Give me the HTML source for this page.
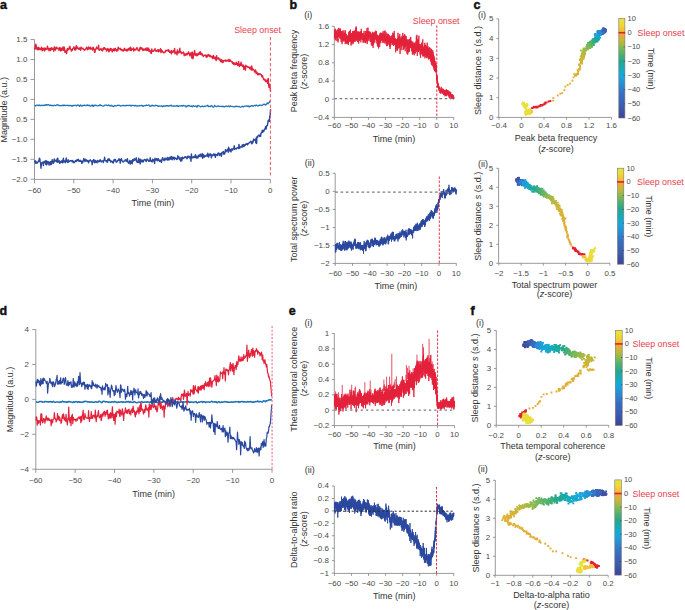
<!DOCTYPE html>
<html><head><meta charset="utf-8"><style>
html,body{margin:0;padding:0;background:#fff;}
svg{display:block;}
text{font-family:"Liberation Sans",sans-serif;}
</style></head><body>
<svg width="685" height="610" viewBox="0 0 685 610">
<rect width="685" height="610" fill="#fff"/>
<text x="0" y="9.2" font-size="12.5" fill="#111" font-weight="bold" stroke="#111" stroke-width="0.45">a</text>
<path d="M34.5 39.5V179.4" stroke="#808080" stroke-width="0.8" fill="none"/>
<path d="M30.5 39.55H34.5M30.5 59.5H34.5M30.5 79.45H34.5M30.5 99.4H34.5M30.5 119.35H34.5M30.5 139.3H34.5M30.5 159.25H34.5M30.5 179.2H34.5" stroke="#808080" stroke-width="0.8" fill="none"/>
<text x="27.4" y="41.95" font-size="7.5" fill="#4a4a4a" text-anchor="end" textLength="11.05" lengthAdjust="spacingAndGlyphs">1.5</text>
<text x="27.4" y="61.9" font-size="7.5" fill="#4a4a4a" text-anchor="end" textLength="11.05" lengthAdjust="spacingAndGlyphs">1.0</text>
<text x="27.4" y="81.85" font-size="7.5" fill="#4a4a4a" text-anchor="end" textLength="11.05" lengthAdjust="spacingAndGlyphs">0.5</text>
<text x="27.4" y="101.8" font-size="7.5" fill="#4a4a4a" text-anchor="end" textLength="4.42" lengthAdjust="spacingAndGlyphs">0</text>
<text x="27.4" y="121.75" font-size="7.5" fill="#4a4a4a" text-anchor="end" textLength="11.05" lengthAdjust="spacingAndGlyphs">0.5</text>
<text x="27.4" y="141.7" font-size="7.5" fill="#4a4a4a" text-anchor="end" textLength="15.69" lengthAdjust="spacingAndGlyphs">−1.0</text>
<text x="27.4" y="161.65" font-size="7.5" fill="#4a4a4a" text-anchor="end" textLength="15.69" lengthAdjust="spacingAndGlyphs">−1.5</text>
<text x="27.4" y="181.6" font-size="7.5" fill="#4a4a4a" text-anchor="end" textLength="15.69" lengthAdjust="spacingAndGlyphs">−2.0</text>
<path d="M34.5 179.4H270.6" stroke="#808080" stroke-width="0.8" fill="none"/>
<path d="M34.5 179.4V183.4M73.8 179.4V183.4M113.1 179.4V183.4M152.4 179.4V183.4M191.7 179.4V183.4M231 179.4V183.4M270.3 179.4V183.4" stroke="#808080" stroke-width="0.8" fill="none"/>
<text x="34.5" y="192.7" font-size="7.5" fill="#4a4a4a" text-anchor="middle" textLength="13.49" lengthAdjust="spacingAndGlyphs">−60</text>
<text x="73.8" y="192.7" font-size="7.5" fill="#4a4a4a" text-anchor="middle" textLength="13.49" lengthAdjust="spacingAndGlyphs">−50</text>
<text x="113.1" y="192.7" font-size="7.5" fill="#4a4a4a" text-anchor="middle" textLength="13.49" lengthAdjust="spacingAndGlyphs">−40</text>
<text x="152.4" y="192.7" font-size="7.5" fill="#4a4a4a" text-anchor="middle" textLength="13.49" lengthAdjust="spacingAndGlyphs">−30</text>
<text x="191.7" y="192.7" font-size="7.5" fill="#4a4a4a" text-anchor="middle" textLength="13.49" lengthAdjust="spacingAndGlyphs">−20</text>
<text x="231" y="192.7" font-size="7.5" fill="#4a4a4a" text-anchor="middle" textLength="13.49" lengthAdjust="spacingAndGlyphs">−10</text>
<text x="270.3" y="192.7" font-size="7.5" fill="#4a4a4a" text-anchor="middle" textLength="4.42" lengthAdjust="spacingAndGlyphs">0</text>
<text transform="translate(7.3,109.8) rotate(-90)" font-size="9" fill="#333" text-anchor="middle">Magnitude (a.u.)</text>
<text x="152.9" y="205.6" font-size="9" fill="#333" text-anchor="middle">Time (min)</text>
<path d="M34.60 105.3 35.10 105.6 35.60 105.9 36.10 105.5 36.60 105.1 37.10 105.1 37.60 105.3 38.10 105.4 38.60 105.5 39.10 105.0 39.60 105.2 40.10 105.7 40.60 105.5 41.10 105.5 41.60 105.2 42.10 105.3 42.60 105.6 43.10 105.5 43.60 105.2 44.10 105.5 44.60 105.3 45.10 104.7 45.60 105.1 46.10 105.3 46.60 104.7 47.10 104.7 47.60 105.0 48.10 104.9 48.60 104.7 49.10 105.0 49.60 105.6 50.10 105.5 50.60 105.1 51.10 105.3 51.60 105.6 52.10 105.5 52.60 105.4 53.10 105.8 53.60 105.6 54.10 105.1 54.60 105.3 55.10 105.5 55.60 105.7 56.10 105.3 56.60 104.9 57.10 105.0 57.60 104.7 58.10 105.0 58.60 105.5 59.10 105.3 59.60 105.5 60.10 105.9 60.60 105.7 61.10 105.6 61.60 105.7 62.10 105.3 62.60 105.2 63.10 105.7 63.60 105.1 64.10 105.1 64.60 105.4 65.10 105.5 65.60 105.5 66.10 105.3 66.60 105.5 67.10 105.3 67.60 105.3 68.10 105.5 68.60 105.5 69.10 105.4 69.60 105.6 70.10 105.8 70.60 105.5 71.10 105.5 71.60 105.9 72.10 106.2 72.60 105.5 73.10 105.3 73.60 105.8 74.10 105.5 74.60 105.2 75.10 105.5 75.60 105.4 76.10 105.3 76.60 105.9 77.10 105.4 77.60 105.0 78.10 105.1 78.60 105.2 79.10 105.9 79.60 106.3 80.10 105.5 80.60 104.9 81.10 105.5 81.60 106.0 82.10 106.0 82.60 105.4 83.10 105.4 83.60 105.5 84.10 105.4 84.60 105.2 85.10 105.4 85.60 105.6 86.10 105.5 86.60 105.4 87.10 105.1 87.60 105.0 88.10 105.7 88.60 105.7 89.10 105.1 89.60 105.5 90.10 106.0 90.60 106.1 91.10 106.0 91.60 105.4 92.10 105.0 92.60 105.5 93.10 106.5 93.60 105.9 94.10 105.1 94.60 105.5 95.10 105.5 95.60 105.2 96.10 105.4 96.60 105.5 97.10 105.8 97.60 105.8 98.10 105.8 98.60 105.6 99.10 105.5 99.60 105.1 100.10 104.6 100.60 105.4 101.10 105.6 101.60 105.5 102.10 105.8 102.60 106.0 103.10 106.1 103.60 106.0 104.10 105.8 104.60 105.3 105.10 105.2 105.60 105.2 106.10 105.1 106.60 105.1 107.10 105.4 107.60 105.6 108.10 105.5 108.60 105.0 109.10 105.1 109.60 105.6 110.10 105.9 110.60 106.0 111.10 105.5 111.60 105.2 112.10 105.9 112.60 106.3 113.10 106.2 113.60 106.6 114.10 105.9 114.60 105.5 115.10 105.8 115.60 105.8 116.10 105.9 116.60 105.8 117.10 105.7 117.60 105.3 118.10 105.2 118.60 105.4 119.10 105.4 119.60 105.5 120.10 105.6 120.60 106.0 121.10 105.9 121.60 105.8 122.10 105.7 122.60 105.5 123.10 105.5 123.60 105.4 124.10 105.6 124.60 105.7 125.10 105.8 125.60 105.4 126.10 105.5 126.60 105.6 127.10 105.3 127.60 105.4 128.10 105.4 128.60 105.6 129.10 105.6 129.60 105.2 130.10 105.2 130.60 105.7 131.10 106.0 131.60 105.4 132.10 105.4 132.60 105.3 133.10 105.7 133.60 105.7 134.10 105.4 134.60 105.9 135.10 105.4 135.60 105.4 136.10 106.0 136.60 106.0 137.10 105.8 137.60 106.0 138.10 105.9 138.60 105.8 139.10 105.7 139.60 105.8 140.10 105.6 140.60 105.6 141.10 105.7 141.60 105.3 142.10 105.5 142.60 106.2 143.10 106.3 143.60 105.8 144.10 105.7 144.60 105.7 145.10 105.5 145.60 105.7 146.10 105.1 146.60 105.2 147.10 105.5 147.60 105.3 148.10 105.2 148.60 105.0 149.10 105.1 149.60 105.7 150.10 106.3 150.60 106.1 151.10 106.0 151.60 105.9 152.10 105.2 152.60 105.3 153.10 105.9 153.60 105.7 154.10 105.7 154.60 106.0 155.10 105.7 155.60 105.2 156.10 105.3 156.60 105.6 157.10 105.6 157.60 105.9 158.10 106.4 158.60 106.1 159.10 105.8 159.60 106.2 160.10 106.2 160.60 106.2 161.10 106.0 161.60 105.9 162.10 106.5 162.60 106.5 163.10 105.9 163.60 105.8 164.10 106.3 164.60 106.2 165.10 105.8 165.60 106.1 166.10 105.9 166.60 105.7 167.10 106.0 167.60 105.6 168.10 105.9 168.60 106.2 169.10 105.7 169.60 105.7 170.10 105.9 170.60 105.3 171.10 105.2 171.60 105.8 172.10 106.1 172.60 106.1 173.10 106.0 173.60 106.0 174.10 106.0 174.60 106.1 175.10 106.2 175.60 106.0 176.10 106.1 176.60 105.8 177.10 105.5 177.60 106.1 178.10 106.4 178.60 106.0 179.10 106.0 179.60 105.9 180.10 105.9 180.60 105.9 181.10 105.9 181.60 105.6 182.10 105.9 182.60 106.2 183.10 105.5 183.60 105.5 184.10 105.8 184.60 105.9 185.10 105.8 185.60 105.8 186.10 107.0 186.60 106.6 187.10 105.8 187.60 106.0 188.10 106.0 188.60 105.6 189.10 105.3 189.60 105.9 190.10 106.1 190.60 106.4 191.10 106.3 191.60 105.9 192.10 106.8 192.60 106.6 193.10 105.7 193.60 105.8 194.10 106.1 194.60 106.3 195.10 106.3 195.60 105.9 196.10 106.0 196.60 106.8 197.10 107.1 197.60 105.7 198.10 105.4 198.60 105.9 199.10 106.1 199.60 106.2 200.10 106.6 200.60 106.8 201.10 106.6 201.60 106.4 202.10 106.2 202.60 106.2 203.10 106.6 203.60 106.6 204.10 106.2 204.60 106.4 205.10 106.5 205.60 106.2 206.10 106.0 206.60 105.8 207.10 105.9 207.60 105.3 208.10 105.8 208.60 106.6 209.10 106.3 209.60 106.4 210.10 106.6 210.60 106.4 211.10 105.7 211.60 105.6 212.10 106.3 212.60 106.8 213.10 107.1 213.60 107.1 214.10 106.3 214.60 105.4 215.10 105.9 215.60 106.4 216.10 106.5 216.60 106.5 217.10 106.3 217.60 106.0 218.10 106.0 218.60 106.3 219.10 106.3 219.60 106.5 220.10 106.4 220.60 106.4 221.10 106.4 221.60 106.5 222.10 106.6 222.60 106.3 223.10 106.1 223.60 106.6 224.10 106.8 224.60 106.6 225.10 106.7 225.60 106.3 226.10 106.0 226.60 106.2 227.10 106.5 227.60 106.6 228.10 106.2 228.60 105.9 229.10 106.2 229.60 106.8 230.10 106.2 230.60 106.0 231.10 106.4 231.60 106.4 232.10 106.4 232.60 106.4 233.10 106.9 233.60 106.9 234.10 106.7 234.60 106.7 235.10 106.4 235.60 106.4 236.10 106.6 236.60 106.2 237.10 106.3 237.60 106.4 238.10 106.6 238.60 106.7 239.10 106.4 239.60 106.8 240.10 107.1 240.60 107.1 241.10 107.0 241.60 106.7 242.10 106.4 242.60 106.4 243.10 106.7 243.60 106.8 244.10 106.2 244.60 106.2 245.10 106.2 245.60 106.2 246.10 106.2 246.60 105.9 247.10 106.1 247.60 106.4 248.10 105.9 248.60 106.1 249.10 107.0 249.60 106.4 250.10 106.2 250.60 106.4 251.10 105.8 251.60 105.9 252.10 105.6 252.60 105.9 253.10 106.3 253.60 105.8 254.10 105.6 254.60 105.3 255.10 105.3 255.60 105.8 256.10 105.4 256.60 105.1 257.10 105.5 257.60 105.8 258.10 106.1 258.60 105.6 259.10 105.1 259.60 105.3 260.10 105.3 260.60 105.0 261.10 105.3 261.60 105.7 262.10 105.4 262.60 104.9 263.10 104.9 263.60 104.4 264.10 104.1 264.60 104.3 265.10 104.8 265.60 105.1 266.10 104.5 266.60 104.0 267.10 103.0 267.60 103.0 268.10 103.8 268.60 103.1 269.10 102.5 269.60 102.0 270.10 100.5" stroke="#1f74b8" stroke-width="1.3" fill="none" stroke-linejoin="round"/>
<path d="M34.60 47.7 35.00 49.2 35.40 45.0 35.80 44.2 36.20 46.2 36.60 49.0 37.00 47.9 37.40 48.2 37.80 49.9 38.20 47.2 38.60 49.5 39.00 47.7 39.40 48.6 39.80 49.2 40.20 49.7 40.60 48.6 41.00 49.3 41.40 47.1 41.80 48.2 42.20 50.9 42.60 49.4 43.00 48.3 43.40 49.2 43.80 49.9 44.20 48.0 44.60 51.0 45.00 48.5 45.40 48.2 45.80 49.5 46.20 49.4 46.60 49.2 47.00 48.8 47.40 46.1 47.80 48.3 48.20 49.5 48.60 48.4 49.00 50.7 49.40 48.4 49.80 49.5 50.20 48.1 50.60 50.6 51.00 48.8 51.40 49.5 51.80 47.7 52.20 48.4 52.60 49.4 53.00 49.0 53.40 48.9 53.80 51.2 54.20 47.2 54.60 46.9 55.00 48.2 55.40 50.2 55.80 48.6 56.20 47.9 56.60 47.2 57.00 48.6 57.40 48.5 57.80 48.3 58.20 48.6 58.60 48.2 59.00 50.3 59.40 48.5 59.80 47.4 60.20 48.4 60.60 50.8 61.00 48.3 61.40 48.6 61.80 50.4 62.20 48.2 62.60 49.6 63.00 47.0 63.40 50.3 63.80 47.7 64.20 47.1 64.60 48.8 65.00 52.4 65.40 51.9 65.80 50.9 66.20 52.0 66.60 53.6 67.00 50.2 67.40 48.4 67.80 50.2 68.20 48.9 68.60 48.8 69.00 49.2 69.40 46.9 69.80 46.3 70.20 48.4 70.60 49.0 71.00 49.5 71.40 51.1 71.80 49.8 72.20 50.5 72.60 48.6 73.00 48.6 73.40 48.4 73.80 47.0 74.20 47.2 74.60 49.8 75.00 48.5 75.40 50.1 75.80 49.3 76.20 45.6 76.60 48.9 77.00 48.5 77.40 47.0 77.80 48.2 78.20 48.5 78.60 48.8 79.00 49.5 79.40 47.9 79.80 48.5 80.20 48.6 80.60 50.2 81.00 47.2 81.40 47.4 81.80 48.5 82.20 48.8 82.60 48.7 83.00 48.3 83.40 49.3 83.80 49.3 84.20 49.9 84.60 50.2 85.00 49.9 85.40 49.4 85.80 48.6 86.20 48.5 86.60 47.2 87.00 47.9 87.40 49.7 87.80 49.7 88.20 48.7 88.60 47.0 89.00 47.3 89.40 48.8 89.80 48.6 90.20 49.2 90.60 47.3 91.00 48.1 91.40 49.1 91.80 48.8 92.20 48.7 92.60 50.0 93.00 47.2 93.40 47.6 93.80 48.9 94.20 49.5 94.60 52.4 95.00 52.1 95.40 49.1 95.80 49.1 96.20 48.5 96.60 47.0 97.00 48.7 97.40 48.3 97.80 48.5 98.20 47.7 98.60 45.3 99.00 50.2 99.40 50.0 99.80 50.2 100.20 49.1 100.60 49.3 101.00 48.5 101.40 49.7 101.80 50.5 102.20 50.1 102.60 50.9 103.00 48.4 103.40 49.3 103.80 47.6 104.20 48.7 104.60 47.6 105.00 49.2 105.40 49.0 105.80 48.7 106.20 49.4 106.60 51.0 107.00 50.4 107.40 49.7 107.80 48.4 108.20 49.3 108.60 50.8 109.00 51.9 109.40 49.1 109.80 50.6 110.20 50.5 110.60 48.4 111.00 48.6 111.40 49.8 111.80 49.3 112.20 52.0 112.60 49.7 113.00 50.3 113.40 49.8 113.80 48.6 114.20 51.0 114.60 50.1 115.00 49.3 115.40 48.3 115.80 50.0 116.20 50.6 116.60 50.0 117.00 51.2 117.40 49.3 117.80 50.6 118.20 47.1 118.60 48.7 119.00 48.3 119.40 49.0 119.80 48.5 120.20 48.3 120.60 49.8 121.00 49.4 121.40 49.7 121.80 49.4 122.20 50.7 122.60 50.0 123.00 50.5 123.40 51.1 123.80 49.5 124.20 49.0 124.60 48.3 125.00 50.2 125.40 49.7 125.80 50.5 126.20 49.4 126.60 49.9 127.00 51.0 127.40 49.2 127.80 50.7 128.20 49.7 128.60 48.6 129.00 49.0 129.40 47.9 129.80 50.1 130.20 50.2 130.60 47.2 131.00 49.3 131.40 50.6 131.80 49.0 132.20 49.3 132.60 49.5 133.00 48.8 133.40 48.0 133.80 51.0 134.20 50.0 134.60 49.3 135.00 49.1 135.40 50.1 135.80 50.1 136.20 49.0 136.60 48.7 137.00 47.5 137.40 48.6 137.80 49.2 138.20 50.6 138.60 50.7 139.00 50.5 139.40 50.8 139.80 47.9 140.20 48.7 140.60 47.3 141.00 49.0 141.40 47.9 141.80 48.0 142.20 48.6 142.60 49.9 143.00 50.5 143.40 49.0 143.80 50.1 144.20 49.3 144.60 49.8 145.00 50.1 145.40 48.4 145.80 49.8 146.20 49.9 146.60 50.5 147.00 47.7 147.40 50.4 147.80 49.9 148.20 50.0 148.60 48.1 149.00 51.3 149.40 49.8 149.80 50.8 150.20 51.3 150.60 52.8 151.00 51.0 151.40 53.4 151.80 49.0 152.20 50.7 152.60 51.3 153.00 51.3 153.40 51.2 153.80 50.7 154.20 50.0 154.60 50.3 155.00 48.6 155.40 50.6 155.80 51.1 156.20 50.7 156.60 51.4 157.00 51.4 157.40 49.9 157.80 50.7 158.20 49.7 158.60 51.8 159.00 50.0 159.40 50.6 159.80 51.0 160.20 51.0 160.60 48.7 161.00 52.6 161.40 50.0 161.80 51.3 162.20 50.8 162.60 52.0 163.00 51.9 163.40 52.2 163.80 52.8 164.20 52.8 164.60 52.3 165.00 52.2 165.40 51.2 165.80 50.3 166.20 50.8 166.60 50.4 167.00 50.8 167.40 50.6 167.80 50.6 168.20 49.6 168.60 51.3 169.00 50.2 169.40 51.8 169.80 52.4 170.20 52.4 170.60 51.3 171.00 52.0 171.40 53.8 171.80 50.4 172.20 52.4 172.60 52.0 173.00 52.2 173.40 51.6 173.80 50.4 174.20 51.9 174.60 48.5 175.00 53.7 175.40 53.3 175.80 52.1 176.20 52.3 176.60 52.4 177.00 54.9 177.40 50.0 177.80 51.7 178.20 52.2 178.60 53.0 179.00 52.3 179.40 51.3 179.80 48.3 180.20 52.2 180.60 52.3 181.00 51.8 181.40 53.6 181.80 53.4 182.20 53.1 182.60 52.7 183.00 52.8 183.40 52.0 183.80 52.9 184.20 55.7 184.60 54.4 185.00 53.9 185.40 54.2 185.80 55.2 186.20 54.4 186.60 53.5 187.00 54.9 187.40 54.2 187.80 53.6 188.20 52.7 188.60 51.8 189.00 53.8 189.40 53.7 189.80 55.8 190.20 53.3 190.60 54.8 191.00 52.9 191.40 55.6 191.80 58.0 192.20 52.0 192.60 53.6 193.00 58.7 193.40 56.5 193.80 54.7 194.20 53.3 194.60 50.5 195.00 53.1 195.40 55.3 195.80 54.2 196.20 53.7 196.60 55.0 197.00 55.9 197.40 53.9 197.80 55.3 198.20 53.8 198.60 54.3 199.00 52.7 199.40 53.4 199.80 54.3 200.20 51.7 200.60 54.4 201.00 53.3 201.40 54.8 201.80 53.3 202.20 54.2 202.60 55.1 203.00 56.1 203.40 56.4 203.80 55.5 204.20 55.2 204.60 55.3 205.00 55.6 205.40 55.5 205.80 55.1 206.20 57.2 206.60 56.3 207.00 57.1 207.40 55.2 207.80 56.2 208.20 54.5 208.60 55.1 209.00 55.8 209.40 55.2 209.80 56.5 210.20 55.5 210.60 56.8 211.00 56.8 211.40 56.8 211.80 56.2 212.20 57.5 212.60 58.5 213.00 58.4 213.40 55.5 213.80 58.1 214.20 57.8 214.60 58.4 215.00 57.0 215.40 59.3 215.80 58.6 216.20 60.5 216.60 55.6 217.00 58.0 217.40 58.1 217.80 59.1 218.20 58.9 218.60 57.7 219.00 58.5 219.40 59.9 219.80 59.5 220.20 59.3 220.60 61.6 221.00 60.8 221.40 59.6 221.80 60.5 222.20 62.6 222.60 60.4 223.00 62.3 223.40 61.9 223.80 60.8 224.20 60.4 224.60 60.5 225.00 60.6 225.40 61.0 225.80 60.0 226.20 60.8 226.60 61.0 227.00 60.5 227.40 60.7 227.80 60.3 228.20 61.2 228.60 61.0 229.00 59.1 229.40 61.5 229.80 60.8 230.20 60.1 230.60 60.6 231.00 61.4 231.40 61.8 231.80 61.7 232.20 61.8 232.60 63.4 233.00 62.6 233.40 64.2 233.80 62.7 234.20 64.1 234.60 63.5 235.00 64.9 235.40 64.1 235.80 64.1 236.20 62.2 236.60 64.3 237.00 63.7 237.40 64.9 237.80 65.4 238.20 63.2 238.60 61.4 239.00 64.9 239.40 66.5 239.80 65.5 240.20 64.1 240.60 65.4 241.00 62.3 241.40 63.4 241.80 65.6 242.20 65.5 242.60 66.4 243.00 65.0 243.40 65.6 243.80 69.4 244.20 66.2 244.60 66.6 245.00 66.7 245.40 70.1 245.80 65.3 246.20 66.6 246.60 66.3 247.00 66.6 247.40 66.4 247.80 67.1 248.20 67.4 248.60 66.9 249.00 67.1 249.40 67.7 249.80 68.9 250.20 68.0 250.60 67.3 251.00 69.5 251.40 66.6 251.80 66.0 252.20 70.4 252.60 69.2 253.00 68.9 253.40 69.7 253.80 69.9 254.20 70.3 254.60 72.0 255.00 70.7 255.40 70.1 255.80 70.6 256.20 73.6 256.60 72.1 257.00 72.4 257.40 73.5 257.80 74.8 258.20 73.5 258.60 74.7 259.00 73.6 259.40 73.9 259.80 74.4 260.20 73.9 260.60 74.6 261.00 74.6 261.40 74.9 261.80 76.5 262.20 76.9 262.60 75.8 263.00 77.4 263.40 78.6 263.80 79.7 264.20 79.3 264.60 80.1 265.00 79.3 265.40 81.0 265.80 81.6 266.20 81.2 266.60 81.2 267.00 79.9 267.40 82.9 267.80 83.3 268.20 78.4 268.60 84.4 269.00 87.3 269.40 84.3 269.80 87.0 270.20 88.0 270.60 91.7" stroke="#e3213b" stroke-width="1.4" fill="none" stroke-linejoin="round"/>
<path d="M34.60 162.0 35.00 160.6 35.40 163.2 35.80 161.2 36.20 162.0 36.60 163.2 37.00 162.6 37.40 162.9 37.80 162.1 38.20 161.7 38.60 160.7 39.00 161.2 39.40 158.1 39.80 158.7 40.20 161.9 40.60 163.4 41.00 168.2 41.40 164.1 41.80 163.0 42.20 162.6 42.60 162.2 43.00 162.4 43.40 165.5 43.80 161.7 44.20 161.8 44.60 162.4 45.00 161.1 45.40 160.9 45.80 164.4 46.20 160.6 46.60 164.7 47.00 164.2 47.40 161.4 47.80 163.0 48.20 162.0 48.60 161.8 49.00 165.0 49.40 163.2 49.80 162.7 50.20 161.8 50.60 164.7 51.00 161.7 51.40 164.4 51.80 162.2 52.20 159.6 52.60 162.4 53.00 163.0 53.40 163.3 53.80 161.9 54.20 158.9 54.60 161.8 55.00 160.5 55.40 160.2 55.80 160.6 56.20 160.6 56.60 161.8 57.00 159.0 57.40 162.2 57.80 158.1 58.20 162.0 58.60 161.3 59.00 161.9 59.40 160.8 59.80 163.3 60.20 161.5 60.60 162.5 61.00 162.3 61.40 161.6 61.80 160.7 62.20 160.8 62.60 162.9 63.00 160.1 63.40 158.3 63.80 162.1 64.20 161.8 64.60 161.1 65.00 160.8 65.40 162.7 65.80 160.5 66.20 158.0 66.60 161.5 67.00 161.6 67.40 161.4 67.80 162.6 68.20 159.6 68.60 162.0 69.00 160.8 69.40 161.4 69.80 161.0 70.20 160.8 70.60 160.8 71.00 160.5 71.40 160.8 71.80 161.1 72.20 162.0 72.60 160.4 73.00 161.2 73.40 161.6 73.80 162.8 74.20 162.6 74.60 162.2 75.00 161.6 75.40 160.4 75.80 161.0 76.20 161.4 76.60 161.0 77.00 159.8 77.40 160.6 77.80 159.8 78.20 159.3 78.60 159.7 79.00 161.3 79.40 160.7 79.80 161.3 80.20 161.2 80.60 160.3 81.00 161.4 81.40 161.5 81.80 163.3 82.20 161.1 82.60 162.8 83.00 161.2 83.40 160.7 83.80 158.4 84.20 160.9 84.60 160.3 85.00 161.5 85.40 159.3 85.80 160.5 86.20 159.9 86.60 160.5 87.00 161.5 87.40 160.7 87.80 160.4 88.20 160.7 88.60 162.8 89.00 161.1 89.40 160.9 89.80 160.5 90.20 159.7 90.60 160.7 91.00 161.1 91.40 160.9 91.80 161.8 92.20 164.6 92.60 160.9 93.00 160.5 93.40 161.7 93.80 159.4 94.20 161.7 94.60 162.8 95.00 162.6 95.40 160.4 95.80 161.5 96.20 162.2 96.60 161.6 97.00 162.8 97.40 160.4 97.80 161.1 98.20 161.2 98.60 161.9 99.00 161.0 99.40 160.6 99.80 161.6 100.20 159.8 100.60 160.7 101.00 161.0 101.40 161.9 101.80 161.0 102.20 161.0 102.60 161.0 103.00 160.8 103.40 162.5 103.80 160.1 104.20 160.1 104.60 157.3 105.00 159.7 105.40 160.6 105.80 160.8 106.20 161.4 106.60 160.7 107.00 161.8 107.40 162.3 107.80 159.2 108.20 159.8 108.60 160.5 109.00 158.6 109.40 159.4 109.80 160.5 110.20 160.3 110.60 162.1 111.00 161.0 111.40 161.7 111.80 161.1 112.20 161.3 112.60 162.5 113.00 161.7 113.40 163.0 113.80 160.7 114.20 159.5 114.60 160.7 115.00 159.4 115.40 159.5 115.80 161.3 116.20 162.1 116.60 161.4 117.00 162.0 117.40 161.0 117.80 160.3 118.20 160.5 118.60 160.2 119.00 158.7 119.40 160.2 119.80 159.6 120.20 163.2 120.60 160.6 121.00 159.7 121.40 158.6 121.80 160.4 122.20 160.9 122.60 161.6 123.00 161.8 123.40 161.9 123.80 161.2 124.20 161.3 124.60 161.0 125.00 160.2 125.40 159.8 125.80 160.3 126.20 161.1 126.60 159.9 127.00 161.5 127.40 158.8 127.80 161.0 128.20 162.6 128.60 163.2 129.00 162.8 129.40 162.0 129.80 160.5 130.20 164.1 130.60 161.3 131.00 162.7 131.40 163.0 131.80 160.7 132.20 163.7 132.60 159.7 133.00 161.4 133.40 160.3 133.80 159.1 134.20 160.1 134.60 158.8 135.00 160.2 135.40 159.8 135.80 159.9 136.20 157.8 136.60 161.8 137.00 161.9 137.40 162.4 137.80 161.0 138.20 162.3 138.60 158.1 139.00 162.5 139.40 161.8 139.80 159.7 140.20 163.9 140.60 159.3 141.00 161.4 141.40 160.2 141.80 161.3 142.20 162.1 142.60 160.1 143.00 160.7 143.40 161.9 143.80 160.4 144.20 159.7 144.60 159.4 145.00 159.8 145.40 159.7 145.80 160.6 146.20 161.5 146.60 160.6 147.00 158.9 147.40 159.6 147.80 159.7 148.20 160.1 148.60 161.1 149.00 161.4 149.40 161.3 149.80 160.5 150.20 157.8 150.60 160.9 151.00 161.2 151.40 161.3 151.80 160.8 152.20 162.0 152.60 159.1 153.00 160.8 153.40 160.5 153.80 161.2 154.20 159.5 154.60 163.5 155.00 158.3 155.40 159.4 155.80 160.1 156.20 160.0 156.60 158.6 157.00 158.7 157.40 160.8 157.80 159.3 158.20 159.9 158.60 158.8 159.00 160.4 159.40 161.2 159.80 161.5 160.20 160.2 160.60 160.1 161.00 160.4 161.40 162.3 161.80 160.4 162.20 158.8 162.60 157.6 163.00 159.1 163.40 159.9 163.80 159.6 164.20 160.7 164.60 158.9 165.00 157.9 165.40 159.2 165.80 159.9 166.20 159.0 166.60 159.6 167.00 159.4 167.40 157.4 167.80 160.1 168.20 157.6 168.60 159.7 169.00 159.8 169.40 159.7 169.80 157.5 170.20 157.0 170.60 158.9 171.00 159.2 171.40 156.8 171.80 156.5 172.20 159.7 172.60 157.8 173.00 158.3 173.40 157.2 173.80 157.7 174.20 159.7 174.60 157.5 175.00 157.8 175.40 158.0 175.80 158.7 176.20 158.4 176.60 159.5 177.00 158.4 177.40 159.1 177.80 155.8 178.20 157.7 178.60 156.7 179.00 157.0 179.40 159.2 179.80 158.9 180.20 159.7 180.60 161.1 181.00 157.4 181.40 158.9 181.80 160.9 182.20 158.2 182.60 157.1 183.00 158.5 183.40 158.3 183.80 158.2 184.20 157.8 184.60 157.4 185.00 156.7 185.40 157.2 185.80 157.6 186.20 157.0 186.60 157.5 187.00 158.9 187.40 157.4 187.80 156.2 188.20 157.3 188.60 156.3 189.00 156.7 189.40 157.1 189.80 156.6 190.20 158.5 190.60 158.1 191.00 161.2 191.40 153.9 191.80 157.6 192.20 157.0 192.60 157.1 193.00 157.9 193.40 156.8 193.80 157.3 194.20 156.5 194.60 157.6 195.00 156.8 195.40 154.6 195.80 156.7 196.20 157.8 196.60 158.1 197.00 156.2 197.40 157.5 197.80 158.1 198.20 156.9 198.60 155.2 199.00 155.4 199.40 156.3 199.80 155.1 200.20 154.2 200.60 154.9 201.00 156.7 201.40 155.6 201.80 155.2 202.20 153.5 202.60 158.3 203.00 154.7 203.40 155.1 203.80 154.7 204.20 157.3 204.60 156.2 205.00 156.3 205.40 155.8 205.80 156.3 206.20 155.7 206.60 155.7 207.00 154.6 207.40 156.0 207.80 153.2 208.20 156.6 208.60 157.1 209.00 155.8 209.40 154.5 209.80 154.3 210.20 153.8 210.60 155.3 211.00 154.5 211.40 157.9 211.80 155.1 212.20 155.0 212.60 155.2 213.00 155.6 213.40 154.6 213.80 153.8 214.20 154.3 214.60 155.5 215.00 155.0 215.40 157.3 215.80 154.3 216.20 155.0 216.60 154.8 217.00 154.7 217.40 155.5 217.80 153.7 218.20 152.9 218.60 153.1 219.00 153.4 219.40 155.6 219.80 154.4 220.20 153.8 220.60 154.5 221.00 153.1 221.40 156.4 221.80 154.7 222.20 152.1 222.60 152.5 223.00 152.2 223.40 151.6 223.80 154.2 224.20 152.6 224.60 154.1 225.00 152.7 225.40 149.8 225.80 150.9 226.20 151.6 226.60 150.6 227.00 150.4 227.40 149.2 227.80 150.4 228.20 152.2 228.60 147.3 229.00 151.0 229.40 149.7 229.80 149.0 230.20 150.9 230.60 151.2 231.00 151.9 231.40 149.2 231.80 148.9 232.20 149.2 232.60 150.2 233.00 148.8 233.40 148.7 233.80 148.5 234.20 145.8 234.60 149.4 235.00 148.4 235.40 148.4 235.80 148.6 236.20 149.0 236.60 148.5 237.00 147.8 237.40 147.7 237.80 147.6 238.20 147.8 238.60 148.6 239.00 144.4 239.40 147.9 239.80 148.2 240.20 147.0 240.60 146.7 241.00 147.1 241.40 147.1 241.80 147.1 242.20 144.9 242.60 146.7 243.00 145.5 243.40 144.5 243.80 146.5 244.20 144.9 244.60 145.8 245.00 144.7 245.40 145.1 245.80 143.9 246.20 144.1 246.60 144.3 247.00 143.5 247.40 144.9 247.80 144.0 248.20 143.6 248.60 143.8 249.00 142.6 249.40 142.6 249.80 142.3 250.20 141.9 250.60 141.3 251.00 142.2 251.40 142.9 251.80 143.9 252.20 141.3 252.60 143.0 253.00 142.2 253.40 140.5 253.80 138.9 254.20 140.0 254.60 139.8 255.00 140.4 255.40 139.4 255.80 142.8 256.20 137.8 256.60 143.5 257.00 136.6 257.40 136.9 257.80 137.0 258.20 135.5 258.60 135.2 259.00 135.1 259.40 135.4 259.80 136.6 260.20 135.0 260.60 136.4 261.00 132.9 261.40 132.9 261.80 132.8 262.20 130.3 262.60 132.2 263.00 131.9 263.40 130.5 263.80 131.4 264.20 129.9 264.60 128.9 265.00 129.3 265.40 127.4 265.80 126.6 266.20 128.8 266.60 125.8 267.00 125.7 267.40 125.4 267.80 123.1 268.20 120.7 268.60 120.0 269.00 120.4 269.40 121.4 269.80 116.3 270.20 114.6 270.60 109.2" stroke="#2b489f" stroke-width="1.4" fill="none" stroke-linejoin="round"/>
<path d="M270.4 37V176.5" stroke="#ee4a5a" stroke-width="0.95" stroke-dasharray="3.2 2" fill="none"/>
<text x="234.2" y="33.4" font-size="9" fill="#e8404e" textLength="46.8" lengthAdjust="spacingAndGlyphs">Sleep onset</text>
<text x="289.5" y="8.7" font-size="12.5" fill="#111" font-weight="bold" stroke="#111" stroke-width="0.45">b</text>
<text x="304.2" y="18.3" font-size="9" fill="#333">(i)</text>
<path d="M334.3 26.3V117.4" stroke="#808080" stroke-width="0.8" fill="none"/>
<path d="M331.8 26.4H334.3M331.8 44.6H334.3M331.8 62.8H334.3M331.8 81H334.3M331.8 99.2H334.3M331.8 117.4H334.3" stroke="#808080" stroke-width="0.8" fill="none"/>
<text x="329.2" y="28.8" font-size="7.5" fill="#4a4a4a" text-anchor="end" textLength="11.05" lengthAdjust="spacingAndGlyphs">1.6</text>
<text x="329.2" y="47" font-size="7.5" fill="#4a4a4a" text-anchor="end" textLength="11.05" lengthAdjust="spacingAndGlyphs">1.2</text>
<text x="329.2" y="65.2" font-size="7.5" fill="#4a4a4a" text-anchor="end" textLength="11.05" lengthAdjust="spacingAndGlyphs">0.8</text>
<text x="329.2" y="83.4" font-size="7.5" fill="#4a4a4a" text-anchor="end" textLength="11.05" lengthAdjust="spacingAndGlyphs">0.4</text>
<text x="329.2" y="101.6" font-size="7.5" fill="#4a4a4a" text-anchor="end" textLength="4.42" lengthAdjust="spacingAndGlyphs">0</text>
<text x="329.2" y="119.8" font-size="7.5" fill="#4a4a4a" text-anchor="end" textLength="15.69" lengthAdjust="spacingAndGlyphs">−0.4</text>
<path d="M334.3 117.4H453.8" stroke="#808080" stroke-width="0.8" fill="none"/>
<path d="M334.34 117.4V119.9M351.4 117.4V119.9M368.46 117.4V119.9M385.52 117.4V119.9M402.58 117.4V119.9M419.64 117.4V119.9M436.7 117.4V119.9M453.76 117.4V119.9" stroke="#808080" stroke-width="0.8" fill="none"/>
<text x="334.34" y="127.5" font-size="7.5" fill="#4a4a4a" text-anchor="middle" textLength="13.49" lengthAdjust="spacingAndGlyphs">−60</text>
<text x="351.4" y="127.5" font-size="7.5" fill="#4a4a4a" text-anchor="middle" textLength="13.49" lengthAdjust="spacingAndGlyphs">−50</text>
<text x="368.46" y="127.5" font-size="7.5" fill="#4a4a4a" text-anchor="middle" textLength="13.49" lengthAdjust="spacingAndGlyphs">−40</text>
<text x="385.52" y="127.5" font-size="7.5" fill="#4a4a4a" text-anchor="middle" textLength="13.49" lengthAdjust="spacingAndGlyphs">−30</text>
<text x="402.58" y="127.5" font-size="7.5" fill="#4a4a4a" text-anchor="middle" textLength="13.49" lengthAdjust="spacingAndGlyphs">−20</text>
<text x="419.64" y="127.5" font-size="7.5" fill="#4a4a4a" text-anchor="middle" textLength="13.49" lengthAdjust="spacingAndGlyphs">−10</text>
<text x="436.7" y="127.5" font-size="7.5" fill="#4a4a4a" text-anchor="middle" textLength="4.42" lengthAdjust="spacingAndGlyphs">0</text>
<text x="453.76" y="127.5" font-size="7.5" fill="#4a4a4a" text-anchor="middle" textLength="8.84" lengthAdjust="spacingAndGlyphs">10</text>
<text transform="translate(296.7,71) rotate(-90)" font-size="9" fill="#333" text-anchor="middle">Peak beta frequency</text>
<text transform="translate(306.5,71.5) rotate(-90)" font-size="9" fill="#333" text-anchor="middle">(<tspan font-style="italic">z</tspan>-score)</text>
<text x="394" y="141.7" font-size="9" fill="#333" text-anchor="middle">Time (min)</text>
<path d="M334.50 33.0 334.56 36.4 334.62 35.6 334.68 35.7 334.74 38.6 334.80 30.0 334.86 32.0 334.92 29.9 334.98 33.8 335.04 37.4 335.10 34.3 335.16 36.0 335.22 28.6 335.28 35.1 335.34 31.9 335.40 40.3 335.46 37.7 335.52 37.9 335.58 34.9 335.64 37.0 335.70 37.2 335.76 34.1 335.82 33.7 335.88 34.9 335.94 33.5 336.00 33.5 336.06 34.5 336.12 33.2 336.18 37.8 336.24 30.5 336.30 38.0 336.36 33.5 336.42 33.7 336.48 31.2 336.54 34.9 336.60 34.5 336.66 35.8 336.72 33.6 336.78 35.5 336.84 40.8 336.90 36.4 336.96 33.4 337.02 38.1 337.08 34.8 337.14 37.1 337.20 37.2 337.26 34.1 337.32 29.4 337.38 34.4 337.44 37.3 337.50 34.4 337.56 37.0 337.62 38.7 337.68 34.0 337.74 39.5 337.80 40.7 337.86 39.0 337.92 39.2 337.98 39.0 338.04 42.4 338.10 35.9 338.16 35.2 338.22 36.9 338.28 32.0 338.34 29.8 338.40 31.7 338.46 35.4 338.52 35.6 338.58 29.2 338.64 27.9 338.70 32.6 338.76 32.9 338.82 33.2 338.88 35.3 338.94 37.0 339.00 33.8 339.06 35.0 339.12 29.7 339.18 29.5 339.24 33.9 339.30 35.3 339.36 35.6 339.42 35.3 339.48 36.1 339.54 36.3 339.60 28.6 339.66 31.9 339.72 35.8 339.78 36.4 339.84 30.0 339.90 38.5 339.96 33.6 340.02 34.4 340.08 36.0 340.14 37.6 340.20 30.9 340.26 38.4 340.32 35.6 340.38 33.0 340.44 34.5 340.50 28.6 340.56 33.3 340.62 35.9 340.68 33.1 340.74 34.3 340.80 34.9 340.86 35.5 340.92 38.6 340.98 35.4 341.04 34.7 341.10 37.2 341.16 42.1 341.22 34.7 341.28 37.4 341.34 31.0 341.40 40.1 341.46 38.1 341.52 40.2 341.58 36.0 341.64 32.9 341.70 38.9 341.76 38.5 341.82 33.5 341.88 31.6 341.94 37.6 342.00 35.6 342.06 44.2 342.12 34.2 342.18 34.4 342.24 35.7 342.30 30.9 342.36 33.2 342.42 41.1 342.48 35.6 342.54 34.1 342.60 32.1 342.66 37.8 342.72 38.1 342.78 37.0 342.84 35.1 342.90 37.3 342.96 37.7 343.02 34.5 343.08 38.6 343.14 30.3 343.20 33.0 343.26 36.2 343.32 36.9 343.38 33.7 343.44 38.5 343.50 40.8 343.56 39.1 343.62 38.4 343.68 40.3 343.74 39.0 343.80 34.3 343.86 37.2 343.92 41.7 343.98 34.2 344.04 37.8 344.10 36.4 344.16 34.7 344.22 34.3 344.28 37.7 344.34 38.3 344.40 38.2 344.46 32.7 344.52 36.3 344.58 38.2 344.64 40.1 344.70 39.2 344.76 39.7 344.82 40.5 344.88 39.7 344.94 34.7 345.00 37.5 345.06 35.1 345.12 30.1 345.18 32.3 345.24 44.1 345.30 34.3 345.36 30.9 345.42 36.2 345.48 42.8 345.54 38.1 345.60 39.6 345.66 37.6 345.72 38.3 345.78 42.6 345.84 41.2 345.90 38.6 345.96 41.7 346.02 42.3 346.08 38.3 346.14 39.9 346.20 39.9 346.26 37.1 346.32 42.7 346.38 38.6 346.44 37.2 346.50 33.9 346.56 35.2 346.62 43.8 346.68 35.5 346.74 40.3 346.80 37.8 346.86 40.4 346.92 40.6 346.98 36.3 347.04 37.7 347.10 38.9 347.16 38.9 347.22 38.4 347.28 37.4 347.34 40.3 347.40 42.4 347.46 39.9 347.52 35.9 347.58 39.4 347.64 38.4 347.70 39.6 347.76 43.9 347.82 37.6 347.88 38.3 347.94 35.6 348.00 37.6 348.06 36.8 348.12 43.6 348.18 39.7 348.24 37.0 348.30 44.9 348.36 34.9 348.42 41.7 348.48 42.3 348.54 40.9 348.60 38.4 348.66 38.8 348.72 38.1 348.78 41.5 348.84 31.8 348.90 37.3 348.96 39.3 349.02 36.8 349.08 32.8 349.14 37.5 349.20 35.7 349.26 40.3 349.32 41.9 349.38 37.5 349.44 31.1 349.50 36.2 349.56 33.7 349.62 38.4 349.68 41.3 349.74 36.8 349.80 41.9 349.86 40.1 349.92 37.4 349.98 32.5 350.04 35.7 350.10 30.8 350.16 38.5 350.22 35.7 350.28 39.7 350.34 36.4 350.40 29.6 350.46 37.8 350.52 38.9 350.58 41.3 350.64 33.4 350.70 33.7 350.76 37.0 350.82 33.7 350.88 32.9 350.94 34.0 351.00 45.6 351.06 35.7 351.12 34.6 351.18 36.5 351.24 37.9 351.30 42.0 351.36 40.9 351.42 40.5 351.48 38.2 351.54 38.5 351.60 36.0 351.66 33.3 351.72 44.3 351.78 36.5 351.84 41.0 351.90 36.8 351.96 37.4 352.02 37.1 352.08 33.2 352.14 37.1 352.20 38.5 352.26 39.8 352.32 38.7 352.38 40.4 352.44 38.1 352.50 37.2 352.56 31.2 352.62 35.7 352.68 42.2 352.74 37.9 352.80 40.1 352.86 37.0 352.92 35.7 352.98 44.2 353.04 39.1 353.10 42.7 353.16 39.8 353.22 37.3 353.28 31.3 353.34 38.6 353.40 33.5 353.46 31.5 353.52 42.2 353.58 40.6 353.64 40.4 353.70 38.6 353.76 38.3 353.82 39.7 353.88 38.9 353.94 38.6 354.00 40.6 354.06 30.7 354.12 41.0 354.18 36.3 354.24 40.8 354.30 41.8 354.36 35.4 354.42 40.5 354.48 40.3 354.54 35.6 354.60 36.1 354.66 37.9 354.72 30.6 354.78 36.0 354.84 37.9 354.90 35.8 354.96 32.2 355.02 35.8 355.08 41.7 355.14 41.0 355.20 36.4 355.26 34.2 355.32 36.5 355.38 36.5 355.44 34.2 355.50 35.2 355.56 38.0 355.62 38.9 355.68 28.3 355.74 38.9 355.80 36.2 355.86 39.3 355.92 35.6 355.98 37.0 356.04 40.7 356.10 26.4 356.16 40.5 356.22 36.2 356.28 30.0 356.34 27.5 356.40 36.8 356.46 32.7 356.52 39.0 356.58 36.7 356.64 35.7 356.70 39.2 356.76 36.8 356.82 38.6 356.88 39.0 356.94 37.5 357.00 39.0 357.06 39.1 357.12 32.5 357.18 36.0 357.24 36.5 357.30 35.8 357.36 32.1 357.42 35.3 357.48 38.1 357.54 37.7 357.60 41.8 357.66 35.2 357.72 35.7 357.78 35.2 357.84 36.0 357.90 35.0 357.96 31.0 358.02 37.9 358.08 39.8 358.14 40.2 358.20 33.3 358.26 36.1 358.32 42.4 358.38 36.3 358.44 37.7 358.50 36.1 358.56 39.6 358.62 39.5 358.68 43.7 358.74 38.0 358.80 37.7 358.86 32.5 358.92 35.0 358.98 34.0 359.04 35.1 359.10 32.0 359.16 39.7 359.22 32.7 359.28 36.7 359.34 31.9 359.40 36.9 359.46 40.9 359.52 33.2 359.58 36.8 359.64 35.5 359.70 36.5 359.76 36.9 359.82 33.6 359.88 35.0 359.94 33.7 360.00 32.9 360.06 31.6 360.12 38.3 360.18 33.0 360.24 37.3 360.30 37.0 360.36 32.1 360.42 38.5 360.48 32.5 360.54 37.1 360.60 39.7 360.66 32.9 360.72 32.3 360.78 32.3 360.84 42.3 360.90 34.1 360.96 31.4 361.02 37.9 361.08 34.9 361.14 35.4 361.20 32.5 361.26 28.8 361.32 33.5 361.38 32.6 361.44 30.9 361.50 32.7 361.56 33.3 361.62 38.8 361.68 38.7 361.74 38.2 361.80 35.1 361.86 32.9 361.92 37.9 361.98 38.5 362.04 40.2 362.10 37.1 362.16 36.9 362.22 38.3 362.28 34.5 362.34 34.9 362.40 39.3 362.46 33.5 362.52 37.1 362.58 39.8 362.64 38.0 362.70 38.6 362.76 33.8 362.82 36.9 362.88 36.4 362.94 39.0 363.00 38.4 363.06 37.2 363.12 42.9 363.18 38.6 363.24 36.0 363.30 34.9 363.36 36.6 363.42 34.9 363.48 41.6 363.54 38.3 363.60 35.5 363.66 34.4 363.72 33.1 363.78 35.6 363.84 40.5 363.90 39.1 363.96 36.4 364.02 37.0 364.08 30.9 364.14 39.1 364.20 36.1 364.26 41.1 364.32 36.3 364.38 35.4 364.44 37.6 364.50 35.1 364.56 41.2 364.62 38.0 364.68 38.4 364.74 38.3 364.80 36.3 364.86 39.0 364.92 38.1 364.98 43.0 365.04 37.8 365.10 38.8 365.16 36.3 365.22 36.5 365.28 36.7 365.34 41.6 365.40 37.7 365.46 40.4 365.52 36.4 365.58 36.0 365.64 31.0 365.70 39.4 365.76 43.1 365.82 35.8 365.88 40.8 365.94 38.9 366.00 34.0 366.06 38.4 366.12 33.2 366.18 35.0 366.24 39.6 366.30 36.3 366.36 32.2 366.42 40.2 366.48 32.4 366.54 35.3 366.60 34.7 366.66 35.3 366.72 33.1 366.78 30.7 366.84 41.5 366.90 32.8 366.96 33.0 367.02 28.1 367.08 35.9 367.14 39.6 367.20 39.9 367.26 44.1 367.32 40.2 367.38 36.7 367.44 35.5 367.50 39.8 367.56 35.2 367.62 35.9 367.68 32.3 367.74 35.5 367.80 41.2 367.86 34.8 367.92 36.3 367.98 27.6 368.04 39.2 368.10 36.2 368.16 39.5 368.22 35.9 368.28 32.6 368.34 31.2 368.40 37.0 368.46 35.5 368.52 32.7 368.58 35.6 368.64 33.9 368.70 38.2 368.76 34.7 368.82 32.3 368.88 35.8 368.94 34.4 369.00 40.7 369.06 34.8 369.12 32.1 369.18 36.0 369.24 35.4 369.30 37.0 369.36 36.9 369.42 33.0 369.48 36.0 369.54 35.8 369.60 32.4 369.66 34.4 369.72 36.8 369.78 31.3 369.84 33.0 369.90 34.9 369.96 36.2 370.02 38.1 370.08 32.4 370.14 37.7 370.20 38.8 370.26 41.8 370.32 35.8 370.38 34.5 370.44 32.7 370.50 39.3 370.56 41.8 370.62 35.8 370.68 39.5 370.74 41.0 370.80 41.4 370.86 37.4 370.92 40.8 370.98 38.8 371.04 36.1 371.10 39.9 371.16 40.3 371.22 36.3 371.28 40.7 371.34 45.5 371.40 34.7 371.46 41.5 371.52 42.2 371.58 39.5 371.64 40.4 371.70 38.6 371.76 43.6 371.82 36.5 371.88 38.9 371.94 33.3 372.00 40.4 372.06 40.5 372.12 34.2 372.18 36.7 372.24 40.9 372.30 37.9 372.36 35.7 372.42 31.8 372.48 40.6 372.54 45.6 372.60 38.2 372.66 40.9 372.72 40.9 372.78 39.3 372.84 39.9 372.90 39.9 372.96 36.8 373.02 47.2 373.08 47.9 373.14 40.4 373.20 44.9 373.26 36.7 373.32 38.5 373.38 42.6 373.44 35.4 373.50 34.8 373.56 39.8 373.62 32.5 373.68 43.8 373.74 40.7 373.80 39.0 373.86 40.2 373.92 35.2 373.98 35.0 374.04 40.4 374.10 40.7 374.16 38.1 374.22 37.5 374.28 35.9 374.34 41.8 374.40 32.9 374.46 34.7 374.52 35.7 374.58 32.6 374.64 33.1 374.70 34.0 374.76 40.3 374.82 42.7 374.88 38.2 374.94 32.0 375.00 35.1 375.06 36.5 375.12 36.1 375.18 35.7 375.24 38.4 375.30 30.7 375.36 34.8 375.42 37.2 375.48 38.7 375.54 37.3 375.60 36.4 375.66 35.9 375.72 34.2 375.78 36.5 375.84 35.6 375.90 34.0 375.96 39.9 376.02 39.8 376.08 34.9 376.14 38.0 376.20 39.8 376.26 36.9 376.32 36.5 376.38 37.7 376.44 31.1 376.50 31.9 376.56 38.1 376.62 37.4 376.68 41.0 376.74 35.4 376.80 40.5 376.86 40.6 376.92 43.6 376.98 35.2 377.04 36.8 377.10 38.9 377.16 39.1 377.22 35.3 377.28 36.8 377.34 34.7 377.40 46.1 377.46 38.9 377.52 39.2 377.58 37.5 377.64 39.6 377.70 42.1 377.76 38.7 377.82 39.8 377.88 46.7 377.94 43.0 378.00 41.0 378.06 39.0 378.12 40.3 378.18 38.1 378.24 41.3 378.30 38.5 378.36 38.3 378.42 39.3 378.48 37.3 378.54 41.3 378.60 48.5 378.66 38.8 378.72 35.6 378.78 43.7 378.84 40.4 378.90 46.8 378.96 41.9 379.02 43.5 379.08 38.2 379.14 35.6 379.20 39.9 379.26 42.5 379.32 37.7 379.38 35.3 379.44 38.3 379.50 38.6 379.56 38.9 379.62 39.6 379.68 47.0 379.74 39.5 379.80 37.7 379.86 35.7 379.92 41.3 379.98 33.7 380.04 42.9 380.10 38.2 380.16 33.4 380.22 38.5 380.28 37.4 380.34 41.5 380.40 32.9 380.46 38.1 380.52 37.3 380.58 40.1 380.64 33.7 380.70 34.8 380.76 43.2 380.82 38.8 380.88 32.6 380.94 38.2 381.00 34.8 381.06 35.2 381.12 33.6 381.18 40.5 381.24 35.9 381.30 38.3 381.36 38.0 381.42 33.1 381.48 35.5 381.54 40.2 381.60 33.0 381.66 38.6 381.72 37.5 381.78 39.8 381.84 39.9 381.90 40.3 381.96 37.9 382.02 38.5 382.08 35.4 382.14 35.9 382.20 40.3 382.26 35.6 382.32 40.5 382.38 40.3 382.44 34.7 382.50 38.7 382.56 34.4 382.62 37.8 382.68 34.3 382.74 37.6 382.80 37.0 382.86 33.2 382.92 42.8 382.98 39.4 383.04 31.4 383.10 37.4 383.16 35.0 383.22 42.7 383.28 36.2 383.34 37.6 383.40 35.9 383.46 38.5 383.52 34.9 383.58 33.9 383.64 35.2 383.70 35.5 383.76 38.8 383.82 37.2 383.88 35.6 383.94 35.8 384.00 34.2 384.06 37.5 384.12 30.8 384.18 36.5 384.24 40.8 384.30 36.1 384.36 35.2 384.42 37.4 384.48 34.4 384.54 34.9 384.60 39.4 384.66 35.4 384.72 43.4 384.78 39.1 384.84 37.1 384.90 35.6 384.96 36.8 385.02 30.6 385.08 38.5 385.14 40.5 385.20 39.6 385.26 36.6 385.32 39.9 385.38 40.0 385.44 37.7 385.50 39.3 385.56 41.5 385.62 39.8 385.68 37.3 385.74 38.5 385.80 39.0 385.86 33.7 385.92 39.1 385.98 38.3 386.04 32.1 386.10 33.5 386.16 44.4 386.22 39.2 386.28 43.0 386.34 37.7 386.40 43.6 386.46 40.6 386.52 36.7 386.58 39.7 386.64 43.6 386.70 46.2 386.76 40.3 386.82 37.3 386.88 36.0 386.94 40.8 387.00 42.0 387.06 39.0 387.12 38.2 387.18 41.0 387.24 40.0 387.30 39.7 387.36 33.7 387.42 37.3 387.48 44.2 387.54 38.3 387.60 45.8 387.66 39.5 387.72 37.4 387.78 39.2 387.84 40.2 387.90 36.1 387.96 39.1 388.02 37.1 388.08 42.9 388.14 37.0 388.20 38.8 388.26 33.8 388.32 34.3 388.38 38.3 388.44 35.7 388.50 37.7 388.56 39.4 388.62 40.5 388.68 34.5 388.74 38.4 388.80 41.1 388.86 37.0 388.92 35.2 388.98 37.2 389.04 44.5 389.10 39.7 389.16 44.6 389.22 39.0 389.28 43.8 389.34 35.8 389.40 39.6 389.46 40.9 389.52 46.2 389.58 42.4 389.64 44.6 389.70 40.0 389.76 40.2 389.82 45.6 389.88 46.3 389.94 45.8 390.00 45.8 390.06 40.6 390.12 49.0 390.18 42.9 390.24 46.3 390.30 44.7 390.36 37.0 390.42 36.4 390.48 37.5 390.54 42.2 390.60 45.8 390.66 41.5 390.72 44.8 390.78 38.2 390.84 40.0 390.90 39.0 390.96 41.7 391.02 37.9 391.08 41.0 391.14 43.0 391.20 39.6 391.26 38.1 391.32 39.3 391.38 36.7 391.44 37.2 391.50 42.7 391.56 41.2 391.62 35.5 391.68 39.0 391.74 41.2 391.80 42.2 391.86 41.6 391.92 42.6 391.98 39.3 392.04 39.3 392.10 38.6 392.16 42.7 392.22 41.9 392.28 44.8 392.34 42.7 392.40 36.6 392.46 34.6 392.52 34.8 392.58 36.3 392.64 41.0 392.70 34.7 392.76 32.7 392.82 38.5 392.88 41.6 392.94 41.5 393.00 44.3 393.06 39.1 393.12 37.5 393.18 38.3 393.24 35.2 393.30 37.3 393.36 43.4 393.42 46.0 393.48 43.4 393.54 40.4 393.60 38.7 393.66 40.2 393.72 33.6 393.78 41.2 393.84 41.9 393.90 39.0 393.96 39.5 394.02 34.1 394.08 41.9 394.14 41.9 394.20 30.9 394.26 37.7 394.32 40.6 394.38 44.8 394.44 37.0 394.50 39.6 394.56 44.4 394.62 41.4 394.68 39.3 394.74 38.7 394.80 40.3 394.86 37.9 394.92 43.6 394.98 37.9 395.04 42.8 395.10 44.2 395.16 45.3 395.22 41.7 395.28 41.5 395.34 42.8 395.40 42.2 395.46 45.9 395.52 41.9 395.58 49.2 395.64 52.4 395.70 40.4 395.76 44.2 395.82 38.8 395.88 45.6 395.94 44.6 396.00 42.4 396.06 39.6 396.12 43.4 396.18 50.4 396.24 49.1 396.30 44.8 396.36 41.4 396.42 43.5 396.48 40.8 396.54 39.0 396.60 40.5 396.66 46.1 396.72 45.1 396.78 44.8 396.84 40.3 396.90 39.3 396.96 47.9 397.02 43.1 397.08 48.6 397.14 41.8 397.20 47.8 397.26 45.2 397.32 42.7 397.38 42.6 397.44 50.8 397.50 47.1 397.56 42.8 397.62 44.2 397.68 38.0 397.74 49.3 397.80 48.0 397.86 41.5 397.92 44.3 397.98 32.8 398.04 45.8 398.10 43.9 398.16 43.0 398.22 44.9 398.28 42.9 398.34 38.3 398.40 39.1 398.46 40.8 398.52 44.5 398.58 41.3 398.64 38.8 398.70 42.4 398.76 36.7 398.82 48.3 398.88 42.0 398.94 37.4 399.00 41.5 399.06 44.7 399.12 42.8 399.18 48.1 399.24 35.9 399.30 46.5 399.36 40.9 399.42 44.1 399.48 47.1 399.54 36.8 399.60 36.1 399.66 39.7 399.72 35.2 399.78 33.9 399.84 41.3 399.90 45.1 399.96 39.4 400.02 42.9 400.08 54.1 400.14 42.4 400.20 40.2 400.26 40.8 400.32 43.0 400.38 40.6 400.44 44.2 400.50 42.6 400.56 45.2 400.62 42.5 400.68 41.8 400.74 38.9 400.80 37.3 400.86 41.2 400.92 40.9 400.98 43.3 401.04 42.0 401.10 40.9 401.16 50.2 401.22 43.3 401.28 46.4 401.34 38.5 401.40 45.6 401.46 46.1 401.52 43.5 401.58 38.7 401.64 46.2 401.70 39.1 401.76 36.2 401.82 35.9 401.88 41.7 401.94 39.7 402.00 44.2 402.06 43.6 402.12 46.0 402.18 42.3 402.24 41.5 402.30 41.1 402.36 38.3 402.42 38.1 402.48 38.4 402.54 41.8 402.60 38.1 402.66 40.8 402.72 45.0 402.78 32.9 402.84 38.3 402.90 38.0 402.96 41.5 403.02 36.4 403.08 39.4 403.14 50.0 403.20 37.2 403.26 41.8 403.32 42.9 403.38 41.2 403.44 38.1 403.50 45.9 403.56 35.7 403.62 39.0 403.68 41.6 403.74 40.2 403.80 46.5 403.86 41.2 403.92 49.0 403.98 42.1 404.04 47.5 404.10 43.5 404.16 41.1 404.22 40.8 404.28 45.4 404.34 39.8 404.40 41.5 404.46 38.8 404.52 34.4 404.58 43.4 404.64 43.7 404.70 37.1 404.76 43.0 404.82 40.5 404.88 34.6 404.94 38.0 405.00 43.6 405.06 45.0 405.12 42.7 405.18 51.2 405.24 42.7 405.30 38.9 405.36 36.4 405.42 46.9 405.48 40.1 405.54 40.5 405.60 39.1 405.66 39.2 405.72 40.9 405.78 43.9 405.84 44.3 405.90 43.7 405.96 45.9 406.02 41.0 406.08 39.2 406.14 42.8 406.20 35.9 406.26 46.3 406.32 45.2 406.38 45.5 406.44 40.0 406.50 42.2 406.56 44.2 406.62 40.8 406.68 40.7 406.74 44.1 406.80 45.6 406.86 42.9 406.92 49.2 406.98 53.6 407.04 48.0 407.10 45.5 407.16 45.2 407.22 52.2 407.28 47.7 407.34 48.9 407.40 47.7 407.46 45.0 407.52 52.3 407.58 46.2 407.64 47.6 407.70 39.4 407.76 54.6 407.82 49.5 407.88 46.4 407.94 43.8 408.00 44.3 408.06 40.3 408.12 47.8 408.18 42.9 408.24 47.3 408.30 47.3 408.36 52.3 408.42 46.1 408.48 46.3 408.54 46.9 408.60 42.8 408.66 44.0 408.72 46.0 408.78 48.8 408.84 47.3 408.90 43.7 408.96 48.8 409.02 43.2 409.08 39.1 409.14 49.9 409.20 44.4 409.26 42.7 409.32 40.0 409.38 42.7 409.44 50.1 409.50 43.8 409.56 51.8 409.62 44.0 409.68 47.7 409.74 43.7 409.80 41.9 409.86 41.8 409.92 42.2 409.98 38.8 410.04 38.5 410.10 44.0 410.16 47.0 410.22 43.1 410.28 42.6 410.34 39.1 410.40 46.2 410.46 45.9 410.52 38.1 410.58 42.4 410.64 41.0 410.70 36.9 410.76 47.9 410.82 46.5 410.88 43.6 410.94 47.6 411.00 41.0 411.06 44.0 411.12 48.0 411.18 42.5 411.24 44.9 411.30 40.7 411.36 46.6 411.42 48.7 411.48 41.4 411.54 42.3 411.60 45.1 411.66 50.5 411.72 44.0 411.78 43.1 411.84 45.9 411.90 50.4 411.96 41.2 412.02 46.2 412.08 51.5 412.14 46.9 412.20 46.1 412.26 50.2 412.32 43.0 412.38 54.6 412.44 49.1 412.50 46.2 412.56 47.9 412.62 47.4 412.68 46.7 412.74 43.5 412.80 47.0 412.86 41.9 412.92 52.9 412.98 44.2 413.04 45.7 413.10 45.5 413.16 50.9 413.22 47.7 413.28 53.5 413.34 46.9 413.40 49.1 413.46 48.4 413.52 47.4 413.58 52.6 413.64 53.0 413.70 53.4 413.76 44.0 413.82 50.1 413.88 45.0 413.94 44.9 414.00 42.7 414.06 45.7 414.12 51.2 414.18 54.0 414.24 55.3 414.30 46.0 414.36 47.0 414.42 50.0 414.48 49.7 414.54 49.9 414.60 42.9 414.66 48.3 414.72 50.9 414.78 49.7 414.84 48.2 414.90 45.9 414.96 47.9 415.02 53.6 415.08 49.6 415.14 51.3 415.20 53.2 415.26 43.3 415.32 49.3 415.38 48.3 415.44 51.1 415.50 45.4 415.56 45.3 415.62 43.5 415.68 46.3 415.74 44.5 415.80 44.7 415.86 46.3 415.92 43.7 415.98 41.6 416.04 43.4 416.10 42.8 416.16 46.2 416.22 49.1 416.28 43.5 416.34 36.2 416.40 46.9 416.46 44.7 416.52 41.7 416.58 44.2 416.64 51.7 416.70 40.1 416.76 41.4 416.82 45.4 416.88 34.8 416.94 44.2 417.00 49.3 417.06 47.9 417.12 47.5 417.18 45.1 417.24 45.8 417.30 56.0 417.36 47.3 417.42 51.3 417.48 42.2 417.54 47.5 417.60 47.9 417.66 47.2 417.72 39.0 417.78 45.1 417.84 51.6 417.90 48.4 417.96 43.6 418.02 49.4 418.08 39.7 418.14 48.3 418.20 47.4 418.26 44.0 418.32 42.6 418.38 40.3 418.44 45.3 418.50 52.1 418.56 49.0 418.62 47.4 418.68 49.2 418.74 43.8 418.80 47.7 418.86 35.7 418.92 44.2 418.98 44.2 419.04 45.7 419.10 45.4 419.16 48.2 419.22 44.1 419.28 49.7 419.34 45.8 419.40 49.9 419.46 47.5 419.52 50.3 419.58 49.3 419.64 45.8 419.70 48.9 419.76 44.0 419.82 49.1 419.88 50.5 419.94 48.5 420.00 49.2 420.06 53.4 420.12 54.4 420.18 55.4 420.24 48.6 420.30 49.2 420.36 53.6 420.42 54.0 420.48 44.5 420.54 57.8 420.60 54.9 420.66 46.5 420.72 54.8 420.78 49.3 420.84 50.2 420.90 47.1 420.96 47.5 421.02 48.9 421.08 50.3 421.14 45.9 421.20 49.3 421.26 46.9 421.32 47.3 421.38 45.8 421.44 46.5 421.50 54.1 421.56 42.7 421.62 43.6 421.68 47.8 421.74 46.2 421.80 44.2 421.86 49.2 421.92 43.7 421.98 47.8 422.04 51.1 422.10 49.9 422.16 46.9 422.22 48.1 422.28 48.8 422.34 50.4 422.40 45.2 422.46 53.1 422.52 51.5 422.58 55.6 422.64 52.2 422.70 53.0 422.76 39.3 422.82 48.2 422.88 56.5 422.94 51.5 423.00 48.7 423.06 52.8 423.12 50.8 423.18 52.1 423.24 48.3 423.30 52.7 423.36 56.3 423.42 51.9 423.48 52.7 423.54 48.7 423.60 52.9 423.66 49.8 423.72 46.5 423.78 49.7 423.84 50.3 423.90 53.0 423.96 54.4 424.02 50.2 424.08 49.6 424.14 53.0 424.20 47.5 424.26 49.4 424.32 49.6 424.38 49.8 424.44 48.2 424.50 55.9 424.56 53.4 424.62 49.3 424.68 44.8 424.74 48.0 424.80 51.7 424.86 42.8 424.92 58.3 424.98 49.3 425.04 49.4 425.10 51.9 425.16 44.8 425.22 50.1 425.28 50.0 425.34 52.7 425.40 46.8 425.46 52.7 425.52 54.9 425.58 51.9 425.64 49.1 425.70 48.2 425.76 45.1 425.82 49.5 425.88 53.4 425.94 57.0 426.00 55.5 426.06 56.3 426.12 50.5 426.18 50.7 426.24 46.9 426.30 50.0 426.36 48.4 426.42 51.5 426.48 54.7 426.54 51.9 426.60 51.2 426.66 54.7 426.72 57.5 426.78 56.0 426.84 46.2 426.90 58.2 426.96 50.5 427.02 47.0 427.08 50.7 427.14 55.5 427.20 42.6 427.26 56.5 427.32 52.7 427.38 53.8 427.44 47.0 427.50 49.9 427.56 47.8 427.62 55.9 427.68 49.0 427.74 53.1 427.80 49.4 427.86 45.9 427.92 54.8 427.98 55.8 428.04 56.9 428.10 49.6 428.16 51.6 428.22 53.8 428.28 52.5 428.34 52.0 428.40 59.4 428.46 49.7 428.52 54.2 428.58 49.2 428.64 56.1 428.70 50.2 428.76 47.7 428.82 53.9 428.88 51.5 428.94 50.1 429.00 50.8 429.06 49.6 429.12 53.7 429.18 53.2 429.24 58.1 429.30 50.1 429.36 57.8 429.42 54.9 429.48 48.3 429.54 58.7 429.60 47.5 429.66 55.7 429.72 47.6 429.78 55.3 429.84 53.2 429.90 53.7 429.96 48.0 430.02 52.2 430.08 59.2 430.14 57.3 430.20 55.0 430.26 54.8 430.32 53.0 430.38 60.5 430.44 55.3 430.50 59.3 430.56 50.4 430.62 50.2 430.68 60.5 430.74 52.7 430.80 55.2 430.86 57.7 430.92 59.4 430.98 58.5 431.04 58.4 431.10 62.3 431.16 57.7 431.22 60.1 431.28 57.2 431.34 57.8 431.40 64.1 431.46 56.7 431.52 48.9 431.58 58.3 431.64 58.8 431.70 64.7 431.76 57.1 431.82 54.4 431.88 59.0 431.94 65.2 432.00 57.5 432.06 63.3 432.12 60.6 432.18 61.1 432.24 55.8 432.30 59.0 432.36 55.8 432.42 58.6 432.48 56.0 432.54 62.3 432.60 56.4 432.66 57.3 432.72 50.1 432.78 54.4 432.84 66.4 432.90 56.2 432.96 51.8 433.02 57.4 433.08 56.7 433.14 55.9 433.20 56.8 433.26 56.4 433.32 61.6 433.38 54.3 433.44 59.5 433.50 62.0 433.56 56.1 433.62 67.6 433.68 60.1 433.74 59.9 433.80 58.7 433.86 63.8 433.92 55.7 433.98 63.8 434.04 69.9 434.10 63.6 434.16 65.7 434.22 59.8 434.28 66.1 434.34 60.8 434.40 62.2 434.46 64.0 434.52 71.0 434.58 62.3 434.64 57.7 434.70 65.2 434.76 67.6 434.82 67.4 434.88 66.0 434.94 70.2 435.00 68.6 435.06 68.7 435.12 64.5 435.18 61.1 435.24 72.2 435.30 63.6 435.36 71.5 435.42 71.4 435.48 63.4 435.54 65.5 435.60 69.6 435.66 71.8 435.72 65.3 435.78 67.9 435.84 65.7 435.90 65.3 435.96 70.3 436.02 68.7 436.08 63.5 436.14 72.5 436.20 70.2 436.26 70.6 436.32 67.7 436.38 75.4 436.44 74.4 436.50 74.8 436.56 74.0 436.62 76.0 436.68 80.8 436.74 76.3 436.80 77.0 436.86 75.1 436.92 79.5 436.98 76.8 437.04 75.6 437.10 82.7 437.16 78.6 437.22 76.7 437.28 77.9 437.34 79.1 437.40 77.7 437.46 87.2 437.52 83.6 437.58 81.1 437.64 85.4 437.70 83.6 437.76 85.0 437.82 84.5 437.88 86.2 437.94 86.6 438.00 87.7 438.06 87.9 438.12 82.9 438.18 86.2 438.24 87.1 438.30 86.9 438.36 85.2 438.42 86.9 438.48 87.4 438.54 84.7 438.60 86.6 438.66 89.1 438.72 87.0 438.78 88.0 438.84 88.4 438.90 89.3 438.96 89.8 439.02 90.5 439.08 89.2 439.14 89.5 439.20 89.1 439.26 89.7 439.32 89.4 439.38 90.8 439.44 90.9 439.50 87.9 439.56 86.6 439.62 90.8 439.68 89.5 439.74 88.1 439.80 91.9 439.86 92.9 439.92 89.0 439.98 89.4 440.04 89.8 440.10 89.6 440.16 90.6 440.22 89.1 440.28 90.8 440.34 90.1 440.40 92.3 440.46 90.5 440.52 92.0 440.58 92.8 440.64 91.3 440.70 91.5 440.76 89.7 440.82 90.4 440.88 93.8 440.94 92.3 441.00 90.3 441.06 89.6 441.12 89.9 441.18 91.7 441.24 86.9 441.30 90.3 441.36 87.9 441.42 92.1 441.48 87.7 441.54 91.3 441.60 89.4 441.66 89.9 441.72 92.4 441.78 89.9 441.84 91.0 441.90 90.6 441.96 88.3 442.02 90.1 442.08 91.7 442.14 90.8 442.20 90.7 442.26 89.4 442.32 92.9 442.38 89.8 442.44 93.5 442.50 91.1 442.56 92.0 442.62 88.9 442.68 91.3 442.74 89.8 442.80 91.4 442.86 93.2 442.92 92.0 442.98 91.9 443.04 93.1 443.10 89.9 443.16 91.9 443.22 90.9 443.28 93.5 443.34 90.9 443.40 94.4 443.46 95.1 443.52 88.9 443.58 91.9 443.64 89.8 443.70 94.1 443.76 91.0 443.82 93.3 443.88 92.9 443.94 91.0 444.00 90.2 444.06 94.2 444.12 91.7 444.18 93.0 444.24 94.9 444.30 92.7 444.36 92.3 444.42 91.3 444.48 93.6 444.54 91.7 444.60 90.4 444.66 92.1 444.72 92.1 444.78 90.6 444.84 92.8 444.90 94.4 444.96 94.0 445.02 96.3 445.08 94.9 445.14 93.6 445.20 90.1 445.26 93.6 445.32 95.1 445.38 92.8 445.44 95.4 445.50 91.8 445.56 93.6 445.62 94.4 445.68 95.7 445.74 93.0 445.80 96.0 445.86 92.5 445.92 90.2 445.98 92.8 446.04 95.0 446.10 92.4 446.16 95.4 446.22 92.5 446.28 95.7 446.34 89.3 446.40 96.2 446.46 89.5 446.52 92.5 446.58 90.8 446.64 93.1 446.70 92.2 446.76 92.1 446.82 93.5 446.88 94.1 446.94 92.1 447.00 94.5 447.06 89.9 447.12 91.0 447.18 90.6 447.24 93.5 447.30 94.2 447.36 92.1 447.42 91.9 447.48 91.1 447.54 94.0 447.60 94.8 447.66 92.2 447.72 92.9 447.78 92.6 447.84 93.2 447.90 94.1 447.96 90.0 448.02 92.6 448.08 94.8 448.14 92.2 448.20 95.6 448.26 95.9 448.32 92.3 448.38 92.6 448.44 95.9 448.50 91.4 448.56 92.4 448.62 91.5 448.68 94.2 448.74 94.7 448.80 95.0 448.86 94.7 448.92 92.2 448.98 96.3 449.04 94.4 449.10 94.0 449.16 97.3 449.22 94.9 449.28 95.4 449.34 96.2 449.40 98.1 449.46 94.9 449.52 96.1 449.58 91.4 449.64 93.5 449.70 98.3 449.76 98.2 449.82 94.8 449.88 93.6 449.94 92.9 450.00 93.1 450.06 94.0 450.12 92.2 450.18 94.7 450.24 94.5 450.30 92.8 450.36 92.7 450.42 92.9 450.48 93.9 450.54 94.3 450.60 95.5 450.66 91.9 450.72 94.1 450.78 94.7 450.84 95.1 450.90 96.0 450.96 94.1 451.02 96.7 451.08 98.4 451.14 95.5 451.20 97.3 451.26 96.5 451.32 95.8 451.38 94.9 451.44 95.7 451.50 98.6 451.56 95.6 451.62 94.4 451.68 94.9 451.74 97.0 451.80 94.8 451.86 97.3 451.92 97.1 451.98 96.4 452.04 98.7 452.10 94.1 452.16 95.3 452.22 96.0 452.28 96.9 452.34 94.3 452.40 95.5 452.46 98.5 452.52 95.9 452.58 98.0 452.64 96.3 452.70 95.6 452.76 97.6 452.82 98.9 452.88 96.9 452.94 95.0 453.00 95.9 453.06 96.5 453.12 96.8 453.18 95.8 453.24 98.4 453.30 95.8 453.36 99.0 453.42 95.8 453.48 96.0 453.54 99.3 453.60 98.6 453.66 97.0 453.72 96.6 453.78 97.2 453.84 97.6 453.90 97.9 453.96 99.1" stroke="#e3213b" stroke-width="0.9" fill="none" stroke-linejoin="round"/>
<path d="M334.4 98.5H454" stroke="#7a7a7a" stroke-width="1.25" stroke-dasharray="2.6 2.65" fill="none"/>
<path d="M436.8 25.5V117.4" stroke="#e3213b" stroke-width="0.95" stroke-dasharray="2.4 1.6" fill="none"/>
<text x="412.8" y="23.8" font-size="9" fill="#e8404e" textLength="46.8" lengthAdjust="spacingAndGlyphs">Sleep onset</text>
<text x="304.8" y="166.3" font-size="9" fill="#333">(ii)</text>
<path d="M335.2 173.3V263.4" stroke="#808080" stroke-width="0.8" fill="none"/>
<path d="M332.7 173.35H335.2M332.7 191.4H335.2M332.7 209.45H335.2M332.7 227.5H335.2M332.7 245.55H335.2M332.7 263.6H335.2" stroke="#808080" stroke-width="0.8" fill="none"/>
<text x="329.6" y="175.75" font-size="7.5" fill="#4a4a4a" text-anchor="end" textLength="11.05" lengthAdjust="spacingAndGlyphs">0.5</text>
<text x="329.6" y="193.8" font-size="7.5" fill="#4a4a4a" text-anchor="end" textLength="4.42" lengthAdjust="spacingAndGlyphs">0</text>
<text x="329.6" y="211.85" font-size="7.5" fill="#4a4a4a" text-anchor="end" textLength="15.69" lengthAdjust="spacingAndGlyphs">−0.5</text>
<text x="329.6" y="229.9" font-size="7.5" fill="#4a4a4a" text-anchor="end" textLength="9.06" lengthAdjust="spacingAndGlyphs">−1</text>
<text x="329.6" y="247.95" font-size="7.5" fill="#4a4a4a" text-anchor="end" textLength="15.69" lengthAdjust="spacingAndGlyphs">−1.5</text>
<text x="329.6" y="266" font-size="7.5" fill="#4a4a4a" text-anchor="end" textLength="9.06" lengthAdjust="spacingAndGlyphs">−2</text>
<path d="M335.2 263.4H456.4" stroke="#808080" stroke-width="0.8" fill="none"/>
<path d="M335.26 263.4V265.9M352.55 263.4V265.9M369.84 263.4V265.9M387.13 263.4V265.9M404.42 263.4V265.9M421.71 263.4V265.9M439 263.4V265.9M456.29 263.4V265.9" stroke="#808080" stroke-width="0.8" fill="none"/>
<text x="335.26" y="275.9" font-size="7.5" fill="#4a4a4a" text-anchor="middle" textLength="13.49" lengthAdjust="spacingAndGlyphs">−60</text>
<text x="352.55" y="275.9" font-size="7.5" fill="#4a4a4a" text-anchor="middle" textLength="13.49" lengthAdjust="spacingAndGlyphs">−50</text>
<text x="369.84" y="275.9" font-size="7.5" fill="#4a4a4a" text-anchor="middle" textLength="13.49" lengthAdjust="spacingAndGlyphs">−40</text>
<text x="387.13" y="275.9" font-size="7.5" fill="#4a4a4a" text-anchor="middle" textLength="13.49" lengthAdjust="spacingAndGlyphs">−30</text>
<text x="404.42" y="275.9" font-size="7.5" fill="#4a4a4a" text-anchor="middle" textLength="13.49" lengthAdjust="spacingAndGlyphs">−20</text>
<text x="421.71" y="275.9" font-size="7.5" fill="#4a4a4a" text-anchor="middle" textLength="13.49" lengthAdjust="spacingAndGlyphs">−10</text>
<text x="439" y="275.9" font-size="7.5" fill="#4a4a4a" text-anchor="middle" textLength="4.42" lengthAdjust="spacingAndGlyphs">0</text>
<text x="456.29" y="275.9" font-size="7.5" fill="#4a4a4a" text-anchor="middle" textLength="8.84" lengthAdjust="spacingAndGlyphs">10</text>
<text transform="translate(296.7,219.2) rotate(-90)" font-size="9" fill="#333" text-anchor="middle">Total spectrum power</text>
<text transform="translate(306.5,218.5) rotate(-90)" font-size="9" fill="#333" text-anchor="middle">(<tspan font-style="italic">z</tspan>-score)</text>
<text x="395.9" y="288.5" font-size="9" fill="#333" text-anchor="middle">Time (min)</text>
<path d="M335.40 252.7 335.46 244.1 335.52 251.0 335.58 249.4 335.64 251.4 335.70 249.7 335.76 252.1 335.82 248.8 335.88 247.7 335.94 249.5 336.00 249.0 336.06 247.5 336.12 247.5 336.18 249.0 336.24 248.8 336.30 246.5 336.36 246.5 336.42 243.8 336.48 249.7 336.54 246.1 336.60 248.7 336.66 246.9 336.72 249.4 336.78 248.6 336.84 246.3 336.90 248.2 336.96 243.9 337.02 247.7 337.08 242.8 337.14 245.9 337.20 247.2 337.26 245.6 337.32 244.6 337.38 243.8 337.44 244.6 337.50 247.1 337.56 246.8 337.62 244.8 337.68 243.2 337.74 246.6 337.80 243.0 337.86 244.7 337.92 244.5 337.98 247.1 338.04 246.4 338.10 246.9 338.16 246.6 338.22 245.1 338.28 247.3 338.34 248.9 338.40 246.4 338.46 247.7 338.52 246.4 338.58 248.4 338.64 247.8 338.70 248.2 338.76 247.3 338.82 249.5 338.88 246.0 338.94 246.1 339.00 245.6 339.06 247.7 339.12 245.5 339.18 245.5 339.24 247.9 339.30 248.7 339.36 247.7 339.42 242.0 339.48 245.0 339.54 244.8 339.60 244.6 339.66 246.1 339.72 250.0 339.78 246.3 339.84 245.6 339.90 248.2 339.96 247.2 340.02 247.3 340.08 246.0 340.14 247.3 340.20 248.1 340.26 244.1 340.32 244.7 340.38 249.5 340.44 249.1 340.50 246.9 340.56 246.0 340.62 247.5 340.68 245.8 340.74 247.3 340.80 250.8 340.86 248.1 340.92 250.0 340.98 247.5 341.04 248.6 341.10 250.3 341.16 245.5 341.22 247.2 341.28 247.5 341.34 248.2 341.40 250.4 341.46 248.8 341.52 244.9 341.58 247.0 341.64 245.8 341.70 245.7 341.76 250.7 341.82 245.2 341.88 247.4 341.94 245.6 342.00 248.3 342.06 247.3 342.12 246.7 342.18 246.3 342.24 248.3 342.30 244.5 342.36 244.7 342.42 243.9 342.48 248.1 342.54 245.2 342.60 243.8 342.66 244.8 342.72 249.8 342.78 245.1 342.84 246.7 342.90 246.0 342.96 245.0 343.02 243.7 343.08 244.3 343.14 244.1 343.20 240.8 343.26 249.1 343.32 246.2 343.38 244.7 343.44 244.1 343.50 243.1 343.56 246.2 343.62 244.2 343.68 245.4 343.74 242.2 343.80 245.4 343.86 248.3 343.92 244.4 343.98 246.4 344.04 245.2 344.10 247.2 344.16 247.2 344.22 245.6 344.28 244.6 344.34 246.1 344.40 245.8 344.46 244.6 344.52 246.6 344.58 246.5 344.64 244.2 344.70 245.6 344.76 250.8 344.82 247.1 344.88 245.8 344.94 249.9 345.00 244.7 345.06 241.0 345.12 242.0 345.18 242.5 345.24 245.6 345.30 246.7 345.36 241.1 345.42 246.8 345.48 242.6 345.54 245.2 345.60 245.5 345.66 245.4 345.72 244.6 345.78 244.9 345.84 242.6 345.90 245.2 345.96 246.5 346.02 246.6 346.08 249.7 346.14 247.2 346.20 246.7 346.26 248.6 346.32 246.3 346.38 243.8 346.44 242.3 346.50 248.6 346.56 247.6 346.62 248.2 346.68 246.3 346.74 247.6 346.80 250.3 346.86 247.7 346.92 245.2 346.98 246.4 347.04 249.6 347.10 245.2 347.16 242.5 347.22 243.0 347.28 244.5 347.34 248.2 347.40 246.8 347.46 245.3 347.52 244.2 347.58 246.2 347.64 246.0 347.70 245.1 347.76 245.6 347.82 244.6 347.88 249.0 347.94 241.6 348.00 245.8 348.06 243.8 348.12 246.7 348.18 245.0 348.24 246.0 348.30 246.2 348.36 245.5 348.42 246.8 348.48 242.6 348.54 246.6 348.60 244.5 348.66 245.5 348.72 247.5 348.78 246.6 348.84 248.1 348.90 240.6 348.96 242.8 349.02 246.1 349.08 242.4 349.14 244.0 349.20 247.2 349.26 245.7 349.32 242.5 349.38 245.0 349.44 245.3 349.50 244.3 349.56 244.1 349.62 244.5 349.68 241.7 349.74 244.6 349.80 242.8 349.86 245.3 349.92 245.5 349.98 243.3 350.04 246.0 350.10 245.7 350.16 245.1 350.22 246.5 350.28 244.9 350.34 245.0 350.40 245.8 350.46 245.6 350.52 247.8 350.58 241.8 350.64 245.5 350.70 242.6 350.76 245.3 350.82 246.7 350.88 246.3 350.94 248.1 351.00 247.0 351.06 241.7 351.12 244.6 351.18 249.3 351.24 249.3 351.30 246.8 351.36 244.0 351.42 250.5 351.48 243.1 351.54 247.4 351.60 246.8 351.66 247.4 351.72 245.0 351.78 246.4 351.84 249.0 351.90 246.4 351.96 244.8 352.02 247.3 352.08 247.5 352.14 247.1 352.20 246.0 352.26 248.3 352.32 247.1 352.38 245.3 352.44 247.7 352.50 247.3 352.56 247.6 352.62 244.3 352.68 245.9 352.74 248.0 352.80 248.7 352.86 247.6 352.92 247.2 352.98 248.2 353.04 248.5 353.10 249.8 353.16 247.4 353.22 245.5 353.28 247.2 353.34 242.8 353.40 246.1 353.46 245.1 353.52 245.6 353.58 246.3 353.64 245.3 353.70 242.5 353.76 244.1 353.82 243.1 353.88 244.3 353.94 244.7 354.00 242.2 354.06 245.0 354.12 245.8 354.18 242.9 354.24 244.5 354.30 240.5 354.36 242.1 354.42 244.7 354.48 239.9 354.54 242.1 354.60 241.4 354.66 245.0 354.72 245.1 354.78 242.0 354.84 243.4 354.90 238.7 354.96 244.9 355.02 244.2 355.08 246.0 355.14 239.6 355.20 244.5 355.26 243.5 355.32 239.6 355.38 243.2 355.44 244.4 355.50 246.1 355.56 245.1 355.62 244.0 355.68 245.8 355.74 244.9 355.80 244.1 355.86 243.5 355.92 245.6 355.98 245.7 356.04 248.7 356.10 244.7 356.16 248.4 356.22 246.2 356.28 247.7 356.34 244.0 356.40 244.1 356.46 245.1 356.52 247.2 356.58 245.9 356.64 246.9 356.70 246.1 356.76 247.3 356.82 245.9 356.88 244.6 356.94 246.3 357.00 245.6 357.06 248.5 357.12 245.1 357.18 245.6 357.24 244.9 357.30 247.4 357.36 246.9 357.42 246.5 357.48 243.2 357.54 242.8 357.60 245.9 357.66 246.7 357.72 248.0 357.78 242.3 357.84 245.1 357.90 242.4 357.96 243.6 358.02 244.9 358.08 246.9 358.14 244.2 358.20 243.8 358.26 244.5 358.32 247.2 358.38 249.1 358.44 242.1 358.50 244.2 358.56 243.9 358.62 246.7 358.68 245.3 358.74 247.2 358.80 242.8 358.86 244.6 358.92 243.8 358.98 242.7 359.04 244.4 359.10 242.7 359.16 248.6 359.22 245.6 359.28 243.2 359.34 244.0 359.40 248.2 359.46 244.4 359.52 246.6 359.58 246.5 359.64 247.5 359.70 246.8 359.76 245.4 359.82 244.9 359.88 242.9 359.94 246.1 360.00 246.5 360.06 245.7 360.12 246.2 360.18 244.3 360.24 250.3 360.30 245.7 360.36 244.8 360.42 245.5 360.48 246.3 360.54 247.9 360.60 242.3 360.66 247.5 360.72 245.5 360.78 246.2 360.84 248.3 360.90 247.9 360.96 245.4 361.02 246.4 361.08 249.9 361.14 249.1 361.20 248.3 361.26 246.9 361.32 248.6 361.38 247.7 361.44 246.1 361.50 245.4 361.56 248.1 361.62 248.0 361.68 249.5 361.74 246.6 361.80 250.0 361.86 246.9 361.92 249.8 361.98 248.5 362.04 246.6 362.10 245.9 362.16 247.4 362.22 247.1 362.28 249.2 362.34 246.3 362.40 244.9 362.46 247.5 362.52 250.9 362.58 250.4 362.64 246.4 362.70 247.0 362.76 248.0 362.82 246.3 362.88 247.0 362.94 246.9 363.00 245.5 363.06 246.2 363.12 246.4 363.18 247.6 363.24 245.0 363.30 247.2 363.36 245.2 363.42 245.5 363.48 244.8 363.54 253.8 363.60 248.9 363.66 249.0 363.72 248.0 363.78 246.1 363.84 246.5 363.90 246.9 363.96 247.1 364.02 247.2 364.08 248.8 364.14 240.9 364.20 245.1 364.26 247.2 364.32 245.3 364.38 245.7 364.44 248.6 364.50 246.3 364.56 249.1 364.62 246.0 364.68 246.5 364.74 244.3 364.80 242.7 364.86 245.5 364.92 246.4 364.98 245.8 365.04 244.1 365.10 247.7 365.16 246.7 365.22 246.6 365.28 245.3 365.34 249.5 365.40 249.2 365.46 247.1 365.52 246.3 365.58 246.9 365.64 249.3 365.70 251.2 365.76 246.1 365.82 245.2 365.88 242.7 365.94 250.6 366.00 243.7 366.06 247.0 366.12 246.2 366.18 247.5 366.24 243.5 366.30 242.0 366.36 245.0 366.42 245.3 366.48 246.4 366.54 241.3 366.60 243.3 366.66 243.5 366.72 241.4 366.78 243.4 366.84 244.9 366.90 243.3 366.96 240.7 367.02 243.7 367.08 244.5 367.14 243.8 367.20 244.2 367.26 239.8 367.32 243.4 367.38 243.6 367.44 241.8 367.50 242.4 367.56 241.1 367.62 244.6 367.68 241.9 367.74 240.8 367.80 242.8 367.86 242.7 367.92 243.8 367.98 241.2 368.04 241.6 368.10 243.5 368.16 246.9 368.22 243.9 368.28 240.9 368.34 243.7 368.40 242.3 368.46 240.6 368.52 242.8 368.58 243.2 368.64 245.1 368.70 246.9 368.76 246.7 368.82 246.3 368.88 244.3 368.94 245.5 369.00 245.2 369.06 247.9 369.12 244.4 369.18 244.7 369.24 248.3 369.30 246.8 369.36 245.0 369.42 246.1 369.48 246.1 369.54 246.1 369.60 247.2 369.66 246.3 369.72 245.3 369.78 244.7 369.84 242.4 369.90 244.6 369.96 247.2 370.02 245.4 370.08 243.7 370.14 244.2 370.20 243.0 370.26 244.7 370.32 247.5 370.38 247.0 370.44 245.7 370.50 244.7 370.56 242.7 370.62 240.6 370.68 242.6 370.74 241.5 370.80 243.5 370.86 242.1 370.92 240.6 370.98 242.1 371.04 246.3 371.10 239.4 371.16 242.9 371.22 241.8 371.28 240.5 371.34 239.3 371.40 240.6 371.46 241.0 371.52 242.0 371.58 241.9 371.64 241.4 371.70 239.7 371.76 241.5 371.82 240.3 371.88 239.5 371.94 243.0 372.00 240.4 372.06 239.6 372.12 242.0 372.18 238.6 372.24 242.0 372.30 243.0 372.36 241.5 372.42 242.8 372.48 246.2 372.54 245.0 372.60 244.3 372.66 243.7 372.72 241.9 372.78 242.6 372.84 242.4 372.90 243.0 372.96 243.3 373.02 241.7 373.08 246.0 373.14 241.5 373.20 244.0 373.26 245.2 373.32 243.4 373.38 242.3 373.44 243.5 373.50 246.9 373.56 244.6 373.62 243.0 373.68 244.6 373.74 243.2 373.80 240.2 373.86 243.9 373.92 245.2 373.98 245.3 374.04 243.0 374.10 240.5 374.16 245.0 374.22 242.4 374.28 243.8 374.34 244.3 374.40 242.8 374.46 241.9 374.52 240.7 374.58 240.9 374.64 241.5 374.70 240.5 374.76 241.8 374.82 237.6 374.88 239.2 374.94 240.9 375.00 239.7 375.06 239.9 375.12 238.9 375.18 242.1 375.24 243.9 375.30 239.3 375.36 243.2 375.42 238.7 375.48 241.6 375.54 238.0 375.60 242.5 375.66 241.8 375.72 242.1 375.78 244.1 375.84 243.2 375.90 242.2 375.96 240.9 376.02 242.6 376.08 241.4 376.14 242.0 376.20 245.4 376.26 244.4 376.32 243.4 376.38 244.0 376.44 240.4 376.50 243.1 376.56 239.9 376.62 241.7 376.68 243.4 376.74 243.4 376.80 243.9 376.86 242.9 376.92 242.7 376.98 242.5 377.04 245.0 377.10 244.8 377.16 240.0 377.22 242.7 377.28 244.8 377.34 242.1 377.40 243.0 377.46 241.6 377.52 240.6 377.58 243.0 377.64 242.2 377.70 242.7 377.76 240.5 377.82 241.1 377.88 243.0 377.94 242.5 378.00 244.4 378.06 241.6 378.12 244.8 378.18 244.6 378.24 243.9 378.30 244.9 378.36 243.7 378.42 243.6 378.48 243.9 378.54 241.8 378.60 244.0 378.66 245.5 378.72 241.3 378.78 245.3 378.84 243.0 378.90 243.4 378.96 244.2 379.02 244.4 379.08 246.3 379.14 243.5 379.20 246.7 379.26 243.6 379.32 244.3 379.38 244.5 379.44 242.0 379.50 241.1 379.56 243.1 379.62 244.0 379.68 244.1 379.74 241.8 379.80 245.4 379.86 242.0 379.92 240.9 379.98 244.0 380.04 244.0 380.10 240.1 380.16 243.1 380.22 239.3 380.28 241.4 380.34 245.2 380.40 243.4 380.46 242.3 380.52 242.1 380.58 239.5 380.64 241.4 380.70 241.5 380.76 238.9 380.82 241.0 380.88 241.6 380.94 241.0 381.00 241.4 381.06 240.3 381.12 238.7 381.18 240.8 381.24 237.4 381.30 239.6 381.36 242.8 381.42 244.0 381.48 241.7 381.54 236.8 381.60 243.4 381.66 242.1 381.72 240.9 381.78 242.6 381.84 242.2 381.90 239.3 381.96 239.1 382.02 243.2 382.08 237.4 382.14 242.5 382.20 242.1 382.26 243.3 382.32 244.6 382.38 243.9 382.44 244.3 382.50 243.1 382.56 242.6 382.62 243.6 382.68 241.7 382.74 240.2 382.80 241.6 382.86 239.0 382.92 240.8 382.98 245.4 383.04 242.7 383.10 241.5 383.16 240.8 383.22 238.8 383.28 240.9 383.34 240.5 383.40 241.8 383.46 242.0 383.52 241.7 383.58 238.4 383.64 244.3 383.70 242.5 383.76 241.7 383.82 241.1 383.88 242.4 383.94 243.8 384.00 242.6 384.06 239.5 384.12 239.3 384.18 237.3 384.24 241.6 384.30 242.6 384.36 243.5 384.42 241.6 384.48 242.7 384.54 239.7 384.60 242.2 384.66 241.1 384.72 240.1 384.78 238.3 384.84 243.3 384.90 237.4 384.96 242.4 385.02 240.0 385.08 242.5 385.14 240.5 385.20 242.9 385.26 241.3 385.32 239.9 385.38 240.9 385.44 239.1 385.50 242.5 385.56 243.9 385.62 242.8 385.68 242.3 385.74 244.4 385.80 240.0 385.86 243.0 385.92 241.9 385.98 241.0 386.04 242.6 386.10 239.5 386.16 241.1 386.22 241.7 386.28 238.9 386.34 240.3 386.40 241.3 386.46 241.8 386.52 238.3 386.58 241.3 386.64 239.0 386.70 239.4 386.76 238.1 386.82 240.2 386.88 237.4 386.94 238.9 387.00 238.9 387.06 239.4 387.12 236.2 387.18 239.3 387.24 237.9 387.30 240.3 387.36 237.2 387.42 236.8 387.48 237.7 387.54 237.4 387.60 237.7 387.66 235.9 387.72 234.7 387.78 235.9 387.84 237.6 387.90 239.6 387.96 238.5 388.02 237.5 388.08 239.1 388.14 239.6 388.20 244.4 388.26 241.9 388.32 240.0 388.38 237.2 388.44 239.4 388.50 239.2 388.56 240.7 388.62 243.4 388.68 239.5 388.74 236.1 388.80 239.3 388.86 236.4 388.92 240.8 388.98 241.1 389.04 239.7 389.10 236.4 389.16 238.6 389.22 240.9 389.28 237.0 389.34 237.6 389.40 239.0 389.46 239.4 389.52 238.6 389.58 238.9 389.64 238.6 389.70 237.1 389.76 237.9 389.82 238.5 389.88 236.0 389.94 238.2 390.00 238.0 390.06 238.6 390.12 238.4 390.18 235.9 390.24 235.5 390.30 238.1 390.36 237.4 390.42 237.8 390.48 236.6 390.54 235.4 390.60 238.1 390.66 237.3 390.72 238.6 390.78 239.4 390.84 239.4 390.90 239.2 390.96 235.7 391.02 233.6 391.08 236.2 391.14 235.1 391.20 234.9 391.26 238.3 391.32 234.3 391.38 238.7 391.44 239.0 391.50 241.6 391.56 238.7 391.62 240.5 391.68 235.6 391.74 235.4 391.80 238.2 391.86 234.1 391.92 238.2 391.98 235.6 392.04 232.5 392.10 239.0 392.16 233.7 392.22 239.8 392.28 232.7 392.34 233.7 392.40 235.4 392.46 234.9 392.52 232.0 392.58 234.9 392.64 235.0 392.70 235.4 392.76 231.7 392.82 233.5 392.88 234.4 392.94 236.1 393.00 235.0 393.06 234.3 393.12 234.3 393.18 237.7 393.24 233.9 393.30 236.1 393.36 232.0 393.42 239.0 393.48 237.0 393.54 233.4 393.60 237.7 393.66 239.3 393.72 238.6 393.78 237.5 393.84 239.1 393.90 236.5 393.96 237.6 394.02 237.6 394.08 238.6 394.14 236.8 394.20 241.2 394.26 238.7 394.32 237.1 394.38 238.7 394.44 239.8 394.50 239.2 394.56 241.1 394.62 238.5 394.68 237.8 394.74 240.0 394.80 241.3 394.86 237.3 394.92 236.1 394.98 237.6 395.04 238.5 395.10 236.7 395.16 238.6 395.22 236.6 395.28 239.6 395.34 235.8 395.40 236.1 395.46 237.7 395.52 238.6 395.58 238.9 395.64 235.9 395.70 237.0 395.76 237.8 395.82 239.2 395.88 235.0 395.94 234.3 396.00 237.2 396.06 235.8 396.12 238.5 396.18 236.1 396.24 236.6 396.30 234.6 396.36 236.5 396.42 238.2 396.48 235.7 396.54 234.1 396.60 237.8 396.66 235.8 396.72 236.5 396.78 235.3 396.84 238.3 396.90 235.5 396.96 236.0 397.02 237.0 397.08 236.7 397.14 233.3 397.20 238.1 397.26 235.3 397.32 237.9 397.38 236.8 397.44 237.4 397.50 236.3 397.56 235.8 397.62 238.0 397.68 238.1 397.74 239.5 397.80 238.7 397.86 236.5 397.92 239.7 397.98 241.5 398.04 238.9 398.10 237.2 398.16 235.8 398.22 237.6 398.28 234.9 398.34 238.7 398.40 236.6 398.46 236.2 398.52 237.6 398.58 234.8 398.64 233.9 398.70 236.0 398.76 238.8 398.82 235.1 398.88 238.0 398.94 233.1 399.00 236.1 399.06 237.0 399.12 239.2 399.18 232.9 399.24 235.7 399.30 234.2 399.36 236.2 399.42 234.6 399.48 235.7 399.54 234.1 399.60 234.3 399.66 235.9 399.72 237.8 399.78 235.5 399.84 235.3 399.90 234.3 399.96 237.8 400.02 231.6 400.08 231.5 400.14 233.7 400.20 235.8 400.26 236.7 400.32 236.0 400.38 236.3 400.44 235.3 400.50 234.2 400.56 233.2 400.62 235.8 400.68 233.3 400.74 235.7 400.80 236.2 400.86 233.8 400.92 234.1 400.98 233.8 401.04 235.9 401.10 234.9 401.16 233.3 401.22 234.9 401.28 236.9 401.34 234.6 401.40 234.2 401.46 233.1 401.52 232.1 401.58 233.6 401.64 233.6 401.70 232.8 401.76 235.4 401.82 232.8 401.88 232.9 401.94 233.5 402.00 234.0 402.06 230.0 402.12 233.5 402.18 235.2 402.24 231.0 402.30 233.6 402.36 232.0 402.42 231.2 402.48 233.4 402.54 232.8 402.60 229.3 402.66 231.9 402.72 234.4 402.78 232.0 402.84 231.7 402.90 232.4 402.96 232.3 403.02 234.4 403.08 231.7 403.14 231.2 403.20 234.0 403.26 235.1 403.32 234.6 403.38 234.9 403.44 232.4 403.50 231.0 403.56 232.4 403.62 233.6 403.68 230.7 403.74 233.2 403.80 234.8 403.86 232.6 403.92 237.3 403.98 235.2 404.04 231.8 404.10 232.0 404.16 232.8 404.22 235.3 404.28 234.9 404.34 233.1 404.40 234.4 404.46 235.5 404.52 235.0 404.58 231.3 404.64 232.1 404.70 232.3 404.76 230.9 404.82 235.3 404.88 232.6 404.94 232.5 405.00 232.2 405.06 234.1 405.12 234.5 405.18 234.7 405.24 235.7 405.30 231.9 405.36 236.3 405.42 237.8 405.48 232.7 405.54 233.0 405.60 234.8 405.66 236.0 405.72 233.5 405.78 232.6 405.84 237.8 405.90 233.4 405.96 229.7 406.02 235.5 406.08 236.4 406.14 237.8 406.20 238.0 406.26 240.4 406.32 234.2 406.38 233.6 406.44 232.9 406.50 238.5 406.56 234.8 406.62 232.7 406.68 232.1 406.74 236.0 406.80 235.1 406.86 236.5 406.92 234.5 406.98 234.7 407.04 236.8 407.10 235.7 407.16 237.0 407.22 235.8 407.28 235.5 407.34 236.5 407.40 235.2 407.46 236.0 407.52 236.3 407.58 234.5 407.64 235.0 407.70 235.2 407.76 236.0 407.82 235.0 407.88 234.8 407.94 234.9 408.00 233.3 408.06 234.2 408.12 232.1 408.18 229.9 408.24 233.6 408.30 229.2 408.36 232.2 408.42 234.9 408.48 233.3 408.54 230.1 408.60 233.0 408.66 232.0 408.72 230.0 408.78 231.1 408.84 230.2 408.90 230.5 408.96 231.5 409.02 228.1 409.08 232.2 409.14 234.1 409.20 230.3 409.26 228.9 409.32 229.9 409.38 232.7 409.44 229.7 409.50 231.5 409.56 234.7 409.62 229.5 409.68 231.0 409.74 229.9 409.80 230.3 409.86 231.2 409.92 229.7 409.98 231.8 410.04 231.3 410.10 233.1 410.16 232.2 410.22 231.7 410.28 233.6 410.34 230.7 410.40 232.1 410.46 229.9 410.52 233.5 410.58 229.7 410.64 232.7 410.70 229.7 410.76 231.4 410.82 229.2 410.88 229.7 410.94 229.4 411.00 231.9 411.06 232.1 411.12 232.6 411.18 232.0 411.24 231.0 411.30 232.6 411.36 234.2 411.42 230.9 411.48 230.3 411.54 232.6 411.60 235.3 411.66 231.7 411.72 231.3 411.78 230.2 411.84 230.8 411.90 230.6 411.96 230.6 412.02 234.2 412.08 234.7 412.14 232.8 412.20 232.8 412.26 234.1 412.32 232.8 412.38 233.0 412.44 233.8 412.50 232.7 412.56 235.0 412.62 238.4 412.68 232.7 412.74 233.1 412.80 231.0 412.86 231.6 412.92 232.4 412.98 232.8 413.04 231.6 413.10 229.7 413.16 232.3 413.22 230.6 413.28 232.0 413.34 230.8 413.40 230.8 413.46 230.8 413.52 227.1 413.58 232.8 413.64 229.0 413.70 231.0 413.76 231.3 413.82 229.2 413.88 227.7 413.94 231.0 414.00 228.2 414.06 229.7 414.12 230.5 414.18 228.8 414.24 226.5 414.30 228.2 414.36 230.1 414.42 227.7 414.48 230.6 414.54 226.2 414.60 227.1 414.66 225.6 414.72 226.8 414.78 231.0 414.84 229.2 414.90 227.6 414.96 226.9 415.02 229.9 415.08 227.6 415.14 226.0 415.20 230.3 415.26 225.3 415.32 227.8 415.38 228.6 415.44 229.1 415.50 230.9 415.56 228.9 415.62 226.2 415.68 229.4 415.74 228.0 415.80 225.3 415.86 225.6 415.92 226.1 415.98 223.8 416.04 228.3 416.10 228.6 416.16 228.5 416.22 226.1 416.28 227.4 416.34 229.6 416.40 228.1 416.46 227.1 416.52 226.0 416.58 227.1 416.64 229.3 416.70 227.1 416.76 230.9 416.82 231.1 416.88 228.0 416.94 223.8 417.00 226.1 417.06 228.7 417.12 225.4 417.18 225.1 417.24 226.3 417.30 230.9 417.36 225.4 417.42 222.8 417.48 226.7 417.54 226.9 417.60 227.6 417.66 226.5 417.72 227.1 417.78 225.7 417.84 228.3 417.90 226.7 417.96 227.8 418.02 225.7 418.08 229.5 418.14 227.6 418.20 226.5 418.26 227.4 418.32 225.4 418.38 226.3 418.44 228.9 418.50 228.5 418.56 228.9 418.62 228.6 418.68 226.9 418.74 227.5 418.80 230.6 418.86 227.0 418.92 224.4 418.98 227.0 419.04 226.2 419.10 226.7 419.16 226.9 419.22 225.0 419.28 227.5 419.34 226.5 419.40 227.7 419.46 225.5 419.52 224.9 419.58 225.9 419.64 229.5 419.70 223.4 419.76 228.4 419.82 226.4 419.88 228.4 419.94 225.7 420.00 227.0 420.06 226.9 420.12 229.9 420.18 225.9 420.24 226.4 420.30 224.5 420.36 226.3 420.42 224.3 420.48 225.3 420.54 226.0 420.60 226.2 420.66 223.5 420.72 223.4 420.78 226.9 420.84 223.8 420.90 224.9 420.96 224.0 421.02 221.7 421.08 224.2 421.14 224.1 421.20 227.3 421.26 220.9 421.32 223.2 421.38 225.2 421.44 223.2 421.50 220.4 421.56 225.2 421.62 224.5 421.68 222.7 421.74 222.5 421.80 223.0 421.86 224.5 421.92 223.9 421.98 223.1 422.04 224.8 422.10 226.0 422.16 223.0 422.22 226.7 422.28 224.0 422.34 224.9 422.40 224.5 422.46 224.5 422.52 223.9 422.58 219.4 422.64 221.5 422.70 224.6 422.76 221.1 422.82 223.0 422.88 219.9 422.94 221.5 423.00 225.1 423.06 222.8 423.12 220.7 423.18 221.1 423.24 219.2 423.30 222.9 423.36 221.6 423.42 223.3 423.48 223.4 423.54 221.5 423.60 220.3 423.66 219.9 423.72 221.3 423.78 222.0 423.84 224.4 423.90 220.3 423.96 222.8 424.02 220.3 424.08 221.1 424.14 223.5 424.20 223.1 424.26 221.4 424.32 221.2 424.38 224.3 424.44 222.2 424.50 222.0 424.56 220.7 424.62 226.9 424.68 225.8 424.74 223.5 424.80 226.5 424.86 223.5 424.92 222.0 424.98 223.5 425.04 225.0 425.10 220.5 425.16 224.6 425.22 224.4 425.28 224.9 425.34 223.0 425.40 224.0 425.46 219.0 425.52 221.8 425.58 223.6 425.64 222.6 425.70 222.0 425.76 219.2 425.82 221.0 425.88 218.1 425.94 220.5 426.00 221.4 426.06 219.7 426.12 221.3 426.18 220.3 426.24 221.7 426.30 219.3 426.36 217.0 426.42 217.4 426.48 218.1 426.54 219.3 426.60 219.4 426.66 217.8 426.72 219.2 426.78 217.8 426.84 219.9 426.90 216.4 426.96 220.7 427.02 219.0 427.08 217.8 427.14 216.5 427.20 219.2 427.26 217.2 427.32 219.2 427.38 221.2 427.44 218.3 427.50 218.3 427.56 218.8 427.62 216.9 427.68 221.2 427.74 217.4 427.80 218.9 427.86 218.3 427.92 216.7 427.98 220.1 428.04 218.3 428.10 216.6 428.16 216.6 428.22 214.4 428.28 215.9 428.34 219.2 428.40 219.2 428.46 216.2 428.52 218.9 428.58 219.5 428.64 219.1 428.70 220.0 428.76 214.5 428.82 218.2 428.88 216.2 428.94 219.0 429.00 216.6 429.06 218.1 429.12 219.4 429.18 215.1 429.24 216.7 429.30 216.6 429.36 217.7 429.42 215.0 429.48 219.1 429.54 221.0 429.60 217.1 429.66 218.4 429.72 212.8 429.78 215.2 429.84 218.3 429.90 217.6 429.96 218.1 430.02 219.2 430.08 216.9 430.14 216.2 430.20 215.7 430.26 216.5 430.32 212.6 430.38 218.7 430.44 212.2 430.50 213.1 430.56 215.8 430.62 217.2 430.68 216.4 430.74 217.9 430.80 214.3 430.86 213.8 430.92 215.8 430.98 212.7 431.04 214.9 431.10 215.2 431.16 214.7 431.22 210.5 431.28 213.6 431.34 210.3 431.40 215.3 431.46 213.0 431.52 215.5 431.58 216.0 431.64 211.4 431.70 215.4 431.76 214.5 431.82 216.5 431.88 211.7 431.94 211.8 432.00 212.7 432.06 210.9 432.12 214.4 432.18 213.0 432.24 214.7 432.30 215.1 432.36 216.0 432.42 212.4 432.48 216.0 432.54 216.1 432.60 213.3 432.66 214.1 432.72 212.7 432.78 217.6 432.84 217.9 432.90 214.2 432.96 215.6 433.02 216.6 433.08 217.2 433.14 215.9 433.20 218.9 433.26 214.4 433.32 217.5 433.38 216.2 433.44 216.5 433.50 214.6 433.56 212.8 433.62 214.8 433.68 216.4 433.74 214.0 433.80 212.3 433.86 214.8 433.92 214.9 433.98 213.0 434.04 214.4 434.10 215.1 434.16 214.6 434.22 215.6 434.28 215.9 434.34 213.5 434.40 211.9 434.46 210.0 434.52 214.5 434.58 213.1 434.64 214.0 434.70 210.5 434.76 211.8 434.82 209.9 434.88 209.5 434.94 208.2 435.00 210.1 435.06 211.1 435.12 211.4 435.18 210.3 435.24 209.1 435.30 212.9 435.36 211.9 435.42 210.8 435.48 209.1 435.54 210.9 435.60 207.2 435.66 206.1 435.72 209.2 435.78 208.2 435.84 209.6 435.90 206.2 435.96 208.0 436.02 205.5 436.08 206.7 436.14 208.0 436.20 207.0 436.26 205.5 436.32 204.6 436.38 206.5 436.44 205.6 436.50 204.7 436.56 207.5 436.62 205.9 436.68 209.8 436.74 211.3 436.80 209.8 436.86 212.9 436.92 206.1 436.98 205.4 437.04 208.2 437.10 205.4 437.16 208.7 437.22 210.0 437.28 209.8 437.34 210.1 437.40 207.9 437.46 208.1 437.52 208.5 437.58 207.9 437.64 209.4 437.70 206.9 437.76 207.4 437.82 206.0 437.88 208.7 437.94 207.0 438.00 206.8 438.06 205.4 438.12 202.9 438.18 205.0 438.24 201.7 438.30 205.1 438.36 202.9 438.42 207.0 438.48 203.5 438.54 204.3 438.60 203.2 438.66 201.9 438.72 201.0 438.78 199.2 438.84 201.5 438.90 199.2 438.96 203.2 439.02 199.5 439.08 200.2 439.14 200.6 439.20 200.1 439.26 201.6 439.32 199.5 439.38 198.6 439.44 198.7 439.50 200.7 439.56 199.6 439.62 195.7 439.68 198.1 439.74 197.0 439.80 198.2 439.86 198.9 439.92 197.9 439.98 198.6 440.04 199.9 440.10 195.0 440.16 197.2 440.22 197.1 440.28 197.4 440.34 196.7 440.40 197.7 440.46 196.1 440.52 196.5 440.58 193.5 440.64 195.7 440.70 193.5 440.76 195.8 440.82 197.2 440.88 194.5 440.94 195.0 441.00 195.2 441.06 196.0 441.12 195.1 441.18 195.6 441.24 193.1 441.30 193.7 441.36 191.7 441.42 196.7 441.48 191.9 441.54 194.8 441.60 193.7 441.66 193.6 441.72 191.7 441.78 193.3 441.84 193.4 441.90 193.8 441.96 192.7 442.02 193.4 442.08 191.7 442.14 194.7 442.20 192.0 442.26 197.9 442.32 192.3 442.38 191.8 442.44 192.9 442.50 192.3 442.56 193.9 442.62 194.0 442.68 191.3 442.74 191.2 442.80 190.9 442.86 192.5 442.92 193.1 442.98 192.5 443.04 191.3 443.10 191.4 443.16 192.2 443.22 192.9 443.28 191.1 443.34 192.8 443.40 190.7 443.46 191.4 443.52 192.8 443.58 190.1 443.64 189.0 443.70 190.0 443.76 191.6 443.82 190.5 443.88 192.0 443.94 194.3 444.00 192.2 444.06 194.8 444.12 194.5 444.18 192.1 444.24 195.2 444.30 195.3 444.36 195.8 444.42 195.0 444.48 195.3 444.54 194.4 444.60 194.2 444.66 195.5 444.72 196.7 444.78 195.0 444.84 198.3 444.90 195.5 444.96 196.6 445.02 194.3 445.08 198.3 445.14 197.1 445.20 197.8 445.26 194.2 445.32 197.8 445.38 196.3 445.44 194.6 445.50 194.8 445.56 193.1 445.62 194.7 445.68 196.0 445.74 193.4 445.80 194.9 445.86 192.5 445.92 190.3 445.98 193.6 446.04 195.7 446.10 195.2 446.16 192.5 446.22 195.0 446.28 194.6 446.34 193.6 446.40 192.4 446.46 194.2 446.52 192.6 446.58 192.1 446.64 194.0 446.70 191.5 446.76 193.4 446.82 194.4 446.88 191.3 446.94 192.5 447.00 192.9 447.06 189.6 447.12 191.3 447.18 191.1 447.24 191.0 447.30 190.4 447.36 193.3 447.42 190.2 447.48 191.1 447.54 192.0 447.60 193.2 447.66 188.6 447.72 188.9 447.78 189.0 447.84 189.9 447.90 191.5 447.96 189.8 448.02 190.0 448.08 191.8 448.14 189.1 448.20 189.6 448.26 192.0 448.32 190.2 448.38 188.2 448.44 188.0 448.50 190.5 448.56 187.3 448.62 187.6 448.68 190.0 448.74 190.8 448.80 191.4 448.86 187.8 448.92 190.0 448.98 184.8 449.04 188.4 449.10 193.9 449.16 192.1 449.22 191.1 449.28 189.0 449.34 188.8 449.40 192.3 449.46 190.7 449.52 190.0 449.58 192.4 449.64 192.5 449.70 190.7 449.76 191.3 449.82 195.2 449.88 190.8 449.94 193.7 450.00 191.4 450.06 191.3 450.12 191.1 450.18 192.5 450.24 192.7 450.30 193.8 450.36 191.7 450.42 193.4 450.48 192.0 450.54 191.7 450.60 193.6 450.66 193.3 450.72 190.5 450.78 192.7 450.84 189.9 450.90 190.8 450.96 194.4 451.02 193.9 451.08 191.6 451.14 192.6 451.20 193.3 451.26 193.8 451.32 193.6 451.38 189.9 451.44 190.7 451.50 190.7 451.56 187.0 451.62 189.1 451.68 190.5 451.74 189.5 451.80 188.7 451.86 187.8 451.92 188.5 451.98 189.2 452.04 188.7 452.10 190.7 452.16 190.3 452.22 187.4 452.28 190.5 452.34 189.3 452.40 190.5 452.46 188.6 452.52 190.9 452.58 188.8 452.64 191.3 452.70 190.0 452.76 189.8 452.82 188.5 452.88 188.2 452.94 191.8 453.00 189.1 453.06 189.1 453.12 191.4 453.18 190.9 453.24 191.7 453.30 189.1 453.36 187.9 453.42 189.6 453.48 192.2 453.54 190.7 453.60 191.3 453.66 191.3 453.72 190.8 453.78 190.7 453.84 190.0 453.90 190.5 453.96 190.6 454.02 189.1 454.08 190.7 454.14 189.8 454.20 189.6 454.26 189.4 454.32 190.8 454.38 189.4 454.44 191.3 454.50 188.2 454.56 190.5 454.62 187.6 454.68 189.9 454.74 189.2 454.80 189.3 454.86 188.6 454.92 190.1 454.98 191.0 455.04 187.7 455.10 190.2 455.16 190.7 455.22 191.4 455.28 191.2 455.34 189.2 455.40 192.2 455.46 189.7 455.52 191.7 455.58 191.4 455.64 190.4 455.70 190.0 455.76 191.1 455.82 193.4 455.88 192.4 455.94 190.7 456.00 192.6 456.06 193.9 456.12 194.5 456.18 189.1 456.24 192.4 456.30 192.5 456.36 190.2" stroke="#2b489f" stroke-width="0.9" fill="none" stroke-linejoin="round"/>
<path d="M335.3 192H456.5" stroke="#7a7a7a" stroke-width="1.25" stroke-dasharray="2.6 2.65" fill="none"/>
<path d="M439.3 176.5V263.4" stroke="#e3213b" stroke-width="0.95" stroke-dasharray="2.4 1.6" fill="none"/>
<text x="473.6" y="9.4" font-size="12.5" fill="#111" font-weight="bold" stroke="#111" stroke-width="0.45">c</text>
<text x="478" y="18.3" font-size="9" fill="#333">(i)</text>
<path d="M498.7 18.9V117.4" stroke="#808080" stroke-width="0.8" fill="none"/>
<path d="M496.4 18.9H498.7M496.4 38.6H498.7M496.4 58.3H498.7M496.4 78H498.7M496.4 97.7H498.7M496.4 117.4H498.7" stroke="#808080" stroke-width="0.8" fill="none"/>
<text x="493.4" y="21.3" font-size="7.5" fill="#4a4a4a" text-anchor="end" textLength="4.42" lengthAdjust="spacingAndGlyphs">5</text>
<text x="493.4" y="41" font-size="7.5" fill="#4a4a4a" text-anchor="end" textLength="4.42" lengthAdjust="spacingAndGlyphs">4</text>
<text x="493.4" y="60.7" font-size="7.5" fill="#4a4a4a" text-anchor="end" textLength="4.42" lengthAdjust="spacingAndGlyphs">3</text>
<text x="493.4" y="80.4" font-size="7.5" fill="#4a4a4a" text-anchor="end" textLength="4.42" lengthAdjust="spacingAndGlyphs">2</text>
<text x="493.4" y="100.1" font-size="7.5" fill="#4a4a4a" text-anchor="end" textLength="4.42" lengthAdjust="spacingAndGlyphs">1</text>
<text x="493.4" y="119.8" font-size="7.5" fill="#4a4a4a" text-anchor="end" textLength="4.42" lengthAdjust="spacingAndGlyphs">0</text>
<path d="M498.7 117.4H611.5" stroke="#808080" stroke-width="0.8" fill="none"/>
<path d="M499 117.4V119.7M521.5 117.4V119.7M544 117.4V119.7M566.5 117.4V119.7M589 117.4V119.7M611.5 117.4V119.7" stroke="#808080" stroke-width="0.8" fill="none"/>
<text x="499" y="128.4" font-size="7.5" fill="#4a4a4a" text-anchor="middle" textLength="15.69" lengthAdjust="spacingAndGlyphs">−0.4</text>
<text x="521.5" y="128.4" font-size="7.5" fill="#4a4a4a" text-anchor="middle" textLength="4.42" lengthAdjust="spacingAndGlyphs">0</text>
<text x="544" y="128.4" font-size="7.5" fill="#4a4a4a" text-anchor="middle" textLength="11.05" lengthAdjust="spacingAndGlyphs">0.4</text>
<text x="566.5" y="128.4" font-size="7.5" fill="#4a4a4a" text-anchor="middle" textLength="11.05" lengthAdjust="spacingAndGlyphs">0.8</text>
<text x="589" y="128.4" font-size="7.5" fill="#4a4a4a" text-anchor="middle" textLength="11.05" lengthAdjust="spacingAndGlyphs">1.2</text>
<text x="611.5" y="128.4" font-size="7.5" fill="#4a4a4a" text-anchor="middle" textLength="11.05" lengthAdjust="spacingAndGlyphs">1.6</text>
<text transform="translate(481.2,70.5) rotate(-90)" font-size="9" fill="#333" text-anchor="middle">Sleep distance <tspan font-style="italic">s</tspan> (s.d.)</text>
<text x="556" y="141.2" font-size="9" fill="#333" text-anchor="middle">Peak beta frequency</text>
<text x="556" y="151.6" font-size="9" fill="#333" text-anchor="middle">(<tspan font-style="italic">z</tspan>-score)</text>
<defs><linearGradient id="g1" x1="0" y1="0" x2="0" y2="1"><stop offset="0.0000" stop-color="#e6e43c"/><stop offset="0.0571" stop-color="#eeda37"/><stop offset="0.1000" stop-color="#f2c832"/><stop offset="0.1427" stop-color="#f0b437"/><stop offset="0.1430" stop-color="#eca83a"/><stop offset="0.1857" stop-color="#deb034"/><stop offset="0.2286" stop-color="#beb83a"/><stop offset="0.2857" stop-color="#87ba50"/><stop offset="0.3571" stop-color="#50b06e"/><stop offset="0.4286" stop-color="#22a78e"/><stop offset="0.5143" stop-color="#16aac0"/><stop offset="0.5857" stop-color="#16a6de"/><stop offset="0.6571" stop-color="#288ed4"/><stop offset="0.7143" stop-color="#327cca"/><stop offset="0.7714" stop-color="#376cc0"/><stop offset="0.8857" stop-color="#3c5caf"/><stop offset="1.0000" stop-color="#3e4296"/></linearGradient></defs>
<rect x="618.8" y="18.5" width="6.1" height="99.5" fill="url(#g1)" stroke="#777" stroke-width="0.6"/>
<text x="627.5" y="21" font-size="7.5" fill="#4a4a4a">10</text>
<path d="M623.7 32.71H624.9" stroke="#333" stroke-width="0.6"/>
<text x="627.5" y="35.21" font-size="7.5" fill="#4a4a4a">0</text>
<path d="M623.7 46.93H624.9" stroke="#333" stroke-width="0.6"/>
<text x="627.5" y="49.43" font-size="7.5" fill="#4a4a4a">−10</text>
<path d="M623.7 61.14H624.9" stroke="#333" stroke-width="0.6"/>
<text x="627.5" y="63.64" font-size="7.5" fill="#4a4a4a">−20</text>
<path d="M623.7 75.36H624.9" stroke="#333" stroke-width="0.6"/>
<text x="627.5" y="77.86" font-size="7.5" fill="#4a4a4a">−30</text>
<path d="M623.7 89.57H624.9" stroke="#333" stroke-width="0.6"/>
<text x="627.5" y="92.07" font-size="7.5" fill="#4a4a4a">−40</text>
<path d="M623.7 103.79H624.9" stroke="#333" stroke-width="0.6"/>
<text x="627.5" y="106.29" font-size="7.5" fill="#4a4a4a">−50</text>
<text x="627.5" y="120.5" font-size="7.5" fill="#4a4a4a">−60</text>
<rect x="618.5" y="31.91" width="6.7" height="1.6" fill="#e3202e"/>
<text x="637.6" y="36.4" font-size="9" fill="#e8404e" textLength="46.8" lengthAdjust="spacingAndGlyphs">Sleep onset</text>
<text transform="translate(647.6,47.9) rotate(90)" font-size="9" fill="#333" textLength="41.8" lengthAdjust="spacingAndGlyphs">Time (min)</text>
<path d="M603.7 28.4h1.9v1.9h-1.9z" fill="#3e4296"/>
<path d="M602.4 27.6h1.9v1.9h-1.9z" fill="#3e4397"/>
<path d="M602.0 28.3h1.9v1.9h-1.9z" fill="#3e4498"/>
<path d="M603.2 27.7h1.9v1.9h-1.9z" fill="#3e4599"/>
<path d="M601.3 29.9h1.9v1.9h-1.9z" fill="#3e469a"/>
<path d="M603.0 29.0h1.9v1.9h-1.9z" fill="#3e479b"/>
<path d="M601.9 28.0h1.9v1.9h-1.9z" fill="#3e489c"/>
<path d="M601.7 30.5h1.9v1.9h-1.9z" fill="#3d4a9d"/>
<path d="M603.3 31.3h1.9v1.9h-1.9z" fill="#3d4b9e"/>
<path d="M604.3 29.3h1.9v1.9h-1.9z" fill="#3d4c9f"/>
<path d="M600.9 30.0h1.9v1.9h-1.9z" fill="#3d4da0"/>
<path d="M601.6 29.1h1.9v1.9h-1.9z" fill="#3d4ea1"/>
<path d="M602.9 29.2h1.9v1.9h-1.9z" fill="#3d4fa2"/>
<path d="M604.3 31.2h1.9v1.9h-1.9z" fill="#3d50a4"/>
<path d="M603.3 29.9h1.9v1.9h-1.9z" fill="#3d51a5"/>
<path d="M604.8 28.7h1.9v1.9h-1.9z" fill="#3d52a6"/>
<path d="M605.0 29.3h1.9v1.9h-1.9z" fill="#3d53a7"/>
<path d="M604.2 28.9h1.9v1.9h-1.9z" fill="#3d54a8"/>
<path d="M603.1 28.7h1.9v1.9h-1.9z" fill="#3c56a9"/>
<path d="M603.9 27.9h1.9v1.9h-1.9z" fill="#3c57aa"/>
<path d="M603.4 30.4h1.9v1.9h-1.9z" fill="#3c58ab"/>
<path d="M604.1 31.3h1.9v1.9h-1.9z" fill="#3c59ac"/>
<path d="M602.4 28.5h1.9v1.9h-1.9z" fill="#3c5aad"/>
<path d="M602.0 28.0h1.9v1.9h-1.9z" fill="#3c5bae"/>
<path d="M602.2 27.5h1.9v1.9h-1.9z" fill="#3c5caf"/>
<path d="M603.9 28.4h1.9v1.9h-1.9zM604.1 29.9h1.9v1.9h-1.9z" fill="#3c5db0"/>
<path d="M604.9 30.4h1.9v1.9h-1.9z" fill="#3b5eb1"/>
<path d="M603.3 28.6h1.9v1.9h-1.9z" fill="#3b5fb2"/>
<path d="M604.3 29.2h1.9v1.9h-1.9z" fill="#3b5fb3"/>
<path d="M599.3 31.4h1.9v1.9h-1.9z" fill="#3b60b3"/>
<path d="M603.3 31.0h1.9v1.9h-1.9z" fill="#3b61b4"/>
<path d="M602.4 32.8h1.9v1.9h-1.9z" fill="#3a61b5"/>
<path d="M601.7 33.1h1.9v1.9h-1.9z" fill="#3a62b5"/>
<path d="M600.6 30.2h1.9v1.9h-1.9z" fill="#3a63b6"/>
<path d="M603.2 31.8h1.9v1.9h-1.9z" fill="#3a63b7"/>
<path d="M602.0 31.1h1.9v1.9h-1.9z" fill="#3a64b7"/>
<path d="M603.0 30.7h1.9v1.9h-1.9z" fill="#3964b8"/>
<path d="M599.6 30.4h1.9v1.9h-1.9z" fill="#3965b9"/>
<path d="M599.6 30.3h1.9v1.9h-1.9z" fill="#3966b9"/>
<path d="M602.1 31.5h1.9v1.9h-1.9z" fill="#3966ba"/>
<path d="M600.4 32.6h1.9v1.9h-1.9z" fill="#3967bb"/>
<path d="M599.5 32.3h1.9v1.9h-1.9z" fill="#3868bb"/>
<path d="M601.7 29.1h1.9v1.9h-1.9z" fill="#3868bc"/>
<path d="M599.6 31.4h1.9v1.9h-1.9z" fill="#3869bd"/>
<path d="M602.5 31.3h1.9v1.9h-1.9z" fill="#386abd"/>
<path d="M601.4 29.7h1.9v1.9h-1.9z" fill="#386abe"/>
<path d="M600.8 32.0h1.9v1.9h-1.9z" fill="#376bbf"/>
<path d="M599.9 29.8h1.9v1.9h-1.9z" fill="#376cbf"/>
<path d="M602.2 31.4h1.9v1.9h-1.9z" fill="#376cc0"/>
<path d="M601.9 31.5h1.9v1.9h-1.9z" fill="#366ec1"/>
<path d="M601.0 31.7h1.9v1.9h-1.9z" fill="#366fc2"/>
<path d="M603.0 30.9h1.9v1.9h-1.9z" fill="#3670c3"/>
<path d="M602.3 32.2h1.9v1.9h-1.9z" fill="#3571c3"/>
<path d="M600.2 31.7h1.9v1.9h-1.9z" fill="#3573c4"/>
<path d="M596.5 33.3h1.9v1.9h-1.9z" fill="#3474c5"/>
<path d="M600.0 33.7h1.9v1.9h-1.9z" fill="#3475c6"/>
<path d="M597.4 32.3h1.9v1.9h-1.9z" fill="#3476c6"/>
<path d="M597.1 29.9h1.9v1.9h-1.9z" fill="#3477c7"/>
<path d="M600.0 32.5h1.9v1.9h-1.9z" fill="#3378c8"/>
<path d="M598.9 30.8h1.9v1.9h-1.9z" fill="#3379c8"/>
<path d="M599.9 33.3h1.9v1.9h-1.9z" fill="#327ac9"/>
<path d="M597.4 33.5h1.9v1.9h-1.9z" fill="#327bca"/>
<path d="M598.1 32.1h1.9v1.9h-1.9z" fill="#327dca"/>
<path d="M598.1 34.7h1.9v1.9h-1.9z" fill="#317ecb"/>
<path d="M598.4 32.8h1.9v1.9h-1.9z" fill="#307fcc"/>
<path d="M599.5 33.3h1.9v1.9h-1.9z" fill="#3080cc"/>
<path d="M596.8 33.6h1.9v1.9h-1.9z" fill="#2f81cd"/>
<path d="M599.1 31.6h1.9v1.9h-1.9z" fill="#2e83ce"/>
<path d="M598.3 30.3h1.9v1.9h-1.9z" fill="#2e84ce"/>
<path d="M597.8 31.9h1.9v1.9h-1.9z" fill="#2d85cf"/>
<path d="M598.9 32.5h1.9v1.9h-1.9z" fill="#2c86d0"/>
<path d="M596.7 32.8h1.9v1.9h-1.9z" fill="#2c87d0"/>
<path d="M597.4 34.6h1.9v1.9h-1.9z" fill="#2b89d1"/>
<path d="M596.8 31.6h1.9v1.9h-1.9z" fill="#2a8ad2"/>
<path d="M596.3 30.7h1.9v1.9h-1.9z" fill="#2a8bd2"/>
<path d="M598.6 33.8h1.9v1.9h-1.9z" fill="#298cd3"/>
<path d="M598.5 34.1h1.9v1.9h-1.9z" fill="#288dd4"/>
<path d="M599.0 33.4h1.9v1.9h-1.9z" fill="#288fd4"/>
<path d="M600.4 32.2h1.9v1.9h-1.9z" fill="#2790d5"/>
<path d="M599.5 32.4h1.9v1.9h-1.9z" fill="#2691d5"/>
<path d="M598.9 30.1h1.9v1.9h-1.9z" fill="#2592d6"/>
<path d="M597.3 34.2h1.9v1.9h-1.9z" fill="#2494d6"/>
<path d="M598.2 30.6h1.9v1.9h-1.9z" fill="#2395d7"/>
<path d="M599.6 33.8h1.9v1.9h-1.9z" fill="#2296d7"/>
<path d="M595.3 37.1h1.9v1.9h-1.9z" fill="#2198d8"/>
<path d="M597.5 38.8h1.9v1.9h-1.9z" fill="#2099d9"/>
<path d="M594.4 35.1h1.9v1.9h-1.9z" fill="#1f9ad9"/>
<path d="M594.9 35.1h1.9v1.9h-1.9z" fill="#1e9cda"/>
<path d="M597.4 34.1h1.9v1.9h-1.9z" fill="#1d9dda"/>
<path d="M594.5 33.0h1.9v1.9h-1.9z" fill="#1c9edb"/>
<path d="M596.9 37.6h1.9v1.9h-1.9z" fill="#1ba0db"/>
<path d="M598.2 35.8h1.9v1.9h-1.9z" fill="#1aa1dc"/>
<path d="M595.0 35.3h1.9v1.9h-1.9z" fill="#19a3dd"/>
<path d="M594.1 33.6h1.9v1.9h-1.9z" fill="#18a4dd"/>
<path d="M597.8 35.7h1.9v1.9h-1.9z" fill="#17a5de"/>
<path d="M596.6 35.8h1.9v1.9h-1.9z" fill="#16a6dd"/>
<path d="M598.1 38.4h1.9v1.9h-1.9z" fill="#16a6db"/>
<path d="M594.8 35.8h1.9v1.9h-1.9z" fill="#16a7da"/>
<path d="M594.9 38.4h1.9v1.9h-1.9z" fill="#16a7d8"/>
<path d="M597.7 36.1h1.9v1.9h-1.9z" fill="#16a7d6"/>
<path d="M599.2 36.7h1.9v1.9h-1.9z" fill="#16a7d5"/>
<path d="M593.8 33.7h1.9v1.9h-1.9z" fill="#16a7d3"/>
<path d="M595.4 37.4h1.9v1.9h-1.9z" fill="#16a8d1"/>
<path d="M594.6 37.5h1.9v1.9h-1.9z" fill="#16a8cf"/>
<path d="M597.2 37.0h1.9v1.9h-1.9z" fill="#16a8ce"/>
<path d="M596.6 39.7h1.9v1.9h-1.9z" fill="#16a8cc"/>
<path d="M596.0 36.4h1.9v1.9h-1.9z" fill="#16a9ca"/>
<path d="M595.8 38.2h1.9v1.9h-1.9z" fill="#16a9c9"/>
<path d="M598.3 36.8h1.9v1.9h-1.9z" fill="#16a9c7"/>
<path d="M592.7 38.0h1.9v1.9h-1.9z" fill="#16a9c5"/>
<path d="M595.4 37.1h1.9v1.9h-1.9z" fill="#16aac3"/>
<path d="M595.7 38.3h1.9v1.9h-1.9z" fill="#16aac2"/>
<path d="M596.6 36.7h1.9v1.9h-1.9z" fill="#16aac0"/>
<path d="M593.6 38.0h1.9v1.9h-1.9z" fill="#17aabe"/>
<path d="M593.8 40.0h1.9v1.9h-1.9z" fill="#17aabb"/>
<path d="M595.4 38.2h1.9v1.9h-1.9z" fill="#18aab9"/>
<path d="M596.7 39.1h1.9v1.9h-1.9z" fill="#18a9b6"/>
<path d="M595.9 39.6h1.9v1.9h-1.9z" fill="#19a9b4"/>
<path d="M594.1 38.3h1.9v1.9h-1.9z" fill="#19a9b2"/>
<path d="M594.2 37.0h1.9v1.9h-1.9z" fill="#1aa9af"/>
<path d="M593.6 40.0h1.9v1.9h-1.9z" fill="#1ba9ad"/>
<path d="M594.5 37.4h1.9v1.9h-1.9z" fill="#1ba9ab"/>
<path d="M597.5 37.4h1.9v1.9h-1.9z" fill="#1ca9a8"/>
<path d="M594.8 40.1h1.9v1.9h-1.9z" fill="#1ca8a6"/>
<path d="M595.7 37.8h1.9v1.9h-1.9z" fill="#1da8a3"/>
<path d="M593.7 38.9h1.9v1.9h-1.9z" fill="#1da8a1"/>
<path d="M595.3 39.9h1.9v1.9h-1.9z" fill="#1ea89f"/>
<path d="M594.2 40.3h1.9v1.9h-1.9z" fill="#1fa89c"/>
<path d="M596.4 40.6h1.9v1.9h-1.9z" fill="#1fa89a"/>
<path d="M594.7 38.3h1.9v1.9h-1.9z" fill="#20a898"/>
<path d="M594.4 37.9h1.9v1.9h-1.9z" fill="#20a795"/>
<path d="M594.7 40.1h1.9v1.9h-1.9z" fill="#21a793"/>
<path d="M591.9 38.3h1.9v1.9h-1.9z" fill="#21a790"/>
<path d="M593.0 40.3h1.9v1.9h-1.9zM592.4 39.7h1.9v1.9h-1.9z" fill="#22a78e"/>
<path d="M592.6 39.5h1.9v1.9h-1.9z" fill="#24a78d"/>
<path d="M592.6 40.7h1.9v1.9h-1.9z" fill="#26a88c"/>
<path d="M594.5 41.4h1.9v1.9h-1.9z" fill="#27a88a"/>
<path d="M591.9 42.8h1.9v1.9h-1.9z" fill="#29a889"/>
<path d="M594.1 40.4h1.9v1.9h-1.9z" fill="#2ba988"/>
<path d="M593.8 40.1h1.9v1.9h-1.9z" fill="#2da987"/>
<path d="M591.2 39.9h1.9v1.9h-1.9z" fill="#2ea985"/>
<path d="M594.4 41.2h1.9v1.9h-1.9z" fill="#30aa84"/>
<path d="M592.5 41.3h1.9v1.9h-1.9z" fill="#32aa83"/>
<path d="M591.3 41.9h1.9v1.9h-1.9z" fill="#34aa82"/>
<path d="M592.7 44.1h1.9v1.9h-1.9z" fill="#35ab81"/>
<path d="M590.5 43.6h1.9v1.9h-1.9z" fill="#37ab7f"/>
<path d="M592.4 39.2h1.9v1.9h-1.9z" fill="#39ab7e"/>
<path d="M592.7 44.0h1.9v1.9h-1.9z" fill="#3bac7d"/>
<path d="M592.8 42.2h1.9v1.9h-1.9z" fill="#3cac7c"/>
<path d="M591.4 39.2h1.9v1.9h-1.9z" fill="#3eac7a"/>
<path d="M591.5 42.3h1.9v1.9h-1.9z" fill="#40ad79"/>
<path d="M589.6 42.4h1.9v1.9h-1.9z" fill="#42ad78"/>
<path d="M589.8 45.4h1.9v1.9h-1.9z" fill="#43ae77"/>
<path d="M588.9 41.1h1.9v1.9h-1.9z" fill="#45ae76"/>
<path d="M587.5 41.9h1.9v1.9h-1.9z" fill="#47ae74"/>
<path d="M590.5 42.6h1.9v1.9h-1.9z" fill="#49af73"/>
<path d="M589.3 43.8h1.9v1.9h-1.9z" fill="#4aaf72"/>
<path d="M590.4 44.4h1.9v1.9h-1.9z" fill="#4caf71"/>
<path d="M589.7 40.4h1.9v1.9h-1.9z" fill="#4eb070"/>
<path d="M589.6 41.5h1.9v1.9h-1.9z" fill="#50b06e"/>
<path d="M590.8 42.2h1.9v1.9h-1.9z" fill="#52b06d"/>
<path d="M589.1 43.1h1.9v1.9h-1.9z" fill="#54b16c"/>
<path d="M587.2 42.7h1.9v1.9h-1.9z" fill="#56b16b"/>
<path d="M590.4 42.5h1.9v1.9h-1.9z" fill="#58b16a"/>
<path d="M588.8 43.7h1.9v1.9h-1.9z" fill="#5ab269"/>
<path d="M588.0 43.1h1.9v1.9h-1.9z" fill="#5cb267"/>
<path d="M589.4 43.1h1.9v1.9h-1.9z" fill="#5eb366"/>
<path d="M588.7 43.5h1.9v1.9h-1.9z" fill="#60b365"/>
<path d="M587.1 42.0h1.9v1.9h-1.9z" fill="#62b364"/>
<path d="M591.1 45.8h1.9v1.9h-1.9z" fill="#64b463"/>
<path d="M588.1 45.3h1.9v1.9h-1.9z" fill="#67b462"/>
<path d="M589.6 45.5h1.9v1.9h-1.9z" fill="#69b461"/>
<path d="M587.5 42.3h1.9v1.9h-1.9z" fill="#6bb55f"/>
<path d="M586.1 44.0h1.9v1.9h-1.9z" fill="#6db55e"/>
<path d="M589.6 46.6h1.9v1.9h-1.9z" fill="#6fb65d"/>
<path d="M587.2 44.1h1.9v1.9h-1.9zM589.1 47.2h1.9v1.9h-1.9z" fill="#71b65c"/>
<path d="M586.3 45.3h1.9v1.9h-1.9z" fill="#72b65b"/>
<path d="M587.5 44.5h1.9v1.9h-1.9z" fill="#74b75a"/>
<path d="M586.8 44.7h1.9v1.9h-1.9z" fill="#75b75a"/>
<path d="M587.1 43.3h1.9v1.9h-1.9z" fill="#77b759"/>
<path d="M586.9 46.4h1.9v1.9h-1.9z" fill="#78b758"/>
<path d="M587.8 46.6h1.9v1.9h-1.9z" fill="#7ab857"/>
<path d="M587.1 46.0h1.9v1.9h-1.9z" fill="#7bb857"/>
<path d="M589.0 45.7h1.9v1.9h-1.9z" fill="#7cb856"/>
<path d="M586.6 47.7h1.9v1.9h-1.9z" fill="#7eb855"/>
<path d="M586.3 44.6h1.9v1.9h-1.9z" fill="#7fb954"/>
<path d="M585.5 45.9h1.9v1.9h-1.9z" fill="#81b953"/>
<path d="M585.8 46.0h1.9v1.9h-1.9z" fill="#82b953"/>
<path d="M587.2 47.6h1.9v1.9h-1.9z" fill="#84b952"/>
<path d="M586.4 46.4h1.9v1.9h-1.9z" fill="#85ba51"/>
<path d="M586.9 48.3h1.9v1.9h-1.9z" fill="#86ba50"/>
<path d="M588.3 46.5h1.9v1.9h-1.9z" fill="#88ba50"/>
<path d="M585.3 49.2h1.9v1.9h-1.9z" fill="#8aba4f"/>
<path d="M583.9 47.9h1.9v1.9h-1.9z" fill="#8cba4e"/>
<path d="M585.4 47.8h1.9v1.9h-1.9z" fill="#8dba4d"/>
<path d="M583.8 48.0h1.9v1.9h-1.9z" fill="#8fba4d"/>
<path d="M583.0 49.6h1.9v1.9h-1.9z" fill="#91ba4c"/>
<path d="M584.1 48.5h1.9v1.9h-1.9z" fill="#93ba4b"/>
<path d="M584.6 48.7h1.9v1.9h-1.9z" fill="#94ba4b"/>
<path d="M584.6 49.1h1.9v1.9h-1.9z" fill="#96b94a"/>
<path d="M583.9 48.8h1.9v1.9h-1.9z" fill="#98b949"/>
<path d="M582.8 47.6h1.9v1.9h-1.9z" fill="#9ab948"/>
<path d="M583.0 47.8h1.9v1.9h-1.9zM582.5 48.4h1.9v1.9h-1.9z" fill="#9cb948"/>
<path d="M584.7 49.8h1.9v1.9h-1.9z" fill="#9db947"/>
<path d="M583.4 49.9h1.9v1.9h-1.9z" fill="#9fb947"/>
<path d="M584.2 52.8h1.9v1.9h-1.9z" fill="#a0b946"/>
<path d="M581.8 50.3h1.9v1.9h-1.9z" fill="#a2b945"/>
<path d="M582.0 51.6h1.9v1.9h-1.9z" fill="#a3b945"/>
<path d="M583.2 50.9h1.9v1.9h-1.9z" fill="#a5b944"/>
<path d="M583.5 51.4h1.9v1.9h-1.9z" fill="#a6b943"/>
<path d="M579.9 49.5h1.9v1.9h-1.9z" fill="#a8b943"/>
<path d="M583.2 49.6h1.9v1.9h-1.9zM583.7 52.4h1.9v1.9h-1.9z" fill="#a9b942"/>
<path d="M581.7 50.9h1.9v1.9h-1.9z" fill="#abb942"/>
<path d="M583.5 53.5h1.9v1.9h-1.9z" fill="#acb941"/>
<path d="M583.8 52.6h1.9v1.9h-1.9z" fill="#aeb941"/>
<path d="M581.8 52.1h1.9v1.9h-1.9z" fill="#afb940"/>
<path d="M582.7 51.7h1.9v1.9h-1.9z" fill="#b0b840"/>
<path d="M582.9 52.3h1.9v1.9h-1.9z" fill="#b2b83f"/>
<path d="M581.9 55.0h1.9v1.9h-1.9z" fill="#b3b83e"/>
<path d="M582.1 55.0h1.9v1.9h-1.9z" fill="#b4b83e"/>
<path d="M581.8 53.3h1.9v1.9h-1.9z" fill="#b6b83d"/>
<path d="M580.8 53.0h1.9v1.9h-1.9z" fill="#b7b83d"/>
<path d="M583.6 53.8h1.9v1.9h-1.9z" fill="#b8b83c"/>
<path d="M579.8 55.5h1.9v1.9h-1.9z" fill="#bab83c"/>
<path d="M580.9 53.9h1.9v1.9h-1.9z" fill="#bbb83b"/>
<path d="M581.6 52.6h1.9v1.9h-1.9z" fill="#bdb83b"/>
<path d="M583.1 56.1h1.9v1.9h-1.9z" fill="#beb83a"/>
<path d="M581.1 55.4h1.9v1.9h-1.9z" fill="#bfb83a"/>
<path d="M581.1 54.7h1.9v1.9h-1.9z" fill="#c0b73a"/>
<path d="M581.0 54.1h1.9v1.9h-1.9z" fill="#c1b739"/>
<path d="M580.7 55.2h1.9v1.9h-1.9z" fill="#c2b739"/>
<path d="M583.0 54.5h1.9v1.9h-1.9zM582.2 56.7h1.9v1.9h-1.9z" fill="#c3b739"/>
<path d="M581.1 55.8h1.9v1.9h-1.9z" fill="#c4b639"/>
<path d="M582.6 58.0h1.9v1.9h-1.9z" fill="#c5b639"/>
<path d="M580.8 56.7h1.9v1.9h-1.9z" fill="#c6b639"/>
<path d="M580.9 58.9h1.9v1.9h-1.9z" fill="#c6b638"/>
<path d="M579.9 57.6h1.9v1.9h-1.9z" fill="#c7b638"/>
<path d="M581.7 56.5h1.9v1.9h-1.9z" fill="#c8b638"/>
<path d="M580.5 59.1h1.9v1.9h-1.9zM580.1 58.2h1.9v1.9h-1.9z" fill="#c9b538"/>
<path d="M579.0 59.0h1.9v1.9h-1.9z" fill="#cab538"/>
<path d="M579.3 58.5h1.9v1.9h-1.9z" fill="#cbb538"/>
<path d="M580.6 58.7h1.9v1.9h-1.9z" fill="#ccb537"/>
<path d="M581.0 60.1h1.9v1.9h-1.9z" fill="#ccb437"/>
<path d="M580.6 60.7h1.9v1.9h-1.9z" fill="#cdb437"/>
<path d="M579.9 58.1h1.9v1.9h-1.9zM580.8 60.5h1.9v1.9h-1.9z" fill="#ceb437"/>
<path d="M579.9 60.3h1.9v1.9h-1.9z" fill="#cfb437"/>
<path d="M580.7 61.3h1.9v1.9h-1.9z" fill="#d0b337"/>
<path d="M579.7 62.1h1.9v1.9h-1.9z" fill="#d1b336"/>
<path d="M581.2 62.7h1.9v1.9h-1.9z" fill="#d3b336"/>
<path d="M578.0 63.8h1.9v1.9h-1.9z" fill="#d4b336"/>
<path d="M578.7 63.5h1.9v1.9h-1.9z" fill="#d5b236"/>
<path d="M579.1 65.0h1.9v1.9h-1.9z" fill="#d6b236"/>
<path d="M579.2 65.8h1.9v1.9h-1.9z" fill="#d7b235"/>
<path d="M579.1 67.3h1.9v1.9h-1.9z" fill="#d8b135"/>
<path d="M578.1 67.9h1.9v1.9h-1.9z" fill="#d9b135"/>
<path d="M578.9 68.6h1.9v1.9h-1.9z" fill="#dbb135"/>
<path d="M576.7 69.0h1.9v1.9h-1.9z" fill="#dcb134"/>
<path d="M577.5 70.4h1.9v1.9h-1.9z" fill="#ddb034"/>
<path d="M577.0 71.1h1.9v1.9h-1.9zM577.1 73.0h1.9v1.9h-1.9zM576.7 73.1h1.9v1.9h-1.9zM576.4 73.4h1.9v1.9h-1.9z" fill="#deb034"/>
<path d="M575.8 72.9h1.9v1.9h-1.9zM575.7 73.6h1.9v1.9h-1.9z" fill="#dfb034"/>
<path d="M575.2 73.8h1.9v1.9h-1.9z" fill="#dfaf34"/>
<path d="M575.2 74.6h1.9v1.9h-1.9zM574.0 74.8h1.9v1.9h-1.9z" fill="#dfaf35"/>
<path d="M573.3 73.2h1.9v1.9h-1.9zM574.1 73.7h1.9v1.9h-1.9zM572.6 76.4h1.9v1.9h-1.9z" fill="#e0af35"/>
<path d="M571.5 79.7h1.9v1.9h-1.9z" fill="#e1ae35"/>
<path d="M569.1 82.7h1.9v1.9h-1.9z" fill="#e2ae36"/>
<path d="M566.7 84.0h1.9v1.9h-1.9z" fill="#e3ad36"/>
<path d="M564.3 85.6h1.9v1.9h-1.9z" fill="#e4ad36"/>
<path d="M563.5 89.2h1.9v1.9h-1.9zM561.2 92.2h1.9v1.9h-1.9z" fill="#e5ac37"/>
<path d="M559.4 92.8h1.9v1.9h-1.9z" fill="#e6ab38"/>
<path d="M556.8 94.5h1.9v1.9h-1.9z" fill="#e7ab38"/>
<path d="M552.4 97.0h1.9v1.9h-1.9z" fill="#e8aa38"/>
<path d="M552.0 99.7h1.9v1.9h-1.9z" fill="#e9aa39"/>
<path d="M549.4 100.1h1.9v1.9h-1.9zM547.7 100.6h1.9v1.9h-1.9zM545.6 101.7h1.9v1.9h-1.9zM545.5 101.5h1.9v1.9h-1.9zM544.4 101.5h1.9v1.9h-1.9zM544.3 102.8h1.9v1.9h-1.9zM543.6 102.5h1.9v1.9h-1.9zM542.9 103.5h1.9v1.9h-1.9zM542.1 103.7h1.9v1.9h-1.9zM541.8 103.9h1.9v1.9h-1.9zM541.0 104.3h1.9v1.9h-1.9zM541.0 104.5h1.9v1.9h-1.9zM539.7 103.9h1.9v1.9h-1.9zM539.3 104.8h1.9v1.9h-1.9zM538.6 105.3h1.9v1.9h-1.9zM537.5 105.3h1.9v1.9h-1.9zM536.6 106.4h1.9v1.9h-1.9zM536.7 106.2h1.9v1.9h-1.9zM536.0 106.6h1.9v1.9h-1.9zM535.2 106.6h1.9v1.9h-1.9zM535.1 105.8h1.9v1.9h-1.9zM533.5 106.3h1.9v1.9h-1.9zM532.8 105.8h1.9v1.9h-1.9zM531.7 107.1h1.9v1.9h-1.9zM530.9 107.2h1.9v1.9h-1.9z" fill="#e3202e"/>
<path d="M529.4 108.4h1.9v1.9h-1.9zM528.9 108.4h1.9v1.9h-1.9z" fill="#f1bb35"/>
<path d="M528.9 109.6h1.9v1.9h-1.9z" fill="#f1bc35"/>
<path d="M528.7 109.8h1.9v1.9h-1.9zM529.5 109.8h1.9v1.9h-1.9z" fill="#f1bd35"/>
<path d="M530.9 110.1h1.9v1.9h-1.9z" fill="#f1be35"/>
<path d="M529.5 110.6h1.9v1.9h-1.9zM530.4 110.6h1.9v1.9h-1.9z" fill="#f1bf34"/>
<path d="M531.0 111.4h1.9v1.9h-1.9z" fill="#f1c034"/>
<path d="M529.6 111.2h1.9v1.9h-1.9zM529.7 112.4h1.9v1.9h-1.9z" fill="#f1c134"/>
<path d="M528.3 109.1h1.9v1.9h-1.9z" fill="#f0d134"/>
<path d="M525.1 113.6h1.9v1.9h-1.9zM528.4 109.3h1.9v1.9h-1.9z" fill="#f0d235"/>
<path d="M528.4 110.3h1.9v1.9h-1.9z" fill="#f0d335"/>
<path d="M526.5 110.1h1.9v1.9h-1.9z" fill="#efd335"/>
<path d="M525.9 110.6h1.9v1.9h-1.9z" fill="#efd435"/>
<path d="M526.5 112.4h1.9v1.9h-1.9zM525.2 113.6h1.9v1.9h-1.9z" fill="#efd536"/>
<path d="M524.3 112.7h1.9v1.9h-1.9zM526.3 111.7h1.9v1.9h-1.9z" fill="#efd636"/>
<path d="M528.0 109.6h1.9v1.9h-1.9z" fill="#efd736"/>
<path d="M526.5 113.1h1.9v1.9h-1.9z" fill="#efd836"/>
<path d="M525.1 109.3h1.9v1.9h-1.9z" fill="#eed836"/>
<path d="M524.9 112.0h1.9v1.9h-1.9zM529.4 111.2h1.9v1.9h-1.9z" fill="#eed937"/>
<path d="M526.4 110.5h1.9v1.9h-1.9zM527.2 109.1h1.9v1.9h-1.9zM528.7 112.4h1.9v1.9h-1.9z" fill="#eeda37"/>
<path d="M527.9 108.9h1.9v1.9h-1.9z" fill="#eddb37"/>
<path d="M524.0 111.2h1.9v1.9h-1.9zM527.8 109.6h1.9v1.9h-1.9z" fill="#eddb38"/>
<path d="M524.9 111.9h1.9v1.9h-1.9zM529.0 110.8h1.9v1.9h-1.9z" fill="#eddc38"/>
<path d="M528.4 110.8h1.9v1.9h-1.9zM528.0 110.3h1.9v1.9h-1.9zM526.9 108.7h1.9v1.9h-1.9zM523.5 105.1h1.9v1.9h-1.9z" fill="#ecdc38"/>
<path d="M526.5 112.0h1.9v1.9h-1.9zM527.7 109.8h1.9v1.9h-1.9zM525.3 106.0h1.9v1.9h-1.9z" fill="#ecdd38"/>
<path d="M528.3 112.0h1.9v1.9h-1.9z" fill="#ebdd39"/>
<path d="M527.1 111.9h1.9v1.9h-1.9zM525.4 105.3h1.9v1.9h-1.9zM525.8 108.7h1.9v1.9h-1.9zM526.6 109.7h1.9v1.9h-1.9zM525.6 105.1h1.9v1.9h-1.9zM528.2 109.7h1.9v1.9h-1.9z" fill="#ebde39"/>
<path d="M526.2 112.4h1.9v1.9h-1.9zM525.2 104.7h1.9v1.9h-1.9z" fill="#eade39"/>
<path d="M528.8 109.8h1.9v1.9h-1.9z" fill="#eadf39"/>
<path d="M526.5 113.1h1.9v1.9h-1.9zM525.8 104.7h1.9v1.9h-1.9zM526.8 111.1h1.9v1.9h-1.9z" fill="#eadf3a"/>
<path d="M525.9 109.0h1.9v1.9h-1.9zM525.7 105.3h1.9v1.9h-1.9z" fill="#eae03a"/>
<path d="M524.4 112.0h1.9v1.9h-1.9zM524.6 113.1h1.9v1.9h-1.9zM526.4 104.0h1.9v1.9h-1.9zM528.7 113.3h1.9v1.9h-1.9zM526.2 109.8h1.9v1.9h-1.9zM525.7 103.9h1.9v1.9h-1.9z" fill="#e9e03a"/>
<path d="M527.8 112.6h1.9v1.9h-1.9z" fill="#e9e13a"/>
<path d="M527.0 111.2h1.9v1.9h-1.9zM525.8 103.2h1.9v1.9h-1.9z" fill="#e8e13a"/>
<path d="M524.7 110.9h1.9v1.9h-1.9z" fill="#e8e13b"/>
<path d="M524.8 107.0h1.9v1.9h-1.9zM526.3 102.9h1.9v1.9h-1.9zM524.6 107.5h1.9v1.9h-1.9zM524.4 107.3h1.9v1.9h-1.9zM523.4 106.1h1.9v1.9h-1.9zM523.4 105.1h1.9v1.9h-1.9zM523.9 106.7h1.9v1.9h-1.9z" fill="#e8e23b"/>
<path d="M523.9 105.9h1.9v1.9h-1.9zM522.6 105.2h1.9v1.9h-1.9zM522.9 104.9h1.9v1.9h-1.9z" fill="#e7e23b"/>
<path d="M524.0 104.3h1.9v1.9h-1.9zM523.9 103.8h1.9v1.9h-1.9zM523.2 103.6h1.9v1.9h-1.9z" fill="#e7e33b"/>
<path d="M523.0 103.6h1.9v1.9h-1.9zM521.6 103.2h1.9v1.9h-1.9zM522.5 104.1h1.9v1.9h-1.9z" fill="#e7e33c"/>
<path d="M521.2 102.9h1.9v1.9h-1.9z" fill="#e6e33c"/>
<path d="M522.9 103.7h1.9v1.9h-1.9zM523.1 102.3h1.9v1.9h-1.9zM523.0 102.0h1.9v1.9h-1.9zM522.0 101.6h1.9v1.9h-1.9zM521.8 102.3h1.9v1.9h-1.9z" fill="#e6e43c"/>
<text x="478" y="166.5" font-size="9" fill="#333">(ii)</text>
<path d="M498.6 168.3V263.3" stroke="#808080" stroke-width="0.8" fill="none"/>
<path d="M496.3 168.3H498.6M496.3 187.3H498.6M496.3 206.3H498.6M496.3 225.3H498.6M496.3 244.3H498.6M496.3 263.3H498.6" stroke="#808080" stroke-width="0.8" fill="none"/>
<text x="493.3" y="170.7" font-size="7.5" fill="#4a4a4a" text-anchor="end" textLength="4.42" lengthAdjust="spacingAndGlyphs">5</text>
<text x="493.3" y="189.7" font-size="7.5" fill="#4a4a4a" text-anchor="end" textLength="4.42" lengthAdjust="spacingAndGlyphs">4</text>
<text x="493.3" y="208.7" font-size="7.5" fill="#4a4a4a" text-anchor="end" textLength="4.42" lengthAdjust="spacingAndGlyphs">3</text>
<text x="493.3" y="227.7" font-size="7.5" fill="#4a4a4a" text-anchor="end" textLength="4.42" lengthAdjust="spacingAndGlyphs">2</text>
<text x="493.3" y="246.7" font-size="7.5" fill="#4a4a4a" text-anchor="end" textLength="4.42" lengthAdjust="spacingAndGlyphs">1</text>
<text x="493.3" y="265.7" font-size="7.5" fill="#4a4a4a" text-anchor="end" textLength="4.42" lengthAdjust="spacingAndGlyphs">0</text>
<path d="M498.6 263.3H610" stroke="#808080" stroke-width="0.8" fill="none"/>
<path d="M498.9 263.3V265.6M521.1 263.3V265.6M543.3 263.3V265.6M565.5 263.3V265.6M587.7 263.3V265.6M609.9 263.3V265.6" stroke="#808080" stroke-width="0.8" fill="none"/>
<text x="498.9" y="275.6" font-size="7.5" fill="#4a4a4a" text-anchor="middle" textLength="9.06" lengthAdjust="spacingAndGlyphs">−2</text>
<text x="521.1" y="275.6" font-size="7.5" fill="#4a4a4a" text-anchor="middle" textLength="15.69" lengthAdjust="spacingAndGlyphs">−1.5</text>
<text x="543.3" y="275.6" font-size="7.5" fill="#4a4a4a" text-anchor="middle" textLength="9.06" lengthAdjust="spacingAndGlyphs">−1</text>
<text x="565.5" y="275.6" font-size="7.5" fill="#4a4a4a" text-anchor="middle" textLength="15.69" lengthAdjust="spacingAndGlyphs">−0.5</text>
<text x="587.7" y="275.6" font-size="7.5" fill="#4a4a4a" text-anchor="middle" textLength="4.42" lengthAdjust="spacingAndGlyphs">0</text>
<text x="609.9" y="275.6" font-size="7.5" fill="#4a4a4a" text-anchor="middle" textLength="11.05" lengthAdjust="spacingAndGlyphs">0.5</text>
<text transform="translate(481.2,216.2) rotate(-90)" font-size="9" fill="#333" text-anchor="middle">Sleep distance <tspan font-style="italic">s</tspan> (s.d.)</text>
<text x="554.4" y="288.2" font-size="9" fill="#333" text-anchor="middle">Total spectrum power</text>
<text x="554.4" y="297.3" font-size="9" fill="#333" text-anchor="middle">(<tspan font-style="italic">z</tspan>-score)</text>
<defs><linearGradient id="g2" x1="0" y1="0" x2="0" y2="1"><stop offset="0.0000" stop-color="#e6e43c"/><stop offset="0.0571" stop-color="#eeda37"/><stop offset="0.1000" stop-color="#f2c832"/><stop offset="0.1427" stop-color="#f0b437"/><stop offset="0.1430" stop-color="#eca83a"/><stop offset="0.1857" stop-color="#deb034"/><stop offset="0.2286" stop-color="#beb83a"/><stop offset="0.2857" stop-color="#87ba50"/><stop offset="0.3571" stop-color="#50b06e"/><stop offset="0.4286" stop-color="#22a78e"/><stop offset="0.5143" stop-color="#16aac0"/><stop offset="0.5857" stop-color="#16a6de"/><stop offset="0.6571" stop-color="#288ed4"/><stop offset="0.7143" stop-color="#327cca"/><stop offset="0.7714" stop-color="#376cc0"/><stop offset="0.8857" stop-color="#3c5caf"/><stop offset="1.0000" stop-color="#3e4296"/></linearGradient></defs>
<rect x="617.5" y="168.2" width="6.3" height="96" fill="url(#g2)" stroke="#777" stroke-width="0.6"/>
<text x="626.4" y="170.7" font-size="7.5" fill="#4a4a4a">10</text>
<path d="M622.6 181.91H623.8" stroke="#333" stroke-width="0.6"/>
<text x="626.4" y="184.41" font-size="7.5" fill="#4a4a4a">0</text>
<path d="M622.6 195.63H623.8" stroke="#333" stroke-width="0.6"/>
<text x="626.4" y="198.13" font-size="7.5" fill="#4a4a4a">−10</text>
<path d="M622.6 209.34H623.8" stroke="#333" stroke-width="0.6"/>
<text x="626.4" y="211.84" font-size="7.5" fill="#4a4a4a">−20</text>
<path d="M622.6 223.06H623.8" stroke="#333" stroke-width="0.6"/>
<text x="626.4" y="225.56" font-size="7.5" fill="#4a4a4a">−30</text>
<path d="M622.6 236.77H623.8" stroke="#333" stroke-width="0.6"/>
<text x="626.4" y="239.27" font-size="7.5" fill="#4a4a4a">−40</text>
<path d="M622.6 250.49H623.8" stroke="#333" stroke-width="0.6"/>
<text x="626.4" y="252.99" font-size="7.5" fill="#4a4a4a">−50</text>
<text x="626.4" y="266.7" font-size="7.5" fill="#4a4a4a">−60</text>
<rect x="617.2" y="181.11" width="6.9" height="1.6" fill="#e3202e"/>
<text x="637" y="185.2" font-size="9" fill="#e8404e" textLength="46.8" lengthAdjust="spacingAndGlyphs">Sleep onset</text>
<text transform="translate(646.4,195.5) rotate(90)" font-size="9" fill="#333" textLength="41.8" lengthAdjust="spacingAndGlyphs">Time (min)</text>
<path d="M516.9 177.0h1.9v1.9h-1.9z" fill="#3e4296"/>
<path d="M517.3 179.5h1.9v1.9h-1.9z" fill="#3e4397"/>
<path d="M516.8 178.7h1.9v1.9h-1.9z" fill="#3e4498"/>
<path d="M517.3 177.7h1.9v1.9h-1.9z" fill="#3e4599"/>
<path d="M515.5 179.7h1.9v1.9h-1.9z" fill="#3e469a"/>
<path d="M517.9 176.9h1.9v1.9h-1.9z" fill="#3e479b"/>
<path d="M515.5 178.3h1.9v1.9h-1.9z" fill="#3e489c"/>
<path d="M519.6 179.3h1.9v1.9h-1.9z" fill="#3d499d"/>
<path d="M516.7 179.8h1.9v1.9h-1.9z" fill="#3d4a9e"/>
<path d="M515.5 178.5h1.9v1.9h-1.9z" fill="#3d4b9f"/>
<path d="M516.5 181.0h1.9v1.9h-1.9z" fill="#3d4ca0"/>
<path d="M515.4 179.5h1.9v1.9h-1.9z" fill="#3d4da1"/>
<path d="M517.7 176.9h1.9v1.9h-1.9z" fill="#3d4ea2"/>
<path d="M516.5 180.5h1.9v1.9h-1.9z" fill="#3d50a3"/>
<path d="M517.6 181.2h1.9v1.9h-1.9z" fill="#3d51a4"/>
<path d="M517.5 181.0h1.9v1.9h-1.9z" fill="#3d52a5"/>
<path d="M518.5 179.6h1.9v1.9h-1.9z" fill="#3d53a6"/>
<path d="M517.0 179.8h1.9v1.9h-1.9z" fill="#3d54a7"/>
<path d="M517.5 180.1h1.9v1.9h-1.9z" fill="#3d55a8"/>
<path d="M518.8 179.4h1.9v1.9h-1.9z" fill="#3c56a9"/>
<path d="M516.2 179.4h1.9v1.9h-1.9z" fill="#3c57aa"/>
<path d="M518.1 178.6h1.9v1.9h-1.9z" fill="#3c58ab"/>
<path d="M516.6 178.1h1.9v1.9h-1.9z" fill="#3c59ac"/>
<path d="M519.5 179.4h1.9v1.9h-1.9z" fill="#3c5aad"/>
<path d="M515.6 180.2h1.9v1.9h-1.9z" fill="#3c5bae"/>
<path d="M518.4 179.7h1.9v1.9h-1.9z" fill="#3c5caf"/>
<path d="M516.8 181.4h1.9v1.9h-1.9zM519.0 180.7h1.9v1.9h-1.9z" fill="#3c5db0"/>
<path d="M519.6 180.3h1.9v1.9h-1.9zM516.8 183.8h1.9v1.9h-1.9z" fill="#3b5eb1"/>
<path d="M519.0 179.7h1.9v1.9h-1.9z" fill="#3b5fb2"/>
<path d="M517.0 182.4h1.9v1.9h-1.9z" fill="#3b5fb3"/>
<path d="M518.0 183.7h1.9v1.9h-1.9z" fill="#3b60b3"/>
<path d="M519.9 183.0h1.9v1.9h-1.9z" fill="#3b60b4"/>
<path d="M519.6 182.7h1.9v1.9h-1.9z" fill="#3a61b4"/>
<path d="M519.6 182.0h1.9v1.9h-1.9z" fill="#3a62b5"/>
<path d="M518.4 183.7h1.9v1.9h-1.9z" fill="#3a62b6"/>
<path d="M518.0 183.2h1.9v1.9h-1.9z" fill="#3a63b6"/>
<path d="M518.0 183.5h1.9v1.9h-1.9z" fill="#3a63b7"/>
<path d="M516.8 182.4h1.9v1.9h-1.9z" fill="#3a64b7"/>
<path d="M516.6 180.2h1.9v1.9h-1.9z" fill="#3964b8"/>
<path d="M519.7 182.3h1.9v1.9h-1.9z" fill="#3965b9"/>
<path d="M516.8 180.9h1.9v1.9h-1.9z" fill="#3966b9"/>
<path d="M517.5 181.1h1.9v1.9h-1.9z" fill="#3966ba"/>
<path d="M520.2 181.0h1.9v1.9h-1.9z" fill="#3967ba"/>
<path d="M518.9 180.3h1.9v1.9h-1.9z" fill="#3867bb"/>
<path d="M519.0 180.2h1.9v1.9h-1.9z" fill="#3868bb"/>
<path d="M519.2 180.7h1.9v1.9h-1.9z" fill="#3868bc"/>
<path d="M517.7 184.0h1.9v1.9h-1.9zM517.0 182.1h1.9v1.9h-1.9z" fill="#3869bd"/>
<path d="M520.1 179.3h1.9v1.9h-1.9z" fill="#386abe"/>
<path d="M521.0 182.8h1.9v1.9h-1.9z" fill="#376abe"/>
<path d="M519.6 180.6h1.9v1.9h-1.9zM520.7 179.0h1.9v1.9h-1.9z" fill="#376bbf"/>
<path d="M522.2 181.7h1.9v1.9h-1.9z" fill="#376cc0"/>
<path d="M522.4 179.7h1.9v1.9h-1.9z" fill="#376dc0"/>
<path d="M521.6 179.0h1.9v1.9h-1.9z" fill="#376dc1"/>
<path d="M519.9 180.6h1.9v1.9h-1.9z" fill="#366ec2"/>
<path d="M520.6 183.9h1.9v1.9h-1.9z" fill="#366fc2"/>
<path d="M519.3 179.6h1.9v1.9h-1.9z" fill="#3670c3"/>
<path d="M519.7 179.9h1.9v1.9h-1.9z" fill="#3571c3"/>
<path d="M523.1 181.8h1.9v1.9h-1.9z" fill="#3572c4"/>
<path d="M522.5 179.9h1.9v1.9h-1.9z" fill="#3573c4"/>
<path d="M519.6 181.3h1.9v1.9h-1.9z" fill="#3574c5"/>
<path d="M522.4 181.5h1.9v1.9h-1.9z" fill="#3475c6"/>
<path d="M521.4 179.5h1.9v1.9h-1.9z" fill="#3476c6"/>
<path d="M520.7 181.4h1.9v1.9h-1.9z" fill="#3477c7"/>
<path d="M521.6 179.7h1.9v1.9h-1.9z" fill="#3378c7"/>
<path d="M523.3 180.4h1.9v1.9h-1.9z" fill="#3378c8"/>
<path d="M522.7 180.1h1.9v1.9h-1.9z" fill="#3379c8"/>
<path d="M521.5 182.8h1.9v1.9h-1.9z" fill="#337ac9"/>
<path d="M520.3 182.4h1.9v1.9h-1.9z" fill="#327bca"/>
<path d="M522.6 180.9h1.9v1.9h-1.9z" fill="#327cca"/>
<path d="M520.8 180.4h1.9v1.9h-1.9z" fill="#317dcb"/>
<path d="M520.4 181.1h1.9v1.9h-1.9z" fill="#317ecb"/>
<path d="M521.0 184.3h1.9v1.9h-1.9z" fill="#307fcc"/>
<path d="M519.0 182.7h1.9v1.9h-1.9z" fill="#3080cc"/>
<path d="M519.3 181.3h1.9v1.9h-1.9z" fill="#2f81cd"/>
<path d="M519.6 182.1h1.9v1.9h-1.9z" fill="#2e82ce"/>
<path d="M519.8 181.2h1.9v1.9h-1.9z" fill="#2e83ce"/>
<path d="M521.7 180.3h1.9v1.9h-1.9z" fill="#2d84cf"/>
<path d="M520.8 179.7h1.9v1.9h-1.9z" fill="#2d85cf"/>
<path d="M520.1 181.2h1.9v1.9h-1.9z" fill="#2c86d0"/>
<path d="M522.3 180.8h1.9v1.9h-1.9z" fill="#2c87d0"/>
<path d="M522.0 181.3h1.9v1.9h-1.9z" fill="#2b88d1"/>
<path d="M523.2 184.7h1.9v1.9h-1.9zM522.1 182.0h1.9v1.9h-1.9z" fill="#2a8ad2"/>
<path d="M525.4 183.6h1.9v1.9h-1.9z" fill="#2a8bd2"/>
<path d="M522.4 182.3h1.9v1.9h-1.9z" fill="#298cd3"/>
<path d="M522.7 182.3h1.9v1.9h-1.9z" fill="#298dd4"/>
<path d="M525.1 182.8h1.9v1.9h-1.9z" fill="#288ed4"/>
<path d="M523.4 184.5h1.9v1.9h-1.9z" fill="#278fd4"/>
<path d="M525.2 182.5h1.9v1.9h-1.9z" fill="#2790d5"/>
<path d="M524.3 184.7h1.9v1.9h-1.9z" fill="#2691d5"/>
<path d="M522.5 182.5h1.9v1.9h-1.9z" fill="#2592d6"/>
<path d="M522.0 182.5h1.9v1.9h-1.9z" fill="#2493d6"/>
<path d="M524.6 180.5h1.9v1.9h-1.9z" fill="#2494d6"/>
<path d="M522.8 184.4h1.9v1.9h-1.9z" fill="#2395d7"/>
<path d="M523.3 182.0h1.9v1.9h-1.9z" fill="#2296d7"/>
<path d="M522.5 182.8h1.9v1.9h-1.9z" fill="#2297d8"/>
<path d="M525.8 182.5h1.9v1.9h-1.9z" fill="#2198d8"/>
<path d="M524.7 181.2h1.9v1.9h-1.9z" fill="#2099d8"/>
<path d="M525.2 180.7h1.9v1.9h-1.9zM525.1 184.5h1.9v1.9h-1.9z" fill="#1f9ad9"/>
<path d="M522.9 181.4h1.9v1.9h-1.9z" fill="#1e9bda"/>
<path d="M525.0 181.5h1.9v1.9h-1.9zM524.3 178.9h1.9v1.9h-1.9z" fill="#1d9cda"/>
<path d="M525.5 181.1h1.9v1.9h-1.9z" fill="#1c9dda"/>
<path d="M522.8 182.0h1.9v1.9h-1.9zM523.6 181.8h1.9v1.9h-1.9z" fill="#1c9edb"/>
<path d="M523.6 183.1h1.9v1.9h-1.9zM523.4 184.2h1.9v1.9h-1.9z" fill="#1b9fdb"/>
<path d="M524.1 186.9h1.9v1.9h-1.9zM526.1 182.1h1.9v1.9h-1.9z" fill="#1aa0dc"/>
<path d="M526.3 183.0h1.9v1.9h-1.9z" fill="#1aa1dc"/>
<path d="M527.6 184.2h1.9v1.9h-1.9z" fill="#19a1dc"/>
<path d="M522.5 181.1h1.9v1.9h-1.9z" fill="#19a2dc"/>
<path d="M528.3 188.1h1.9v1.9h-1.9zM523.5 183.8h1.9v1.9h-1.9z" fill="#18a3dd"/>
<path d="M526.9 182.2h1.9v1.9h-1.9z" fill="#18a4dd"/>
<path d="M521.9 182.6h1.9v1.9h-1.9z" fill="#17a4dd"/>
<path d="M522.4 183.0h1.9v1.9h-1.9zM526.9 187.0h1.9v1.9h-1.9z" fill="#17a5de"/>
<path d="M524.6 184.6h1.9v1.9h-1.9z" fill="#16a6dd"/>
<path d="M528.2 186.7h1.9v1.9h-1.9z" fill="#16a6dc"/>
<path d="M528.2 185.4h1.9v1.9h-1.9z" fill="#16a6da"/>
<path d="M526.6 183.8h1.9v1.9h-1.9z" fill="#16a7d9"/>
<path d="M528.8 186.5h1.9v1.9h-1.9z" fill="#16a7d7"/>
<path d="M526.4 183.8h1.9v1.9h-1.9z" fill="#16a7d6"/>
<path d="M529.6 186.8h1.9v1.9h-1.9z" fill="#16a7d4"/>
<path d="M526.2 182.3h1.9v1.9h-1.9z" fill="#16a8d2"/>
<path d="M527.9 186.6h1.9v1.9h-1.9z" fill="#16a8d1"/>
<path d="M529.5 186.7h1.9v1.9h-1.9z" fill="#16a8cf"/>
<path d="M525.4 185.4h1.9v1.9h-1.9z" fill="#16a8ce"/>
<path d="M527.5 184.1h1.9v1.9h-1.9z" fill="#16a8cc"/>
<path d="M532.9 185.5h1.9v1.9h-1.9z" fill="#16a9cb"/>
<path d="M529.0 185.0h1.9v1.9h-1.9z" fill="#16a9c9"/>
<path d="M529.9 187.6h1.9v1.9h-1.9z" fill="#16a9c7"/>
<path d="M528.4 185.6h1.9v1.9h-1.9z" fill="#16a9c6"/>
<path d="M528.3 184.0h1.9v1.9h-1.9z" fill="#16a9c4"/>
<path d="M528.9 186.4h1.9v1.9h-1.9z" fill="#16aac3"/>
<path d="M529.4 185.5h1.9v1.9h-1.9z" fill="#16aac1"/>
<path d="M526.3 186.5h1.9v1.9h-1.9z" fill="#16aabf"/>
<path d="M530.0 188.7h1.9v1.9h-1.9z" fill="#17aabd"/>
<path d="M528.7 183.7h1.9v1.9h-1.9z" fill="#17aabb"/>
<path d="M526.7 185.0h1.9v1.9h-1.9z" fill="#18aab9"/>
<path d="M530.1 186.7h1.9v1.9h-1.9z" fill="#18a9b7"/>
<path d="M527.6 185.3h1.9v1.9h-1.9z" fill="#19a9b4"/>
<path d="M532.3 186.5h1.9v1.9h-1.9z" fill="#19a9b2"/>
<path d="M530.1 185.8h1.9v1.9h-1.9z" fill="#1aa9b0"/>
<path d="M528.1 184.1h1.9v1.9h-1.9z" fill="#1aa9ae"/>
<path d="M530.1 188.7h1.9v1.9h-1.9z" fill="#1ba9ac"/>
<path d="M533.2 186.4h1.9v1.9h-1.9z" fill="#1ba9aa"/>
<path d="M532.4 187.4h1.9v1.9h-1.9z" fill="#1ca9a7"/>
<path d="M533.5 185.6h1.9v1.9h-1.9z" fill="#1ca8a5"/>
<path d="M532.1 188.5h1.9v1.9h-1.9z" fill="#1da8a3"/>
<path d="M529.7 186.8h1.9v1.9h-1.9z" fill="#1da8a1"/>
<path d="M532.4 187.7h1.9v1.9h-1.9zM532.9 188.0h1.9v1.9h-1.9z" fill="#1ea89f"/>
<path d="M533.8 189.4h1.9v1.9h-1.9z" fill="#1ea89d"/>
<path d="M533.0 190.8h1.9v1.9h-1.9z" fill="#1fa89c"/>
<path d="M531.8 187.0h1.9v1.9h-1.9z" fill="#1fa89b"/>
<path d="M533.3 186.1h1.9v1.9h-1.9z" fill="#1fa899"/>
<path d="M530.6 185.4h1.9v1.9h-1.9z" fill="#20a898"/>
<path d="M535.0 186.5h1.9v1.9h-1.9z" fill="#20a897"/>
<path d="M531.2 190.7h1.9v1.9h-1.9z" fill="#20a795"/>
<path d="M534.2 188.1h1.9v1.9h-1.9z" fill="#21a794"/>
<path d="M532.2 188.3h1.9v1.9h-1.9z" fill="#21a793"/>
<path d="M533.1 188.3h1.9v1.9h-1.9z" fill="#21a791"/>
<path d="M534.1 187.7h1.9v1.9h-1.9z" fill="#22a790"/>
<path d="M534.6 186.7h1.9v1.9h-1.9z" fill="#22a78f"/>
<path d="M533.8 186.9h1.9v1.9h-1.9z" fill="#23a78d"/>
<path d="M535.3 189.4h1.9v1.9h-1.9z" fill="#24a78c"/>
<path d="M536.1 185.3h1.9v1.9h-1.9z" fill="#26a88b"/>
<path d="M537.8 188.1h1.9v1.9h-1.9z" fill="#27a88a"/>
<path d="M535.0 188.5h1.9v1.9h-1.9z" fill="#29a889"/>
<path d="M535.3 190.7h1.9v1.9h-1.9z" fill="#2aa988"/>
<path d="M535.8 189.2h1.9v1.9h-1.9z" fill="#2ca987"/>
<path d="M537.3 190.9h1.9v1.9h-1.9z" fill="#2da986"/>
<path d="M534.3 187.0h1.9v1.9h-1.9z" fill="#2fa985"/>
<path d="M533.1 185.9h1.9v1.9h-1.9z" fill="#30aa84"/>
<path d="M536.8 189.2h1.9v1.9h-1.9z" fill="#31aa83"/>
<path d="M536.5 189.7h1.9v1.9h-1.9z" fill="#33aa82"/>
<path d="M537.2 191.2h1.9v1.9h-1.9z" fill="#34ab81"/>
<path d="M539.7 188.1h1.9v1.9h-1.9z" fill="#36ab80"/>
<path d="M539.5 191.2h1.9v1.9h-1.9z" fill="#37ab7f"/>
<path d="M536.0 189.9h1.9v1.9h-1.9z" fill="#39ab7e"/>
<path d="M536.8 187.0h1.9v1.9h-1.9z" fill="#3aac7d"/>
<path d="M537.8 187.2h1.9v1.9h-1.9z" fill="#3cac7c"/>
<path d="M538.0 188.2h1.9v1.9h-1.9z" fill="#3dac7b"/>
<path d="M537.6 191.2h1.9v1.9h-1.9z" fill="#3fad7a"/>
<path d="M538.5 188.8h1.9v1.9h-1.9z" fill="#40ad79"/>
<path d="M538.8 191.2h1.9v1.9h-1.9z" fill="#42ad78"/>
<path d="M540.2 188.9h1.9v1.9h-1.9z" fill="#43ad77"/>
<path d="M540.7 190.0h1.9v1.9h-1.9z" fill="#45ae76"/>
<path d="M538.1 192.3h1.9v1.9h-1.9z" fill="#46ae75"/>
<path d="M540.2 191.6h1.9v1.9h-1.9z" fill="#48ae74"/>
<path d="M539.6 187.7h1.9v1.9h-1.9z" fill="#49af73"/>
<path d="M540.3 191.6h1.9v1.9h-1.9z" fill="#4aaf72"/>
<path d="M539.6 193.5h1.9v1.9h-1.9z" fill="#4caf71"/>
<path d="M540.2 193.6h1.9v1.9h-1.9z" fill="#4daf70"/>
<path d="M542.1 189.9h1.9v1.9h-1.9z" fill="#4fb06f"/>
<path d="M539.0 190.6h1.9v1.9h-1.9z" fill="#50b06e"/>
<path d="M540.5 192.3h1.9v1.9h-1.9z" fill="#52b06d"/>
<path d="M539.8 189.6h1.9v1.9h-1.9z" fill="#54b16c"/>
<path d="M544.4 191.4h1.9v1.9h-1.9z" fill="#56b16b"/>
<path d="M541.6 194.3h1.9v1.9h-1.9z" fill="#57b16a"/>
<path d="M541.5 187.8h1.9v1.9h-1.9z" fill="#59b269"/>
<path d="M542.3 190.6h1.9v1.9h-1.9zM542.8 189.4h1.9v1.9h-1.9z" fill="#5bb268"/>
<path d="M542.0 192.8h1.9v1.9h-1.9z" fill="#5cb267"/>
<path d="M543.7 193.1h1.9v1.9h-1.9z" fill="#5eb366"/>
<path d="M543.3 192.0h1.9v1.9h-1.9z" fill="#5fb366"/>
<path d="M542.3 190.9h1.9v1.9h-1.9z" fill="#61b365"/>
<path d="M543.8 194.2h1.9v1.9h-1.9z" fill="#62b364"/>
<path d="M543.5 191.3h1.9v1.9h-1.9z" fill="#64b463"/>
<path d="M541.2 191.9h1.9v1.9h-1.9z" fill="#66b462"/>
<path d="M545.1 192.9h1.9v1.9h-1.9z" fill="#67b461"/>
<path d="M542.1 192.3h1.9v1.9h-1.9z" fill="#68b461"/>
<path d="M544.6 192.1h1.9v1.9h-1.9z" fill="#6ab560"/>
<path d="M543.2 192.3h1.9v1.9h-1.9z" fill="#6cb55f"/>
<path d="M542.8 195.6h1.9v1.9h-1.9z" fill="#6db55e"/>
<path d="M543.2 193.6h1.9v1.9h-1.9z" fill="#6eb65d"/>
<path d="M545.9 193.3h1.9v1.9h-1.9z" fill="#70b65d"/>
<path d="M544.1 193.3h1.9v1.9h-1.9z" fill="#72b65c"/>
<path d="M544.8 193.4h1.9v1.9h-1.9z" fill="#73b65b"/>
<path d="M544.4 193.3h1.9v1.9h-1.9z" fill="#74b75a"/>
<path d="M545.3 196.1h1.9v1.9h-1.9z" fill="#76b759"/>
<path d="M544.9 195.0h1.9v1.9h-1.9z" fill="#78b758"/>
<path d="M545.4 192.9h1.9v1.9h-1.9z" fill="#79b758"/>
<path d="M544.4 194.7h1.9v1.9h-1.9z" fill="#7ab857"/>
<path d="M544.4 195.0h1.9v1.9h-1.9z" fill="#7cb856"/>
<path d="M545.8 196.6h1.9v1.9h-1.9z" fill="#7eb855"/>
<path d="M545.1 196.0h1.9v1.9h-1.9z" fill="#7fb954"/>
<path d="M548.4 195.8h1.9v1.9h-1.9z" fill="#80b954"/>
<path d="M546.1 195.3h1.9v1.9h-1.9z" fill="#82b953"/>
<path d="M547.2 194.8h1.9v1.9h-1.9z" fill="#84b952"/>
<path d="M548.4 195.1h1.9v1.9h-1.9z" fill="#85ba51"/>
<path d="M547.7 196.7h1.9v1.9h-1.9z" fill="#86ba50"/>
<path d="M547.5 195.0h1.9v1.9h-1.9z" fill="#88ba50"/>
<path d="M548.1 194.9h1.9v1.9h-1.9z" fill="#8aba4f"/>
<path d="M545.1 195.0h1.9v1.9h-1.9z" fill="#8cba4e"/>
<path d="M548.0 194.3h1.9v1.9h-1.9z" fill="#8eba4d"/>
<path d="M546.1 196.5h1.9v1.9h-1.9z" fill="#90ba4c"/>
<path d="M547.8 196.8h1.9v1.9h-1.9z" fill="#92ba4c"/>
<path d="M549.4 198.1h1.9v1.9h-1.9z" fill="#94ba4b"/>
<path d="M549.8 197.4h1.9v1.9h-1.9z" fill="#95b94a"/>
<path d="M551.0 196.0h1.9v1.9h-1.9z" fill="#97b94a"/>
<path d="M550.8 198.0h1.9v1.9h-1.9z" fill="#99b949"/>
<path d="M547.4 195.3h1.9v1.9h-1.9z" fill="#9bb948"/>
<path d="M550.0 198.9h1.9v1.9h-1.9z" fill="#9db947"/>
<path d="M549.6 195.3h1.9v1.9h-1.9z" fill="#9fb946"/>
<path d="M548.3 197.4h1.9v1.9h-1.9z" fill="#a1b946"/>
<path d="M550.7 196.3h1.9v1.9h-1.9zM550.7 196.7h1.9v1.9h-1.9z" fill="#a2b945"/>
<path d="M551.8 195.9h1.9v1.9h-1.9z" fill="#a4b945"/>
<path d="M550.3 198.7h1.9v1.9h-1.9z" fill="#a5b944"/>
<path d="M550.3 196.9h1.9v1.9h-1.9z" fill="#a6b944"/>
<path d="M550.8 199.9h1.9v1.9h-1.9z" fill="#a7b943"/>
<path d="M551.5 199.6h1.9v1.9h-1.9z" fill="#a9b943"/>
<path d="M550.5 198.2h1.9v1.9h-1.9z" fill="#aab942"/>
<path d="M552.3 198.8h1.9v1.9h-1.9z" fill="#abb942"/>
<path d="M551.2 196.5h1.9v1.9h-1.9z" fill="#acb941"/>
<path d="M552.4 199.8h1.9v1.9h-1.9z" fill="#aeb941"/>
<path d="M552.6 197.5h1.9v1.9h-1.9z" fill="#afb940"/>
<path d="M550.8 198.8h1.9v1.9h-1.9z" fill="#b0b940"/>
<path d="M551.3 200.7h1.9v1.9h-1.9z" fill="#b1b83f"/>
<path d="M551.4 199.5h1.9v1.9h-1.9z" fill="#b2b83f"/>
<path d="M551.6 198.3h1.9v1.9h-1.9z" fill="#b4b83e"/>
<path d="M553.9 200.4h1.9v1.9h-1.9z" fill="#b5b83e"/>
<path d="M552.3 200.5h1.9v1.9h-1.9z" fill="#b6b83d"/>
<path d="M551.0 202.3h1.9v1.9h-1.9z" fill="#b7b83d"/>
<path d="M552.3 198.9h1.9v1.9h-1.9z" fill="#b9b83c"/>
<path d="M552.4 201.4h1.9v1.9h-1.9z" fill="#bab83c"/>
<path d="M553.7 202.0h1.9v1.9h-1.9z" fill="#bbb83b"/>
<path d="M554.6 201.6h1.9v1.9h-1.9z" fill="#bcb83b"/>
<path d="M555.1 199.9h1.9v1.9h-1.9z" fill="#beb83a"/>
<path d="M554.7 202.5h1.9v1.9h-1.9z" fill="#bfb83a"/>
<path d="M554.7 202.0h1.9v1.9h-1.9z" fill="#c0b83a"/>
<path d="M554.0 201.8h1.9v1.9h-1.9z" fill="#c0b73a"/>
<path d="M553.0 202.1h1.9v1.9h-1.9z" fill="#c1b739"/>
<path d="M556.0 204.3h1.9v1.9h-1.9z" fill="#c2b739"/>
<path d="M554.5 202.5h1.9v1.9h-1.9zM554.6 202.9h1.9v1.9h-1.9z" fill="#c3b739"/>
<path d="M555.2 203.7h1.9v1.9h-1.9z" fill="#c4b739"/>
<path d="M556.7 201.7h1.9v1.9h-1.9zM554.5 203.4h1.9v1.9h-1.9z" fill="#c5b639"/>
<path d="M555.6 204.4h1.9v1.9h-1.9z" fill="#c6b639"/>
<path d="M557.5 203.5h1.9v1.9h-1.9z" fill="#c6b638"/>
<path d="M556.6 204.5h1.9v1.9h-1.9zM556.2 205.1h1.9v1.9h-1.9z" fill="#c7b638"/>
<path d="M557.1 205.2h1.9v1.9h-1.9z" fill="#c8b538"/>
<path d="M555.5 205.8h1.9v1.9h-1.9zM557.1 204.2h1.9v1.9h-1.9z" fill="#c9b538"/>
<path d="M557.2 205.8h1.9v1.9h-1.9zM556.8 206.2h1.9v1.9h-1.9z" fill="#cab538"/>
<path d="M558.7 204.9h1.9v1.9h-1.9z" fill="#cbb538"/>
<path d="M557.5 205.0h1.9v1.9h-1.9z" fill="#ccb537"/>
<path d="M557.5 207.8h1.9v1.9h-1.9z" fill="#ccb437"/>
<path d="M556.0 208.2h1.9v1.9h-1.9zM558.2 207.3h1.9v1.9h-1.9z" fill="#cdb437"/>
<path d="M557.8 207.7h1.9v1.9h-1.9zM558.2 207.9h1.9v1.9h-1.9z" fill="#ceb437"/>
<path d="M559.3 209.0h1.9v1.9h-1.9z" fill="#cfb437"/>
<path d="M557.6 209.5h1.9v1.9h-1.9z" fill="#d0b437"/>
<path d="M560.3 210.3h1.9v1.9h-1.9z" fill="#d0b337"/>
<path d="M559.1 207.6h1.9v1.9h-1.9zM558.5 209.2h1.9v1.9h-1.9z" fill="#d1b336"/>
<path d="M559.1 208.2h1.9v1.9h-1.9z" fill="#d2b336"/>
<path d="M559.9 210.7h1.9v1.9h-1.9zM558.3 209.4h1.9v1.9h-1.9z" fill="#d3b336"/>
<path d="M558.7 210.4h1.9v1.9h-1.9z" fill="#d4b336"/>
<path d="M560.9 208.7h1.9v1.9h-1.9z" fill="#d4b236"/>
<path d="M561.4 211.8h1.9v1.9h-1.9zM559.0 212.7h1.9v1.9h-1.9zM561.1 211.6h1.9v1.9h-1.9z" fill="#d5b236"/>
<path d="M560.5 210.8h1.9v1.9h-1.9z" fill="#d6b236"/>
<path d="M560.8 211.2h1.9v1.9h-1.9z" fill="#d6b235"/>
<path d="M560.5 213.0h1.9v1.9h-1.9zM560.3 212.0h1.9v1.9h-1.9zM561.1 213.7h1.9v1.9h-1.9z" fill="#d7b235"/>
<path d="M561.6 213.1h1.9v1.9h-1.9z" fill="#d8b235"/>
<path d="M562.0 214.9h1.9v1.9h-1.9zM560.8 214.4h1.9v1.9h-1.9z" fill="#d8b135"/>
<path d="M559.7 214.2h1.9v1.9h-1.9zM560.4 214.7h1.9v1.9h-1.9z" fill="#d9b135"/>
<path d="M560.9 213.1h1.9v1.9h-1.9zM561.9 214.5h1.9v1.9h-1.9zM562.5 216.8h1.9v1.9h-1.9z" fill="#dab135"/>
<path d="M562.1 216.0h1.9v1.9h-1.9zM562.0 215.2h1.9v1.9h-1.9z" fill="#dbb135"/>
<path d="M562.0 217.5h1.9v1.9h-1.9z" fill="#dbb134"/>
<path d="M562.6 216.2h1.9v1.9h-1.9z" fill="#dcb134"/>
<path d="M563.3 217.8h1.9v1.9h-1.9z" fill="#dcb034"/>
<path d="M561.4 218.1h1.9v1.9h-1.9zM561.6 217.7h1.9v1.9h-1.9zM562.5 219.9h1.9v1.9h-1.9z" fill="#ddb034"/>
<path d="M564.5 217.6h1.9v1.9h-1.9zM562.6 219.0h1.9v1.9h-1.9zM563.0 219.3h1.9v1.9h-1.9zM562.4 220.0h1.9v1.9h-1.9z" fill="#deb034"/>
<path d="M562.6 220.1h1.9v1.9h-1.9z" fill="#dfb034"/>
<path d="M563.5 221.4h1.9v1.9h-1.9z" fill="#dfaf34"/>
<path d="M563.0 222.5h1.9v1.9h-1.9zM563.3 222.3h1.9v1.9h-1.9z" fill="#dfaf35"/>
<path d="M563.7 223.9h1.9v1.9h-1.9zM563.6 225.2h1.9v1.9h-1.9zM564.0 225.2h1.9v1.9h-1.9z" fill="#e0af35"/>
<path d="M564.8 225.8h1.9v1.9h-1.9zM564.2 226.4h1.9v1.9h-1.9zM565.3 228.0h1.9v1.9h-1.9zM565.1 227.0h1.9v1.9h-1.9z" fill="#e1ae35"/>
<path d="M564.5 228.0h1.9v1.9h-1.9zM565.0 229.4h1.9v1.9h-1.9z" fill="#e2ae36"/>
<path d="M565.4 229.9h1.9v1.9h-1.9zM566.0 230.9h1.9v1.9h-1.9zM565.9 231.9h1.9v1.9h-1.9z" fill="#e3ad36"/>
<path d="M566.6 233.5h1.9v1.9h-1.9z" fill="#e4ad36"/>
<path d="M566.4 234.8h1.9v1.9h-1.9z" fill="#e4ac37"/>
<path d="M567.0 234.6h1.9v1.9h-1.9zM566.9 235.8h1.9v1.9h-1.9zM566.5 236.1h1.9v1.9h-1.9z" fill="#e5ac37"/>
<path d="M566.7 236.8h1.9v1.9h-1.9z" fill="#e6ac37"/>
<path d="M567.7 238.4h1.9v1.9h-1.9z" fill="#e6ab37"/>
<path d="M568.3 239.4h1.9v1.9h-1.9zM568.4 240.4h1.9v1.9h-1.9z" fill="#e7ab38"/>
<path d="M568.9 241.3h1.9v1.9h-1.9zM569.5 242.3h1.9v1.9h-1.9z" fill="#e8aa38"/>
<path d="M569.5 243.1h1.9v1.9h-1.9zM570.4 244.5h1.9v1.9h-1.9z" fill="#e9aa39"/>
<path d="M571.9 246.6h1.9v1.9h-1.9zM571.9 246.9h1.9v1.9h-1.9zM572.6 247.0h1.9v1.9h-1.9zM572.0 247.7h1.9v1.9h-1.9zM573.3 247.7h1.9v1.9h-1.9zM574.2 247.3h1.9v1.9h-1.9zM574.5 247.9h1.9v1.9h-1.9zM574.3 248.7h1.9v1.9h-1.9zM573.7 248.6h1.9v1.9h-1.9zM574.2 248.9h1.9v1.9h-1.9zM574.1 249.7h1.9v1.9h-1.9zM575.2 249.0h1.9v1.9h-1.9zM574.9 250.0h1.9v1.9h-1.9zM575.3 250.0h1.9v1.9h-1.9zM575.3 250.1h1.9v1.9h-1.9zM575.2 250.2h1.9v1.9h-1.9zM575.9 249.9h1.9v1.9h-1.9zM577.0 250.9h1.9v1.9h-1.9zM576.5 250.5h1.9v1.9h-1.9zM577.5 250.5h1.9v1.9h-1.9zM577.1 251.1h1.9v1.9h-1.9zM577.5 251.6h1.9v1.9h-1.9zM577.6 251.4h1.9v1.9h-1.9zM578.1 252.4h1.9v1.9h-1.9zM578.0 253.2h1.9v1.9h-1.9zM578.2 252.7h1.9v1.9h-1.9zM579.5 252.9h1.9v1.9h-1.9zM578.8 252.6h1.9v1.9h-1.9zM579.1 253.3h1.9v1.9h-1.9zM579.6 253.0h1.9v1.9h-1.9zM580.4 253.6h1.9v1.9h-1.9zM580.6 253.1h1.9v1.9h-1.9zM579.7 253.4h1.9v1.9h-1.9zM580.9 252.9h1.9v1.9h-1.9zM581.9 253.2h1.9v1.9h-1.9zM581.6 253.3h1.9v1.9h-1.9zM582.0 253.5h1.9v1.9h-1.9zM582.6 253.5h1.9v1.9h-1.9zM582.4 253.2h1.9v1.9h-1.9zM583.0 253.9h1.9v1.9h-1.9zM583.6 253.4h1.9v1.9h-1.9zM582.9 253.3h1.9v1.9h-1.9z" fill="#e3202e"/>
<path d="M582.2 256.1h1.9v1.9h-1.9z" fill="#f1bb35"/>
<path d="M581.7 255.6h1.9v1.9h-1.9z" fill="#f1bc35"/>
<path d="M583.3 256.2h1.9v1.9h-1.9z" fill="#f1bd35"/>
<path d="M582.8 255.4h1.9v1.9h-1.9z" fill="#f1be35"/>
<path d="M583.4 255.5h1.9v1.9h-1.9z" fill="#f1bf34"/>
<path d="M582.7 256.5h1.9v1.9h-1.9z" fill="#f1c034"/>
<path d="M583.6 256.1h1.9v1.9h-1.9z" fill="#f1c134"/>
<path d="M583.0 255.5h1.9v1.9h-1.9z" fill="#f1c234"/>
<path d="M583.7 255.9h1.9v1.9h-1.9z" fill="#f1c333"/>
<path d="M584.4 255.7h1.9v1.9h-1.9z" fill="#f2c433"/>
<path d="M584.4 256.5h1.9v1.9h-1.9z" fill="#f2c533"/>
<path d="M584.4 258.7h1.9v1.9h-1.9zM585.8 259.3h1.9v1.9h-1.9z" fill="#f1ce34"/>
<path d="M585.2 259.4h1.9v1.9h-1.9zM585.6 258.8h1.9v1.9h-1.9z" fill="#f0cf34"/>
<path d="M586.4 260.8h1.9v1.9h-1.9zM585.7 258.2h1.9v1.9h-1.9z" fill="#f0d034"/>
<path d="M585.4 257.9h1.9v1.9h-1.9z" fill="#f0d134"/>
<path d="M587.1 258.6h1.9v1.9h-1.9z" fill="#f0d135"/>
<path d="M586.8 258.4h1.9v1.9h-1.9zM587.6 259.3h1.9v1.9h-1.9z" fill="#f0d235"/>
<path d="M589.5 259.6h1.9v1.9h-1.9z" fill="#f0d335"/>
<path d="M588.2 259.0h1.9v1.9h-1.9z" fill="#efd335"/>
<path d="M589.1 260.7h1.9v1.9h-1.9zM588.5 260.3h1.9v1.9h-1.9z" fill="#efd435"/>
<path d="M589.4 257.3h1.9v1.9h-1.9zM590.8 259.8h1.9v1.9h-1.9z" fill="#efd536"/>
<path d="M588.0 257.0h1.9v1.9h-1.9zM589.6 258.1h1.9v1.9h-1.9z" fill="#efd636"/>
<path d="M590.1 258.0h1.9v1.9h-1.9zM590.9 257.7h1.9v1.9h-1.9z" fill="#efd736"/>
<path d="M590.3 258.6h1.9v1.9h-1.9z" fill="#eed836"/>
<path d="M589.9 258.6h1.9v1.9h-1.9z" fill="#eed837"/>
<path d="M590.4 257.6h1.9v1.9h-1.9zM590.3 255.2h1.9v1.9h-1.9z" fill="#eed937"/>
<path d="M589.5 258.8h1.9v1.9h-1.9zM590.1 256.1h1.9v1.9h-1.9zM590.2 256.4h1.9v1.9h-1.9z" fill="#eeda37"/>
<path d="M592.3 255.3h1.9v1.9h-1.9z" fill="#eedb37"/>
<path d="M589.7 256.6h1.9v1.9h-1.9zM588.7 254.3h1.9v1.9h-1.9z" fill="#eddb37"/>
<path d="M589.2 254.9h1.9v1.9h-1.9zM591.2 256.4h1.9v1.9h-1.9z" fill="#eddb38"/>
<path d="M590.7 256.7h1.9v1.9h-1.9zM588.5 255.6h1.9v1.9h-1.9z" fill="#eddc38"/>
<path d="M589.6 254.9h1.9v1.9h-1.9zM590.0 252.9h1.9v1.9h-1.9zM591.2 255.2h1.9v1.9h-1.9zM589.9 249.1h1.9v1.9h-1.9z" fill="#ecdc38"/>
<path d="M590.4 252.9h1.9v1.9h-1.9zM592.0 251.2h1.9v1.9h-1.9zM590.3 252.3h1.9v1.9h-1.9zM590.4 250.1h1.9v1.9h-1.9z" fill="#ecdd38"/>
<path d="M589.5 253.7h1.9v1.9h-1.9zM589.7 253.5h1.9v1.9h-1.9zM591.2 250.9h1.9v1.9h-1.9z" fill="#ebdd39"/>
<path d="M590.3 253.6h1.9v1.9h-1.9zM590.9 252.8h1.9v1.9h-1.9zM591.0 250.1h1.9v1.9h-1.9zM590.0 251.7h1.9v1.9h-1.9zM589.0 251.9h1.9v1.9h-1.9z" fill="#ebde39"/>
<path d="M590.9 249.6h1.9v1.9h-1.9zM590.5 250.6h1.9v1.9h-1.9z" fill="#eade39"/>
<path d="M590.1 250.3h1.9v1.9h-1.9zM589.7 249.7h1.9v1.9h-1.9zM591.1 250.8h1.9v1.9h-1.9z" fill="#eadf39"/>
<path d="M589.7 251.4h1.9v1.9h-1.9zM590.1 249.9h1.9v1.9h-1.9z" fill="#eadf3a"/>
<path d="M592.1 249.3h1.9v1.9h-1.9zM591.7 250.4h1.9v1.9h-1.9z" fill="#e9e03a"/>
<path d="M592.3 250.4h1.9v1.9h-1.9z" fill="#e9e13a"/>
<path d="M592.9 250.7h1.9v1.9h-1.9z" fill="#e8e13b"/>
<path d="M592.2 249.9h1.9v1.9h-1.9zM593.0 248.4h1.9v1.9h-1.9z" fill="#e8e23b"/>
<path d="M592.6 249.7h1.9v1.9h-1.9z" fill="#e7e33b"/>
<path d="M593.4 249.5h1.9v1.9h-1.9z" fill="#e7e33c"/>
<path d="M593.3 248.8h1.9v1.9h-1.9zM594.3 247.1h1.9v1.9h-1.9z" fill="#e6e43c"/>
<text x="-0.5" y="315" font-size="12.5" fill="#111" font-weight="bold" stroke="#111" stroke-width="0.45">d</text>
<path d="M35.8 329.6V469.3" stroke="#808080" stroke-width="0.8" fill="none"/>
<path d="M32.2 329.6H35.8M32.2 364.5H35.8M32.2 399.4H35.8M32.2 434.3H35.8M32.2 469.2H35.8" stroke="#808080" stroke-width="0.8" fill="none"/>
<text x="29" y="332" font-size="7.5" fill="#4a4a4a" text-anchor="end" textLength="4.42" lengthAdjust="spacingAndGlyphs">4</text>
<text x="29" y="366.9" font-size="7.5" fill="#4a4a4a" text-anchor="end" textLength="4.42" lengthAdjust="spacingAndGlyphs">2</text>
<text x="29" y="401.8" font-size="7.5" fill="#4a4a4a" text-anchor="end" textLength="4.42" lengthAdjust="spacingAndGlyphs">0</text>
<text x="29" y="436.7" font-size="7.5" fill="#4a4a4a" text-anchor="end" textLength="9.06" lengthAdjust="spacingAndGlyphs">−2</text>
<text x="29" y="471.6" font-size="7.5" fill="#4a4a4a" text-anchor="end" textLength="9.06" lengthAdjust="spacingAndGlyphs">−4</text>
<path d="M35.8 469.3H272.5" stroke="#808080" stroke-width="0.8" fill="none"/>
<path d="M35.78 469.3V472.9M75.15 469.3V472.9M114.52 469.3V472.9M153.89 469.3V472.9M193.26 469.3V472.9M232.63 469.3V472.9M272 469.3V472.9" stroke="#808080" stroke-width="0.8" fill="none"/>
<text x="35.78" y="482.8" font-size="7.5" fill="#4a4a4a" text-anchor="middle" textLength="13.49" lengthAdjust="spacingAndGlyphs">−60</text>
<text x="75.15" y="482.8" font-size="7.5" fill="#4a4a4a" text-anchor="middle" textLength="13.49" lengthAdjust="spacingAndGlyphs">−50</text>
<text x="114.52" y="482.8" font-size="7.5" fill="#4a4a4a" text-anchor="middle" textLength="13.49" lengthAdjust="spacingAndGlyphs">−40</text>
<text x="153.89" y="482.8" font-size="7.5" fill="#4a4a4a" text-anchor="middle" textLength="13.49" lengthAdjust="spacingAndGlyphs">−30</text>
<text x="193.26" y="482.8" font-size="7.5" fill="#4a4a4a" text-anchor="middle" textLength="13.49" lengthAdjust="spacingAndGlyphs">−20</text>
<text x="232.63" y="482.8" font-size="7.5" fill="#4a4a4a" text-anchor="middle" textLength="13.49" lengthAdjust="spacingAndGlyphs">−10</text>
<text x="272" y="482.8" font-size="7.5" fill="#4a4a4a" text-anchor="middle" textLength="4.42" lengthAdjust="spacingAndGlyphs">0</text>
<text transform="translate(12.9,399.5) rotate(-90)" font-size="9" fill="#333" text-anchor="middle">Magnitude (a.u.)</text>
<text x="153.7" y="497" font-size="9" fill="#333" text-anchor="middle">Time (min)</text>
<path d="M35.90 401.7 36.40 401.8 36.90 402.2 37.40 402.2 37.90 402.4 38.40 402.1 38.90 401.8 39.40 401.8 39.90 401.4 40.40 401.4 40.90 401.7 41.40 401.6 41.90 401.6 42.40 402.0 42.90 402.2 43.40 402.1 43.90 402.0 44.40 401.9 44.90 401.4 45.40 401.6 45.90 401.7 46.40 401.6 46.90 401.8 47.40 401.8 47.90 401.9 48.40 401.8 48.90 402.0 49.40 401.8 49.90 401.7 50.40 401.6 50.90 401.7 51.40 402.0 51.90 401.8 52.40 402.2 52.90 401.7 53.40 401.3 53.90 401.9 54.40 402.2 54.90 402.3 55.40 402.3 55.90 402.1 56.40 402.0 56.90 401.9 57.40 401.9 57.90 402.1 58.40 402.1 58.90 402.0 59.40 402.3 59.90 402.4 60.40 402.0 60.90 401.8 61.40 402.0 61.90 401.9 62.40 401.3 62.90 401.3 63.40 401.8 63.90 401.9 64.40 401.7 64.90 402.0 65.40 401.8 65.90 402.1 66.40 402.4 66.90 401.8 67.40 402.2 67.90 402.1 68.40 401.5 68.90 401.8 69.40 401.7 69.90 401.6 70.40 401.9 70.90 402.0 71.40 401.9 71.90 402.1 72.40 402.5 72.90 402.6 73.40 401.8 73.90 401.7 74.40 402.3 74.90 402.1 75.40 401.8 75.90 401.6 76.40 401.8 76.90 401.6 77.40 401.9 77.90 402.4 78.40 402.1 78.90 401.7 79.40 402.0 79.90 402.3 80.40 402.3 80.90 402.0 81.40 402.3 81.90 402.4 82.40 402.3 82.90 401.9 83.40 401.6 83.90 402.0 84.40 401.4 84.90 401.2 85.40 401.5 85.90 401.4 86.40 401.5 86.90 401.5 87.40 401.7 87.90 402.1 88.40 402.1 88.90 401.8 89.40 401.7 89.90 402.2 90.40 402.2 90.90 401.9 91.40 401.8 91.90 401.9 92.40 402.2 92.90 402.3 93.40 402.2 93.90 402.2 94.40 402.0 94.90 402.0 95.40 401.9 95.90 401.8 96.40 402.2 96.90 401.9 97.40 401.9 97.90 402.2 98.40 401.8 98.90 401.3 99.40 401.2 99.90 401.4 100.40 401.8 100.90 402.1 101.40 402.3 101.90 402.7 102.40 402.3 102.90 401.4 103.40 401.2 103.90 401.2 104.40 401.4 104.90 401.7 105.40 402.1 105.90 401.9 106.40 401.6 106.90 401.9 107.40 401.9 107.90 401.8 108.40 402.3 108.90 402.4 109.40 401.9 109.90 402.1 110.40 402.2 110.90 402.4 111.40 402.1 111.90 401.7 112.40 401.8 112.90 401.9 113.40 402.2 113.90 402.0 114.40 401.4 114.90 401.6 115.40 401.8 115.90 401.9 116.40 402.2 116.90 402.5 117.40 402.6 117.90 401.9 118.40 401.9 118.90 402.3 119.40 402.2 119.90 402.0 120.40 401.9 120.90 401.9 121.40 401.7 121.90 402.1 122.40 402.4 122.90 401.8 123.40 401.9 123.90 402.2 124.40 402.1 124.90 402.1 125.40 402.3 125.90 401.8 126.40 401.5 126.90 402.1 127.40 402.1 127.90 401.6 128.40 401.4 128.90 401.8 129.40 402.4 129.90 401.9 130.40 401.5 130.90 402.0 131.40 402.2 131.90 402.2 132.40 402.4 132.90 402.5 133.40 401.9 133.90 401.7 134.40 401.8 134.90 401.8 135.40 402.4 135.90 402.6 136.40 402.8 136.90 402.8 137.40 402.6 137.90 402.5 138.40 402.1 138.90 401.9 139.40 402.2 139.90 402.4 140.40 402.4 140.90 402.0 141.40 401.7 141.90 401.6 142.40 402.2 142.90 402.5 143.40 402.2 143.90 402.3 144.40 402.0 144.90 402.0 145.40 402.0 145.90 402.0 146.40 402.3 146.90 402.0 147.40 401.8 147.90 402.0 148.40 401.9 148.90 402.1 149.40 402.6 149.90 402.2 150.40 401.8 150.90 402.4 151.40 402.5 151.90 401.9 152.40 401.9 152.90 402.1 153.40 401.9 153.90 402.2 154.40 402.1 154.90 401.9 155.40 402.3 155.90 402.2 156.40 401.8 156.90 402.4 157.40 402.4 157.90 402.2 158.40 402.3 158.90 402.0 159.40 402.1 159.90 402.0 160.40 402.2 160.90 401.9 161.40 401.9 161.90 402.3 162.40 402.2 162.90 401.5 163.40 401.7 163.90 402.0 164.40 402.0 164.90 402.1 165.40 401.9 165.90 401.9 166.40 402.1 166.90 402.3 167.40 401.9 167.90 401.6 168.40 401.6 168.90 402.1 169.40 402.4 169.90 402.0 170.40 401.9 170.90 402.3 171.40 402.2 171.90 401.8 172.40 402.2 172.90 402.4 173.40 402.4 173.90 402.1 174.40 401.9 174.90 401.6 175.40 401.5 175.90 401.9 176.40 401.9 176.90 402.3 177.40 402.3 177.90 402.0 178.40 402.2 178.90 402.7 179.40 402.3 179.90 402.1 180.40 402.2 180.90 401.7 181.40 401.7 181.90 402.1 182.40 402.2 182.90 402.0 183.40 402.1 183.90 402.1 184.40 402.0 184.90 401.9 185.40 402.1 185.90 401.8 186.40 401.7 186.90 402.0 187.40 402.2 187.90 402.1 188.40 401.4 188.90 401.8 189.40 402.5 189.90 402.0 190.40 401.9 190.90 402.3 191.40 402.0 191.90 402.1 192.40 402.1 192.90 402.2 193.40 402.6 193.90 402.3 194.40 402.0 194.90 402.1 195.40 401.8 195.90 401.6 196.40 402.0 196.90 402.7 197.40 402.9 197.90 402.5 198.40 402.1 198.90 402.1 199.40 402.3 199.90 401.9 200.40 401.8 200.90 401.8 201.40 401.8 201.90 401.4 202.40 401.8 202.90 402.4 203.40 401.8 203.90 401.8 204.40 401.7 204.90 401.8 205.40 402.4 205.90 402.5 206.40 402.1 206.90 402.0 207.40 402.1 207.90 402.1 208.40 401.9 208.90 402.0 209.40 402.2 209.90 402.1 210.40 402.1 210.90 401.9 211.40 401.5 211.90 401.3 212.40 401.8 212.90 402.0 213.40 401.9 213.90 401.9 214.40 401.8 214.90 402.0 215.40 401.8 215.90 401.6 216.40 402.2 216.90 402.8 217.40 402.5 217.90 402.1 218.40 402.0 218.90 401.7 219.40 402.0 219.90 402.5 220.40 402.4 220.90 402.3 221.40 402.0 221.90 402.1 222.40 402.3 222.90 402.0 223.40 402.1 223.90 402.1 224.40 401.6 224.90 401.8 225.40 401.8 225.90 401.6 226.40 401.9 226.90 402.2 227.40 402.0 227.90 402.0 228.40 402.2 228.90 402.2 229.40 402.3 229.90 402.3 230.40 401.9 230.90 401.9 231.40 402.2 231.90 402.1 232.40 402.1 232.90 402.2 233.40 402.1 233.90 401.8 234.40 402.0 234.90 402.0 235.40 401.6 235.90 401.7 236.40 401.8 236.90 401.8 237.40 401.8 237.90 401.7 238.40 401.6 238.90 402.4 239.40 402.3 239.90 401.8 240.40 402.0 240.90 401.8 241.40 401.6 241.90 401.5 242.40 401.4 242.90 402.0 243.40 402.0 243.90 401.5 244.40 401.9 244.90 401.8 245.40 401.9 245.90 402.1 246.40 402.1 246.90 402.0 247.40 401.5 247.90 401.9 248.40 401.9 248.90 401.6 249.40 401.9 249.90 402.0 250.40 401.6 250.90 401.6 251.40 401.9 251.90 401.8 252.40 402.2 252.90 402.4 253.40 401.9 253.90 401.8 254.40 402.0 254.90 401.9 255.40 401.6 255.90 401.7 256.40 401.7 256.90 401.6 257.40 401.1 257.90 401.0 258.40 401.6 258.90 401.9 259.40 401.8 259.90 401.5 260.40 401.6 260.90 401.5 261.40 401.9 261.90 402.1 262.40 402.0 262.90 401.4 263.40 400.8 263.90 401.1 264.40 401.0 264.90 400.9 265.40 401.8 265.90 401.3 266.40 400.7 266.90 400.9 267.40 400.7 267.90 400.6 268.40 400.0 268.90 399.9 269.40 400.0 269.90 399.7 270.40 399.8 270.90 400.1 271.40 399.8 271.90 399.8" stroke="#1f74b8" stroke-width="1.5" fill="none" stroke-linejoin="round"/>
<path d="M35.90 420.5 36.35 416.8 36.80 417.7 37.25 425.1 37.70 420.3 38.15 423.7 38.60 422.2 39.05 420.4 39.50 421.9 39.95 421.4 40.40 424.9 40.85 413.8 41.30 420.8 41.75 413.8 42.20 420.4 42.65 422.8 43.10 421.9 43.55 418.5 44.00 418.5 44.45 419.4 44.90 423.1 45.35 420.1 45.80 418.5 46.25 415.8 46.70 418.9 47.15 420.7 47.60 418.1 48.05 419.4 48.50 418.1 48.95 420.6 49.40 419.0 49.85 420.4 50.30 419.9 50.75 420.9 51.20 425.7 51.65 419.4 52.10 422.4 52.55 422.8 53.00 419.6 53.45 419.1 53.90 418.8 54.35 412.6 54.80 417.1 55.25 419.1 55.70 418.8 56.15 421.9 56.60 420.3 57.05 420.2 57.50 413.6 57.95 419.2 58.40 418.8 58.85 416.1 59.30 420.6 59.75 417.4 60.20 420.0 60.65 420.0 61.10 423.3 61.55 422.0 62.00 417.4 62.45 414.9 62.90 418.4 63.35 413.9 63.80 415.0 64.25 420.0 64.70 417.9 65.15 420.4 65.60 421.2 66.05 414.4 66.50 421.2 66.95 421.9 67.40 425.0 67.85 418.0 68.30 419.9 68.75 407.1 69.20 418.0 69.65 420.8 70.10 422.6 70.55 417.7 71.00 425.7 71.45 416.9 71.90 415.4 72.35 414.4 72.80 423.6 73.25 417.3 73.70 418.5 74.15 420.0 74.60 419.9 75.05 419.3 75.50 419.7 75.95 421.3 76.40 418.9 76.85 419.2 77.30 420.3 77.75 419.4 78.20 417.1 78.65 417.7 79.10 417.6 79.55 418.7 80.00 416.3 80.45 418.8 80.90 422.6 81.35 416.6 81.80 420.9 82.25 415.4 82.70 413.9 83.15 410.2 83.60 419.0 84.05 419.7 84.50 419.1 84.95 413.6 85.40 415.8 85.85 417.4 86.30 418.0 86.75 418.1 87.20 418.3 87.65 417.4 88.10 418.3 88.55 410.7 89.00 418.2 89.45 421.4 89.90 417.7 90.35 418.4 90.80 416.9 91.25 411.7 91.70 418.4 92.15 416.1 92.60 418.5 93.05 415.1 93.50 416.1 93.95 416.0 94.40 415.3 94.85 418.0 95.30 410.1 95.75 414.6 96.20 421.7 96.65 416.5 97.10 415.9 97.55 416.5 98.00 413.6 98.45 410.7 98.90 415.3 99.35 417.8 99.80 417.0 100.25 417.2 100.70 414.7 101.15 420.6 101.60 418.6 102.05 413.8 102.50 415.5 102.95 416.3 103.40 412.3 103.85 414.2 104.30 411.0 104.75 412.8 105.20 416.3 105.65 412.4 106.10 412.8 106.55 410.9 107.00 414.3 107.45 410.1 107.90 415.4 108.35 419.0 108.80 414.6 109.25 414.0 109.70 418.2 110.15 416.0 110.60 412.7 111.05 418.1 111.50 415.9 111.95 412.9 112.40 406.8 112.85 417.6 113.30 413.8 113.75 420.4 114.20 414.5 114.65 414.7 115.10 424.2 115.55 413.6 116.00 412.5 116.45 416.6 116.90 411.0 117.35 411.8 117.80 411.6 118.25 412.6 118.70 413.0 119.15 409.0 119.60 416.0 120.05 416.6 120.50 410.1 120.95 413.6 121.40 412.9 121.85 415.2 122.30 408.9 122.75 410.9 123.20 413.6 123.65 420.5 124.10 413.4 124.55 413.6 125.00 411.0 125.45 407.8 125.90 411.5 126.35 413.1 126.80 411.9 127.25 410.0 127.70 413.5 128.15 410.4 128.60 409.5 129.05 409.2 129.50 413.9 129.95 411.9 130.40 411.2 130.85 415.0 131.30 409.8 131.75 410.0 132.20 408.6 132.65 412.6 133.10 406.2 133.55 409.7 134.00 411.9 134.45 411.0 134.90 415.3 135.35 416.9 135.80 412.0 136.25 414.4 136.70 410.8 137.15 412.1 137.60 411.9 138.05 407.3 138.50 409.3 138.95 413.9 139.40 411.1 139.85 405.4 140.30 411.5 140.75 402.8 141.20 403.4 141.65 410.1 142.10 409.0 142.55 409.0 143.00 411.2 143.45 414.0 143.90 412.2 144.35 409.4 144.80 412.5 145.25 410.1 145.70 404.9 146.15 406.9 146.60 409.8 147.05 409.3 147.50 408.8 147.95 410.9 148.40 407.7 148.85 417.2 149.30 404.1 149.75 409.7 150.20 407.6 150.65 404.9 151.10 409.6 151.55 406.6 152.00 404.3 152.45 406.1 152.90 406.4 153.35 407.7 153.80 405.5 154.25 403.7 154.70 406.6 155.15 407.6 155.60 409.3 156.05 405.5 156.50 409.2 156.95 411.8 157.40 410.8 157.85 406.7 158.30 401.7 158.75 404.9 159.20 404.6 159.65 401.0 160.10 406.6 160.55 408.5 161.00 402.7 161.45 407.6 161.90 406.1 162.35 410.0 162.80 406.8 163.25 406.7 163.70 405.7 164.15 417.2 164.60 406.3 165.05 409.1 165.50 403.6 165.95 404.6 166.40 400.0 166.85 402.2 167.30 402.0 167.75 406.7 168.20 403.8 168.65 403.2 169.10 405.5 169.55 400.4 170.00 404.7 170.45 403.4 170.90 401.2 171.35 399.4 171.80 399.9 172.25 405.5 172.70 397.6 173.15 403.0 173.60 402.9 174.05 401.9 174.50 403.6 174.95 403.0 175.40 400.3 175.85 398.7 176.30 398.3 176.75 398.5 177.20 399.6 177.65 399.9 178.10 398.4 178.55 397.2 179.00 400.0 179.45 398.6 179.90 398.5 180.35 398.3 180.80 401.1 181.25 396.4 181.70 394.0 182.15 394.9 182.60 395.6 183.05 393.8 183.50 399.5 183.95 396.0 184.40 390.1 184.85 393.1 185.30 396.3 185.75 395.2 186.20 395.0 186.65 393.3 187.10 404.8 187.55 396.2 188.00 391.4 188.45 395.4 188.90 394.7 189.35 394.4 189.80 393.7 190.25 396.1 190.70 389.7 191.15 390.7 191.60 391.8 192.05 390.0 192.50 390.8 192.95 393.9 193.40 385.6 193.85 393.9 194.30 393.1 194.75 388.1 195.20 385.6 195.65 389.5 196.10 389.7 196.55 390.4 197.00 391.6 197.45 391.9 197.90 386.9 198.35 393.1 198.80 386.6 199.25 388.3 199.70 389.9 200.15 388.0 200.60 386.0 201.05 390.2 201.50 389.0 201.95 385.3 202.40 385.3 202.85 388.4 203.30 385.1 203.75 385.4 204.20 389.7 204.65 383.6 205.10 385.4 205.55 381.7 206.00 385.7 206.45 386.2 206.90 384.8 207.35 382.4 207.80 385.2 208.25 386.6 208.70 381.6 209.15 385.5 209.60 378.0 210.05 386.4 210.50 377.9 210.95 381.2 211.40 381.8 211.85 387.1 212.30 382.9 212.75 381.0 213.20 381.1 213.65 380.5 214.10 379.9 214.55 378.8 215.00 375.7 215.45 380.9 215.90 379.1 216.35 385.4 216.80 375.1 217.25 381.7 217.70 378.1 218.15 376.6 218.60 382.0 219.05 379.1 219.50 380.8 219.95 378.4 220.40 371.8 220.85 373.3 221.30 373.4 221.75 373.5 222.20 372.4 222.65 378.7 223.10 371.7 223.55 373.2 224.00 367.7 224.45 374.1 224.90 372.5 225.35 380.9 225.80 369.0 226.25 369.3 226.70 370.5 227.15 369.6 227.60 371.0 228.05 370.3 228.50 374.8 228.95 370.7 229.40 369.0 229.85 367.0 230.30 362.5 230.75 371.0 231.20 366.2 231.65 364.6 232.10 366.0 232.55 371.1 233.00 363.3 233.45 367.1 233.90 374.7 234.35 368.1 234.80 367.7 235.25 365.4 235.70 365.5 236.15 369.6 236.60 361.8 237.05 366.5 237.50 362.0 237.95 364.4 238.40 359.8 238.85 355.8 239.30 358.8 239.75 361.2 240.20 361.3 240.65 359.5 241.10 356.9 241.55 361.0 242.00 360.8 242.45 360.0 242.90 357.1 243.35 360.3 243.80 354.7 244.25 358.4 244.70 357.6 245.15 356.8 245.60 357.1 246.05 354.9 246.50 355.7 246.95 345.1 247.40 361.3 247.85 356.4 248.30 353.0 248.75 350.2 249.20 356.4 249.65 357.6 250.10 353.6 250.55 355.9 251.00 352.3 251.45 349.6 251.90 350.3 252.35 356.3 252.80 348.1 253.25 355.1 253.70 350.7 254.15 352.5 254.60 357.1 255.05 351.8 255.50 350.7 255.95 351.5 256.40 348.7 256.85 350.9 257.30 350.3 257.75 354.1 258.20 351.0 258.65 352.7 259.10 352.6 259.55 352.8 260.00 355.9 260.45 353.9 260.90 354.9 261.35 352.0 261.80 353.9 262.25 359.6 262.70 355.0 263.15 360.9 263.60 360.2 264.05 363.4 264.50 361.3 264.95 359.7 265.40 363.4 265.85 364.1 266.30 367.0 266.75 364.3 267.20 368.9 267.65 373.0 268.10 373.4 268.55 377.0 269.00 376.0 269.45 378.9 269.90 380.1 270.35 381.3 270.80 386.3 271.25 390.7 271.70 396.5" stroke="#e3213b" stroke-width="1.2" fill="none" stroke-linejoin="round"/>
<path d="M35.90 381.5 36.35 386.1 36.80 383.2 37.25 379.3 37.70 380.5 38.15 382.5 38.60 380.1 39.05 381.0 39.50 384.8 39.95 381.6 40.40 386.0 40.85 378.6 41.30 381.7 41.75 384.1 42.20 382.0 42.65 378.8 43.10 383.6 43.55 378.1 44.00 380.1 44.45 378.9 44.90 380.6 45.35 381.0 45.80 381.1 46.25 383.2 46.70 383.4 47.15 381.4 47.60 393.1 48.05 387.7 48.50 383.1 48.95 383.1 49.40 382.1 49.85 378.4 50.30 381.1 50.75 383.1 51.20 383.8 51.65 382.2 52.10 384.8 52.55 386.6 53.00 381.6 53.45 382.2 53.90 382.7 54.35 386.7 54.80 386.2 55.25 384.5 55.70 383.0 56.15 379.6 56.60 379.3 57.05 375.4 57.50 384.1 57.95 381.5 58.40 383.5 58.85 384.3 59.30 380.4 59.75 382.1 60.20 383.8 60.65 377.9 61.10 384.0 61.55 382.0 62.00 381.9 62.45 382.7 62.90 378.9 63.35 378.4 63.80 378.1 64.25 384.5 64.70 381.3 65.15 380.4 65.60 377.7 66.05 383.1 66.50 385.0 66.95 385.3 67.40 384.5 67.85 380.7 68.30 385.9 68.75 382.3 69.20 383.0 69.65 384.8 70.10 382.1 70.55 382.9 71.00 381.8 71.45 387.3 71.90 385.3 72.35 386.0 72.80 387.3 73.25 378.6 73.70 382.7 74.15 387.0 74.60 381.9 75.05 382.8 75.50 385.6 75.95 385.0 76.40 383.8 76.85 386.7 77.30 381.7 77.75 385.9 78.20 381.5 78.65 376.4 79.10 380.2 79.55 384.7 80.00 372.6 80.45 380.6 80.90 383.6 81.35 383.3 81.80 386.6 82.25 383.0 82.70 382.8 83.15 384.9 83.60 382.1 84.05 383.8 84.50 382.3 84.95 389.3 85.40 386.7 85.85 384.8 86.30 386.3 86.75 384.8 87.20 388.4 87.65 384.3 88.10 389.5 88.55 385.2 89.00 385.0 89.45 384.8 89.90 386.7 90.35 386.4 90.80 385.5 91.25 388.3 91.70 388.7 92.15 380.7 92.60 385.8 93.05 382.3 93.50 383.8 93.95 385.6 94.40 385.3 94.85 385.7 95.30 386.8 95.75 384.2 96.20 386.8 96.65 385.3 97.10 388.1 97.55 384.8 98.00 386.0 98.45 386.5 98.90 385.8 99.35 387.3 99.80 387.2 100.25 387.4 100.70 387.3 101.15 390.1 101.60 388.2 102.05 394.3 102.50 385.8 102.95 388.1 103.40 388.6 103.85 389.9 104.30 388.4 104.75 387.2 105.20 389.8 105.65 383.3 106.10 385.5 106.55 385.2 107.00 386.6 107.45 384.5 107.90 394.8 108.35 392.4 108.80 387.3 109.25 390.4 109.70 392.0 110.15 397.3 110.60 390.0 111.05 388.3 111.50 385.1 111.95 386.6 112.40 389.4 112.85 390.9 113.30 391.5 113.75 390.6 114.20 395.6 114.65 390.8 115.10 394.5 115.55 389.2 116.00 385.6 116.45 389.3 116.90 390.7 117.35 392.3 117.80 390.8 118.25 388.9 118.70 390.5 119.15 391.0 119.60 393.5 120.05 397.6 120.50 384.9 120.95 385.2 121.40 392.3 121.85 390.2 122.30 389.1 122.75 389.1 123.20 390.2 123.65 391.3 124.10 391.4 124.55 389.3 125.00 392.2 125.45 399.2 125.90 395.7 126.35 393.8 126.80 396.6 127.25 393.5 127.70 386.4 128.15 392.9 128.60 393.7 129.05 392.5 129.50 396.1 129.95 394.5 130.40 394.2 130.85 390.4 131.30 394.4 131.75 392.2 132.20 391.1 132.65 400.0 133.10 392.0 133.55 392.1 134.00 388.0 134.45 390.7 134.90 395.0 135.35 389.9 135.80 390.1 136.25 392.5 136.70 392.4 137.15 392.8 137.60 394.2 138.05 388.8 138.50 397.9 138.95 395.0 139.40 394.7 139.85 391.6 140.30 393.4 140.75 391.7 141.20 393.1 141.65 395.5 142.10 393.7 142.55 395.1 143.00 394.7 143.45 398.4 143.90 395.0 144.35 394.5 144.80 397.5 145.25 395.7 145.70 395.6 146.15 390.6 146.60 392.4 147.05 396.1 147.50 392.1 147.95 393.9 148.40 393.9 148.85 394.0 149.30 394.5 149.75 396.1 150.20 396.7 150.65 394.9 151.10 392.6 151.55 403.3 152.00 399.6 152.45 400.9 152.90 404.3 153.35 398.0 153.80 401.9 154.25 398.4 154.70 397.9 155.15 402.4 155.60 400.8 156.05 402.0 156.50 399.7 156.95 400.5 157.40 397.8 157.85 398.4 158.30 400.6 158.75 400.8 159.20 402.8 159.65 396.4 160.10 400.1 160.55 393.6 161.00 396.5 161.45 399.4 161.90 397.8 162.35 399.2 162.80 400.2 163.25 400.0 163.70 401.5 164.15 400.8 164.60 401.5 165.05 401.9 165.50 403.1 165.95 404.3 166.40 403.3 166.85 399.3 167.30 402.9 167.75 398.4 168.20 401.3 168.65 399.5 169.10 400.1 169.55 403.2 170.00 406.6 170.45 403.5 170.90 397.6 171.35 402.4 171.80 399.3 172.25 406.7 172.70 403.8 173.15 402.7 173.60 403.7 174.05 399.2 174.50 405.0 174.95 402.6 175.40 400.6 175.85 402.9 176.30 405.2 176.75 408.2 177.20 406.2 177.65 401.7 178.10 401.8 178.55 402.9 179.00 403.1 179.45 405.5 179.90 406.1 180.35 406.2 180.80 406.6 181.25 407.7 181.70 405.8 182.15 409.5 182.60 406.9 183.05 401.7 183.50 407.3 183.95 411.2 184.40 409.7 184.85 407.3 185.30 409.0 185.75 405.9 186.20 408.8 186.65 410.2 187.10 409.5 187.55 410.2 188.00 409.5 188.45 409.7 188.90 410.2 189.35 408.4 189.80 410.4 190.25 414.2 190.70 410.9 191.15 420.3 191.60 413.1 192.05 411.8 192.50 410.7 192.95 412.6 193.40 416.6 193.85 413.9 194.30 413.5 194.75 413.8 195.20 415.3 195.65 422.3 196.10 415.2 196.55 413.7 197.00 416.8 197.45 416.4 197.90 415.9 198.35 417.5 198.80 415.6 199.25 412.5 199.70 415.6 200.15 418.5 200.60 421.9 201.05 414.3 201.50 415.6 201.95 415.5 202.40 421.9 202.85 416.3 203.30 415.8 203.75 416.8 204.20 420.4 204.65 416.4 205.10 417.0 205.55 419.2 206.00 419.5 206.45 422.0 206.90 424.3 207.35 423.3 207.80 422.5 208.25 422.8 208.70 422.6 209.15 427.0 209.60 422.3 210.05 423.3 210.50 428.0 210.95 421.8 211.40 423.5 211.85 414.8 212.30 420.5 212.75 422.9 213.20 423.3 213.65 431.6 214.10 423.3 214.55 425.9 215.00 434.5 215.45 423.9 215.90 425.8 216.35 425.2 216.80 426.9 217.25 421.5 217.70 425.6 218.15 428.4 218.60 427.6 219.05 428.4 219.50 425.3 219.95 428.5 220.40 429.3 220.85 429.6 221.30 428.5 221.75 428.3 222.20 432.0 222.65 429.3 223.10 425.5 223.55 431.9 224.00 429.0 224.45 430.0 224.90 428.1 225.35 436.6 225.80 430.8 226.25 435.3 226.70 433.6 227.15 432.2 227.60 435.3 228.05 442.1 228.50 434.1 228.95 432.8 229.40 432.7 229.85 427.1 230.30 438.6 230.75 435.0 231.20 438.4 231.65 436.9 232.10 438.9 232.55 437.5 233.00 438.6 233.45 437.3 233.90 438.1 234.35 439.4 234.80 439.2 235.25 440.6 235.70 441.2 236.15 442.3 236.60 449.7 237.05 442.4 237.50 432.2 237.95 440.0 238.40 439.2 238.85 444.1 239.30 439.6 239.75 443.5 240.20 441.4 240.65 454.8 241.10 444.9 241.55 441.9 242.00 445.0 242.45 442.6 242.90 445.7 243.35 446.3 243.80 445.9 244.25 448.4 244.70 441.1 245.15 445.4 245.60 442.9 246.05 447.8 246.50 448.4 246.95 450.0 247.40 448.4 247.85 450.8 248.30 450.3 248.75 448.2 249.20 449.9 249.65 447.3 250.10 436.6 250.55 446.4 251.00 448.8 251.45 448.3 251.90 447.8 252.35 449.7 252.80 450.7 253.25 452.1 253.70 452.9 254.15 451.7 254.60 448.7 255.05 450.1 255.50 451.7 255.95 451.7 256.40 447.6 256.85 451.9 257.30 452.5 257.75 448.6 258.20 451.2 258.65 448.2 259.10 455.9 259.55 449.6 260.00 448.8 260.45 447.1 260.90 449.8 261.35 443.4 261.80 445.4 262.25 444.2 262.70 441.5 263.15 447.5 263.60 444.9 264.05 439.5 264.50 444.9 264.95 446.3 265.40 443.2 265.85 446.0 266.30 438.6 266.75 437.4 267.20 432.5 267.65 432.1 268.10 433.2 268.55 430.7 269.00 426.5 269.45 426.7 269.90 424.3 270.35 423.4 270.80 417.4 271.25 411.2 271.70 404.6" stroke="#2b489f" stroke-width="1.2" fill="none" stroke-linejoin="round"/>
<path d="M272.1 326V469.3" stroke="#f27d8b" stroke-width="1.2" stroke-dasharray="2.1 1.6" fill="none"/>
<text x="288.8" y="315.2" font-size="12.5" fill="#111" font-weight="bold" stroke="#111" stroke-width="0.45">e</text>
<text x="304.4" y="325.5" font-size="9" fill="#333">(i)</text>
<path d="M334.3 333.4V425.6" stroke="#808080" stroke-width="0.8" fill="none"/>
<path d="M331.8 333.45H334.3M331.8 348.8H334.3M331.8 364.15H334.3M331.8 379.5H334.3M331.8 394.85H334.3M331.8 410.2H334.3M331.8 425.55H334.3" stroke="#808080" stroke-width="0.8" fill="none"/>
<text x="329.2" y="335.85" font-size="7.5" fill="#4a4a4a" text-anchor="end" textLength="4.42" lengthAdjust="spacingAndGlyphs">1</text>
<text x="329.2" y="351.2" font-size="7.5" fill="#4a4a4a" text-anchor="end" textLength="11.05" lengthAdjust="spacingAndGlyphs">0.8</text>
<text x="329.2" y="366.55" font-size="7.5" fill="#4a4a4a" text-anchor="end" textLength="11.05" lengthAdjust="spacingAndGlyphs">0.6</text>
<text x="329.2" y="381.9" font-size="7.5" fill="#4a4a4a" text-anchor="end" textLength="11.05" lengthAdjust="spacingAndGlyphs">0.4</text>
<text x="329.2" y="397.25" font-size="7.5" fill="#4a4a4a" text-anchor="end" textLength="11.05" lengthAdjust="spacingAndGlyphs">0.2</text>
<text x="329.2" y="412.6" font-size="7.5" fill="#4a4a4a" text-anchor="end" textLength="4.42" lengthAdjust="spacingAndGlyphs">0</text>
<text x="329.2" y="427.95" font-size="7.5" fill="#4a4a4a" text-anchor="end" textLength="15.69" lengthAdjust="spacingAndGlyphs">−0.2</text>
<path d="M334.3 425.6H454.6" stroke="#808080" stroke-width="0.8" fill="none"/>
<path d="M334.5 425.6V428.1M351.65 425.6V428.1M368.8 425.6V428.1M385.95 425.6V428.1M403.1 425.6V428.1M420.25 425.6V428.1M437.4 425.6V428.1M454.55 425.6V428.1" stroke="#808080" stroke-width="0.8" fill="none"/>
<text x="334.5" y="437" font-size="7.5" fill="#4a4a4a" text-anchor="middle" textLength="13.49" lengthAdjust="spacingAndGlyphs">−60</text>
<text x="351.65" y="437" font-size="7.5" fill="#4a4a4a" text-anchor="middle" textLength="13.49" lengthAdjust="spacingAndGlyphs">−50</text>
<text x="368.8" y="437" font-size="7.5" fill="#4a4a4a" text-anchor="middle" textLength="13.49" lengthAdjust="spacingAndGlyphs">−40</text>
<text x="385.95" y="437" font-size="7.5" fill="#4a4a4a" text-anchor="middle" textLength="13.49" lengthAdjust="spacingAndGlyphs">−30</text>
<text x="403.1" y="437" font-size="7.5" fill="#4a4a4a" text-anchor="middle" textLength="13.49" lengthAdjust="spacingAndGlyphs">−20</text>
<text x="420.25" y="437" font-size="7.5" fill="#4a4a4a" text-anchor="middle" textLength="13.49" lengthAdjust="spacingAndGlyphs">−10</text>
<text x="437.4" y="437" font-size="7.5" fill="#4a4a4a" text-anchor="middle" textLength="4.42" lengthAdjust="spacingAndGlyphs">0</text>
<text x="454.55" y="437" font-size="7.5" fill="#4a4a4a" text-anchor="middle" textLength="8.84" lengthAdjust="spacingAndGlyphs">10</text>
<text transform="translate(296.7,379.3) rotate(-90)" font-size="9" fill="#333" text-anchor="middle">Theta temporal coherence</text>
<text transform="translate(306.5,378.5) rotate(-90)" font-size="9" fill="#333" text-anchor="middle">(<tspan font-style="italic">z</tspan>-score)</text>
<text x="394.5" y="449.1" font-size="9" fill="#333" text-anchor="middle">Time (min)</text>
<path d="M334.50 406.4 334.56 403.6 334.62 400.4 334.68 397.8 334.74 395.4 334.80 402.3 334.86 399.3 334.92 399.0 334.98 401.3 335.04 401.9 335.10 393.9 335.16 405.4 335.22 394.8 335.28 408.8 335.34 404.2 335.40 400.4 335.46 407.0 335.52 402.3 335.58 404.7 335.64 402.7 335.70 406.3 335.76 406.2 335.82 399.2 335.88 400.3 335.94 403.7 336.00 401.8 336.06 394.3 336.12 409.9 336.18 394.7 336.24 395.1 336.30 398.0 336.36 404.6 336.42 409.0 336.48 401.7 336.54 401.2 336.60 403.2 336.66 401.2 336.72 402.8 336.78 398.4 336.84 404.1 336.90 403.9 336.96 393.7 337.02 402.1 337.08 403.1 337.14 404.5 337.20 399.6 337.26 397.8 337.32 399.2 337.38 404.6 337.44 399.6 337.50 400.0 337.56 406.9 337.62 400.0 337.68 399.7 337.74 402.7 337.80 403.8 337.86 406.9 337.92 400.1 337.98 397.7 338.04 403.0 338.10 405.9 338.16 398.3 338.22 402.0 338.28 404.9 338.34 404.7 338.40 404.3 338.46 403.1 338.52 401.2 338.58 400.8 338.64 408.3 338.70 400.1 338.76 408.5 338.82 399.3 338.88 414.5 338.94 397.8 339.00 409.7 339.06 400.7 339.12 403.5 339.18 403.6 339.24 401.4 339.30 411.7 339.36 404.0 339.42 398.8 339.48 405.8 339.54 406.0 339.60 399.2 339.66 405.2 339.72 403.5 339.78 406.2 339.84 405.7 339.90 403.1 339.96 401.6 340.02 406.3 340.08 404.2 340.14 397.7 340.20 401.0 340.26 401.3 340.32 402.1 340.38 411.2 340.44 401.7 340.50 404.8 340.56 409.0 340.62 404.9 340.68 404.7 340.74 407.9 340.80 404.0 340.86 404.0 340.92 405.8 340.98 404.9 341.04 401.0 341.10 399.3 341.16 403.1 341.22 408.6 341.28 402.8 341.34 407.7 341.40 405.1 341.46 402.5 341.52 394.2 341.58 404.5 341.64 402.6 341.70 397.9 341.76 405.4 341.82 403.4 341.88 404.8 341.94 401.2 342.00 404.0 342.06 401.5 342.12 407.0 342.18 403.5 342.24 397.9 342.30 403.6 342.36 403.0 342.42 401.9 342.48 397.7 342.54 406.2 342.60 399.7 342.66 407.9 342.72 399.8 342.78 402.2 342.84 401.9 342.90 402.6 342.96 411.5 343.02 400.2 343.08 409.4 343.14 404.2 343.20 399.5 343.26 406.5 343.32 405.1 343.38 405.5 343.44 397.3 343.50 403.9 343.56 400.7 343.62 401.7 343.68 401.8 343.74 402.4 343.80 408.0 343.86 403.7 343.92 395.7 343.98 406.8 344.04 402.6 344.10 402.8 344.16 395.7 344.22 403.7 344.28 400.5 344.34 405.7 344.40 403.9 344.46 405.2 344.52 400.8 344.58 395.5 344.64 405.6 344.70 403.5 344.76 400.8 344.82 399.9 344.88 398.7 344.94 395.5 345.00 397.5 345.06 401.5 345.12 407.5 345.18 403.3 345.24 407.4 345.30 397.9 345.36 406.0 345.42 400.0 345.48 406.7 345.54 405.9 345.60 401.6 345.66 401.9 345.72 405.8 345.78 398.6 345.84 393.7 345.90 404.5 345.96 409.4 346.02 394.8 346.08 402.4 346.14 397.4 346.20 400.7 346.26 398.2 346.32 405.1 346.38 400.0 346.44 401.4 346.50 398.3 346.56 404.9 346.62 400.5 346.68 401.0 346.74 402.2 346.80 397.3 346.86 402.5 346.92 396.8 346.98 401.8 347.04 401.9 347.10 401.2 347.16 402.0 347.22 400.2 347.28 404.4 347.34 402.5 347.40 400.7 347.46 401.5 347.52 399.8 347.58 401.7 347.64 400.9 347.70 395.4 347.76 407.6 347.82 400.0 347.88 399.0 347.94 402.4 348.00 393.6 348.06 399.6 348.12 402.0 348.18 399.8 348.24 400.9 348.30 399.0 348.36 399.2 348.42 400.3 348.48 401.0 348.54 396.4 348.60 401.4 348.66 401.4 348.72 398.1 348.78 398.3 348.84 400.7 348.90 404.5 348.96 404.2 349.02 397.3 349.08 398.3 349.14 398.2 349.20 401.5 349.26 399.5 349.32 401.2 349.38 404.5 349.44 400.7 349.50 401.3 349.56 401.0 349.62 396.9 349.68 399.1 349.74 398.7 349.80 397.6 349.86 404.9 349.92 401.4 349.98 389.7 350.04 396.4 350.10 398.9 350.16 399.2 350.22 396.3 350.28 398.1 350.34 397.9 350.40 397.7 350.46 401.7 350.52 399.3 350.58 397.5 350.64 398.6 350.70 399.7 350.76 395.9 350.82 398.0 350.88 402.3 350.94 403.8 351.00 391.9 351.06 409.4 351.12 398.4 351.18 403.7 351.24 396.0 351.30 403.6 351.36 401.3 351.42 401.0 351.48 400.2 351.54 400.4 351.60 404.0 351.66 398.7 351.72 400.5 351.78 400.0 351.84 395.5 351.90 401.7 351.96 401.2 352.02 399.6 352.08 396.4 352.14 400.0 352.20 400.6 352.26 401.1 352.32 401.2 352.38 396.6 352.44 404.5 352.50 403.6 352.56 403.5 352.62 402.3 352.68 405.2 352.74 403.1 352.80 404.4 352.86 401.4 352.92 400.6 352.98 402.3 353.04 397.4 353.10 399.1 353.16 400.6 353.22 397.7 353.28 391.0 353.34 397.7 353.40 397.2 353.46 403.0 353.52 393.1 353.58 397.3 353.64 405.8 353.70 391.7 353.76 399.3 353.82 398.1 353.88 394.3 353.94 400.6 354.00 397.4 354.06 391.0 354.12 398.6 354.18 396.0 354.24 404.7 354.30 400.9 354.36 396.9 354.42 401.6 354.48 407.7 354.54 396.1 354.60 397.1 354.66 400.3 354.72 400.7 354.78 401.1 354.84 395.0 354.90 400.7 354.96 395.9 355.02 397.2 355.08 403.2 355.14 397.2 355.20 401.8 355.26 398.4 355.32 400.0 355.38 399.9 355.44 401.6 355.50 401.8 355.56 396.5 355.62 405.0 355.68 401.2 355.74 402.5 355.80 402.7 355.86 397.4 355.92 399.0 355.98 399.6 356.04 400.4 356.10 405.6 356.16 406.3 356.22 412.2 356.28 406.4 356.34 406.0 356.40 399.8 356.46 397.1 356.52 400.3 356.58 399.3 356.64 396.7 356.70 399.5 356.76 401.9 356.82 400.6 356.88 403.6 356.94 402.6 357.00 401.9 357.06 404.8 357.12 399.9 357.18 400.5 357.24 405.4 357.30 403.6 357.36 394.6 357.42 400.4 357.48 405.4 357.54 401.5 357.60 404.2 357.66 394.2 357.72 401.2 357.78 392.2 357.84 402.0 357.90 395.0 357.96 404.4 358.02 396.8 358.08 399.7 358.14 400.2 358.20 399.2 358.26 393.7 358.32 401.9 358.38 397.5 358.44 408.2 358.50 398.4 358.56 400.2 358.62 398.3 358.68 405.7 358.74 405.0 358.80 401.8 358.86 403.3 358.92 396.4 358.98 396.1 359.04 404.2 359.10 396.4 359.16 398.3 359.22 393.7 359.28 397.8 359.34 400.5 359.40 398.6 359.46 393.3 359.52 401.5 359.58 399.1 359.64 389.2 359.70 394.2 359.76 396.8 359.82 395.9 359.88 398.3 359.94 401.5 360.00 397.2 360.06 397.0 360.12 402.1 360.18 402.9 360.24 396.0 360.30 402.9 360.36 390.7 360.42 402.7 360.48 398.8 360.54 394.0 360.60 395.4 360.66 397.7 360.72 402.2 360.78 400.6 360.84 398.7 360.90 396.4 360.96 398.3 361.02 393.8 361.08 396.9 361.14 395.5 361.20 397.5 361.26 400.7 361.32 398.2 361.38 393.2 361.44 403.7 361.50 400.0 361.56 401.9 361.62 398.0 361.68 399.9 361.74 400.0 361.80 406.4 361.86 397.1 361.92 404.9 361.98 401.6 362.04 404.6 362.10 399.9 362.16 396.3 362.22 405.7 362.28 401.1 362.34 404.2 362.40 405.0 362.46 396.2 362.52 400.7 362.58 401.7 362.64 404.4 362.70 404.4 362.76 404.9 362.82 401.2 362.88 406.7 362.94 401.8 363.00 401.2 363.06 399.5 363.12 397.0 363.18 400.9 363.24 401.7 363.30 401.6 363.36 408.3 363.42 401.4 363.48 401.5 363.54 395.3 363.60 399.0 363.66 399.9 363.72 401.5 363.78 399.0 363.84 400.9 363.90 396.1 363.96 403.7 364.02 403.4 364.08 395.6 364.14 394.4 364.20 397.4 364.26 400.5 364.32 396.9 364.38 400.7 364.44 403.0 364.50 403.9 364.56 404.5 364.62 395.3 364.68 393.5 364.74 402.5 364.80 398.0 364.86 398.2 364.92 397.1 364.98 398.7 365.04 403.0 365.10 395.9 365.16 396.2 365.22 404.8 365.28 403.4 365.34 395.0 365.40 394.4 365.46 402.3 365.52 404.0 365.58 408.3 365.64 403.3 365.70 403.2 365.76 399.9 365.82 400.9 365.88 399.1 365.94 404.8 366.00 401.8 366.06 404.2 366.12 401.4 366.18 396.7 366.24 399.9 366.30 403.7 366.36 401.0 366.42 393.3 366.48 403.1 366.54 397.6 366.60 403.9 366.66 397.6 366.72 395.6 366.78 401.4 366.84 394.1 366.90 402.4 366.96 396.3 367.02 400.2 367.08 392.8 367.14 397.9 367.20 395.9 367.26 403.4 367.32 394.9 367.38 397.0 367.44 394.7 367.50 397.6 367.56 398.1 367.62 401.7 367.68 400.2 367.74 392.2 367.80 404.4 367.86 398.2 367.92 401.9 367.98 396.6 368.04 400.6 368.10 397.5 368.16 396.8 368.22 397.4 368.28 394.8 368.34 399.5 368.40 399.1 368.46 400.1 368.52 402.1 368.58 401.2 368.64 399.1 368.70 401.2 368.76 398.0 368.82 400.7 368.88 396.9 368.94 390.8 369.00 394.6 369.06 393.7 369.12 395.4 369.18 396.5 369.24 397.4 369.30 399.0 369.36 393.3 369.42 395.5 369.48 399.5 369.54 399.3 369.60 401.7 369.66 396.4 369.72 405.3 369.78 395.0 369.84 392.1 369.90 396.3 369.96 392.8 370.02 399.9 370.08 397.3 370.14 392.3 370.20 398.3 370.26 401.3 370.32 395.7 370.38 396.5 370.44 395.2 370.50 395.9 370.56 393.2 370.62 397.3 370.68 394.4 370.74 398.8 370.80 402.3 370.86 401.1 370.92 399.4 370.98 402.4 371.04 400.8 371.10 396.4 371.16 400.0 371.22 400.8 371.28 397.7 371.34 400.7 371.40 395.6 371.46 400.0 371.52 400.7 371.58 399.2 371.64 397.5 371.70 399.4 371.76 395.4 371.82 396.3 371.88 400.2 371.94 401.8 372.00 401.1 372.06 397.9 372.12 399.6 372.18 395.8 372.24 398.7 372.30 395.6 372.36 393.5 372.42 398.8 372.48 396.5 372.54 396.9 372.60 394.7 372.66 403.0 372.72 399.3 372.78 394.8 372.84 400.0 372.90 398.0 372.96 395.2 373.02 395.2 373.08 401.4 373.14 396.9 373.20 399.5 373.26 395.9 373.32 399.9 373.38 399.8 373.44 399.9 373.50 399.6 373.56 401.8 373.62 400.8 373.68 396.0 373.74 403.9 373.80 396.2 373.86 395.6 373.92 397.7 373.98 400.5 374.04 399.1 374.10 393.5 374.16 395.6 374.22 400.5 374.28 398.0 374.34 397.8 374.40 391.3 374.46 396.9 374.52 397.7 374.58 392.9 374.64 390.1 374.70 397.4 374.76 399.4 374.82 391.9 374.88 395.4 374.94 401.4 375.00 402.3 375.06 397.0 375.12 388.7 375.18 397.3 375.24 400.1 375.30 405.9 375.36 400.7 375.42 399.8 375.48 396.3 375.54 392.2 375.60 394.6 375.66 394.5 375.72 395.5 375.78 400.3 375.84 398.1 375.90 390.6 375.96 396.6 376.02 402.1 376.08 400.8 376.14 403.3 376.20 394.1 376.26 399.3 376.32 396.7 376.38 394.1 376.44 395.4 376.50 391.5 376.56 391.9 376.62 398.3 376.68 397.0 376.74 396.0 376.80 402.0 376.86 396.2 376.92 399.4 376.98 393.4 377.04 393.0 377.10 395.5 377.16 395.0 377.22 395.8 377.28 396.9 377.34 402.7 377.40 393.4 377.46 392.0 377.52 398.3 377.58 400.8 377.64 402.6 377.70 392.5 377.76 398.2 377.82 389.9 377.88 396.1 377.94 392.5 378.00 394.4 378.06 391.1 378.12 400.9 378.18 399.8 378.24 398.1 378.30 393.1 378.36 402.5 378.42 400.3 378.48 395.7 378.54 400.5 378.60 398.3 378.66 398.8 378.72 399.4 378.78 399.2 378.84 396.4 378.90 391.7 378.96 392.6 379.02 397.8 379.08 394.6 379.14 397.3 379.20 389.4 379.26 394.4 379.32 394.4 379.38 401.2 379.44 394.7 379.50 393.4 379.56 395.9 379.62 399.8 379.68 404.6 379.74 390.5 379.80 401.6 379.86 388.4 379.92 400.2 379.98 400.6 380.04 399.5 380.10 387.5 380.16 392.2 380.22 402.1 380.28 397.4 380.34 399.7 380.40 396.2 380.46 397.2 380.52 397.4 380.58 394.1 380.64 399.9 380.70 404.8 380.76 392.7 380.82 393.1 380.88 393.1 380.94 393.7 381.00 397.1 381.06 398.3 381.12 398.5 381.18 397.3 381.24 392.0 381.30 395.7 381.36 392.5 381.42 395.6 381.48 397.7 381.54 396.1 381.60 400.5 381.66 396.1 381.72 399.4 381.78 405.9 381.84 398.4 381.90 389.9 381.96 391.1 382.02 394.9 382.08 398.3 382.14 394.2 382.20 397.8 382.26 394.1 382.32 394.9 382.38 395.0 382.44 403.2 382.50 399.7 382.56 391.6 382.62 396.3 382.68 402.8 382.74 397.6 382.80 405.6 382.86 398.5 382.92 398.6 382.98 396.9 383.04 397.5 383.10 397.6 383.16 400.5 383.22 402.8 383.28 397.4 383.34 400.8 383.40 394.1 383.46 399.1 383.52 400.9 383.58 398.4 383.64 395.8 383.70 400.8 383.76 402.2 383.82 402.8 383.88 400.3 383.94 404.6 384.00 397.0 384.06 399.9 384.12 392.1 384.18 397.5 384.24 397.7 384.30 405.0 384.36 401.8 384.42 401.4 384.48 393.4 384.54 395.7 384.60 397.2 384.66 392.0 384.72 395.0 384.78 399.0 384.84 396.1 384.90 393.0 384.96 403.1 385.02 397.9 385.08 396.1 385.14 391.5 385.20 399.3 385.26 395.1 385.32 394.3 385.38 393.6 385.44 400.4 385.50 389.1 385.56 392.1 385.62 398.6 385.68 396.9 385.74 397.4 385.80 394.4 385.86 397.2 385.92 392.9 385.98 393.1 386.04 394.6 386.10 393.5 386.16 396.9 386.22 395.3 386.28 392.8 386.34 390.9 386.40 401.5 386.46 391.6 386.52 395.5 386.58 390.0 386.64 390.6 386.70 396.0 386.76 401.0 386.82 400.7 386.88 393.4 386.94 391.8 387.00 397.7 387.06 399.8 387.12 392.1 387.18 392.3 387.24 400.2 387.30 391.7 387.36 397.6 387.42 391.9 387.48 396.0 387.54 389.5 387.60 396.0 387.66 390.4 387.72 389.7 387.78 392.0 387.84 398.3 387.90 394.9 387.96 393.8 388.02 396.3 388.08 391.2 388.14 397.5 388.20 388.6 388.26 400.6 388.32 395.1 388.38 394.1 388.44 385.0 388.50 393.5 388.56 393.4 388.62 396.1 388.68 389.6 388.74 399.8 388.80 393.2 388.86 395.1 388.92 391.9 388.98 403.0 389.04 392.0 389.10 394.6 389.16 397.7 389.22 402.7 389.28 394.4 389.34 392.4 389.40 393.2 389.46 394.5 389.52 396.4 389.58 394.3 389.64 390.1 389.70 394.1 389.76 394.4 389.82 391.8 389.88 397.0 389.94 398.2 390.00 385.0 390.06 395.7 390.12 395.9 390.18 399.1 390.24 396.5 390.30 399.5 390.36 397.8 390.42 390.3 390.48 391.9 390.54 391.4 390.60 396.1 390.66 392.7 390.72 390.8 390.78 396.1 390.84 399.7 390.90 394.8 390.96 392.6 391.02 391.9 391.08 394.0 391.14 394.9 391.20 395.6 391.26 397.4 391.32 395.3 391.38 387.7 391.44 398.3 391.50 405.7 391.56 391.4 391.62 389.5 391.68 399.0 391.74 400.3 391.80 394.9 391.86 401.2 391.92 400.2 391.98 396.8 392.04 402.4 392.10 386.5 392.16 397.0 392.22 388.7 392.28 390.0 392.34 391.7 392.40 391.1 392.46 392.2 392.52 400.6 392.58 393.6 392.64 390.7 392.70 390.3 392.76 391.6 392.82 386.2 392.88 399.7 392.94 389.7 393.00 399.3 393.06 387.4 393.12 389.4 393.18 389.9 393.24 394.3 393.30 395.5 393.36 388.2 393.42 387.1 393.48 392.2 393.54 393.7 393.60 394.4 393.66 385.4 393.72 398.0 393.78 392.4 393.84 394.1 393.90 394.5 393.96 389.2 394.02 396.2 394.08 398.9 394.14 394.2 394.20 389.7 394.26 390.6 394.32 393.2 394.38 393.1 394.44 396.3 394.50 389.4 394.56 391.5 394.62 393.7 394.68 392.6 394.74 391.6 394.80 389.0 394.86 390.5 394.92 392.1 394.98 396.3 395.04 391.7 395.10 397.3 395.16 394.8 395.22 393.1 395.28 393.5 395.34 392.7 395.40 390.7 395.46 389.8 395.52 397.0 395.58 389.7 395.64 396.1 395.70 389.8 395.76 393.1 395.82 395.2 395.88 397.3 395.94 394.0 396.00 389.6 396.06 388.5 396.12 390.2 396.18 395.8 396.24 389.1 396.30 396.3 396.36 392.9 396.42 386.8 396.48 390.5 396.54 394.6 396.60 389.7 396.66 393.8 396.72 394.5 396.78 384.7 396.84 384.9 396.90 389.4 396.96 386.8 397.02 393.9 397.08 392.0 397.14 389.6 397.20 392.9 397.26 393.7 397.32 384.8 397.38 388.4 397.44 390.4 397.50 397.5 397.56 390.8 397.62 396.3 397.68 386.7 397.74 387.1 397.80 393.4 397.86 389.5 397.92 396.5 397.98 394.4 398.04 387.6 398.10 386.5 398.16 394.7 398.22 392.7 398.28 392.8 398.34 387.2 398.40 392.5 398.46 386.1 398.52 392.7 398.58 393.2 398.64 388.5 398.70 388.7 398.76 403.0 398.82 391.9 398.88 391.1 398.94 386.7 399.00 392.8 399.06 391.0 399.12 391.3 399.18 394.5 399.24 392.0 399.30 399.1 399.36 387.6 399.42 386.7 399.48 392.5 399.54 385.9 399.60 392.0 399.66 384.4 399.72 389.0 399.78 396.2 399.84 388.9 399.90 390.1 399.96 395.6 400.02 390.6 400.08 387.0 400.14 388.1 400.20 395.0 400.26 394.7 400.32 394.4 400.38 389.6 400.44 386.9 400.50 390.7 400.56 383.9 400.62 384.5 400.68 387.1 400.74 389.6 400.80 391.9 400.86 381.6 400.92 396.6 400.98 389.6 401.04 392.9 401.10 396.1 401.16 391.8 401.22 396.6 401.28 388.3 401.34 385.5 401.40 389.3 401.46 385.8 401.52 394.4 401.58 381.3 401.64 390.0 401.70 389.0 401.76 389.1 401.82 385.8 401.88 383.9 401.94 386.1 402.00 380.1 402.06 381.8 402.12 384.1 402.18 381.9 402.24 383.1 402.30 387.1 402.36 376.4 402.42 382.1 402.48 379.2 402.54 386.4 402.60 388.6 402.66 385.9 402.72 379.7 402.78 383.3 402.84 383.1 402.90 386.3 402.96 390.3 403.02 384.4 403.08 392.9 403.14 388.5 403.20 391.9 403.26 385.8 403.32 382.0 403.38 397.7 403.44 388.0 403.50 385.0 403.56 382.5 403.62 379.8 403.68 393.4 403.74 389.0 403.80 388.5 403.86 385.5 403.92 389.8 403.98 392.3 404.04 384.7 404.10 386.4 404.16 381.8 404.22 382.6 404.28 385.5 404.34 388.2 404.40 395.4 404.46 389.3 404.52 388.4 404.58 387.3 404.64 390.6 404.70 385.8 404.76 382.8 404.82 383.9 404.88 386.5 404.94 388.6 405.00 389.4 405.06 387.6 405.12 385.5 405.18 389.8 405.24 387.9 405.30 393.8 405.36 383.4 405.42 387.6 405.48 384.8 405.54 383.5 405.60 391.5 405.66 388.4 405.72 384.5 405.78 385.2 405.84 383.4 405.90 390.5 405.96 387.8 406.02 389.3 406.08 387.0 406.14 391.7 406.20 393.8 406.26 383.2 406.32 383.4 406.38 385.9 406.44 382.7 406.50 385.3 406.56 391.1 406.62 382.9 406.68 381.0 406.74 386.2 406.80 390.0 406.86 385.2 406.92 380.3 406.98 387.4 407.04 384.6 407.10 382.9 407.16 385.6 407.22 387.8 407.28 382.1 407.34 385.6 407.40 387.3 407.46 380.4 407.52 384.8 407.58 382.9 407.64 384.0 407.70 388.8 407.76 389.9 407.82 386.2 407.88 391.4 407.94 380.0 408.00 388.6 408.06 382.1 408.12 382.3 408.18 392.3 408.24 389.4 408.30 391.5 408.36 392.3 408.42 373.1 408.48 388.8 408.54 378.8 408.60 388.3 408.66 396.0 408.72 383.1 408.78 372.8 408.84 384.5 408.90 382.0 408.96 389.9 409.02 393.0 409.08 381.1 409.14 374.9 409.20 375.8 409.26 373.5 409.32 373.0 409.38 377.8 409.44 382.0 409.50 374.1 409.56 378.6 409.62 394.2 409.68 370.5 409.74 382.6 409.80 380.2 409.86 378.1 409.92 382.1 409.98 377.2 410.04 374.4 410.10 380.4 410.16 378.7 410.22 382.1 410.28 373.9 410.34 373.7 410.40 387.8 410.46 379.4 410.52 382.7 410.58 376.8 410.64 380.2 410.70 380.0 410.76 375.6 410.82 383.3 410.88 386.5 410.94 382.0 411.00 385.9 411.06 384.2 411.12 379.8 411.18 381.3 411.24 375.3 411.30 381.9 411.36 381.1 411.42 387.7 411.48 375.4 411.54 374.7 411.60 384.1 411.66 372.2 411.72 381.8 411.78 385.4 411.84 373.7 411.90 383.8 411.96 382.6 412.02 387.2 412.08 376.9 412.14 378.5 412.20 377.4 412.26 376.6 412.32 385.6 412.38 385.2 412.44 390.2 412.50 387.6 412.56 374.2 412.62 381.1 412.68 384.0 412.74 386.9 412.80 379.0 412.86 372.5 412.92 377.5 412.98 375.6 413.04 381.2 413.10 385.1 413.16 386.7 413.22 381.1 413.28 381.8 413.34 382.8 413.40 378.3 413.46 383.7 413.52 389.5 413.58 374.9 413.64 385.9 413.70 384.2 413.76 384.8 413.82 385.4 413.88 397.0 413.94 378.3 414.00 379.4 414.06 372.3 414.12 377.8 414.18 381.7 414.24 374.6 414.30 372.5 414.36 372.8 414.42 368.5 414.48 388.1 414.54 377.5 414.60 369.2 414.66 374.3 414.72 376.5 414.78 372.9 414.84 372.2 414.90 375.7 414.96 368.6 415.02 373.8 415.08 369.0 415.14 368.0 415.20 375.5 415.26 368.5 415.32 370.3 415.38 373.1 415.44 378.3 415.50 371.7 415.56 376.2 415.62 365.7 415.68 367.6 415.74 381.3 415.80 373.5 415.86 371.2 415.92 367.2 415.98 370.6 416.04 374.1 416.10 371.5 416.16 374.7 416.22 370.9 416.28 367.8 416.34 385.1 416.40 371.0 416.46 371.4 416.52 373.4 416.58 371.1 416.64 383.3 416.70 372.8 416.76 375.3 416.82 372.0 416.88 378.9 416.94 378.7 417.00 370.7 417.06 364.5 417.12 373.1 417.18 360.6 417.24 370.8 417.30 375.7 417.36 371.2 417.42 365.8 417.48 381.1 417.54 374.2 417.60 365.4 417.66 361.8 417.72 364.6 417.78 375.5 417.84 369.0 417.90 373.5 417.96 370.5 418.02 373.0 418.08 367.0 418.14 378.2 418.20 368.7 418.26 369.8 418.32 372.3 418.38 374.4 418.44 370.0 418.50 368.4 418.56 370.4 418.62 383.0 418.68 361.4 418.74 374.3 418.80 372.7 418.86 366.3 418.92 365.8 418.98 368.6 419.04 365.7 419.10 370.8 419.16 373.7 419.22 373.4 419.28 363.8 419.34 365.7 419.40 381.5 419.46 366.4 419.52 368.9 419.58 379.9 419.64 368.8 419.70 372.0 419.76 377.8 419.82 379.2 419.88 375.3 419.94 369.4 420.00 360.9 420.06 369.0 420.12 373.3 420.18 369.9 420.24 369.9 420.30 374.1 420.36 368.4 420.42 363.9 420.48 369.4 420.54 371.7 420.60 374.2 420.66 370.1 420.72 371.2 420.78 365.9 420.84 368.6 420.90 368.0 420.96 366.7 421.02 369.3 421.08 378.2 421.14 368.7 421.20 370.8 421.26 361.5 421.32 372.4 421.38 377.3 421.44 371.2 421.50 372.8 421.56 373.1 421.62 376.3 421.68 369.7 421.74 369.6 421.80 374.5 421.86 367.4 421.92 367.6 421.98 367.6 422.04 370.3 422.10 367.7 422.16 375.9 422.22 368.2 422.28 365.2 422.34 375.5 422.40 374.0 422.46 377.7 422.52 372.6 422.58 363.0 422.64 376.7 422.70 373.0 422.76 363.2 422.82 366.2 422.88 360.9 422.94 368.9 423.00 362.4 423.06 370.1 423.12 356.1 423.18 373.0 423.24 375.3 423.30 368.8 423.36 360.9 423.42 362.8 423.48 371.0 423.54 354.0 423.60 370.8 423.66 359.8 423.72 364.9 423.78 364.5 423.84 367.3 423.90 370.0 423.96 365.0 424.02 368.6 424.08 360.4 424.14 368.0 424.20 361.6 424.26 367.8 424.32 367.6 424.38 368.7 424.44 368.7 424.50 367.5 424.56 372.2 424.62 365.0 424.68 368.5 424.74 368.0 424.80 372.6 424.86 367.8 424.92 366.1 424.98 376.4 425.04 366.2 425.10 361.3 425.16 376.7 425.22 366.4 425.28 368.2 425.34 367.4 425.40 367.4 425.46 366.0 425.52 359.0 425.58 368.3 425.64 378.6 425.70 371.5 425.76 368.6 425.82 365.0 425.88 361.2 425.94 362.5 426.00 362.4 426.06 360.4 426.12 373.7 426.18 366.4 426.24 362.6 426.30 365.6 426.36 374.0 426.42 369.6 426.48 371.8 426.54 362.4 426.60 359.0 426.66 366.6 426.72 367.4 426.78 370.0 426.84 358.8 426.90 363.8 426.96 373.5 427.02 357.7 427.08 362.9 427.14 363.3 427.20 358.9 427.26 369.2 427.32 363.4 427.38 357.4 427.44 359.8 427.50 360.2 427.56 372.7 427.62 362.2 427.68 360.7 427.74 371.0 427.80 365.7 427.86 375.9 427.92 361.8 427.98 355.4 428.04 371.9 428.10 362.3 428.16 365.0 428.22 364.3 428.28 362.1 428.34 369.2 428.40 361.9 428.46 368.1 428.52 364.7 428.58 369.4 428.64 376.0 428.70 367.7 428.76 365.3 428.82 380.9 428.88 376.8 428.94 366.9 429.00 372.4 429.06 370.1 429.12 366.9 429.18 363.7 429.24 368.8 429.30 362.4 429.36 376.0 429.42 376.7 429.48 364.4 429.54 365.1 429.60 362.2 429.66 375.0 429.72 368.9 429.78 363.0 429.84 366.9 429.90 373.8 429.96 370.5 430.02 374.8 430.08 358.1 430.14 371.0 430.20 371.7 430.26 371.4 430.32 371.1 430.38 367.1 430.44 368.8 430.50 366.0 430.56 363.3 430.62 378.1 430.68 366.2 430.74 367.4 430.80 354.9 430.86 373.7 430.92 369.2 430.98 367.6 431.04 369.1 431.10 368.9 431.16 366.6 431.22 366.8 431.28 372.7 431.34 375.3 431.40 376.0 431.46 370.8 431.52 376.7 431.58 376.1 431.64 377.3 431.70 375.9 431.76 363.9 431.82 371.9 431.88 373.8 431.94 379.8 432.00 370.1 432.06 375.1 432.12 374.0 432.18 365.6 432.24 371.0 432.30 368.6 432.36 384.7 432.42 376.9 432.48 381.0 432.54 377.5 432.60 378.5 432.66 381.8 432.72 373.5 432.78 371.0 432.84 372.2 432.90 381.9 432.96 377.0 433.02 372.7 433.08 370.5 433.14 374.1 433.20 379.1 433.26 377.3 433.32 374.4 433.38 372.3 433.44 375.2 433.50 385.3 433.56 390.0 433.62 379.2 433.68 386.1 433.74 379.0 433.80 372.1 433.86 377.0 433.92 372.7 433.98 380.8 434.04 379.7 434.10 369.1 434.16 374.8 434.22 389.0 434.28 377.5 434.34 381.4 434.40 379.0 434.46 377.0 434.52 382.8 434.58 379.2 434.64 378.6 434.70 381.6 434.76 372.6 434.82 373.9 434.88 373.5 434.94 389.0 435.00 386.1 435.06 383.9 435.12 386.4 435.18 388.2 435.24 372.3 435.30 375.5 435.36 385.9 435.42 390.5 435.48 389.2 435.54 378.8 435.60 386.1 435.66 391.1 435.72 386.7 435.78 383.8 435.84 384.8 435.90 393.7 435.96 381.9 436.02 386.2 436.08 394.7 436.14 386.6 436.20 376.8 436.26 393.4 436.32 390.3 436.38 384.8 436.44 386.3 436.50 396.5 436.56 398.4 436.62 389.0 436.68 397.6 436.74 394.1 436.80 396.4 436.86 400.8 436.92 389.4 436.98 394.8 437.04 406.4 437.10 396.3 437.16 400.3 437.22 397.6 437.28 402.8 437.34 402.3 437.40 399.9 437.46 402.1 437.52 403.9 437.58 406.2 437.64 404.8 437.70 407.4 437.76 405.3 437.82 407.9 437.88 406.7 437.94 406.2 438.00 407.1 438.06 407.1 438.12 406.1 438.18 403.4 438.24 405.2 438.30 408.7 438.36 406.0 438.42 403.9 438.48 404.8 438.54 408.7 438.60 402.4 438.66 401.9 438.72 403.9 438.78 403.4 438.84 407.9 438.90 406.2 438.96 407.1 439.02 404.6 439.08 407.3 439.14 405.1 439.20 403.1 439.26 403.4 439.32 406.9 439.38 406.7 439.44 403.9 439.50 407.7 439.56 406.4 439.62 404.5 439.68 402.4 439.74 408.6 439.80 406.1 439.86 407.2 439.92 403.0 439.98 405.8 440.04 407.2 440.10 405.6 440.16 405.0 440.22 402.1 440.28 408.0 440.34 406.7 440.40 403.2 440.46 400.4 440.52 407.3 440.58 402.1 440.64 403.9 440.70 404.1 440.76 409.7 440.82 405.4 440.88 408.4 440.94 405.1 441.00 402.4 441.06 407.1 441.12 409.1 441.18 403.0 441.24 403.0 441.30 406.9 441.36 408.7 441.42 403.3 441.48 402.6 441.54 403.7 441.60 403.4 441.66 402.6 441.72 405.4 441.78 404.0 441.84 403.2 441.90 406.1 441.96 400.4 442.02 408.1 442.08 408.6 442.14 406.0 442.20 403.4 442.26 402.4 442.32 402.7 442.38 406.0 442.44 403.7 442.50 406.6 442.56 404.5 442.62 405.7 442.68 407.9 442.74 405.5 442.80 402.3 442.86 404.2 442.92 399.7 442.98 405.4 443.04 399.4 443.10 403.6 443.16 402.9 443.22 404.0 443.28 407.5 443.34 404.4 443.40 404.8 443.46 401.2 443.52 405.2 443.58 406.8 443.64 401.9 443.70 403.4 443.76 398.7 443.82 407.3 443.88 405.5 443.94 400.6 444.00 406.5 444.06 403.3 444.12 402.2 444.18 409.3 444.24 404.8 444.30 402.5 444.36 399.9 444.42 406.1 444.48 403.6 444.54 400.9 444.60 404.1 444.66 401.8 444.72 405.2 444.78 406.3 444.84 403.6 444.90 405.0 444.96 405.2 445.02 407.1 445.08 404.5 445.14 400.7 445.20 406.4 445.26 402.4 445.32 402.8 445.38 403.9 445.44 404.3 445.50 402.1 445.56 402.8 445.62 403.6 445.68 400.7 445.74 399.2 445.80 403.2 445.86 403.5 445.92 401.9 445.98 401.7 446.04 402.8 446.10 403.1 446.16 402.6 446.22 403.1 446.28 403.3 446.34 401.5 446.40 398.3 446.46 402.1 446.52 404.0 446.58 397.5 446.64 401.1 446.70 398.9 446.76 402.7 446.82 405.0 446.88 405.0 446.94 405.5 447.00 407.7 447.06 403.9 447.12 406.0 447.18 406.6 447.24 401.0 447.30 406.6 447.36 406.2 447.42 404.1 447.48 406.4 447.54 405.8 447.60 404.4 447.66 405.0 447.72 406.2 447.78 405.7 447.84 400.8 447.90 406.2 447.96 406.6 448.02 406.1 448.08 403.9 448.14 405.3 448.20 402.5 448.26 404.0 448.32 404.5 448.38 406.2 448.44 401.8 448.50 402.2 448.56 403.4 448.62 406.0 448.68 404.9 448.74 407.2 448.80 406.1 448.86 402.9 448.92 401.0 448.98 401.0 449.04 402.7 449.10 407.5 449.16 404.6 449.22 406.1 449.28 401.3 449.34 402.7 449.40 402.4 449.46 402.5 449.52 404.5 449.58 404.0 449.64 402.4 449.70 402.7 449.76 404.1 449.82 401.2 449.88 407.7 449.94 403.1 450.00 402.7 450.06 404.9 450.12 406.5 450.18 404.4 450.24 404.3 450.30 405.5 450.36 402.5 450.42 402.0 450.48 402.4 450.54 401.8 450.60 400.6 450.66 407.2 450.72 405.7 450.78 403.1 450.84 405.8 450.90 399.2 450.96 401.7 451.02 406.3 451.08 404.6 451.14 402.1 451.20 399.2 451.26 405.8 451.32 399.8 451.38 400.7 451.44 402.4 451.50 402.5 451.56 403.0 451.62 403.3 451.68 403.4 451.74 408.6 451.80 403.6 451.86 402.5 451.92 397.6 451.98 404.9 452.04 401.3 452.10 404.6 452.16 402.9 452.22 405.0 452.28 405.7 452.34 407.3 452.40 402.5 452.46 400.2 452.52 403.2 452.58 398.5 452.64 402.4 452.70 403.3 452.76 397.4 452.82 406.1 452.88 401.1 452.94 402.7 453.00 404.3 453.06 403.7 453.12 405.0 453.18 403.9 453.24 404.7 453.30 401.6 453.36 406.1 453.42 402.4 453.48 401.3 453.54 403.7 453.60 401.5 453.66 396.8 453.72 408.4 453.78 402.3 453.84 404.1 453.90 409.5 453.96 401.7 454.02 404.0 454.08 405.5 454.14 407.0 454.20 401.5 454.26 401.3 454.32 407.1 454.38 405.0 454.44 401.6 454.50 400.9 454.56 407.0" stroke="#e3213b" stroke-width="0.9" fill="none" stroke-linejoin="round"/>
<path d="M335.61 398.1V391.3M336.14 398.1V395.0M338.15 398.3V395.0M338.62 398.3V392.2M342.26 398.4V385.0M344.13 398.2V393.8M344.92 398.1V394.3M345.06 398.1V395.4M346.20 397.9V395.3M346.48 397.9V395.9M350.69 397.3V394.6M351.37 397.3V389.6M351.69 397.2V384.7M352.35 397.1V394.9M353.41 397.0V390.2M353.77 396.9V393.0M354.95 396.7V387.8M355.61 396.6V386.5M357.03 396.4V394.3M357.68 396.3V394.1M358.90 396.1V390.5M360.58 395.8V391.5M361.50 395.6V393.5M364.24 395.1V392.7M364.87 395.0V382.2M365.38 395.0V392.4M367.45 394.7V390.7M369.43 394.4V389.0M370.26 394.3V380.6M371.08 394.2V389.5M379.56 392.6V390.4M382.56 391.7V388.7M383.86 391.4V388.1M383.88 391.4V379.6M384.03 391.3V385.7M384.44 391.2V384.3M385.36 390.9V386.4M386.13 390.7V387.1M386.62 390.5V376.6M386.68 390.5V385.4M387.88 390.2V387.9M389.58 389.5V376.6M390.67 389.1V385.9M390.72 389.1V383.7M391.80 388.7V353.8M392.57 388.4V385.6M394.06 387.8V383.8M394.24 387.7V381.8M395.11 387.4V379.1M396.44 386.9V376.4M404.83 382.1V379.9M405.99 381.0V375.0M406.41 380.6V365.1M407.56 379.4V367.8M408.05 379.0V372.9M408.57 378.4V373.7M409.00 378.0V365.9M413.13 373.5V368.4M416.42 369.7V362.7M416.98 369.1V354.6M422.67 364.2V343.8M422.80 364.1V359.9M423.50 363.6V347.3M423.63 363.5V359.4M429.08 362.6V338.8M430.45 363.1V359.6M432.17 366.3V361.4M433.28 371.6V364.1M434.03 375.2V368.8M435.29 382.2V374.5" stroke="#e3213b" stroke-width="0.8" fill="none"/>
<path d="M334.4 410.1H454.5" stroke="#7a7a7a" stroke-width="1.25" stroke-dasharray="2.3 2.95" fill="none"/>
<path d="M437.6 330.5V425.6" stroke="#e3213b" stroke-width="0.95" stroke-dasharray="2.4 1.6" fill="none"/>
<text x="304.8" y="473.2" font-size="9" fill="#333">(ii)</text>
<path d="M334.3 486V573.4" stroke="#808080" stroke-width="0.8" fill="none"/>
<path d="M331.8 486.02H334.3M331.8 498.46H334.3M331.8 510.9H334.3M331.8 523.34H334.3M331.8 535.78H334.3M331.8 548.22H334.3M331.8 560.66H334.3M331.8 573.1H334.3" stroke="#808080" stroke-width="0.8" fill="none"/>
<text x="328.9" y="488.42" font-size="7.5" fill="#4a4a4a" text-anchor="end" textLength="11.05" lengthAdjust="spacingAndGlyphs">0.4</text>
<text x="328.9" y="500.86" font-size="7.5" fill="#4a4a4a" text-anchor="end" textLength="11.05" lengthAdjust="spacingAndGlyphs">0.2</text>
<text x="328.9" y="513.3" font-size="7.5" fill="#4a4a4a" text-anchor="end" textLength="4.42" lengthAdjust="spacingAndGlyphs">0</text>
<text x="328.9" y="525.74" font-size="7.5" fill="#4a4a4a" text-anchor="end" textLength="15.69" lengthAdjust="spacingAndGlyphs">−0.2</text>
<text x="328.9" y="538.18" font-size="7.5" fill="#4a4a4a" text-anchor="end" textLength="15.69" lengthAdjust="spacingAndGlyphs">−0.4</text>
<text x="328.9" y="550.62" font-size="7.5" fill="#4a4a4a" text-anchor="end" textLength="15.69" lengthAdjust="spacingAndGlyphs">−0.6</text>
<text x="328.9" y="563.06" font-size="7.5" fill="#4a4a4a" text-anchor="end" textLength="15.69" lengthAdjust="spacingAndGlyphs">−0.8</text>
<text x="328.9" y="575.5" font-size="7.5" fill="#4a4a4a" text-anchor="end" textLength="9.06" lengthAdjust="spacingAndGlyphs">−1</text>
<path d="M334.3 573.4H453.9" stroke="#808080" stroke-width="0.8" fill="none"/>
<path d="M334.4 573.4V575.9M351.45 573.4V575.9M368.5 573.4V575.9M385.55 573.4V575.9M402.6 573.4V575.9M419.65 573.4V575.9M436.7 573.4V575.9M453.75 573.4V575.9" stroke="#808080" stroke-width="0.8" fill="none"/>
<text x="334.4" y="585.6" font-size="7.5" fill="#4a4a4a" text-anchor="middle" textLength="13.49" lengthAdjust="spacingAndGlyphs">−60</text>
<text x="351.45" y="585.6" font-size="7.5" fill="#4a4a4a" text-anchor="middle" textLength="13.49" lengthAdjust="spacingAndGlyphs">−50</text>
<text x="368.5" y="585.6" font-size="7.5" fill="#4a4a4a" text-anchor="middle" textLength="13.49" lengthAdjust="spacingAndGlyphs">−40</text>
<text x="385.55" y="585.6" font-size="7.5" fill="#4a4a4a" text-anchor="middle" textLength="13.49" lengthAdjust="spacingAndGlyphs">−30</text>
<text x="402.6" y="585.6" font-size="7.5" fill="#4a4a4a" text-anchor="middle" textLength="13.49" lengthAdjust="spacingAndGlyphs">−20</text>
<text x="419.65" y="585.6" font-size="7.5" fill="#4a4a4a" text-anchor="middle" textLength="13.49" lengthAdjust="spacingAndGlyphs">−10</text>
<text x="436.7" y="585.6" font-size="7.5" fill="#4a4a4a" text-anchor="middle" textLength="4.42" lengthAdjust="spacingAndGlyphs">0</text>
<text x="453.75" y="585.6" font-size="7.5" fill="#4a4a4a" text-anchor="middle" textLength="8.84" lengthAdjust="spacingAndGlyphs">10</text>
<text transform="translate(296.7,529.8) rotate(-90)" font-size="9" fill="#333" text-anchor="middle">Delta-to-alpha ratio</text>
<text transform="translate(306.5,529) rotate(-90)" font-size="9" fill="#333" text-anchor="middle">(<tspan font-style="italic">z</tspan>-score)</text>
<text x="394.3" y="598.6" font-size="9" fill="#333" text-anchor="middle">Time (min)</text>
<path d="M334.50 504.4 334.56 502.4 334.62 507.6 334.68 502.4 334.74 511.4 334.80 508.3 334.86 504.5 334.92 507.1 334.98 510.1 335.04 513.5 335.10 502.6 335.16 508.2 335.22 506.5 335.28 504.1 335.34 508.0 335.40 506.2 335.46 507.7 335.52 503.0 335.58 504.4 335.64 505.4 335.70 504.2 335.76 504.1 335.82 501.7 335.88 504.3 335.94 504.4 336.00 503.7 336.06 503.9 336.12 506.0 336.18 502.1 336.24 506.1 336.30 503.8 336.36 504.5 336.42 503.9 336.48 507.3 336.54 507.0 336.60 505.1 336.66 504.0 336.72 510.9 336.78 507.3 336.84 502.6 336.90 506.2 336.96 506.2 337.02 508.8 337.08 506.4 337.14 505.1 337.20 511.4 337.26 502.0 337.32 503.9 337.38 506.7 337.44 506.9 337.50 508.2 337.56 508.7 337.62 511.7 337.68 504.5 337.74 517.6 337.80 510.7 337.86 506.7 337.92 507.3 337.98 507.5 338.04 502.3 338.10 509.9 338.16 505.4 338.22 506.9 338.28 505.2 338.34 506.5 338.40 508.2 338.46 504.3 338.52 512.2 338.58 504.0 338.64 506.1 338.70 507.4 338.76 509.1 338.82 507.8 338.88 507.2 338.94 508.4 339.00 508.0 339.06 504.0 339.12 508.4 339.18 504.7 339.24 503.2 339.30 506.2 339.36 505.0 339.42 507.1 339.48 507.2 339.54 504.7 339.60 507.3 339.66 506.3 339.72 501.8 339.78 511.0 339.84 506.6 339.90 506.2 339.96 509.1 340.02 502.6 340.08 504.6 340.14 509.3 340.20 501.0 340.26 504.1 340.32 511.3 340.38 508.1 340.44 503.5 340.50 506.4 340.56 508.3 340.62 503.8 340.68 506.0 340.74 506.9 340.80 505.9 340.86 510.1 340.92 505.9 340.98 505.1 341.04 506.1 341.10 504.2 341.16 502.9 341.22 504.5 341.28 503.2 341.34 510.4 341.40 511.1 341.46 503.7 341.52 496.6 341.58 503.5 341.64 506.4 341.70 502.6 341.76 506.2 341.82 506.0 341.88 502.2 341.94 503.2 342.00 500.9 342.06 502.5 342.12 500.4 342.18 502.0 342.24 507.8 342.30 502.5 342.36 506.6 342.42 504.4 342.48 499.1 342.54 503.2 342.60 502.2 342.66 500.0 342.72 502.2 342.78 507.2 342.84 507.2 342.90 502.5 342.96 501.7 343.02 503.7 343.08 504.9 343.14 507.8 343.20 502.4 343.26 501.4 343.32 504.0 343.38 498.4 343.44 503.8 343.50 505.4 343.56 498.7 343.62 506.7 343.68 502.3 343.74 503.4 343.80 503.1 343.86 503.4 343.92 503.6 343.98 501.8 344.04 497.6 344.10 505.7 344.16 502.7 344.22 504.4 344.28 503.4 344.34 506.1 344.40 502.3 344.46 500.8 344.52 510.0 344.58 506.5 344.64 504.6 344.70 505.6 344.76 506.2 344.82 496.1 344.88 500.8 344.94 502.9 345.00 504.4 345.06 501.0 345.12 503.5 345.18 500.3 345.24 502.7 345.30 498.1 345.36 502.8 345.42 508.9 345.48 500.9 345.54 506.5 345.60 501.1 345.66 502.0 345.72 511.9 345.78 502.7 345.84 505.0 345.90 504.2 345.96 497.4 346.02 504.8 346.08 507.3 346.14 501.4 346.20 501.3 346.26 502.4 346.32 506.1 346.38 502.0 346.44 506.8 346.50 506.3 346.56 498.9 346.62 500.0 346.68 503.6 346.74 501.1 346.80 506.0 346.86 507.1 346.92 501.7 346.98 506.6 347.04 505.6 347.10 503.7 347.16 506.7 347.22 502.5 347.28 504.8 347.34 501.9 347.40 501.3 347.46 508.6 347.52 509.0 347.58 504.9 347.64 507.7 347.70 503.7 347.76 502.9 347.82 506.6 347.88 509.5 347.94 505.2 348.00 505.8 348.06 505.4 348.12 502.9 348.18 500.0 348.24 505.8 348.30 501.6 348.36 510.2 348.42 506.0 348.48 507.3 348.54 507.9 348.60 502.4 348.66 502.2 348.72 509.5 348.78 506.9 348.84 505.7 348.90 507.7 348.96 499.4 349.02 508.5 349.08 506.0 349.14 506.7 349.20 507.5 349.26 511.4 349.32 507.5 349.38 505.2 349.44 502.9 349.50 513.0 349.56 499.5 349.62 504.4 349.68 504.2 349.74 502.1 349.80 502.7 349.86 503.9 349.92 500.4 349.98 502.7 350.04 504.3 350.10 498.7 350.16 502.9 350.22 503.4 350.28 502.5 350.34 502.4 350.40 502.5 350.46 501.4 350.52 500.6 350.58 504.7 350.64 503.1 350.70 503.3 350.76 507.7 350.82 506.7 350.88 502.3 350.94 508.6 351.00 503.7 351.06 507.1 351.12 498.7 351.18 508.9 351.24 503.6 351.30 501.8 351.36 501.5 351.42 496.7 351.48 500.1 351.54 501.7 351.60 508.2 351.66 503.9 351.72 502.5 351.78 507.0 351.84 504.6 351.90 501.6 351.96 500.8 352.02 498.1 352.08 502.6 352.14 496.5 352.20 505.0 352.26 497.7 352.32 502.4 352.38 505.1 352.44 499.6 352.50 501.5 352.56 507.2 352.62 500.2 352.68 504.2 352.74 503.8 352.80 495.8 352.86 501.9 352.92 497.3 352.98 501.5 353.04 501.7 353.10 504.2 353.16 500.7 353.22 501.3 353.28 501.9 353.34 507.7 353.40 502.1 353.46 506.9 353.52 499.6 353.58 498.9 353.64 503.7 353.70 499.6 353.76 502.8 353.82 502.1 353.88 508.8 353.94 507.6 354.00 509.4 354.06 505.4 354.12 502.9 354.18 503.1 354.24 509.4 354.30 500.6 354.36 502.5 354.42 501.4 354.48 507.6 354.54 504.4 354.60 507.4 354.66 508.8 354.72 513.5 354.78 508.0 354.84 498.7 354.90 499.7 354.96 505.4 355.02 510.7 355.08 503.8 355.14 505.7 355.20 502.8 355.26 505.3 355.32 508.2 355.38 507.2 355.44 508.1 355.50 510.3 355.56 507.1 355.62 505.6 355.68 499.9 355.74 504.6 355.80 511.5 355.86 504.2 355.92 506.0 355.98 505.1 356.04 507.5 356.10 509.3 356.16 505.3 356.22 504.8 356.28 508.9 356.34 502.5 356.40 507.8 356.46 504.4 356.52 505.9 356.58 508.7 356.64 508.1 356.70 508.7 356.76 503.7 356.82 505.5 356.88 503.1 356.94 502.0 357.00 503.7 357.06 505.6 357.12 504.8 357.18 504.2 357.24 501.3 357.30 504.2 357.36 505.3 357.42 509.5 357.48 503.0 357.54 507.0 357.60 504.4 357.66 512.9 357.72 506.5 357.78 509.5 357.84 506.8 357.90 501.9 357.96 502.0 358.02 504.5 358.08 501.6 358.14 505.5 358.20 502.6 358.26 503.8 358.32 500.0 358.38 510.1 358.44 501.4 358.50 504.4 358.56 502.4 358.62 505.5 358.68 508.7 358.74 507.2 358.80 500.0 358.86 505.8 358.92 508.0 358.98 508.9 359.04 503.4 359.10 503.3 359.16 499.7 359.22 511.6 359.28 504.1 359.34 503.8 359.40 503.0 359.46 505.2 359.52 507.1 359.58 507.5 359.64 503.5 359.70 501.7 359.76 507.7 359.82 503.3 359.88 510.9 359.94 507.2 360.00 504.3 360.06 509.8 360.12 500.8 360.18 506.3 360.24 506.8 360.30 507.6 360.36 503.7 360.42 507.2 360.48 508.6 360.54 509.6 360.60 506.9 360.66 503.1 360.72 508.9 360.78 503.8 360.84 507.6 360.90 507.6 360.96 516.1 361.02 507.7 361.08 504.3 361.14 507.1 361.20 510.9 361.26 507.5 361.32 513.9 361.38 509.1 361.44 512.5 361.50 511.9 361.56 506.2 361.62 510.0 361.68 506.8 361.74 509.8 361.80 507.9 361.86 509.8 361.92 506.6 361.98 508.3 362.04 505.3 362.10 505.4 362.16 510.4 362.22 506.4 362.28 503.7 362.34 503.7 362.40 506.9 362.46 510.5 362.52 506.4 362.58 508.2 362.64 506.2 362.70 505.3 362.76 507.4 362.82 505.9 362.88 512.0 362.94 507.1 363.00 508.6 363.06 504.7 363.12 505.2 363.18 501.5 363.24 504.4 363.30 501.5 363.36 502.5 363.42 504.4 363.48 499.4 363.54 499.2 363.60 500.7 363.66 507.6 363.72 505.7 363.78 509.8 363.84 506.7 363.90 502.4 363.96 505.6 364.02 503.5 364.08 499.7 364.14 503.8 364.20 504.6 364.26 508.0 364.32 507.1 364.38 500.4 364.44 501.2 364.50 505.6 364.56 505.0 364.62 503.5 364.68 503.9 364.74 507.5 364.80 507.4 364.86 502.9 364.92 503.2 364.98 504.2 365.04 501.8 365.10 502.9 365.16 509.1 365.22 508.2 365.28 504.5 365.34 505.5 365.40 509.5 365.46 503.5 365.52 502.7 365.58 507.9 365.64 506.6 365.70 502.0 365.76 507.2 365.82 504.4 365.88 505.9 365.94 512.5 366.00 506.8 366.06 505.5 366.12 503.5 366.18 509.2 366.24 506.4 366.30 509.3 366.36 512.2 366.42 509.8 366.48 510.9 366.54 511.6 366.60 503.0 366.66 506.7 366.72 503.6 366.78 509.5 366.84 506.8 366.90 508.8 366.96 507.6 367.02 505.3 367.08 505.4 367.14 508.2 367.20 508.7 367.26 505.1 367.32 501.3 367.38 499.4 367.44 507.9 367.50 507.8 367.56 503.4 367.62 505.8 367.68 509.3 367.74 506.4 367.80 509.6 367.86 508.0 367.92 503.9 367.98 501.8 368.04 508.2 368.10 506.6 368.16 509.6 368.22 506.2 368.28 508.2 368.34 504.6 368.40 500.2 368.46 505.5 368.52 501.8 368.58 505.0 368.64 506.0 368.70 512.4 368.76 506.3 368.82 511.8 368.88 503.9 368.94 514.0 369.00 503.2 369.06 507.5 369.12 514.8 369.18 514.4 369.24 511.4 369.30 511.0 369.36 513.0 369.42 507.5 369.48 512.0 369.54 515.8 369.60 515.7 369.66 505.8 369.72 513.9 369.78 510.6 369.84 508.9 369.90 508.8 369.96 509.0 370.02 507.6 370.08 515.5 370.14 505.8 370.20 510.9 370.26 509.7 370.32 515.8 370.38 510.6 370.44 512.1 370.50 508.3 370.56 511.0 370.62 514.0 370.68 508.7 370.74 513.7 370.80 512.0 370.86 513.1 370.92 513.4 370.98 514.3 371.04 505.0 371.10 515.4 371.16 508.2 371.22 507.1 371.28 510.8 371.34 512.5 371.40 515.4 371.46 509.5 371.52 516.5 371.58 510.3 371.64 513.8 371.70 508.1 371.76 511.8 371.82 510.2 371.88 512.8 371.94 512.0 372.00 511.3 372.06 509.4 372.12 510.5 372.18 509.8 372.24 506.8 372.30 505.8 372.36 509.2 372.42 508.7 372.48 510.8 372.54 512.4 372.60 513.2 372.66 506.7 372.72 509.4 372.78 508.1 372.84 511.4 372.90 508.7 372.96 512.4 373.02 512.1 373.08 514.7 373.14 514.8 373.20 506.6 373.26 509.2 373.32 507.7 373.38 508.9 373.44 511.6 373.50 510.2 373.56 507.7 373.62 510.9 373.68 506.5 373.74 506.4 373.80 505.4 373.86 509.8 373.92 509.5 373.98 509.0 374.04 509.5 374.10 511.8 374.16 505.9 374.22 510.3 374.28 512.0 374.34 508.3 374.40 503.2 374.46 502.6 374.52 507.9 374.58 510.2 374.64 504.9 374.70 507.8 374.76 509.2 374.82 511.7 374.88 505.0 374.94 510.2 375.00 507.8 375.06 507.3 375.12 510.1 375.18 512.6 375.24 507.5 375.30 505.3 375.36 510.1 375.42 506.9 375.48 507.1 375.54 507.3 375.60 508.1 375.66 512.2 375.72 510.5 375.78 510.0 375.84 511.4 375.90 509.3 375.96 510.5 376.02 515.6 376.08 511.5 376.14 510.0 376.20 510.9 376.26 512.5 376.32 511.7 376.38 510.0 376.44 510.3 376.50 508.6 376.56 516.0 376.62 512.0 376.68 513.1 376.74 509.6 376.80 512.2 376.86 507.6 376.92 507.1 376.98 515.2 377.04 513.0 377.10 509.2 377.16 504.3 377.22 512.4 377.28 513.7 377.34 509.1 377.40 512.4 377.46 507.6 377.52 509.0 377.58 510.8 377.64 512.9 377.70 513.2 377.76 516.4 377.82 513.7 377.88 510.9 377.94 514.0 378.00 513.1 378.06 512.3 378.12 512.6 378.18 512.2 378.24 512.4 378.30 503.8 378.36 515.6 378.42 512.4 378.48 512.0 378.54 512.2 378.60 512.0 378.66 508.9 378.72 515.0 378.78 510.6 378.84 513.6 378.90 509.1 378.96 509.4 379.02 511.3 379.08 512.2 379.14 517.4 379.20 506.5 379.26 507.6 379.32 510.2 379.38 509.5 379.44 515.7 379.50 510.6 379.56 508.3 379.62 507.1 379.68 509.8 379.74 506.5 379.80 512.4 379.86 516.9 379.92 508.6 379.98 512.9 380.04 514.1 380.10 512.3 380.16 511.9 380.22 513.8 380.28 516.7 380.34 511.9 380.40 511.2 380.46 512.5 380.52 510.8 380.58 518.5 380.64 514.4 380.70 513.2 380.76 515.3 380.82 513.4 380.88 517.5 380.94 507.8 381.00 511.1 381.06 517.1 381.12 517.0 381.18 515.6 381.24 515.3 381.30 517.2 381.36 514.4 381.42 513.8 381.48 516.1 381.54 512.1 381.60 512.9 381.66 519.3 381.72 518.4 381.78 516.5 381.84 514.4 381.90 518.5 381.96 517.9 382.02 514.6 382.08 515.8 382.14 516.9 382.20 508.5 382.26 514.2 382.32 510.5 382.38 512.0 382.44 515.6 382.50 515.9 382.56 511.2 382.62 514.9 382.68 513.8 382.74 518.5 382.80 515.0 382.86 512.1 382.92 515.2 382.98 518.0 383.04 513.2 383.10 513.7 383.16 516.2 383.22 511.5 383.28 516.7 383.34 510.7 383.40 516.1 383.46 513.4 383.52 514.7 383.58 510.4 383.64 513.6 383.70 512.4 383.76 511.7 383.82 509.6 383.88 514.9 383.94 513.6 384.00 510.8 384.06 513.6 384.12 514.9 384.18 515.6 384.24 518.4 384.30 514.0 384.36 513.4 384.42 513.4 384.48 519.8 384.54 512.7 384.60 510.2 384.66 512.5 384.72 512.6 384.78 513.0 384.84 520.9 384.90 518.1 384.96 513.0 385.02 517.7 385.08 514.4 385.14 517.5 385.20 521.6 385.26 515.8 385.32 513.9 385.38 517.8 385.44 515.1 385.50 511.6 385.56 513.0 385.62 513.4 385.68 515.2 385.74 515.4 385.80 514.9 385.86 515.1 385.92 503.6 385.98 508.8 386.04 515.9 386.10 512.5 386.16 508.2 386.22 509.3 386.28 513.2 386.34 510.9 386.40 517.2 386.46 506.7 386.52 507.8 386.58 515.5 386.64 517.3 386.70 514.3 386.76 511.9 386.82 509.9 386.88 509.8 386.94 513.1 387.00 512.3 387.06 514.1 387.12 520.1 387.18 513.5 387.24 515.1 387.30 520.0 387.36 512.3 387.42 516.6 387.48 511.5 387.54 510.2 387.60 523.3 387.66 513.9 387.72 515.5 387.78 510.1 387.84 516.0 387.90 515.7 387.96 513.0 388.02 516.5 388.08 514.1 388.14 514.3 388.20 514.4 388.26 513.6 388.32 507.5 388.38 516.1 388.44 515.9 388.50 510.0 388.56 513.2 388.62 505.7 388.68 516.1 388.74 515.6 388.80 511.0 388.86 514.6 388.92 517.7 388.98 511.4 389.04 509.5 389.10 511.8 389.16 517.0 389.22 516.6 389.28 514.0 389.34 512.6 389.40 518.0 389.46 511.1 389.52 514.9 389.58 514.3 389.64 519.7 389.70 519.8 389.76 513.9 389.82 522.2 389.88 522.2 389.94 519.6 390.00 519.9 390.06 520.7 390.12 521.7 390.18 522.6 390.24 516.9 390.30 529.5 390.36 522.7 390.42 521.1 390.48 522.8 390.54 525.0 390.60 522.9 390.66 519.4 390.72 521.4 390.78 526.0 390.84 519.1 390.90 519.3 390.96 519.9 391.02 523.3 391.08 523.5 391.14 517.2 391.20 520.1 391.26 525.6 391.32 522.6 391.38 522.2 391.44 520.1 391.50 514.9 391.56 521.2 391.62 516.9 391.68 513.5 391.74 527.7 391.80 523.2 391.86 522.4 391.92 521.5 391.98 517.6 392.04 514.4 392.10 520.0 392.16 522.6 392.22 520.0 392.28 515.7 392.34 515.0 392.40 515.9 392.46 517.3 392.52 516.7 392.58 518.7 392.64 515.8 392.70 517.6 392.76 518.5 392.82 516.2 392.88 516.7 392.94 519.2 393.00 512.7 393.06 515.4 393.12 520.7 393.18 515.4 393.24 514.4 393.30 511.2 393.36 515.2 393.42 516.7 393.48 517.7 393.54 518.9 393.60 518.6 393.66 515.1 393.72 517.5 393.78 519.6 393.84 519.1 393.90 521.2 393.96 523.1 394.02 520.9 394.08 522.7 394.14 519.8 394.20 522.3 394.26 517.2 394.32 525.3 394.38 522.0 394.44 519.7 394.50 513.7 394.56 520.6 394.62 520.1 394.68 519.4 394.74 517.7 394.80 520.9 394.86 519.5 394.92 523.4 394.98 522.7 395.04 521.9 395.10 522.1 395.16 523.3 395.22 523.6 395.28 525.5 395.34 522.2 395.40 521.5 395.46 524.9 395.52 519.8 395.58 521.1 395.64 522.2 395.70 524.1 395.76 523.5 395.82 519.1 395.88 519.7 395.94 513.2 396.00 522.2 396.06 518.0 396.12 519.7 396.18 516.6 396.24 516.0 396.30 517.5 396.36 518.4 396.42 522.6 396.48 520.8 396.54 518.2 396.60 522.8 396.66 520.2 396.72 525.6 396.78 524.2 396.84 520.6 396.90 515.5 396.96 521.4 397.02 515.6 397.08 522.9 397.14 519.2 397.20 525.4 397.26 521.7 397.32 521.1 397.38 524.2 397.44 519.9 397.50 525.7 397.56 524.6 397.62 522.7 397.68 519.4 397.74 519.8 397.80 522.5 397.86 524.4 397.92 521.2 397.98 521.7 398.04 516.8 398.10 516.7 398.16 516.9 398.22 520.0 398.28 523.5 398.34 524.6 398.40 523.8 398.46 522.8 398.52 518.1 398.58 522.2 398.64 523.4 398.70 518.6 398.76 519.9 398.82 524.1 398.88 522.2 398.94 525.4 399.00 518.6 399.06 517.1 399.12 526.0 399.18 525.7 399.24 523.1 399.30 520.7 399.36 519.4 399.42 524.3 399.48 520.5 399.54 518.5 399.60 521.2 399.66 525.1 399.72 522.9 399.78 516.7 399.84 523.6 399.90 523.6 399.96 523.0 400.02 517.1 400.08 518.5 400.14 518.4 400.20 521.8 400.26 521.7 400.32 521.7 400.38 517.1 400.44 521.9 400.50 523.5 400.56 525.1 400.62 523.4 400.68 520.5 400.74 521.6 400.80 521.3 400.86 523.1 400.92 522.6 400.98 519.6 401.04 524.5 401.10 525.2 401.16 519.9 401.22 520.4 401.28 527.4 401.34 523.8 401.40 523.1 401.46 520.7 401.52 522.2 401.58 524.6 401.64 517.5 401.70 525.3 401.76 526.5 401.82 523.4 401.88 522.2 401.94 521.3 402.00 531.0 402.06 527.1 402.12 522.3 402.18 528.0 402.24 526.1 402.30 523.3 402.36 528.3 402.42 524.0 402.48 529.7 402.54 527.0 402.60 528.1 402.66 526.0 402.72 520.4 402.78 523.0 402.84 522.6 402.90 525.8 402.96 529.2 403.02 525.6 403.08 526.9 403.14 523.3 403.20 523.9 403.26 523.4 403.32 527.5 403.38 517.8 403.44 525.5 403.50 526.2 403.56 527.1 403.62 527.4 403.68 524.1 403.74 523.6 403.80 521.0 403.86 531.8 403.92 528.7 403.98 523.9 404.04 523.4 404.10 528.3 404.16 525.0 404.22 526.5 404.28 521.3 404.34 521.3 404.40 530.0 404.46 520.5 404.52 526.3 404.58 527.1 404.64 526.7 404.70 525.5 404.76 519.3 404.82 524.2 404.88 523.5 404.94 521.8 405.00 519.6 405.06 523.3 405.12 527.5 405.18 522.4 405.24 522.8 405.30 528.6 405.36 521.2 405.42 525.6 405.48 519.5 405.54 519.7 405.60 523.1 405.66 523.5 405.72 523.7 405.78 520.3 405.84 524.8 405.90 526.8 405.96 519.0 406.02 525.0 406.08 523.7 406.14 526.4 406.20 526.1 406.26 526.2 406.32 529.2 406.38 525.9 406.44 526.4 406.50 524.7 406.56 525.0 406.62 528.6 406.68 525.4 406.74 528.5 406.80 526.0 406.86 529.9 406.92 525.7 406.98 528.7 407.04 531.8 407.10 526.2 407.16 524.6 407.22 533.1 407.28 528.9 407.34 527.9 407.40 533.4 407.46 528.4 407.52 528.6 407.58 531.8 407.64 528.3 407.70 524.2 407.76 529.3 407.82 528.5 407.88 529.6 407.94 532.4 408.00 529.3 408.06 527.8 408.12 527.7 408.18 525.9 408.24 528.9 408.30 527.5 408.36 530.4 408.42 531.5 408.48 533.6 408.54 525.3 408.60 530.4 408.66 528.9 408.72 531.1 408.78 529.0 408.84 530.8 408.90 536.0 408.96 531.0 409.02 529.2 409.08 536.5 409.14 532.2 409.20 528.9 409.26 527.5 409.32 527.8 409.38 533.8 409.44 533.4 409.50 531.2 409.56 536.6 409.62 533.0 409.68 533.2 409.74 536.2 409.80 540.9 409.86 530.7 409.92 533.0 409.98 523.1 410.04 535.1 410.10 534.4 410.16 531.9 410.22 534.2 410.28 534.8 410.34 534.0 410.40 534.1 410.46 529.8 410.52 537.7 410.58 534.0 410.64 530.7 410.70 536.8 410.76 532.4 410.82 534.0 410.88 534.6 410.94 543.0 411.00 540.2 411.06 536.3 411.12 535.2 411.18 537.9 411.24 535.9 411.30 537.6 411.36 533.4 411.42 534.7 411.48 538.7 411.54 536.2 411.60 536.7 411.66 537.2 411.72 535.2 411.78 532.7 411.84 537.0 411.90 538.2 411.96 537.9 412.02 537.3 412.08 536.1 412.14 538.8 412.20 535.5 412.26 539.9 412.32 529.2 412.38 538.9 412.44 536.5 412.50 537.7 412.56 533.1 412.62 539.9 412.68 532.0 412.74 536.9 412.80 533.3 412.86 539.9 412.92 533.2 412.98 532.7 413.04 532.1 413.10 539.2 413.16 537.2 413.22 538.4 413.28 536.5 413.34 541.3 413.40 534.6 413.46 534.6 413.52 540.2 413.58 537.4 413.64 536.1 413.70 540.0 413.76 535.4 413.82 540.1 413.88 537.5 413.94 540.8 414.00 540.1 414.06 545.8 414.12 540.3 414.18 540.6 414.24 537.9 414.30 541.0 414.36 541.2 414.42 540.8 414.48 543.7 414.54 537.6 414.60 541.5 414.66 540.2 414.72 544.4 414.78 537.8 414.84 542.8 414.90 539.6 414.96 535.1 415.02 543.3 415.08 538.1 415.14 539.5 415.20 538.0 415.26 538.9 415.32 537.2 415.38 536.5 415.44 537.6 415.50 540.7 415.56 532.0 415.62 534.1 415.68 539.5 415.74 538.8 415.80 538.1 415.86 541.1 415.92 538.5 415.98 539.6 416.04 540.8 416.10 538.3 416.16 539.7 416.22 542.8 416.28 539.2 416.34 538.8 416.40 536.4 416.46 540.4 416.52 536.8 416.58 541.2 416.64 543.6 416.70 548.5 416.76 544.5 416.82 547.4 416.88 544.1 416.94 545.5 417.00 540.3 417.06 543.8 417.12 534.8 417.18 541.5 417.24 543.9 417.30 547.6 417.36 541.8 417.42 540.9 417.48 545.2 417.54 546.0 417.60 548.0 417.66 547.5 417.72 541.9 417.78 543.7 417.84 546.0 417.90 547.5 417.96 546.9 418.02 545.5 418.08 539.1 418.14 549.3 418.20 540.0 418.26 544.9 418.32 548.1 418.38 549.1 418.44 542.2 418.50 546.7 418.56 542.6 418.62 545.4 418.68 545.8 418.74 543.8 418.80 546.5 418.86 541.7 418.92 545.0 418.98 543.5 419.04 547.5 419.10 547.0 419.16 547.3 419.22 544.6 419.28 543.0 419.34 547.3 419.40 547.8 419.46 549.3 419.52 546.7 419.58 549.3 419.64 550.2 419.70 545.5 419.76 545.9 419.82 548.4 419.88 548.0 419.94 545.1 420.00 549.2 420.06 545.1 420.12 546.5 420.18 556.2 420.24 553.5 420.30 549.4 420.36 549.7 420.42 550.0 420.48 554.0 420.54 551.2 420.60 553.2 420.66 552.5 420.72 547.6 420.78 550.8 420.84 552.3 420.90 546.4 420.96 552.8 421.02 551.6 421.08 554.4 421.14 552.0 421.20 551.5 421.26 548.4 421.32 549.1 421.38 551.3 421.44 552.8 421.50 557.7 421.56 556.6 421.62 549.6 421.68 555.7 421.74 548.4 421.80 549.2 421.86 554.4 421.92 555.6 421.98 548.8 422.04 554.0 422.10 551.0 422.16 556.9 422.22 550.9 422.28 550.1 422.34 551.0 422.40 553.5 422.46 555.2 422.52 552.5 422.58 553.2 422.64 549.6 422.70 554.7 422.76 549.7 422.82 551.3 422.88 549.9 422.94 549.3 423.00 548.8 423.06 548.8 423.12 554.5 423.18 543.0 423.24 553.0 423.30 546.1 423.36 553.3 423.42 547.9 423.48 551.0 423.54 551.7 423.60 547.7 423.66 555.0 423.72 550.8 423.78 552.7 423.84 559.6 423.90 552.5 423.96 556.4 424.02 551.4 424.08 558.4 424.14 550.6 424.20 556.0 424.26 551.2 424.32 556.1 424.38 560.1 424.44 562.7 424.50 553.1 424.56 559.0 424.62 547.9 424.68 553.2 424.74 558.9 424.80 555.6 424.86 556.7 424.92 554.7 424.98 557.6 425.04 559.5 425.10 562.5 425.16 558.2 425.22 558.8 425.28 559.9 425.34 556.4 425.40 560.8 425.46 555.6 425.52 562.5 425.58 556.9 425.64 557.4 425.70 557.6 425.76 557.7 425.82 559.5 425.88 556.5 425.94 555.6 426.00 554.2 426.06 555.8 426.12 554.7 426.18 560.4 426.24 557.7 426.30 557.2 426.36 553.6 426.42 560.0 426.48 547.9 426.54 558.5 426.60 557.8 426.66 555.9 426.72 558.2 426.78 554.6 426.84 557.6 426.90 556.7 426.96 556.8 427.02 558.3 427.08 563.3 427.14 560.1 427.20 560.7 427.26 556.2 427.32 559.1 427.38 557.9 427.44 557.4 427.50 556.0 427.56 559.4 427.62 562.6 427.68 560.5 427.74 563.7 427.80 559.7 427.86 556.7 427.92 558.1 427.98 557.6 428.04 553.9 428.10 554.2 428.16 559.8 428.22 560.8 428.28 566.0 428.34 562.3 428.40 562.5 428.46 560.5 428.52 563.3 428.58 555.9 428.64 559.5 428.70 566.4 428.76 561.3 428.82 561.7 428.88 558.7 428.94 554.4 429.00 563.4 429.06 554.3 429.12 565.6 429.18 556.4 429.24 563.6 429.30 559.1 429.36 563.0 429.42 557.3 429.48 556.8 429.54 563.7 429.60 563.3 429.66 562.1 429.72 562.3 429.78 559.3 429.84 565.5 429.90 559.9 429.96 558.1 430.02 560.8 430.08 559.5 430.14 558.1 430.20 554.7 430.26 564.6 430.32 558.3 430.38 565.6 430.44 557.7 430.50 558.1 430.56 558.5 430.62 555.3 430.68 555.8 430.74 555.2 430.80 555.3 430.86 559.7 430.92 552.3 430.98 555.3 431.04 565.3 431.10 554.1 431.16 556.6 431.22 553.2 431.28 555.2 431.34 554.7 431.40 558.5 431.46 554.9 431.52 553.9 431.58 553.0 431.64 552.4 431.70 549.4 431.76 558.1 431.82 550.4 431.88 549.2 431.94 553.1 432.00 546.7 432.06 552.3 432.12 554.8 432.18 553.1 432.24 555.8 432.30 555.3 432.36 556.9 432.42 556.4 432.48 557.0 432.54 553.2 432.60 551.0 432.66 551.6 432.72 550.8 432.78 552.1 432.84 549.9 432.90 551.9 432.96 555.6 433.02 552.6 433.08 551.2 433.14 552.9 433.20 553.3 433.26 551.3 433.32 552.1 433.38 549.9 433.44 549.5 433.50 548.9 433.56 544.3 433.62 548.3 433.68 545.0 433.74 546.4 433.80 548.2 433.86 547.7 433.92 552.8 433.98 540.8 434.04 548.2 434.10 546.0 434.16 543.3 434.22 545.4 434.28 540.5 434.34 542.9 434.40 541.3 434.46 547.1 434.52 540.8 434.58 540.9 434.64 541.9 434.70 538.7 434.76 540.4 434.82 540.1 434.88 540.8 434.94 538.2 435.00 538.9 435.06 534.4 435.12 541.4 435.18 533.8 435.24 530.8 435.30 533.7 435.36 533.9 435.42 526.9 435.48 533.3 435.54 536.2 435.60 533.0 435.66 538.1 435.72 529.2 435.78 527.5 435.84 531.7 435.90 534.1 435.96 530.8 436.02 522.4 436.08 520.6 436.14 524.1 436.20 522.6 436.26 525.0 436.32 520.0 436.38 518.0 436.44 519.8 436.50 518.5 436.56 519.1 436.62 518.9 436.68 510.9 436.74 514.0 436.80 510.7 436.86 510.6 436.92 513.1 436.98 508.3 437.04 506.9 437.10 514.5 437.16 514.1 437.22 505.9 437.28 512.1 437.34 508.3 437.40 509.9 437.46 503.8 437.52 504.6 437.58 505.8 437.64 506.3 437.70 505.9 437.76 509.0 437.82 506.7 437.88 508.2 437.94 509.5 438.00 508.4 438.06 505.9 438.12 508.4 438.18 507.1 438.24 507.2 438.30 507.5 438.36 507.2 438.42 505.5 438.48 508.1 438.54 507.1 438.60 509.3 438.66 505.6 438.72 507.1 438.78 507.0 438.84 506.1 438.90 507.0 438.96 508.7 439.02 508.5 439.08 506.4 439.14 504.4 439.20 507.1 439.26 507.6 439.32 508.3 439.38 505.4 439.44 511.4 439.50 513.6 439.56 506.1 439.62 509.5 439.68 505.7 439.74 506.9 439.80 508.1 439.86 509.0 439.92 509.9 439.98 511.0 440.04 511.6 440.10 509.9 440.16 511.5 440.22 509.7 440.28 510.9 440.34 514.2 440.40 508.0 440.46 507.1 440.52 509.3 440.58 509.0 440.64 514.1 440.70 507.0 440.76 507.7 440.82 508.5 440.88 508.2 440.94 512.2 441.00 508.5 441.06 510.4 441.12 508.7 441.18 513.6 441.24 510.5 441.30 509.6 441.36 513.5 441.42 508.2 441.48 507.5 441.54 509.5 441.60 510.9 441.66 510.1 441.72 510.5 441.78 512.0 441.84 510.7 441.90 514.5 441.96 506.3 442.02 511.8 442.08 513.1 442.14 506.6 442.20 508.3 442.26 509.4 442.32 514.2 442.38 507.7 442.44 513.2 442.50 509.2 442.56 510.6 442.62 511.6 442.68 511.0 442.74 511.9 442.80 510.9 442.86 512.2 442.92 512.0 442.98 514.6 443.04 510.7 443.10 514.6 443.16 511.6 443.22 516.1 443.28 510.0 443.34 512.4 443.40 513.7 443.46 511.6 443.52 511.7 443.58 512.4 443.64 512.9 443.70 514.5 443.76 514.1 443.82 514.4 443.88 514.2 443.94 515.7 444.00 512.4 444.06 515.0 444.12 512.5 444.18 513.0 444.24 511.6 444.30 515.5 444.36 511.4 444.42 513.7 444.48 513.3 444.54 511.4 444.60 512.1 444.66 512.5 444.72 516.9 444.78 515.6 444.84 516.0 444.90 513.8 444.96 514.4 445.02 514.2 445.08 516.8 445.14 512.8 445.20 513.4 445.26 516.0 445.32 517.7 445.38 514.9 445.44 516.0 445.50 515.8 445.56 516.1 445.62 515.1 445.68 512.7 445.74 515.8 445.80 515.4 445.86 515.7 445.92 516.1 445.98 516.1 446.04 519.1 446.10 513.4 446.16 520.0 446.22 515.7 446.28 517.2 446.34 516.1 446.40 519.3 446.46 517.3 446.52 519.1 446.58 515.9 446.64 517.2 446.70 515.6 446.76 517.2 446.82 517.0 446.88 513.7 446.94 514.3 447.00 515.9 447.06 522.3 447.12 518.0 447.18 516.7 447.24 519.7 447.30 515.9 447.36 515.2 447.42 515.4 447.48 519.7 447.54 516.2 447.60 518.5 447.66 520.1 447.72 518.7 447.78 518.2 447.84 517.8 447.90 517.2 447.96 517.1 448.02 516.1 448.08 517.4 448.14 515.3 448.20 519.8 448.26 517.1 448.32 517.8 448.38 517.0 448.44 516.8 448.50 518.5 448.56 518.0 448.62 521.9 448.68 518.7 448.74 519.9 448.80 515.9 448.86 514.9 448.92 518.5 448.98 517.3 449.04 518.9 449.10 516.0 449.16 516.3 449.22 514.0 449.28 520.2 449.34 520.5 449.40 515.8 449.46 518.0 449.52 521.2 449.58 518.2 449.64 517.3 449.70 516.8 449.76 518.2 449.82 519.1 449.88 518.0 449.94 514.7 450.00 516.5 450.06 517.6 450.12 512.9 450.18 517.5 450.24 512.6 450.30 516.2 450.36 518.2 450.42 516.1 450.48 515.7 450.54 518.1 450.60 515.8 450.66 520.2 450.72 514.4 450.78 515.5 450.84 518.2 450.90 512.9 450.96 517.3 451.02 516.5 451.08 515.9 451.14 514.9 451.20 516.3 451.26 518.2 451.32 515.8 451.38 516.2 451.44 519.3 451.50 519.0 451.56 519.9 451.62 520.6 451.68 517.7 451.74 516.7 451.80 516.4 451.86 515.2 451.92 517.6 451.98 519.9 452.04 517.6 452.10 515.2 452.16 517.3 452.22 518.6 452.28 517.7 452.34 515.5 452.40 516.6 452.46 517.2 452.52 517.4 452.58 515.0 452.64 514.6 452.70 518.1 452.76 519.6 452.82 516.9 452.88 513.1 452.94 516.1 453.00 515.7 453.06 515.6 453.12 514.6 453.18 514.6 453.24 513.8 453.30 515.3 453.36 515.1 453.42 516.9 453.48 513.0 453.54 515.4 453.60 515.5 453.66 512.7 453.72 515.5 453.78 513.0" stroke="#2b489f" stroke-width="0.9" fill="none" stroke-linejoin="round"/>
<path d="M334.4 511.2H454" stroke="#2a2a2a" stroke-width="1.0" stroke-dasharray="2.2 2.1" fill="none"/>
<path d="M436.5 487V573.4" stroke="#e3213b" stroke-width="0.95" stroke-dasharray="2.4 1.6" fill="none"/>
<text x="470.6" y="315" font-size="12.5" fill="#111" font-weight="bold" stroke="#111" stroke-width="0.45">f</text>
<text x="476" y="325.5" font-size="9" fill="#333">(i)</text>
<path d="M496.3 330.5V425.3" stroke="#808080" stroke-width="0.8" fill="none"/>
<path d="M494 330.55H496.3M494 349.5H496.3M494 368.45H496.3M494 387.4H496.3M494 406.35H496.3M494 425.3H496.3" stroke="#808080" stroke-width="0.8" fill="none"/>
<text x="491.3" y="332.95" font-size="7.5" fill="#4a4a4a" text-anchor="end" textLength="4.42" lengthAdjust="spacingAndGlyphs">5</text>
<text x="491.3" y="351.9" font-size="7.5" fill="#4a4a4a" text-anchor="end" textLength="4.42" lengthAdjust="spacingAndGlyphs">4</text>
<text x="491.3" y="370.85" font-size="7.5" fill="#4a4a4a" text-anchor="end" textLength="4.42" lengthAdjust="spacingAndGlyphs">3</text>
<text x="491.3" y="389.8" font-size="7.5" fill="#4a4a4a" text-anchor="end" textLength="4.42" lengthAdjust="spacingAndGlyphs">2</text>
<text x="491.3" y="408.75" font-size="7.5" fill="#4a4a4a" text-anchor="end" textLength="4.42" lengthAdjust="spacingAndGlyphs">1</text>
<text x="491.3" y="427.7" font-size="7.5" fill="#4a4a4a" text-anchor="end" textLength="4.42" lengthAdjust="spacingAndGlyphs">0</text>
<path d="M496.3 425.3H608.7" stroke="#808080" stroke-width="0.8" fill="none"/>
<path d="M496.2 425.3V427.6M518.7 425.3V427.6M541.2 425.3V427.6M563.7 425.3V427.6M586.2 425.3V427.6M608.7 425.3V427.6" stroke="#808080" stroke-width="0.8" fill="none"/>
<text x="496.2" y="437.6" font-size="7.5" fill="#4a4a4a" text-anchor="middle" textLength="15.69" lengthAdjust="spacingAndGlyphs">−0.2</text>
<text x="518.7" y="437.6" font-size="7.5" fill="#4a4a4a" text-anchor="middle" textLength="4.42" lengthAdjust="spacingAndGlyphs">0</text>
<text x="541.2" y="437.6" font-size="7.5" fill="#4a4a4a" text-anchor="middle" textLength="11.05" lengthAdjust="spacingAndGlyphs">0.2</text>
<text x="563.7" y="437.6" font-size="7.5" fill="#4a4a4a" text-anchor="middle" textLength="11.05" lengthAdjust="spacingAndGlyphs">0.4</text>
<text x="586.2" y="437.6" font-size="7.5" fill="#4a4a4a" text-anchor="middle" textLength="11.05" lengthAdjust="spacingAndGlyphs">0.6</text>
<text x="608.7" y="437.6" font-size="7.5" fill="#4a4a4a" text-anchor="middle" textLength="11.05" lengthAdjust="spacingAndGlyphs">0.8</text>
<text transform="translate(477.6,378) rotate(-90)" font-size="9" fill="#333" text-anchor="middle">Sleep distance <tspan font-style="italic">s</tspan> (s.d.)</text>
<text x="552.8" y="449.2" font-size="9" fill="#333" text-anchor="middle">Theta temporal coherence</text>
<text x="552.8" y="459.7" font-size="9" fill="#333" text-anchor="middle">(<tspan font-style="italic">z</tspan>-score)</text>
<defs><linearGradient id="g3" x1="0" y1="0" x2="0" y2="1"><stop offset="0.0000" stop-color="#e6e43c"/><stop offset="0.0571" stop-color="#eeda37"/><stop offset="0.1000" stop-color="#f2c832"/><stop offset="0.1427" stop-color="#f0b437"/><stop offset="0.1430" stop-color="#eca83a"/><stop offset="0.1857" stop-color="#deb034"/><stop offset="0.2286" stop-color="#beb83a"/><stop offset="0.2857" stop-color="#87ba50"/><stop offset="0.3571" stop-color="#50b06e"/><stop offset="0.4286" stop-color="#22a78e"/><stop offset="0.5143" stop-color="#16aac0"/><stop offset="0.5857" stop-color="#16a6de"/><stop offset="0.6571" stop-color="#288ed4"/><stop offset="0.7143" stop-color="#327cca"/><stop offset="0.7714" stop-color="#376cc0"/><stop offset="0.8857" stop-color="#3c5caf"/><stop offset="1.0000" stop-color="#3e4296"/></linearGradient></defs>
<rect x="615.3" y="330.3" width="6.9" height="95.2" fill="url(#g3)" stroke="#777" stroke-width="0.6"/>
<text x="624.8" y="332.8" font-size="7.5" fill="#4a4a4a">10</text>
<path d="M621 343.9H622.2" stroke="#333" stroke-width="0.6"/>
<text x="624.8" y="346.4" font-size="7.5" fill="#4a4a4a">0</text>
<path d="M621 357.5H622.2" stroke="#333" stroke-width="0.6"/>
<text x="624.8" y="360" font-size="7.5" fill="#4a4a4a">−10</text>
<path d="M621 371.1H622.2" stroke="#333" stroke-width="0.6"/>
<text x="624.8" y="373.6" font-size="7.5" fill="#4a4a4a">−20</text>
<path d="M621 384.7H622.2" stroke="#333" stroke-width="0.6"/>
<text x="624.8" y="387.2" font-size="7.5" fill="#4a4a4a">−30</text>
<path d="M621 398.3H622.2" stroke="#333" stroke-width="0.6"/>
<text x="624.8" y="400.8" font-size="7.5" fill="#4a4a4a">−40</text>
<path d="M621 411.9H622.2" stroke="#333" stroke-width="0.6"/>
<text x="624.8" y="414.4" font-size="7.5" fill="#4a4a4a">−50</text>
<text x="624.8" y="428" font-size="7.5" fill="#4a4a4a">−60</text>
<rect x="615" y="343.1" width="7.5" height="1.6" fill="#e3202e"/>
<text x="632.5" y="347" font-size="9" fill="#e8404e" textLength="46.8" lengthAdjust="spacingAndGlyphs">Sleep onset</text>
<text transform="translate(645.5,357.3) rotate(90)" font-size="9" fill="#333" textLength="41.8" lengthAdjust="spacingAndGlyphs">Time (min)</text>
<path d="M522.5 345.0h1.9v1.9h-1.9zM524.9 344.3h1.9v1.9h-1.9z" fill="#3e4296"/>
<path d="M524.1 346.1h1.9v1.9h-1.9zM525.5 341.2h1.9v1.9h-1.9z" fill="#3e4397"/>
<path d="M524.0 346.4h1.9v1.9h-1.9zM526.8 342.6h1.9v1.9h-1.9z" fill="#3e4498"/>
<path d="M523.1 344.9h1.9v1.9h-1.9zM524.5 341.1h1.9v1.9h-1.9z" fill="#3e4599"/>
<path d="M523.2 344.4h1.9v1.9h-1.9zM523.3 341.1h1.9v1.9h-1.9z" fill="#3e469a"/>
<path d="M525.9 343.8h1.9v1.9h-1.9z" fill="#3e479a"/>
<path d="M525.2 341.4h1.9v1.9h-1.9z" fill="#3e479b"/>
<path d="M525.4 341.2h1.9v1.9h-1.9z" fill="#3e489b"/>
<path d="M522.2 344.3h1.9v1.9h-1.9zM523.4 345.4h1.9v1.9h-1.9z" fill="#3e489c"/>
<path d="M524.1 343.3h1.9v1.9h-1.9zM526.4 346.1h1.9v1.9h-1.9z" fill="#3d499d"/>
<path d="M522.6 343.2h1.9v1.9h-1.9zM522.4 344.4h1.9v1.9h-1.9z" fill="#3d4a9e"/>
<path d="M526.2 341.9h1.9v1.9h-1.9z" fill="#3d4b9e"/>
<path d="M526.9 345.7h1.9v1.9h-1.9z" fill="#3d4b9f"/>
<path d="M522.8 343.6h1.9v1.9h-1.9z" fill="#3d4c9f"/>
<path d="M524.5 343.5h1.9v1.9h-1.9z" fill="#3d4ca0"/>
<path d="M524.1 343.5h1.9v1.9h-1.9z" fill="#3d4da0"/>
<path d="M527.6 344.7h1.9v1.9h-1.9z" fill="#3d4da1"/>
<path d="M526.6 345.7h1.9v1.9h-1.9z" fill="#3d4ea1"/>
<path d="M523.1 344.4h1.9v1.9h-1.9z" fill="#3d4ea2"/>
<path d="M523.8 343.5h1.9v1.9h-1.9zM527.3 344.5h1.9v1.9h-1.9z" fill="#3d4fa2"/>
<path d="M525.7 344.0h1.9v1.9h-1.9z" fill="#3d4fa3"/>
<path d="M527.3 344.2h1.9v1.9h-1.9z" fill="#3d50a3"/>
<path d="M527.1 342.8h1.9v1.9h-1.9z" fill="#3d50a4"/>
<path d="M527.3 343.8h1.9v1.9h-1.9z" fill="#3d51a4"/>
<path d="M522.6 343.9h1.9v1.9h-1.9z" fill="#3d51a5"/>
<path d="M526.9 345.3h1.9v1.9h-1.9z" fill="#3d52a5"/>
<path d="M531.0 341.3h1.9v1.9h-1.9z" fill="#3d52a6"/>
<path d="M532.1 341.1h1.9v1.9h-1.9z" fill="#3d53a6"/>
<path d="M530.4 340.7h1.9v1.9h-1.9z" fill="#3d53a7"/>
<path d="M527.1 343.7h1.9v1.9h-1.9z" fill="#3d54a7"/>
<path d="M530.9 339.8h1.9v1.9h-1.9z" fill="#3d54a8"/>
<path d="M529.4 339.6h1.9v1.9h-1.9zM527.7 342.4h1.9v1.9h-1.9z" fill="#3d55a8"/>
<path d="M527.0 341.9h1.9v1.9h-1.9zM529.2 341.9h1.9v1.9h-1.9z" fill="#3c56a9"/>
<path d="M533.0 341.5h1.9v1.9h-1.9zM529.2 340.6h1.9v1.9h-1.9z" fill="#3c57aa"/>
<path d="M530.8 340.8h1.9v1.9h-1.9zM531.0 342.2h1.9v1.9h-1.9z" fill="#3c58ab"/>
<path d="M530.3 339.1h1.9v1.9h-1.9zM532.6 341.2h1.9v1.9h-1.9z" fill="#3c59ac"/>
<path d="M528.6 343.9h1.9v1.9h-1.9zM529.3 341.2h1.9v1.9h-1.9z" fill="#3c5aad"/>
<path d="M532.1 343.1h1.9v1.9h-1.9zM529.0 342.6h1.9v1.9h-1.9z" fill="#3c5bae"/>
<path d="M528.5 341.8h1.9v1.9h-1.9zM529.1 341.1h1.9v1.9h-1.9zM532.7 341.4h1.9v1.9h-1.9z" fill="#3c5caf"/>
<path d="M529.9 343.0h1.9v1.9h-1.9zM529.1 340.4h1.9v1.9h-1.9zM531.6 339.9h1.9v1.9h-1.9z" fill="#3c5db0"/>
<path d="M530.3 340.1h1.9v1.9h-1.9z" fill="#3c5eb1"/>
<path d="M530.8 339.2h1.9v1.9h-1.9zM530.9 340.7h1.9v1.9h-1.9z" fill="#3b5eb1"/>
<path d="M529.9 342.7h1.9v1.9h-1.9z" fill="#3b5eb2"/>
<path d="M530.1 344.1h1.9v1.9h-1.9zM528.7 343.8h1.9v1.9h-1.9z" fill="#3b5fb2"/>
<path d="M531.7 340.5h1.9v1.9h-1.9z" fill="#3b5fb3"/>
<path d="M528.6 342.3h1.9v1.9h-1.9zM528.1 340.3h1.9v1.9h-1.9zM531.2 343.7h1.9v1.9h-1.9z" fill="#3b60b3"/>
<path d="M526.9 340.1h1.9v1.9h-1.9z" fill="#3b60b4"/>
<path d="M530.8 342.0h1.9v1.9h-1.9zM528.9 342.9h1.9v1.9h-1.9z" fill="#3a61b4"/>
<path d="M530.4 342.3h1.9v1.9h-1.9z" fill="#3a61b5"/>
<path d="M527.3 340.9h1.9v1.9h-1.9zM533.4 344.4h1.9v1.9h-1.9z" fill="#3a62b5"/>
<path d="M533.2 345.5h1.9v1.9h-1.9z" fill="#3a62b6"/>
<path d="M530.5 343.4h1.9v1.9h-1.9z" fill="#3a63b6"/>
<path d="M531.5 341.0h1.9v1.9h-1.9z" fill="#3a63b7"/>
<path d="M531.8 344.3h1.9v1.9h-1.9z" fill="#3a64b7"/>
<path d="M531.2 341.0h1.9v1.9h-1.9z" fill="#3a64b8"/>
<path d="M532.4 345.9h1.9v1.9h-1.9z" fill="#3964b8"/>
<path d="M532.1 345.2h1.9v1.9h-1.9z" fill="#3965b8"/>
<path d="M531.7 344.2h1.9v1.9h-1.9z" fill="#3965b9"/>
<path d="M532.2 345.9h1.9v1.9h-1.9z" fill="#3966b9"/>
<path d="M532.6 341.1h1.9v1.9h-1.9zM534.1 342.4h1.9v1.9h-1.9z" fill="#3966ba"/>
<path d="M532.2 342.1h1.9v1.9h-1.9z" fill="#3967ba"/>
<path d="M534.5 344.1h1.9v1.9h-1.9z" fill="#3867bb"/>
<path d="M533.4 343.7h1.9v1.9h-1.9z" fill="#3868bb"/>
<path d="M533.7 344.9h1.9v1.9h-1.9zM533.9 346.0h1.9v1.9h-1.9z" fill="#3868bc"/>
<path d="M530.8 342.6h1.9v1.9h-1.9zM534.4 342.1h1.9v1.9h-1.9z" fill="#3869bd"/>
<path d="M534.3 343.2h1.9v1.9h-1.9z" fill="#386abd"/>
<path d="M534.3 341.4h1.9v1.9h-1.9zM530.8 341.5h1.9v1.9h-1.9z" fill="#386abe"/>
<path d="M532.7 342.5h1.9v1.9h-1.9zM533.6 341.0h1.9v1.9h-1.9z" fill="#376bbf"/>
<path d="M532.4 341.9h1.9v1.9h-1.9zM531.4 345.1h1.9v1.9h-1.9z" fill="#376cc0"/>
<path d="M532.3 345.1h1.9v1.9h-1.9z" fill="#376dc0"/>
<path d="M534.3 342.2h1.9v1.9h-1.9z" fill="#366ec1"/>
<path d="M534.0 343.7h1.9v1.9h-1.9z" fill="#366ec2"/>
<path d="M530.4 343.7h1.9v1.9h-1.9z" fill="#366fc2"/>
<path d="M538.6 347.4h1.9v1.9h-1.9z" fill="#3670c2"/>
<path d="M540.1 346.3h1.9v1.9h-1.9z" fill="#3671c3"/>
<path d="M538.5 346.8h1.9v1.9h-1.9z" fill="#3571c3"/>
<path d="M538.7 347.2h1.9v1.9h-1.9z" fill="#3572c4"/>
<path d="M538.9 345.7h1.9v1.9h-1.9z" fill="#3573c4"/>
<path d="M541.2 345.4h1.9v1.9h-1.9z" fill="#3573c5"/>
<path d="M536.7 343.6h1.9v1.9h-1.9z" fill="#3474c5"/>
<path d="M537.9 342.4h1.9v1.9h-1.9z" fill="#3475c5"/>
<path d="M537.0 347.4h1.9v1.9h-1.9z" fill="#3475c6"/>
<path d="M537.8 343.8h1.9v1.9h-1.9z" fill="#3476c6"/>
<path d="M539.9 346.9h1.9v1.9h-1.9z" fill="#3477c7"/>
<path d="M534.9 343.4h1.9v1.9h-1.9z" fill="#3377c7"/>
<path d="M538.5 346.2h1.9v1.9h-1.9z" fill="#3378c8"/>
<path d="M539.9 344.5h1.9v1.9h-1.9zM540.0 346.7h1.9v1.9h-1.9z" fill="#3379c8"/>
<path d="M537.6 343.4h1.9v1.9h-1.9z" fill="#337ac9"/>
<path d="M540.3 343.6h1.9v1.9h-1.9z" fill="#327bc9"/>
<path d="M539.7 344.0h1.9v1.9h-1.9z" fill="#327bca"/>
<path d="M540.9 344.2h1.9v1.9h-1.9z" fill="#327cca"/>
<path d="M540.8 343.0h1.9v1.9h-1.9z" fill="#327dca"/>
<path d="M538.3 343.2h1.9v1.9h-1.9zM537.2 343.0h1.9v1.9h-1.9z" fill="#317ecb"/>
<path d="M537.8 347.0h1.9v1.9h-1.9z" fill="#307fcc"/>
<path d="M539.8 341.4h1.9v1.9h-1.9zM536.6 345.9h1.9v1.9h-1.9z" fill="#3080cc"/>
<path d="M539.6 345.7h1.9v1.9h-1.9z" fill="#2f81cd"/>
<path d="M536.1 342.8h1.9v1.9h-1.9z" fill="#2f82cd"/>
<path d="M536.1 341.9h1.9v1.9h-1.9z" fill="#2e83ce"/>
<path d="M537.1 342.9h1.9v1.9h-1.9z" fill="#2e84ce"/>
<path d="M534.7 345.2h1.9v1.9h-1.9z" fill="#2d84cf"/>
<path d="M535.9 343.4h1.9v1.9h-1.9z" fill="#2d85cf"/>
<path d="M535.2 345.5h1.9v1.9h-1.9z" fill="#2d86cf"/>
<path d="M539.3 347.0h1.9v1.9h-1.9z" fill="#2c86d0"/>
<path d="M536.2 347.1h1.9v1.9h-1.9z" fill="#2c87d0"/>
<path d="M536.4 343.5h1.9v1.9h-1.9z" fill="#2b88d1"/>
<path d="M536.3 346.2h1.9v1.9h-1.9z" fill="#2b89d1"/>
<path d="M539.4 346.5h1.9v1.9h-1.9zM535.6 341.9h1.9v1.9h-1.9z" fill="#2a8ad2"/>
<path d="M534.8 344.2h1.9v1.9h-1.9z" fill="#2a8bd2"/>
<path d="M538.9 343.1h1.9v1.9h-1.9zM539.8 341.5h1.9v1.9h-1.9z" fill="#298cd3"/>
<path d="M537.5 344.8h1.9v1.9h-1.9z" fill="#288dd4"/>
<path d="M535.9 344.4h1.9v1.9h-1.9z" fill="#288ed4"/>
<path d="M539.2 342.1h1.9v1.9h-1.9z" fill="#278fd4"/>
<path d="M540.0 346.3h1.9v1.9h-1.9z" fill="#2790d5"/>
<path d="M541.1 343.4h1.9v1.9h-1.9z" fill="#2690d5"/>
<path d="M539.3 344.8h1.9v1.9h-1.9z" fill="#2691d5"/>
<path d="M535.1 344.7h1.9v1.9h-1.9z" fill="#2592d6"/>
<path d="M536.0 344.0h1.9v1.9h-1.9z" fill="#2493d6"/>
<path d="M540.7 344.7h1.9v1.9h-1.9z" fill="#2494d6"/>
<path d="M535.9 346.8h1.9v1.9h-1.9z" fill="#2394d7"/>
<path d="M539.3 344.5h1.9v1.9h-1.9z" fill="#2395d7"/>
<path d="M538.6 345.4h1.9v1.9h-1.9z" fill="#2296d7"/>
<path d="M537.0 341.3h1.9v1.9h-1.9z" fill="#2197d8"/>
<path d="M538.8 346.5h1.9v1.9h-1.9z" fill="#2198d8"/>
<path d="M540.7 343.0h1.9v1.9h-1.9z" fill="#2098d8"/>
<path d="M540.0 341.9h1.9v1.9h-1.9z" fill="#2099d9"/>
<path d="M539.3 342.6h1.9v1.9h-1.9z" fill="#1f9ad9"/>
<path d="M538.9 341.2h1.9v1.9h-1.9z" fill="#1e9bd9"/>
<path d="M539.2 343.0h1.9v1.9h-1.9z" fill="#1e9cda"/>
<path d="M542.8 347.1h1.9v1.9h-1.9z" fill="#1d9cda"/>
<path d="M540.1 345.4h1.9v1.9h-1.9zM540.4 350.5h1.9v1.9h-1.9z" fill="#1d9dda"/>
<path d="M542.1 347.8h1.9v1.9h-1.9zM542.1 341.9h1.9v1.9h-1.9z" fill="#1c9edb"/>
<path d="M538.6 348.2h1.9v1.9h-1.9zM541.5 344.3h1.9v1.9h-1.9z" fill="#1b9fdb"/>
<path d="M542.3 345.9h1.9v1.9h-1.9z" fill="#1ba0db"/>
<path d="M545.5 344.5h1.9v1.9h-1.9z" fill="#1aa0dc"/>
<path d="M540.5 346.2h1.9v1.9h-1.9zM543.8 345.9h1.9v1.9h-1.9z" fill="#1aa1dc"/>
<path d="M543.3 345.6h1.9v1.9h-1.9zM542.0 345.5h1.9v1.9h-1.9z" fill="#19a2dc"/>
<path d="M541.6 347.6h1.9v1.9h-1.9z" fill="#19a2dd"/>
<path d="M541.7 347.9h1.9v1.9h-1.9zM539.7 342.0h1.9v1.9h-1.9z" fill="#18a3dd"/>
<path d="M547.8 343.9h1.9v1.9h-1.9z" fill="#18a4dd"/>
<path d="M544.6 346.5h1.9v1.9h-1.9z" fill="#17a4dd"/>
<path d="M544.9 350.6h1.9v1.9h-1.9z" fill="#17a5dd"/>
<path d="M543.7 347.8h1.9v1.9h-1.9z" fill="#17a5de"/>
<path d="M542.9 347.5h1.9v1.9h-1.9zM541.2 349.1h1.9v1.9h-1.9z" fill="#16a6de"/>
<path d="M544.0 344.7h1.9v1.9h-1.9zM543.8 346.4h1.9v1.9h-1.9z" fill="#16a6dd"/>
<path d="M546.6 343.9h1.9v1.9h-1.9z" fill="#16a6dc"/>
<path d="M542.8 348.0h1.9v1.9h-1.9zM543.6 346.7h1.9v1.9h-1.9z" fill="#16a6db"/>
<path d="M545.7 345.2h1.9v1.9h-1.9z" fill="#16a6da"/>
<path d="M545.5 343.9h1.9v1.9h-1.9z" fill="#16a7da"/>
<path d="M542.4 347.2h1.9v1.9h-1.9zM543.6 345.4h1.9v1.9h-1.9z" fill="#16a7d9"/>
<path d="M543.6 347.2h1.9v1.9h-1.9zM544.8 347.1h1.9v1.9h-1.9z" fill="#16a7d8"/>
<path d="M546.7 350.8h1.9v1.9h-1.9zM545.1 349.6h1.9v1.9h-1.9z" fill="#16a7d7"/>
<path d="M545.3 345.2h1.9v1.9h-1.9zM546.8 346.6h1.9v1.9h-1.9z" fill="#16a7d6"/>
<path d="M549.5 345.5h1.9v1.9h-1.9z" fill="#16a7d5"/>
<path d="M547.1 348.9h1.9v1.9h-1.9zM547.7 351.2h1.9v1.9h-1.9z" fill="#16a7d4"/>
<path d="M544.8 347.7h1.9v1.9h-1.9z" fill="#16a7d3"/>
<path d="M547.3 350.4h1.9v1.9h-1.9z" fill="#16a8d3"/>
<path d="M544.3 344.5h1.9v1.9h-1.9z" fill="#16a8d2"/>
<path d="M546.7 348.4h1.9v1.9h-1.9zM546.5 346.5h1.9v1.9h-1.9z" fill="#16a8d1"/>
<path d="M547.1 348.6h1.9v1.9h-1.9zM549.6 346.9h1.9v1.9h-1.9z" fill="#16a8d0"/>
<path d="M545.9 348.9h1.9v1.9h-1.9z" fill="#16a8cf"/>
<path d="M546.7 351.5h1.9v1.9h-1.9zM548.1 349.1h1.9v1.9h-1.9z" fill="#16a8ce"/>
<path d="M546.7 348.9h1.9v1.9h-1.9zM547.7 347.0h1.9v1.9h-1.9z" fill="#16a8cd"/>
<path d="M549.3 348.0h1.9v1.9h-1.9z" fill="#16a8cc"/>
<path d="M550.5 348.1h1.9v1.9h-1.9z" fill="#16a8cb"/>
<path d="M550.7 348.4h1.9v1.9h-1.9z" fill="#16a9cb"/>
<path d="M548.4 350.3h1.9v1.9h-1.9zM549.2 347.5h1.9v1.9h-1.9z" fill="#16a9ca"/>
<path d="M548.5 349.5h1.9v1.9h-1.9z" fill="#16a9c9"/>
<path d="M547.5 345.1h1.9v1.9h-1.9zM549.2 347.2h1.9v1.9h-1.9z" fill="#16a9c8"/>
<path d="M549.2 349.2h1.9v1.9h-1.9zM553.9 349.0h1.9v1.9h-1.9z" fill="#16a9c7"/>
<path d="M549.7 346.1h1.9v1.9h-1.9zM549.1 346.3h1.9v1.9h-1.9z" fill="#16a9c6"/>
<path d="M547.9 347.7h1.9v1.9h-1.9zM552.3 348.4h1.9v1.9h-1.9z" fill="#16a9c5"/>
<path d="M551.1 347.6h1.9v1.9h-1.9z" fill="#16a9c4"/>
<path d="M551.2 347.7h1.9v1.9h-1.9zM549.0 349.2h1.9v1.9h-1.9z" fill="#16aac3"/>
<path d="M550.9 347.8h1.9v1.9h-1.9zM549.0 350.5h1.9v1.9h-1.9z" fill="#16aac2"/>
<path d="M554.2 346.2h1.9v1.9h-1.9z" fill="#16aac1"/>
<path d="M549.8 346.1h1.9v1.9h-1.9zM553.4 350.2h1.9v1.9h-1.9z" fill="#16aac0"/>
<path d="M551.3 345.3h1.9v1.9h-1.9z" fill="#16aabf"/>
<path d="M550.5 348.6h1.9v1.9h-1.9z" fill="#17aabe"/>
<path d="M552.8 346.8h1.9v1.9h-1.9z" fill="#17aabd"/>
<path d="M551.1 345.2h1.9v1.9h-1.9z" fill="#17aabc"/>
<path d="M553.2 348.3h1.9v1.9h-1.9z" fill="#17aabb"/>
<path d="M554.7 346.2h1.9v1.9h-1.9z" fill="#17aaba"/>
<path d="M554.7 346.1h1.9v1.9h-1.9zM553.2 351.2h1.9v1.9h-1.9z" fill="#18aab9"/>
<path d="M556.5 346.9h1.9v1.9h-1.9z" fill="#18aab8"/>
<path d="M557.9 345.8h1.9v1.9h-1.9z" fill="#18a9b7"/>
<path d="M553.4 344.0h1.9v1.9h-1.9z" fill="#18a9b6"/>
<path d="M553.5 348.2h1.9v1.9h-1.9z" fill="#19a9b5"/>
<path d="M556.9 350.1h1.9v1.9h-1.9z" fill="#19a9b4"/>
<path d="M555.3 349.7h1.9v1.9h-1.9z" fill="#19a9b3"/>
<path d="M551.9 348.8h1.9v1.9h-1.9zM554.3 347.3h1.9v1.9h-1.9z" fill="#19a9b2"/>
<path d="M554.7 346.3h1.9v1.9h-1.9z" fill="#1aa9b1"/>
<path d="M556.3 346.0h1.9v1.9h-1.9z" fill="#1aa9b0"/>
<path d="M555.8 347.3h1.9v1.9h-1.9z" fill="#1aa9af"/>
<path d="M556.2 349.6h1.9v1.9h-1.9z" fill="#1aa9ae"/>
<path d="M559.2 344.1h1.9v1.9h-1.9z" fill="#1ba9ad"/>
<path d="M558.0 345.5h1.9v1.9h-1.9z" fill="#1ba9ac"/>
<path d="M556.2 348.9h1.9v1.9h-1.9zM553.0 347.9h1.9v1.9h-1.9z" fill="#1ba9ab"/>
<path d="M556.1 346.1h1.9v1.9h-1.9z" fill="#1ba9aa"/>
<path d="M556.8 345.2h1.9v1.9h-1.9z" fill="#1ca9a9"/>
<path d="M554.8 345.8h1.9v1.9h-1.9z" fill="#1ca9a8"/>
<path d="M555.6 348.1h1.9v1.9h-1.9zM555.6 347.7h1.9v1.9h-1.9z" fill="#1ca8a7"/>
<path d="M554.8 347.4h1.9v1.9h-1.9z" fill="#1ca8a6"/>
<path d="M560.8 349.4h1.9v1.9h-1.9z" fill="#1ca8a5"/>
<path d="M557.6 350.3h1.9v1.9h-1.9z" fill="#1da8a4"/>
<path d="M552.2 346.0h1.9v1.9h-1.9zM554.7 344.0h1.9v1.9h-1.9z" fill="#1da8a3"/>
<path d="M555.3 344.4h1.9v1.9h-1.9z" fill="#1da8a2"/>
<path d="M556.5 346.4h1.9v1.9h-1.9z" fill="#1da8a1"/>
<path d="M560.6 348.0h1.9v1.9h-1.9z" fill="#1ea8a0"/>
<path d="M558.0 345.6h1.9v1.9h-1.9z" fill="#1ea89f"/>
<path d="M558.1 351.7h1.9v1.9h-1.9z" fill="#1ea89e"/>
<path d="M556.0 349.9h1.9v1.9h-1.9z" fill="#1ea89d"/>
<path d="M559.9 347.2h1.9v1.9h-1.9zM565.1 348.0h1.9v1.9h-1.9z" fill="#1fa89c"/>
<path d="M558.3 347.9h1.9v1.9h-1.9z" fill="#1fa89b"/>
<path d="M561.7 348.8h1.9v1.9h-1.9z" fill="#1fa89a"/>
<path d="M560.6 346.7h1.9v1.9h-1.9z" fill="#1fa899"/>
<path d="M558.2 347.9h1.9v1.9h-1.9z" fill="#20a898"/>
<path d="M561.7 346.4h1.9v1.9h-1.9z" fill="#20a897"/>
<path d="M558.2 345.0h1.9v1.9h-1.9z" fill="#20a896"/>
<path d="M557.8 346.9h1.9v1.9h-1.9zM558.2 349.4h1.9v1.9h-1.9z" fill="#20a795"/>
<path d="M557.6 346.0h1.9v1.9h-1.9z" fill="#21a794"/>
<path d="M562.8 348.4h1.9v1.9h-1.9z" fill="#21a793"/>
<path d="M561.5 347.0h1.9v1.9h-1.9z" fill="#21a792"/>
<path d="M560.9 348.4h1.9v1.9h-1.9z" fill="#21a791"/>
<path d="M563.2 348.0h1.9v1.9h-1.9z" fill="#21a790"/>
<path d="M562.3 345.5h1.9v1.9h-1.9z" fill="#22a78f"/>
<path d="M563.2 351.5h1.9v1.9h-1.9zM561.1 348.7h1.9v1.9h-1.9z" fill="#22a78e"/>
<path d="M561.0 349.1h1.9v1.9h-1.9z" fill="#23a78d"/>
<path d="M563.4 345.0h1.9v1.9h-1.9z" fill="#24a78c"/>
<path d="M562.1 347.8h1.9v1.9h-1.9z" fill="#25a88c"/>
<path d="M561.8 349.1h1.9v1.9h-1.9z" fill="#26a88b"/>
<path d="M562.0 345.9h1.9v1.9h-1.9z" fill="#27a88a"/>
<path d="M566.8 348.9h1.9v1.9h-1.9z" fill="#28a88a"/>
<path d="M566.3 349.3h1.9v1.9h-1.9z" fill="#29a889"/>
<path d="M563.9 350.3h1.9v1.9h-1.9z" fill="#2aa988"/>
<path d="M565.0 347.9h1.9v1.9h-1.9zM563.9 347.7h1.9v1.9h-1.9z" fill="#2ba988"/>
<path d="M565.4 346.8h1.9v1.9h-1.9z" fill="#2ca987"/>
<path d="M564.0 349.4h1.9v1.9h-1.9z" fill="#2ea986"/>
<path d="M564.2 349.3h1.9v1.9h-1.9z" fill="#2faa85"/>
<path d="M562.1 345.5h1.9v1.9h-1.9z" fill="#30aa84"/>
<path d="M567.3 348.2h1.9v1.9h-1.9z" fill="#32aa83"/>
<path d="M564.3 349.6h1.9v1.9h-1.9z" fill="#33aa82"/>
<path d="M566.1 350.8h1.9v1.9h-1.9z" fill="#34ab81"/>
<path d="M566.7 348.5h1.9v1.9h-1.9z" fill="#35ab81"/>
<path d="M565.1 348.8h1.9v1.9h-1.9z" fill="#37ab80"/>
<path d="M562.3 349.2h1.9v1.9h-1.9z" fill="#38ab7f"/>
<path d="M565.3 347.7h1.9v1.9h-1.9z" fill="#39ac7e"/>
<path d="M562.7 349.4h1.9v1.9h-1.9z" fill="#3aac7d"/>
<path d="M565.1 349.4h1.9v1.9h-1.9z" fill="#3cac7c"/>
<path d="M568.6 349.7h1.9v1.9h-1.9z" fill="#3dac7b"/>
<path d="M565.9 347.6h1.9v1.9h-1.9z" fill="#3ead7a"/>
<path d="M566.1 351.9h1.9v1.9h-1.9z" fill="#40ad79"/>
<path d="M567.8 349.1h1.9v1.9h-1.9z" fill="#41ad79"/>
<path d="M568.4 354.0h1.9v1.9h-1.9z" fill="#42ad78"/>
<path d="M564.8 350.3h1.9v1.9h-1.9z" fill="#43ae77"/>
<path d="M564.1 353.5h1.9v1.9h-1.9z" fill="#45ae76"/>
<path d="M564.6 351.3h1.9v1.9h-1.9z" fill="#46ae75"/>
<path d="M568.1 353.1h1.9v1.9h-1.9z" fill="#47ae74"/>
<path d="M567.7 350.5h1.9v1.9h-1.9z" fill="#48af73"/>
<path d="M565.3 349.3h1.9v1.9h-1.9z" fill="#4aaf72"/>
<path d="M567.9 352.9h1.9v1.9h-1.9z" fill="#4baf72"/>
<path d="M565.3 352.9h1.9v1.9h-1.9z" fill="#4caf71"/>
<path d="M567.7 348.7h1.9v1.9h-1.9z" fill="#4db070"/>
<path d="M569.4 352.4h1.9v1.9h-1.9z" fill="#4fb06f"/>
<path d="M570.6 353.0h1.9v1.9h-1.9zM567.9 352.5h1.9v1.9h-1.9z" fill="#50b06e"/>
<path d="M569.1 352.1h1.9v1.9h-1.9z" fill="#52b06d"/>
<path d="M568.7 350.3h1.9v1.9h-1.9z" fill="#53b16c"/>
<path d="M569.3 352.8h1.9v1.9h-1.9z" fill="#55b16b"/>
<path d="M567.6 352.1h1.9v1.9h-1.9z" fill="#56b16b"/>
<path d="M568.4 350.0h1.9v1.9h-1.9z" fill="#58b16a"/>
<path d="M569.4 353.1h1.9v1.9h-1.9z" fill="#59b269"/>
<path d="M571.7 351.0h1.9v1.9h-1.9z" fill="#5bb268"/>
<path d="M569.3 350.8h1.9v1.9h-1.9z" fill="#5db267"/>
<path d="M571.3 352.7h1.9v1.9h-1.9z" fill="#5eb366"/>
<path d="M571.6 355.1h1.9v1.9h-1.9z" fill="#60b365"/>
<path d="M570.5 352.1h1.9v1.9h-1.9z" fill="#61b365"/>
<path d="M573.0 352.7h1.9v1.9h-1.9z" fill="#63b364"/>
<path d="M570.4 354.5h1.9v1.9h-1.9z" fill="#64b463"/>
<path d="M573.1 350.7h1.9v1.9h-1.9z" fill="#66b462"/>
<path d="M570.0 353.5h1.9v1.9h-1.9z" fill="#68b461"/>
<path d="M573.8 354.6h1.9v1.9h-1.9z" fill="#69b560"/>
<path d="M570.7 353.4h1.9v1.9h-1.9z" fill="#6bb55f"/>
<path d="M570.6 355.8h1.9v1.9h-1.9z" fill="#6cb55f"/>
<path d="M576.6 352.1h1.9v1.9h-1.9z" fill="#6eb55e"/>
<path d="M572.4 351.8h1.9v1.9h-1.9z" fill="#6fb65d"/>
<path d="M573.9 353.2h1.9v1.9h-1.9z" fill="#71b65c"/>
<path d="M573.6 352.9h1.9v1.9h-1.9z" fill="#73b65b"/>
<path d="M573.7 350.7h1.9v1.9h-1.9z" fill="#74b75a"/>
<path d="M574.3 350.9h1.9v1.9h-1.9z" fill="#76b759"/>
<path d="M574.8 356.2h1.9v1.9h-1.9z" fill="#77b759"/>
<path d="M574.6 355.6h1.9v1.9h-1.9z" fill="#79b758"/>
<path d="M576.9 354.6h1.9v1.9h-1.9z" fill="#7ab857"/>
<path d="M572.8 352.7h1.9v1.9h-1.9zM575.2 351.4h1.9v1.9h-1.9z" fill="#7cb856"/>
<path d="M574.0 353.3h1.9v1.9h-1.9z" fill="#7db855"/>
<path d="M574.5 354.0h1.9v1.9h-1.9z" fill="#7eb855"/>
<path d="M573.4 355.9h1.9v1.9h-1.9z" fill="#7fb954"/>
<path d="M576.6 352.0h1.9v1.9h-1.9z" fill="#80b954"/>
<path d="M575.7 354.4h1.9v1.9h-1.9z" fill="#81b953"/>
<path d="M572.8 353.9h1.9v1.9h-1.9z" fill="#82b953"/>
<path d="M576.3 353.3h1.9v1.9h-1.9z" fill="#83b952"/>
<path d="M576.1 355.3h1.9v1.9h-1.9z" fill="#84b952"/>
<path d="M575.9 353.8h1.9v1.9h-1.9z" fill="#85ba51"/>
<path d="M576.3 353.0h1.9v1.9h-1.9z" fill="#86ba51"/>
<path d="M576.2 355.0h1.9v1.9h-1.9z" fill="#87ba50"/>
<path d="M577.0 352.4h1.9v1.9h-1.9z" fill="#88ba50"/>
<path d="M577.0 354.2h1.9v1.9h-1.9z" fill="#89ba4f"/>
<path d="M577.8 354.3h1.9v1.9h-1.9z" fill="#8aba4f"/>
<path d="M577.2 352.9h1.9v1.9h-1.9z" fill="#8cba4e"/>
<path d="M578.4 353.7h1.9v1.9h-1.9z" fill="#8dba4e"/>
<path d="M579.3 352.8h1.9v1.9h-1.9z" fill="#8eba4d"/>
<path d="M578.3 355.7h1.9v1.9h-1.9z" fill="#8fba4d"/>
<path d="M576.9 352.4h1.9v1.9h-1.9z" fill="#91ba4c"/>
<path d="M579.4 356.8h1.9v1.9h-1.9z" fill="#92ba4c"/>
<path d="M578.5 353.4h1.9v1.9h-1.9z" fill="#93ba4b"/>
<path d="M579.5 351.9h1.9v1.9h-1.9z" fill="#94ba4b"/>
<path d="M580.5 354.2h1.9v1.9h-1.9z" fill="#95b94a"/>
<path d="M579.3 351.6h1.9v1.9h-1.9z" fill="#97b94a"/>
<path d="M581.9 354.5h1.9v1.9h-1.9z" fill="#98b949"/>
<path d="M581.3 354.8h1.9v1.9h-1.9z" fill="#99b949"/>
<path d="M580.2 353.8h1.9v1.9h-1.9z" fill="#9ab948"/>
<path d="M580.4 356.7h1.9v1.9h-1.9zM579.6 354.8h1.9v1.9h-1.9z" fill="#9cb948"/>
<path d="M579.3 354.9h1.9v1.9h-1.9z" fill="#9cb947"/>
<path d="M578.7 352.7h1.9v1.9h-1.9z" fill="#9db947"/>
<path d="M582.2 354.2h1.9v1.9h-1.9z" fill="#9eb947"/>
<path d="M582.1 353.3h1.9v1.9h-1.9z" fill="#9fb946"/>
<path d="M581.5 354.8h1.9v1.9h-1.9z" fill="#a0b946"/>
<path d="M583.6 354.3h1.9v1.9h-1.9z" fill="#a1b946"/>
<path d="M582.3 353.5h1.9v1.9h-1.9zM580.1 354.4h1.9v1.9h-1.9z" fill="#a2b945"/>
<path d="M582.6 355.3h1.9v1.9h-1.9z" fill="#a3b945"/>
<path d="M581.5 353.6h1.9v1.9h-1.9z" fill="#a4b944"/>
<path d="M581.2 353.1h1.9v1.9h-1.9z" fill="#a5b944"/>
<path d="M582.6 353.4h1.9v1.9h-1.9z" fill="#a6b944"/>
<path d="M581.1 353.6h1.9v1.9h-1.9z" fill="#a7b943"/>
<path d="M581.2 354.4h1.9v1.9h-1.9z" fill="#a8b943"/>
<path d="M582.2 355.2h1.9v1.9h-1.9z" fill="#a9b943"/>
<path d="M581.8 356.5h1.9v1.9h-1.9z" fill="#a9b942"/>
<path d="M581.0 358.7h1.9v1.9h-1.9z" fill="#aab942"/>
<path d="M586.3 356.0h1.9v1.9h-1.9z" fill="#abb942"/>
<path d="M586.1 355.4h1.9v1.9h-1.9z" fill="#acb941"/>
<path d="M583.0 357.9h1.9v1.9h-1.9z" fill="#adb941"/>
<path d="M587.0 358.7h1.9v1.9h-1.9z" fill="#aeb941"/>
<path d="M586.0 356.1h1.9v1.9h-1.9zM586.6 356.7h1.9v1.9h-1.9z" fill="#afb940"/>
<path d="M586.7 357.3h1.9v1.9h-1.9zM587.5 356.3h1.9v1.9h-1.9z" fill="#b0b840"/>
<path d="M587.8 353.9h1.9v1.9h-1.9z" fill="#b1b83f"/>
<path d="M586.3 359.5h1.9v1.9h-1.9zM587.3 355.2h1.9v1.9h-1.9z" fill="#b2b83f"/>
<path d="M587.3 354.1h1.9v1.9h-1.9z" fill="#b3b83e"/>
<path d="M586.3 360.3h1.9v1.9h-1.9z" fill="#b4b83e"/>
<path d="M588.9 357.2h1.9v1.9h-1.9z" fill="#b5b83e"/>
<path d="M587.1 357.7h1.9v1.9h-1.9z" fill="#b5b83d"/>
<path d="M589.6 357.1h1.9v1.9h-1.9z" fill="#b6b83d"/>
<path d="M589.6 356.7h1.9v1.9h-1.9zM590.5 356.4h1.9v1.9h-1.9z" fill="#b7b83d"/>
<path d="M587.6 355.4h1.9v1.9h-1.9z" fill="#b8b83c"/>
<path d="M588.9 358.4h1.9v1.9h-1.9z" fill="#b9b83c"/>
<path d="M591.1 357.9h1.9v1.9h-1.9z" fill="#bab83c"/>
<path d="M589.3 357.5h1.9v1.9h-1.9z" fill="#bab83b"/>
<path d="M589.5 358.1h1.9v1.9h-1.9z" fill="#bbb83b"/>
<path d="M590.5 360.3h1.9v1.9h-1.9z" fill="#bcb83b"/>
<path d="M593.7 356.5h1.9v1.9h-1.9z" fill="#bdb83b"/>
<path d="M592.4 359.4h1.9v1.9h-1.9z" fill="#bdb83a"/>
<path d="M590.0 358.7h1.9v1.9h-1.9zM589.9 356.7h1.9v1.9h-1.9zM590.4 357.9h1.9v1.9h-1.9z" fill="#beb83a"/>
<path d="M590.6 357.2h1.9v1.9h-1.9zM590.9 358.9h1.9v1.9h-1.9z" fill="#bfb83a"/>
<path d="M590.4 358.2h1.9v1.9h-1.9z" fill="#c0b83a"/>
<path d="M590.8 358.5h1.9v1.9h-1.9z" fill="#c0b73a"/>
<path d="M589.7 358.4h1.9v1.9h-1.9zM585.7 360.6h1.9v1.9h-1.9z" fill="#c1b739"/>
<path d="M587.8 359.4h1.9v1.9h-1.9zM589.4 358.4h1.9v1.9h-1.9z" fill="#c2b739"/>
<path d="M587.8 359.8h1.9v1.9h-1.9zM587.1 362.7h1.9v1.9h-1.9z" fill="#c3b739"/>
<path d="M588.0 357.4h1.9v1.9h-1.9z" fill="#c4b739"/>
<path d="M588.3 360.5h1.9v1.9h-1.9zM588.6 359.4h1.9v1.9h-1.9z" fill="#c4b639"/>
<path d="M585.1 360.0h1.9v1.9h-1.9zM587.5 358.8h1.9v1.9h-1.9z" fill="#c5b639"/>
<path d="M586.6 358.9h1.9v1.9h-1.9z" fill="#c6b639"/>
<path d="M587.9 361.2h1.9v1.9h-1.9z" fill="#c6b638"/>
<path d="M586.2 360.0h1.9v1.9h-1.9zM584.9 361.4h1.9v1.9h-1.9z" fill="#c7b638"/>
<path d="M585.2 360.4h1.9v1.9h-1.9z" fill="#c8b638"/>
<path d="M586.1 360.0h1.9v1.9h-1.9z" fill="#c8b538"/>
<path d="M584.6 359.2h1.9v1.9h-1.9zM585.0 359.0h1.9v1.9h-1.9zM586.0 359.8h1.9v1.9h-1.9z" fill="#c9b538"/>
<path d="M586.3 361.7h1.9v1.9h-1.9zM584.6 361.3h1.9v1.9h-1.9z" fill="#cab538"/>
<path d="M584.4 361.9h1.9v1.9h-1.9z" fill="#cbb538"/>
<path d="M584.9 362.7h1.9v1.9h-1.9z" fill="#cbb537"/>
<path d="M587.7 359.3h1.9v1.9h-1.9z" fill="#ccb437"/>
<path d="M586.8 363.6h1.9v1.9h-1.9zM584.1 362.1h1.9v1.9h-1.9z" fill="#cdb437"/>
<path d="M585.8 363.3h1.9v1.9h-1.9zM586.4 364.2h1.9v1.9h-1.9z" fill="#ceb437"/>
<path d="M585.5 362.7h1.9v1.9h-1.9zM585.1 363.3h1.9v1.9h-1.9z" fill="#cfb437"/>
<path d="M586.7 364.7h1.9v1.9h-1.9z" fill="#d0b437"/>
<path d="M585.8 363.6h1.9v1.9h-1.9z" fill="#d0b337"/>
<path d="M586.1 364.4h1.9v1.9h-1.9z" fill="#d1b336"/>
<path d="M587.1 362.8h1.9v1.9h-1.9zM585.5 366.2h1.9v1.9h-1.9z" fill="#d2b336"/>
<path d="M583.5 364.5h1.9v1.9h-1.9zM583.2 362.0h1.9v1.9h-1.9z" fill="#d3b336"/>
<path d="M582.6 366.4h1.9v1.9h-1.9z" fill="#d4b336"/>
<path d="M584.5 364.3h1.9v1.9h-1.9z" fill="#d4b236"/>
<path d="M583.0 365.6h1.9v1.9h-1.9zM582.5 365.0h1.9v1.9h-1.9zM586.7 368.6h1.9v1.9h-1.9z" fill="#d5b236"/>
<path d="M587.9 369.6h1.9v1.9h-1.9z" fill="#d6b235"/>
<path d="M589.2 368.3h1.9v1.9h-1.9z" fill="#d7b235"/>
<path d="M589.7 368.6h1.9v1.9h-1.9z" fill="#d8b235"/>
<path d="M590.7 369.1h1.9v1.9h-1.9zM591.3 368.9h1.9v1.9h-1.9z" fill="#d9b135"/>
<path d="M592.0 368.4h1.9v1.9h-1.9z" fill="#dab135"/>
<path d="M592.6 368.9h1.9v1.9h-1.9zM579.8 369.8h1.9v1.9h-1.9z" fill="#dbb135"/>
<path d="M578.9 369.7h1.9v1.9h-1.9z" fill="#dcb134"/>
<path d="M579.8 372.3h1.9v1.9h-1.9z" fill="#ddb034"/>
<path d="M578.0 372.2h1.9v1.9h-1.9zM579.5 372.6h1.9v1.9h-1.9z" fill="#deb034"/>
<path d="M577.4 373.6h1.9v1.9h-1.9z" fill="#dfb034"/>
<path d="M577.1 373.7h1.9v1.9h-1.9z" fill="#dfaf34"/>
<path d="M576.7 373.8h1.9v1.9h-1.9zM573.1 377.2h1.9v1.9h-1.9z" fill="#dfaf35"/>
<path d="M569.6 381.5h1.9v1.9h-1.9zM557.9 389.8h1.9v1.9h-1.9zM557.7 388.1h1.9v1.9h-1.9z" fill="#e0af35"/>
<path d="M558.3 388.2h1.9v1.9h-1.9z" fill="#e1af35"/>
<path d="M558.9 388.4h1.9v1.9h-1.9zM564.8 384.5h1.9v1.9h-1.9zM561.3 387.7h1.9v1.9h-1.9zM561.8 386.7h1.9v1.9h-1.9zM563.0 386.7h1.9v1.9h-1.9zM562.2 385.6h1.9v1.9h-1.9zM564.4 385.1h1.9v1.9h-1.9zM564.7 383.1h1.9v1.9h-1.9zM566.7 383.6h1.9v1.9h-1.9zM563.1 387.3h1.9v1.9h-1.9zM566.2 381.8h1.9v1.9h-1.9z" fill="#e1ae35"/>
<path d="M567.6 381.4h1.9v1.9h-1.9zM568.2 381.6h1.9v1.9h-1.9zM569.3 380.7h1.9v1.9h-1.9zM570.7 378.0h1.9v1.9h-1.9zM571.8 380.1h1.9v1.9h-1.9zM559.0 389.3h1.9v1.9h-1.9zM571.9 377.6h1.9v1.9h-1.9zM572.4 379.6h1.9v1.9h-1.9zM573.2 377.7h1.9v1.9h-1.9z" fill="#e2ae36"/>
<path d="M574.3 375.3h1.9v1.9h-1.9zM574.4 375.1h1.9v1.9h-1.9z" fill="#e2ad36"/>
<path d="M575.9 375.1h1.9v1.9h-1.9zM555.5 390.5h1.9v1.9h-1.9zM577.2 375.2h1.9v1.9h-1.9zM550.5 391.5h1.9v1.9h-1.9z" fill="#e3ad36"/>
<path d="M545.8 392.9h1.9v1.9h-1.9z" fill="#e4ad37"/>
<path d="M542.6 393.4h1.9v1.9h-1.9zM540.5 395.9h1.9v1.9h-1.9z" fill="#e5ac37"/>
<path d="M539.1 400.3h1.9v1.9h-1.9z" fill="#e6ab37"/>
<path d="M537.9 401.6h1.9v1.9h-1.9zM536.7 403.1h1.9v1.9h-1.9z" fill="#e7ab38"/>
<path d="M534.6 405.1h1.9v1.9h-1.9z" fill="#e8aa38"/>
<path d="M532.0 406.9h1.9v1.9h-1.9zM528.5 407.6h1.9v1.9h-1.9z" fill="#e9aa39"/>
<path d="M524.6 409.6h1.9v1.9h-1.9zM525.0 409.2h1.9v1.9h-1.9zM524.5 409.9h1.9v1.9h-1.9zM525.0 410.5h1.9v1.9h-1.9zM524.0 410.2h1.9v1.9h-1.9zM525.0 410.2h1.9v1.9h-1.9zM524.4 410.4h1.9v1.9h-1.9zM524.0 410.8h1.9v1.9h-1.9zM523.3 411.1h1.9v1.9h-1.9zM523.0 411.1h1.9v1.9h-1.9zM522.9 410.9h1.9v1.9h-1.9zM522.4 411.7h1.9v1.9h-1.9zM522.5 411.4h1.9v1.9h-1.9zM522.7 411.4h1.9v1.9h-1.9zM521.2 411.6h1.9v1.9h-1.9zM522.4 412.1h1.9v1.9h-1.9zM521.3 411.9h1.9v1.9h-1.9zM521.3 412.3h1.9v1.9h-1.9zM520.6 413.0h1.9v1.9h-1.9zM521.2 412.6h1.9v1.9h-1.9zM520.5 412.9h1.9v1.9h-1.9zM519.8 413.2h1.9v1.9h-1.9zM519.8 413.6h1.9v1.9h-1.9zM519.3 413.1h1.9v1.9h-1.9zM518.5 414.8h1.9v1.9h-1.9zM519.2 414.4h1.9v1.9h-1.9zM518.7 414.9h1.9v1.9h-1.9zM518.4 415.3h1.9v1.9h-1.9zM518.3 414.9h1.9v1.9h-1.9zM519.6 414.6h1.9v1.9h-1.9zM519.0 415.2h1.9v1.9h-1.9zM519.3 414.8h1.9v1.9h-1.9zM519.8 416.6h1.9v1.9h-1.9zM519.9 416.0h1.9v1.9h-1.9zM520.0 415.7h1.9v1.9h-1.9zM519.9 415.1h1.9v1.9h-1.9zM520.8 416.0h1.9v1.9h-1.9zM522.0 415.4h1.9v1.9h-1.9zM521.7 414.9h1.9v1.9h-1.9zM520.5 414.1h1.9v1.9h-1.9zM521.6 414.6h1.9v1.9h-1.9z" fill="#e3202e"/>
<path d="M527.6 417.3h1.9v1.9h-1.9zM523.3 417.8h1.9v1.9h-1.9z" fill="#f2c832"/>
<path d="M526.4 417.7h1.9v1.9h-1.9zM522.7 415.1h1.9v1.9h-1.9z" fill="#f2c932"/>
<path d="M524.5 416.7h1.9v1.9h-1.9z" fill="#f2ca32"/>
<path d="M523.6 415.8h1.9v1.9h-1.9z" fill="#f2ca33"/>
<path d="M529.4 416.6h1.9v1.9h-1.9zM529.6 419.2h1.9v1.9h-1.9zM522.1 419.0h1.9v1.9h-1.9z" fill="#f1cb33"/>
<path d="M528.9 419.1h1.9v1.9h-1.9zM523.0 418.1h1.9v1.9h-1.9z" fill="#f1cc33"/>
<path d="M532.1 419.0h1.9v1.9h-1.9zM523.8 413.1h1.9v1.9h-1.9z" fill="#f1cd33"/>
<path d="M531.2 419.2h1.9v1.9h-1.9zM522.6 416.0h1.9v1.9h-1.9zM523.1 417.3h1.9v1.9h-1.9z" fill="#f1ce34"/>
<path d="M523.5 415.4h1.9v1.9h-1.9zM521.9 418.8h1.9v1.9h-1.9z" fill="#f0cf34"/>
<path d="M528.2 418.9h1.9v1.9h-1.9zM524.5 419.2h1.9v1.9h-1.9z" fill="#f0d034"/>
<path d="M524.6 414.5h1.9v1.9h-1.9zM527.5 417.3h1.9v1.9h-1.9z" fill="#f0d134"/>
<path d="M525.0 417.6h1.9v1.9h-1.9z" fill="#f0d135"/>
<path d="M524.1 417.4h1.9v1.9h-1.9zM527.5 419.3h1.9v1.9h-1.9z" fill="#f0d235"/>
<path d="M526.1 414.9h1.9v1.9h-1.9zM522.8 417.9h1.9v1.9h-1.9z" fill="#f0d335"/>
<path d="M522.5 415.6h1.9v1.9h-1.9zM525.4 414.2h1.9v1.9h-1.9zM523.4 415.5h1.9v1.9h-1.9z" fill="#efd435"/>
<path d="M523.7 416.3h1.9v1.9h-1.9zM527.3 419.5h1.9v1.9h-1.9z" fill="#efd536"/>
<path d="M523.2 415.3h1.9v1.9h-1.9zM521.6 416.7h1.9v1.9h-1.9z" fill="#efd636"/>
<path d="M529.1 417.2h1.9v1.9h-1.9zM527.9 418.3h1.9v1.9h-1.9zM522.1 419.5h1.9v1.9h-1.9z" fill="#efd736"/>
<path d="M527.8 416.7h1.9v1.9h-1.9z" fill="#eed836"/>
<path d="M524.6 415.4h1.9v1.9h-1.9z" fill="#eed837"/>
<path d="M523.8 416.4h1.9v1.9h-1.9zM526.7 414.5h1.9v1.9h-1.9z" fill="#eed937"/>
<path d="M528.3 417.9h1.9v1.9h-1.9zM529.0 418.4h1.9v1.9h-1.9zM526.4 414.6h1.9v1.9h-1.9zM523.1 413.9h1.9v1.9h-1.9z" fill="#eeda37"/>
<path d="M525.5 416.5h1.9v1.9h-1.9z" fill="#eedb37"/>
<path d="M531.0 419.2h1.9v1.9h-1.9zM530.7 418.3h1.9v1.9h-1.9z" fill="#eddb37"/>
<path d="M528.2 416.2h1.9v1.9h-1.9zM523.5 417.1h1.9v1.9h-1.9zM526.5 418.9h1.9v1.9h-1.9z" fill="#eddb38"/>
<path d="M526.9 418.2h1.9v1.9h-1.9zM529.7 418.1h1.9v1.9h-1.9z" fill="#eddc38"/>
<path d="M522.8 415.8h1.9v1.9h-1.9zM522.6 413.9h1.9v1.9h-1.9zM523.1 417.7h1.9v1.9h-1.9zM524.5 418.9h1.9v1.9h-1.9z" fill="#ecdc38"/>
<path d="M522.5 416.0h1.9v1.9h-1.9zM527.3 416.9h1.9v1.9h-1.9z" fill="#ecdd38"/>
<path d="M521.6 419.1h1.9v1.9h-1.9z" fill="#ecdd39"/>
<path d="M522.8 412.5h1.9v1.9h-1.9zM525.1 415.3h1.9v1.9h-1.9z" fill="#ebdd39"/>
<path d="M522.9 414.7h1.9v1.9h-1.9zM525.6 415.4h1.9v1.9h-1.9zM531.9 418.8h1.9v1.9h-1.9zM527.1 416.0h1.9v1.9h-1.9zM530.4 417.5h1.9v1.9h-1.9z" fill="#ebde39"/>
<path d="M523.5 418.3h1.9v1.9h-1.9z" fill="#eade39"/>
<path d="M522.7 413.1h1.9v1.9h-1.9zM522.4 413.7h1.9v1.9h-1.9z" fill="#eadf39"/>
<path d="M525.3 420.2h1.9v1.9h-1.9zM528.5 419.0h1.9v1.9h-1.9zM528.3 419.6h1.9v1.9h-1.9z" fill="#eadf3a"/>
<path d="M526.4 419.5h1.9v1.9h-1.9z" fill="#eae03a"/>
<path d="M527.2 422.1h1.9v1.9h-1.9zM528.3 421.1h1.9v1.9h-1.9zM526.9 421.0h1.9v1.9h-1.9zM528.4 419.0h1.9v1.9h-1.9zM525.9 421.5h1.9v1.9h-1.9zM528.8 420.8h1.9v1.9h-1.9z" fill="#e9e03a"/>
<path d="M527.3 419.9h1.9v1.9h-1.9zM529.6 420.9h1.9v1.9h-1.9z" fill="#e9e13a"/>
<path d="M527.3 421.2h1.9v1.9h-1.9z" fill="#e8e13a"/>
<path d="M526.9 420.7h1.9v1.9h-1.9zM530.2 421.1h1.9v1.9h-1.9z" fill="#e8e13b"/>
<path d="M528.9 421.3h1.9v1.9h-1.9zM527.4 421.9h1.9v1.9h-1.9zM529.0 422.0h1.9v1.9h-1.9zM530.3 420.2h1.9v1.9h-1.9z" fill="#e8e23b"/>
<path d="M525.7 419.6h1.9v1.9h-1.9zM525.0 420.4h1.9v1.9h-1.9zM528.9 421.2h1.9v1.9h-1.9z" fill="#e7e23b"/>
<path d="M525.4 422.1h1.9v1.9h-1.9zM530.5 420.6h1.9v1.9h-1.9z" fill="#e7e33b"/>
<path d="M530.3 420.4h1.9v1.9h-1.9zM527.1 420.7h1.9v1.9h-1.9zM524.6 420.0h1.9v1.9h-1.9z" fill="#e7e33c"/>
<path d="M526.6 418.8h1.9v1.9h-1.9zM531.1 420.3h1.9v1.9h-1.9zM525.7 420.7h1.9v1.9h-1.9z" fill="#e6e43c"/>
<text x="477.7" y="471.5" font-size="9" fill="#333">(ii)</text>
<path d="M495.3 480.1V575.3" stroke="#808080" stroke-width="0.8" fill="none"/>
<path d="M493 480.3H495.3M493 499.3H495.3M493 518.3H495.3M493 537.3H495.3M493 556.3H495.3M493 575.3H495.3" stroke="#808080" stroke-width="0.8" fill="none"/>
<text x="490.3" y="482.7" font-size="7.5" fill="#4a4a4a" text-anchor="end" textLength="4.42" lengthAdjust="spacingAndGlyphs">5</text>
<text x="490.3" y="501.7" font-size="7.5" fill="#4a4a4a" text-anchor="end" textLength="4.42" lengthAdjust="spacingAndGlyphs">4</text>
<text x="490.3" y="520.7" font-size="7.5" fill="#4a4a4a" text-anchor="end" textLength="4.42" lengthAdjust="spacingAndGlyphs">3</text>
<text x="490.3" y="539.7" font-size="7.5" fill="#4a4a4a" text-anchor="end" textLength="4.42" lengthAdjust="spacingAndGlyphs">2</text>
<text x="490.3" y="558.7" font-size="7.5" fill="#4a4a4a" text-anchor="end" textLength="4.42" lengthAdjust="spacingAndGlyphs">1</text>
<text x="490.3" y="577.7" font-size="7.5" fill="#4a4a4a" text-anchor="end" textLength="4.42" lengthAdjust="spacingAndGlyphs">0</text>
<path d="M495.3 575.3H608.2" stroke="#808080" stroke-width="0.8" fill="none"/>
<path d="M495.05 575.3V577.6M513.9 575.3V577.6M532.75 575.3V577.6M551.6 575.3V577.6M570.45 575.3V577.6M589.3 575.3V577.6M608.15 575.3V577.6" stroke="#808080" stroke-width="0.8" fill="none"/>
<text x="495.05" y="585.5" font-size="7.5" fill="#4a4a4a" text-anchor="middle" textLength="9.06" lengthAdjust="spacingAndGlyphs">−1</text>
<text x="513.9" y="585.5" font-size="7.5" fill="#4a4a4a" text-anchor="middle" textLength="15.69" lengthAdjust="spacingAndGlyphs">−0.8</text>
<text x="532.75" y="585.5" font-size="7.5" fill="#4a4a4a" text-anchor="middle" textLength="15.69" lengthAdjust="spacingAndGlyphs">−0.6</text>
<text x="551.6" y="585.5" font-size="7.5" fill="#4a4a4a" text-anchor="middle" textLength="15.69" lengthAdjust="spacingAndGlyphs">−0.4</text>
<text x="570.45" y="585.5" font-size="7.5" fill="#4a4a4a" text-anchor="middle" textLength="15.69" lengthAdjust="spacingAndGlyphs">−0.2</text>
<text x="589.3" y="585.5" font-size="7.5" fill="#4a4a4a" text-anchor="middle" textLength="4.42" lengthAdjust="spacingAndGlyphs">0</text>
<text x="608.15" y="585.5" font-size="7.5" fill="#4a4a4a" text-anchor="middle" textLength="11.05" lengthAdjust="spacingAndGlyphs">0.2</text>
<text transform="translate(478.6,528) rotate(-90)" font-size="9" fill="#333" text-anchor="middle">Sleep distance <tspan font-style="italic">s</tspan> (s.d.)</text>
<text x="551.4" y="598.3" font-size="9" fill="#333" text-anchor="middle">Delta-to-alpha ratio</text>
<text x="551.4" y="608.3" font-size="9" fill="#333" text-anchor="middle">(<tspan font-style="italic">z</tspan>-score)</text>
<defs><linearGradient id="g4" x1="0" y1="0" x2="0" y2="1"><stop offset="0.0000" stop-color="#e6e43c"/><stop offset="0.0571" stop-color="#eeda37"/><stop offset="0.1000" stop-color="#f2c832"/><stop offset="0.1427" stop-color="#f0b437"/><stop offset="0.1430" stop-color="#eca83a"/><stop offset="0.1857" stop-color="#deb034"/><stop offset="0.2286" stop-color="#beb83a"/><stop offset="0.2857" stop-color="#87ba50"/><stop offset="0.3571" stop-color="#50b06e"/><stop offset="0.4286" stop-color="#22a78e"/><stop offset="0.5143" stop-color="#16aac0"/><stop offset="0.5857" stop-color="#16a6de"/><stop offset="0.6571" stop-color="#288ed4"/><stop offset="0.7143" stop-color="#327cca"/><stop offset="0.7714" stop-color="#376cc0"/><stop offset="0.8857" stop-color="#3c5caf"/><stop offset="1.0000" stop-color="#3e4296"/></linearGradient></defs>
<rect x="614.8" y="479.9" width="6.5" height="95.2" fill="url(#g4)" stroke="#777" stroke-width="0.6"/>
<text x="623.9" y="482.4" font-size="7.5" fill="#4a4a4a">10</text>
<path d="M620.1 493.5H621.3" stroke="#333" stroke-width="0.6"/>
<text x="623.9" y="496" font-size="7.5" fill="#4a4a4a">0</text>
<path d="M620.1 507.1H621.3" stroke="#333" stroke-width="0.6"/>
<text x="623.9" y="509.6" font-size="7.5" fill="#4a4a4a">−10</text>
<path d="M620.1 520.7H621.3" stroke="#333" stroke-width="0.6"/>
<text x="623.9" y="523.2" font-size="7.5" fill="#4a4a4a">−20</text>
<path d="M620.1 534.3H621.3" stroke="#333" stroke-width="0.6"/>
<text x="623.9" y="536.8" font-size="7.5" fill="#4a4a4a">−30</text>
<path d="M620.1 547.9H621.3" stroke="#333" stroke-width="0.6"/>
<text x="623.9" y="550.4" font-size="7.5" fill="#4a4a4a">−40</text>
<path d="M620.1 561.5H621.3" stroke="#333" stroke-width="0.6"/>
<text x="623.9" y="564" font-size="7.5" fill="#4a4a4a">−50</text>
<text x="623.9" y="577.6" font-size="7.5" fill="#4a4a4a">−60</text>
<rect x="614.5" y="492.7" width="7.1" height="1.6" fill="#e3202e"/>
<text x="632.5" y="496.6" font-size="9" fill="#e8404e" textLength="46.8" lengthAdjust="spacingAndGlyphs">Sleep onset</text>
<text transform="translate(644.2,507.3) rotate(90)" font-size="9" fill="#333" textLength="41.8" lengthAdjust="spacingAndGlyphs">Time (min)</text>
<path d="M601.6 494.1h1.9v1.9h-1.9zM604.0 493.6h1.9v1.9h-1.9z" fill="#3e4296"/>
<path d="M601.2 492.5h1.9v1.9h-1.9zM605.1 493.8h1.9v1.9h-1.9z" fill="#3e4397"/>
<path d="M601.2 490.2h1.9v1.9h-1.9zM600.8 490.8h1.9v1.9h-1.9z" fill="#3e4498"/>
<path d="M601.7 492.8h1.9v1.9h-1.9zM605.3 492.9h1.9v1.9h-1.9z" fill="#3e4599"/>
<path d="M602.2 491.9h1.9v1.9h-1.9zM601.5 492.8h1.9v1.9h-1.9z" fill="#3e469a"/>
<path d="M599.1 492.5h1.9v1.9h-1.9zM600.7 491.7h1.9v1.9h-1.9z" fill="#3e479b"/>
<path d="M601.2 489.8h1.9v1.9h-1.9zM600.0 492.4h1.9v1.9h-1.9z" fill="#3e489c"/>
<path d="M603.0 491.6h1.9v1.9h-1.9zM603.5 493.5h1.9v1.9h-1.9z" fill="#3d499d"/>
<path d="M601.9 494.4h1.9v1.9h-1.9zM601.0 489.7h1.9v1.9h-1.9z" fill="#3d4a9e"/>
<path d="M602.3 490.8h1.9v1.9h-1.9z" fill="#3d4b9e"/>
<path d="M602.0 490.6h1.9v1.9h-1.9z" fill="#3d4b9f"/>
<path d="M600.3 491.7h1.9v1.9h-1.9z" fill="#3d4c9f"/>
<path d="M602.5 491.1h1.9v1.9h-1.9z" fill="#3d4ca0"/>
<path d="M599.3 493.1h1.9v1.9h-1.9z" fill="#3d4da0"/>
<path d="M601.7 491.2h1.9v1.9h-1.9z" fill="#3d4da1"/>
<path d="M604.1 491.9h1.9v1.9h-1.9z" fill="#3d4ea1"/>
<path d="M600.1 492.6h1.9v1.9h-1.9z" fill="#3d4ea2"/>
<path d="M603.9 492.4h1.9v1.9h-1.9z" fill="#3d4fa2"/>
<path d="M600.7 494.1h1.9v1.9h-1.9z" fill="#3d4fa3"/>
<path d="M605.4 493.3h1.9v1.9h-1.9z" fill="#3d50a3"/>
<path d="M602.9 494.1h1.9v1.9h-1.9z" fill="#3d50a4"/>
<path d="M600.6 493.5h1.9v1.9h-1.9z" fill="#3d51a4"/>
<path d="M605.1 490.6h1.9v1.9h-1.9z" fill="#3d51a5"/>
<path d="M600.5 491.0h1.9v1.9h-1.9zM603.5 493.7h1.9v1.9h-1.9z" fill="#3d52a5"/>
<path d="M603.3 493.9h1.9v1.9h-1.9zM602.5 492.2h1.9v1.9h-1.9z" fill="#3d53a6"/>
<path d="M599.7 491.7h1.9v1.9h-1.9zM604.4 492.0h1.9v1.9h-1.9z" fill="#3d54a7"/>
<path d="M599.7 491.7h1.9v1.9h-1.9zM602.4 490.2h1.9v1.9h-1.9z" fill="#3d55a8"/>
<path d="M596.9 493.9h1.9v1.9h-1.9zM597.9 489.2h1.9v1.9h-1.9z" fill="#3c56a9"/>
<path d="M595.9 489.1h1.9v1.9h-1.9z" fill="#3c56aa"/>
<path d="M597.3 494.0h1.9v1.9h-1.9z" fill="#3c57aa"/>
<path d="M594.7 493.6h1.9v1.9h-1.9z" fill="#3c57ab"/>
<path d="M596.7 494.7h1.9v1.9h-1.9z" fill="#3c58ab"/>
<path d="M595.8 493.1h1.9v1.9h-1.9z" fill="#3c58ac"/>
<path d="M599.9 490.0h1.9v1.9h-1.9zM594.0 490.8h1.9v1.9h-1.9z" fill="#3c59ac"/>
<path d="M599.1 489.3h1.9v1.9h-1.9zM594.5 490.0h1.9v1.9h-1.9z" fill="#3c5aad"/>
<path d="M598.9 492.2h1.9v1.9h-1.9zM595.8 491.4h1.9v1.9h-1.9z" fill="#3c5bae"/>
<path d="M597.4 493.0h1.9v1.9h-1.9zM597.2 493.7h1.9v1.9h-1.9z" fill="#3c5caf"/>
<path d="M596.2 494.8h1.9v1.9h-1.9z" fill="#3c5cb0"/>
<path d="M599.7 492.0h1.9v1.9h-1.9zM595.1 489.4h1.9v1.9h-1.9zM595.6 494.7h1.9v1.9h-1.9z" fill="#3c5db0"/>
<path d="M594.7 489.8h1.9v1.9h-1.9zM599.0 492.4h1.9v1.9h-1.9zM597.2 494.8h1.9v1.9h-1.9z" fill="#3b5eb1"/>
<path d="M596.0 492.9h1.9v1.9h-1.9zM597.9 490.3h1.9v1.9h-1.9zM594.4 493.6h1.9v1.9h-1.9z" fill="#3b5fb2"/>
<path d="M598.4 491.8h1.9v1.9h-1.9zM594.7 491.6h1.9v1.9h-1.9zM600.3 491.0h1.9v1.9h-1.9z" fill="#3b60b3"/>
<path d="M596.7 491.1h1.9v1.9h-1.9z" fill="#3b60b4"/>
<path d="M598.1 493.9h1.9v1.9h-1.9z" fill="#3b61b4"/>
<path d="M593.9 493.0h1.9v1.9h-1.9z" fill="#3a61b4"/>
<path d="M593.7 492.4h1.9v1.9h-1.9z" fill="#3a61b5"/>
<path d="M598.3 494.5h1.9v1.9h-1.9zM595.0 489.0h1.9v1.9h-1.9z" fill="#3a62b5"/>
<path d="M596.3 488.9h1.9v1.9h-1.9zM597.5 492.5h1.9v1.9h-1.9z" fill="#3a62b6"/>
<path d="M598.3 492.1h1.9v1.9h-1.9z" fill="#3a63b6"/>
<path d="M597.3 493.2h1.9v1.9h-1.9zM597.6 493.8h1.9v1.9h-1.9z" fill="#3a63b7"/>
<path d="M595.1 488.9h1.9v1.9h-1.9z" fill="#3a64b7"/>
<path d="M593.3 491.8h1.9v1.9h-1.9z" fill="#3a64b8"/>
<path d="M594.8 492.0h1.9v1.9h-1.9z" fill="#3964b8"/>
<path d="M591.0 495.2h1.9v1.9h-1.9z" fill="#3965b8"/>
<path d="M591.9 495.2h1.9v1.9h-1.9zM591.3 494.8h1.9v1.9h-1.9z" fill="#3965b9"/>
<path d="M594.9 494.1h1.9v1.9h-1.9z" fill="#3966b9"/>
<path d="M594.7 493.9h1.9v1.9h-1.9zM592.0 494.1h1.9v1.9h-1.9z" fill="#3966ba"/>
<path d="M593.4 492.3h1.9v1.9h-1.9z" fill="#3967bb"/>
<path d="M592.6 490.2h1.9v1.9h-1.9z" fill="#3867bb"/>
<path d="M591.7 493.7h1.9v1.9h-1.9z" fill="#3868bb"/>
<path d="M594.6 491.7h1.9v1.9h-1.9zM593.8 491.1h1.9v1.9h-1.9z" fill="#3868bc"/>
<path d="M591.2 495.1h1.9v1.9h-1.9z" fill="#3869bc"/>
<path d="M591.6 490.6h1.9v1.9h-1.9zM589.6 492.9h1.9v1.9h-1.9z" fill="#3869bd"/>
<path d="M593.1 492.2h1.9v1.9h-1.9zM590.4 490.9h1.9v1.9h-1.9zM592.8 491.2h1.9v1.9h-1.9z" fill="#386abe"/>
<path d="M594.9 491.5h1.9v1.9h-1.9zM592.5 489.6h1.9v1.9h-1.9zM592.5 494.1h1.9v1.9h-1.9z" fill="#376bbf"/>
<path d="M594.4 494.0h1.9v1.9h-1.9zM593.5 492.2h1.9v1.9h-1.9z" fill="#376cc0"/>
<path d="M592.7 494.7h1.9v1.9h-1.9z" fill="#376dc1"/>
<path d="M594.8 492.1h1.9v1.9h-1.9z" fill="#366ec1"/>
<path d="M591.9 490.2h1.9v1.9h-1.9z" fill="#366ec2"/>
<path d="M592.2 490.0h1.9v1.9h-1.9z" fill="#366fc2"/>
<path d="M592.4 490.9h1.9v1.9h-1.9z" fill="#3670c2"/>
<path d="M594.2 490.6h1.9v1.9h-1.9z" fill="#3671c3"/>
<path d="M591.5 494.1h1.9v1.9h-1.9z" fill="#3571c3"/>
<path d="M593.2 490.8h1.9v1.9h-1.9z" fill="#3572c4"/>
<path d="M588.8 492.6h1.9v1.9h-1.9z" fill="#3573c4"/>
<path d="M589.8 493.8h1.9v1.9h-1.9z" fill="#3573c5"/>
<path d="M591.4 490.7h1.9v1.9h-1.9z" fill="#3474c5"/>
<path d="M591.3 495.2h1.9v1.9h-1.9z" fill="#3475c6"/>
<path d="M591.2 490.4h1.9v1.9h-1.9zM591.0 490.1h1.9v1.9h-1.9z" fill="#3476c6"/>
<path d="M589.2 491.2h1.9v1.9h-1.9z" fill="#3477c7"/>
<path d="M592.2 489.8h1.9v1.9h-1.9z" fill="#3378c7"/>
<path d="M592.1 492.5h1.9v1.9h-1.9z" fill="#3378c8"/>
<path d="M592.6 491.3h1.9v1.9h-1.9z" fill="#3379c8"/>
<path d="M593.2 493.1h1.9v1.9h-1.9z" fill="#337ac9"/>
<path d="M593.1 492.6h1.9v1.9h-1.9z" fill="#327bc9"/>
<path d="M593.6 490.5h1.9v1.9h-1.9z" fill="#327bca"/>
<path d="M586.4 491.0h1.9v1.9h-1.9z" fill="#327cca"/>
<path d="M584.6 490.7h1.9v1.9h-1.9z" fill="#327dca"/>
<path d="M586.3 493.6h1.9v1.9h-1.9z" fill="#317dcb"/>
<path d="M587.7 494.2h1.9v1.9h-1.9z" fill="#317ecb"/>
<path d="M586.0 495.9h1.9v1.9h-1.9z" fill="#307fcc"/>
<path d="M587.0 492.2h1.9v1.9h-1.9zM589.2 492.0h1.9v1.9h-1.9z" fill="#3080cc"/>
<path d="M588.1 492.2h1.9v1.9h-1.9z" fill="#2f81cd"/>
<path d="M584.1 493.9h1.9v1.9h-1.9z" fill="#2f82cd"/>
<path d="M586.7 492.6h1.9v1.9h-1.9z" fill="#2e82ce"/>
<path d="M583.1 494.5h1.9v1.9h-1.9z" fill="#2e83ce"/>
<path d="M585.8 490.2h1.9v1.9h-1.9z" fill="#2e84ce"/>
<path d="M587.0 491.6h1.9v1.9h-1.9z" fill="#2d84cf"/>
<path d="M584.5 492.2h1.9v1.9h-1.9z" fill="#2d85cf"/>
<path d="M584.0 493.6h1.9v1.9h-1.9z" fill="#2d86cf"/>
<path d="M589.4 493.5h1.9v1.9h-1.9z" fill="#2c86d0"/>
<path d="M588.0 493.2h1.9v1.9h-1.9z" fill="#2c87d0"/>
<path d="M589.3 491.8h1.9v1.9h-1.9z" fill="#2b88d1"/>
<path d="M585.0 491.2h1.9v1.9h-1.9zM584.5 494.4h1.9v1.9h-1.9z" fill="#2b89d1"/>
<path d="M583.3 492.4h1.9v1.9h-1.9z" fill="#2a8ad2"/>
<path d="M587.0 495.2h1.9v1.9h-1.9z" fill="#2a8bd2"/>
<path d="M584.7 492.7h1.9v1.9h-1.9z" fill="#298bd3"/>
<path d="M587.4 495.0h1.9v1.9h-1.9z" fill="#298cd3"/>
<path d="M588.0 493.7h1.9v1.9h-1.9z" fill="#298dd3"/>
<path d="M586.7 491.6h1.9v1.9h-1.9zM583.4 494.2h1.9v1.9h-1.9z" fill="#288ed4"/>
<path d="M589.3 492.5h1.9v1.9h-1.9z" fill="#278fd4"/>
<path d="M586.3 494.5h1.9v1.9h-1.9z" fill="#2790d5"/>
<path d="M583.6 493.6h1.9v1.9h-1.9z" fill="#2690d5"/>
<path d="M588.8 493.5h1.9v1.9h-1.9z" fill="#2691d5"/>
<path d="M586.7 492.5h1.9v1.9h-1.9z" fill="#2592d6"/>
<path d="M585.3 495.7h1.9v1.9h-1.9zM586.6 490.2h1.9v1.9h-1.9z" fill="#2493d6"/>
<path d="M587.9 491.3h1.9v1.9h-1.9z" fill="#2394d7"/>
<path d="M585.5 494.1h1.9v1.9h-1.9z" fill="#2395d7"/>
<path d="M584.8 495.1h1.9v1.9h-1.9z" fill="#2296d7"/>
<path d="M587.6 494.2h1.9v1.9h-1.9z" fill="#2296d8"/>
<path d="M584.5 492.9h1.9v1.9h-1.9z" fill="#2197d8"/>
<path d="M587.1 493.6h1.9v1.9h-1.9z" fill="#2198d8"/>
<path d="M585.0 492.1h1.9v1.9h-1.9z" fill="#2099d8"/>
<path d="M584.5 494.9h1.9v1.9h-1.9z" fill="#1f99d9"/>
<path d="M585.5 494.3h1.9v1.9h-1.9z" fill="#1f9ad9"/>
<path d="M584.4 491.0h1.9v1.9h-1.9z" fill="#1e9bd9"/>
<path d="M583.5 495.2h1.9v1.9h-1.9z" fill="#1e9cda"/>
<path d="M582.3 494.8h1.9v1.9h-1.9z" fill="#1d9cda"/>
<path d="M579.5 492.2h1.9v1.9h-1.9zM579.8 493.5h1.9v1.9h-1.9z" fill="#1d9dda"/>
<path d="M583.5 493.7h1.9v1.9h-1.9zM580.6 498.3h1.9v1.9h-1.9z" fill="#1c9edb"/>
<path d="M581.9 494.2h1.9v1.9h-1.9z" fill="#1c9fdb"/>
<path d="M582.3 495.1h1.9v1.9h-1.9zM583.6 496.3h1.9v1.9h-1.9z" fill="#1b9fdb"/>
<path d="M579.4 497.3h1.9v1.9h-1.9z" fill="#1ba0db"/>
<path d="M578.8 498.7h1.9v1.9h-1.9z" fill="#1aa0dc"/>
<path d="M581.6 491.9h1.9v1.9h-1.9zM584.4 494.3h1.9v1.9h-1.9z" fill="#1aa1dc"/>
<path d="M576.5 499.0h1.9v1.9h-1.9zM578.8 495.4h1.9v1.9h-1.9z" fill="#19a2dc"/>
<path d="M579.7 495.8h1.9v1.9h-1.9z" fill="#19a3dd"/>
<path d="M580.9 492.7h1.9v1.9h-1.9zM584.3 497.0h1.9v1.9h-1.9z" fill="#18a3dd"/>
<path d="M579.6 497.0h1.9v1.9h-1.9z" fill="#18a4dd"/>
<path d="M579.6 497.3h1.9v1.9h-1.9z" fill="#17a4dd"/>
<path d="M580.3 497.4h1.9v1.9h-1.9z" fill="#17a5dd"/>
<path d="M579.9 495.7h1.9v1.9h-1.9z" fill="#17a5de"/>
<path d="M579.2 495.3h1.9v1.9h-1.9zM579.5 493.5h1.9v1.9h-1.9z" fill="#16a6de"/>
<path d="M575.8 497.5h1.9v1.9h-1.9zM575.4 496.5h1.9v1.9h-1.9z" fill="#16a6dd"/>
<path d="M579.1 491.9h1.9v1.9h-1.9zM577.9 498.7h1.9v1.9h-1.9z" fill="#16a6dc"/>
<path d="M576.4 498.7h1.9v1.9h-1.9zM575.2 492.0h1.9v1.9h-1.9z" fill="#16a6db"/>
<path d="M575.3 494.4h1.9v1.9h-1.9zM578.3 495.4h1.9v1.9h-1.9z" fill="#16a7da"/>
<path d="M575.3 494.7h1.9v1.9h-1.9zM578.6 492.6h1.9v1.9h-1.9z" fill="#16a7d9"/>
<path d="M573.7 495.0h1.9v1.9h-1.9z" fill="#16a7d8"/>
<path d="M575.9 497.3h1.9v1.9h-1.9zM577.8 494.9h1.9v1.9h-1.9z" fill="#16a7d7"/>
<path d="M576.5 494.3h1.9v1.9h-1.9zM580.2 496.3h1.9v1.9h-1.9z" fill="#16a7d6"/>
<path d="M572.9 498.2h1.9v1.9h-1.9zM575.5 498.6h1.9v1.9h-1.9z" fill="#16a7d5"/>
<path d="M576.7 493.4h1.9v1.9h-1.9zM576.2 495.9h1.9v1.9h-1.9z" fill="#16a7d4"/>
<path d="M573.9 496.7h1.9v1.9h-1.9z" fill="#16a7d3"/>
<path d="M574.4 497.1h1.9v1.9h-1.9z" fill="#16a8d3"/>
<path d="M576.3 496.9h1.9v1.9h-1.9zM575.1 499.6h1.9v1.9h-1.9zM574.0 497.7h1.9v1.9h-1.9z" fill="#16a8d2"/>
<path d="M574.5 499.3h1.9v1.9h-1.9zM572.4 497.6h1.9v1.9h-1.9z" fill="#16a8d1"/>
<path d="M575.9 497.7h1.9v1.9h-1.9zM575.0 497.1h1.9v1.9h-1.9z" fill="#16a8d0"/>
<path d="M574.7 497.1h1.9v1.9h-1.9zM575.2 497.3h1.9v1.9h-1.9z" fill="#16a8cf"/>
<path d="M572.5 497.6h1.9v1.9h-1.9zM572.4 502.4h1.9v1.9h-1.9z" fill="#16a8ce"/>
<path d="M574.2 497.9h1.9v1.9h-1.9zM572.4 499.2h1.9v1.9h-1.9z" fill="#16a8cd"/>
<path d="M571.8 496.9h1.9v1.9h-1.9zM571.4 497.0h1.9v1.9h-1.9z" fill="#16a8cc"/>
<path d="M571.7 495.8h1.9v1.9h-1.9zM572.6 495.6h1.9v1.9h-1.9z" fill="#16a9cb"/>
<path d="M572.8 499.8h1.9v1.9h-1.9zM570.5 496.8h1.9v1.9h-1.9z" fill="#16a9ca"/>
<path d="M573.4 496.7h1.9v1.9h-1.9zM571.5 497.7h1.9v1.9h-1.9z" fill="#16a9c9"/>
<path d="M570.8 496.4h1.9v1.9h-1.9zM572.2 498.1h1.9v1.9h-1.9z" fill="#16a9c8"/>
<path d="M570.1 497.4h1.9v1.9h-1.9zM568.5 499.1h1.9v1.9h-1.9z" fill="#16a9c7"/>
<path d="M571.3 500.9h1.9v1.9h-1.9zM568.9 501.4h1.9v1.9h-1.9z" fill="#16a9c6"/>
<path d="M570.3 500.6h1.9v1.9h-1.9zM566.8 498.6h1.9v1.9h-1.9z" fill="#16a9c5"/>
<path d="M570.8 495.3h1.9v1.9h-1.9zM570.4 500.1h1.9v1.9h-1.9z" fill="#16a9c4"/>
<path d="M567.7 500.1h1.9v1.9h-1.9zM569.9 500.2h1.9v1.9h-1.9z" fill="#16aac3"/>
<path d="M568.3 496.3h1.9v1.9h-1.9zM567.8 498.7h1.9v1.9h-1.9z" fill="#16aac2"/>
<path d="M564.6 499.2h1.9v1.9h-1.9zM568.4 498.2h1.9v1.9h-1.9z" fill="#16aac1"/>
<path d="M562.9 496.5h1.9v1.9h-1.9zM567.4 497.6h1.9v1.9h-1.9zM568.6 496.9h1.9v1.9h-1.9z" fill="#16aac0"/>
<path d="M566.5 499.8h1.9v1.9h-1.9zM568.8 497.8h1.9v1.9h-1.9z" fill="#16aabf"/>
<path d="M566.5 495.1h1.9v1.9h-1.9z" fill="#16aabe"/>
<path d="M568.2 497.2h1.9v1.9h-1.9zM570.1 496.8h1.9v1.9h-1.9z" fill="#17aabd"/>
<path d="M567.1 496.7h1.9v1.9h-1.9z" fill="#17aabc"/>
<path d="M567.5 502.5h1.9v1.9h-1.9zM566.3 496.1h1.9v1.9h-1.9z" fill="#17aabb"/>
<path d="M567.4 498.1h1.9v1.9h-1.9z" fill="#17aaba"/>
<path d="M563.6 499.2h1.9v1.9h-1.9zM564.6 499.0h1.9v1.9h-1.9z" fill="#18aab9"/>
<path d="M566.4 496.4h1.9v1.9h-1.9z" fill="#18aab8"/>
<path d="M566.7 496.1h1.9v1.9h-1.9z" fill="#18a9b8"/>
<path d="M563.6 496.1h1.9v1.9h-1.9z" fill="#18a9b7"/>
<path d="M565.6 494.8h1.9v1.9h-1.9zM565.6 494.9h1.9v1.9h-1.9z" fill="#18a9b6"/>
<path d="M566.5 496.6h1.9v1.9h-1.9z" fill="#19a9b5"/>
<path d="M564.7 492.5h1.9v1.9h-1.9zM565.6 492.9h1.9v1.9h-1.9z" fill="#19a9b4"/>
<path d="M563.8 493.8h1.9v1.9h-1.9z" fill="#19a9b3"/>
<path d="M567.3 496.1h1.9v1.9h-1.9zM564.9 497.1h1.9v1.9h-1.9z" fill="#19a9b2"/>
<path d="M563.7 497.2h1.9v1.9h-1.9z" fill="#1aa9b1"/>
<path d="M562.0 497.5h1.9v1.9h-1.9zM565.2 495.9h1.9v1.9h-1.9z" fill="#1aa9b0"/>
<path d="M560.7 492.6h1.9v1.9h-1.9z" fill="#1aa9af"/>
<path d="M561.8 494.8h1.9v1.9h-1.9zM564.8 495.1h1.9v1.9h-1.9z" fill="#1aa9ae"/>
<path d="M563.1 495.3h1.9v1.9h-1.9z" fill="#1ba9ad"/>
<path d="M562.2 494.0h1.9v1.9h-1.9zM562.7 496.7h1.9v1.9h-1.9z" fill="#1ba9ac"/>
<path d="M563.3 495.7h1.9v1.9h-1.9zM565.5 492.4h1.9v1.9h-1.9zM561.3 496.1h1.9v1.9h-1.9z" fill="#1ba9ab"/>
<path d="M563.3 494.4h1.9v1.9h-1.9z" fill="#1ba9aa"/>
<path d="M560.0 495.3h1.9v1.9h-1.9z" fill="#1ba9a9"/>
<path d="M562.6 497.0h1.9v1.9h-1.9z" fill="#1ca9a9"/>
<path d="M561.1 495.8h1.9v1.9h-1.9zM559.7 492.3h1.9v1.9h-1.9z" fill="#1ca9a8"/>
<path d="M565.2 494.9h1.9v1.9h-1.9z" fill="#1ca8a7"/>
<path d="M563.4 496.8h1.9v1.9h-1.9zM561.9 497.9h1.9v1.9h-1.9z" fill="#1ca8a6"/>
<path d="M564.8 495.2h1.9v1.9h-1.9z" fill="#1ca8a5"/>
<path d="M561.6 493.9h1.9v1.9h-1.9zM561.7 497.0h1.9v1.9h-1.9z" fill="#1da8a4"/>
<path d="M560.2 495.5h1.9v1.9h-1.9zM559.8 495.9h1.9v1.9h-1.9z" fill="#1da8a3"/>
<path d="M562.6 495.9h1.9v1.9h-1.9z" fill="#1da8a2"/>
<path d="M560.3 494.7h1.9v1.9h-1.9zM561.2 496.9h1.9v1.9h-1.9z" fill="#1da8a1"/>
<path d="M559.6 499.2h1.9v1.9h-1.9zM557.7 498.6h1.9v1.9h-1.9z" fill="#1ea8a0"/>
<path d="M560.7 494.6h1.9v1.9h-1.9z" fill="#1ea89f"/>
<path d="M560.7 499.4h1.9v1.9h-1.9zM561.5 497.6h1.9v1.9h-1.9z" fill="#1ea89e"/>
<path d="M561.7 494.9h1.9v1.9h-1.9zM559.6 494.8h1.9v1.9h-1.9z" fill="#1ea89d"/>
<path d="M558.7 497.0h1.9v1.9h-1.9z" fill="#1fa89c"/>
<path d="M559.0 497.2h1.9v1.9h-1.9zM558.2 497.4h1.9v1.9h-1.9z" fill="#1fa89b"/>
<path d="M559.4 499.6h1.9v1.9h-1.9zM558.6 499.8h1.9v1.9h-1.9z" fill="#1fa89a"/>
<path d="M556.9 498.7h1.9v1.9h-1.9z" fill="#1fa899"/>
<path d="M559.1 497.9h1.9v1.9h-1.9zM561.7 497.3h1.9v1.9h-1.9z" fill="#20a898"/>
<path d="M558.6 496.0h1.9v1.9h-1.9zM556.3 497.1h1.9v1.9h-1.9z" fill="#20a897"/>
<path d="M560.1 498.4h1.9v1.9h-1.9z" fill="#20a796"/>
<path d="M556.4 498.5h1.9v1.9h-1.9zM560.1 497.2h1.9v1.9h-1.9z" fill="#20a795"/>
<path d="M557.5 497.2h1.9v1.9h-1.9z" fill="#21a794"/>
<path d="M556.4 499.6h1.9v1.9h-1.9zM555.2 498.5h1.9v1.9h-1.9z" fill="#21a793"/>
<path d="M557.0 497.7h1.9v1.9h-1.9zM555.1 499.2h1.9v1.9h-1.9z" fill="#21a792"/>
<path d="M554.9 496.3h1.9v1.9h-1.9z" fill="#21a791"/>
<path d="M558.6 498.3h1.9v1.9h-1.9z" fill="#21a790"/>
<path d="M553.2 497.3h1.9v1.9h-1.9z" fill="#22a790"/>
<path d="M554.8 498.3h1.9v1.9h-1.9zM554.7 499.9h1.9v1.9h-1.9z" fill="#22a78f"/>
<path d="M556.2 501.8h1.9v1.9h-1.9zM551.4 497.9h1.9v1.9h-1.9z" fill="#22a78e"/>
<path d="M554.6 494.3h1.9v1.9h-1.9z" fill="#23a78d"/>
<path d="M553.6 501.6h1.9v1.9h-1.9z" fill="#24a78d"/>
<path d="M553.7 499.3h1.9v1.9h-1.9z" fill="#25a88c"/>
<path d="M554.6 495.3h1.9v1.9h-1.9z" fill="#26a88b"/>
<path d="M552.6 499.9h1.9v1.9h-1.9z" fill="#27a88b"/>
<path d="M555.9 501.7h1.9v1.9h-1.9z" fill="#28a88a"/>
<path d="M552.3 499.6h1.9v1.9h-1.9z" fill="#29a889"/>
<path d="M552.2 498.3h1.9v1.9h-1.9z" fill="#2aa889"/>
<path d="M549.8 499.4h1.9v1.9h-1.9z" fill="#2aa988"/>
<path d="M556.3 499.6h1.9v1.9h-1.9z" fill="#2ba987"/>
<path d="M553.3 499.8h1.9v1.9h-1.9z" fill="#2ca987"/>
<path d="M553.7 496.8h1.9v1.9h-1.9z" fill="#2da986"/>
<path d="M554.1 498.2h1.9v1.9h-1.9z" fill="#2ea985"/>
<path d="M555.7 500.6h1.9v1.9h-1.9z" fill="#2faa85"/>
<path d="M552.4 499.4h1.9v1.9h-1.9z" fill="#30aa84"/>
<path d="M547.6 499.3h1.9v1.9h-1.9z" fill="#31aa83"/>
<path d="M551.9 499.2h1.9v1.9h-1.9z" fill="#32aa83"/>
<path d="M550.3 500.4h1.9v1.9h-1.9z" fill="#33aa82"/>
<path d="M552.1 498.7h1.9v1.9h-1.9z" fill="#34ab82"/>
<path d="M551.2 496.6h1.9v1.9h-1.9z" fill="#35ab81"/>
<path d="M552.5 498.8h1.9v1.9h-1.9z" fill="#36ab80"/>
<path d="M547.4 499.9h1.9v1.9h-1.9z" fill="#37ab80"/>
<path d="M550.8 502.0h1.9v1.9h-1.9z" fill="#38ab7f"/>
<path d="M550.3 497.2h1.9v1.9h-1.9z" fill="#39ab7e"/>
<path d="M548.0 501.7h1.9v1.9h-1.9z" fill="#3aac7e"/>
<path d="M549.8 498.3h1.9v1.9h-1.9z" fill="#3bac7d"/>
<path d="M550.8 502.6h1.9v1.9h-1.9z" fill="#3bac7c"/>
<path d="M551.1 499.5h1.9v1.9h-1.9z" fill="#3cac7c"/>
<path d="M550.6 498.2h1.9v1.9h-1.9z" fill="#3dac7b"/>
<path d="M547.7 500.0h1.9v1.9h-1.9z" fill="#3ead7a"/>
<path d="M547.3 503.4h1.9v1.9h-1.9z" fill="#3fad7a"/>
<path d="M550.6 496.2h1.9v1.9h-1.9z" fill="#40ad79"/>
<path d="M547.9 497.6h1.9v1.9h-1.9z" fill="#41ad78"/>
<path d="M549.5 499.2h1.9v1.9h-1.9z" fill="#42ad78"/>
<path d="M549.4 501.9h1.9v1.9h-1.9z" fill="#43ad77"/>
<path d="M547.3 500.1h1.9v1.9h-1.9z" fill="#44ae76"/>
<path d="M549.7 501.4h1.9v1.9h-1.9z" fill="#45ae76"/>
<path d="M550.1 501.3h1.9v1.9h-1.9z" fill="#46ae75"/>
<path d="M545.8 502.9h1.9v1.9h-1.9zM545.4 498.7h1.9v1.9h-1.9z" fill="#47ae74"/>
<path d="M543.9 498.3h1.9v1.9h-1.9z" fill="#48ae74"/>
<path d="M548.2 499.7h1.9v1.9h-1.9z" fill="#48af73"/>
<path d="M547.5 498.1h1.9v1.9h-1.9z" fill="#49af73"/>
<path d="M546.8 502.1h1.9v1.9h-1.9z" fill="#4aaf72"/>
<path d="M548.0 500.0h1.9v1.9h-1.9z" fill="#4baf72"/>
<path d="M547.4 503.6h1.9v1.9h-1.9z" fill="#4caf71"/>
<path d="M544.9 501.4h1.9v1.9h-1.9z" fill="#4caf70"/>
<path d="M546.0 500.2h1.9v1.9h-1.9z" fill="#4daf70"/>
<path d="M544.2 499.6h1.9v1.9h-1.9z" fill="#4eb06f"/>
<path d="M545.3 501.7h1.9v1.9h-1.9z" fill="#4fb06f"/>
<path d="M544.7 500.8h1.9v1.9h-1.9z" fill="#50b06e"/>
<path d="M545.0 501.2h1.9v1.9h-1.9z" fill="#51b06e"/>
<path d="M541.0 499.2h1.9v1.9h-1.9z" fill="#52b06d"/>
<path d="M543.4 499.9h1.9v1.9h-1.9z" fill="#53b06d"/>
<path d="M544.8 501.7h1.9v1.9h-1.9z" fill="#54b16c"/>
<path d="M544.8 501.0h1.9v1.9h-1.9z" fill="#55b16c"/>
<path d="M542.4 498.5h1.9v1.9h-1.9z" fill="#56b16b"/>
<path d="M542.0 502.8h1.9v1.9h-1.9z" fill="#56b16a"/>
<path d="M542.3 499.7h1.9v1.9h-1.9z" fill="#57b16a"/>
<path d="M544.9 500.7h1.9v1.9h-1.9z" fill="#58b269"/>
<path d="M540.9 500.2h1.9v1.9h-1.9z" fill="#59b269"/>
<path d="M540.4 497.5h1.9v1.9h-1.9z" fill="#5ab268"/>
<path d="M543.0 503.5h1.9v1.9h-1.9z" fill="#5bb268"/>
<path d="M543.7 498.4h1.9v1.9h-1.9z" fill="#5cb267"/>
<path d="M539.4 502.1h1.9v1.9h-1.9z" fill="#5db267"/>
<path d="M542.1 501.5h1.9v1.9h-1.9z" fill="#5eb366"/>
<path d="M542.4 499.8h1.9v1.9h-1.9z" fill="#5fb366"/>
<path d="M544.0 499.2h1.9v1.9h-1.9z" fill="#60b365"/>
<path d="M543.3 500.8h1.9v1.9h-1.9z" fill="#61b365"/>
<path d="M539.5 500.7h1.9v1.9h-1.9z" fill="#62b364"/>
<path d="M537.2 498.1h1.9v1.9h-1.9z" fill="#63b364"/>
<path d="M540.3 499.0h1.9v1.9h-1.9z" fill="#64b463"/>
<path d="M540.4 502.5h1.9v1.9h-1.9z" fill="#65b463"/>
<path d="M540.3 499.5h1.9v1.9h-1.9zM540.1 499.9h1.9v1.9h-1.9z" fill="#66b462"/>
<path d="M538.4 500.0h1.9v1.9h-1.9z" fill="#67b461"/>
<path d="M538.0 498.2h1.9v1.9h-1.9z" fill="#68b461"/>
<path d="M535.4 497.2h1.9v1.9h-1.9z" fill="#69b560"/>
<path d="M538.2 496.9h1.9v1.9h-1.9z" fill="#6ab560"/>
<path d="M539.4 499.7h1.9v1.9h-1.9z" fill="#6bb55f"/>
<path d="M537.4 501.3h1.9v1.9h-1.9z" fill="#6cb55f"/>
<path d="M539.6 499.7h1.9v1.9h-1.9z" fill="#6db55e"/>
<path d="M536.1 501.3h1.9v1.9h-1.9z" fill="#6fb65d"/>
<path d="M535.9 502.0h1.9v1.9h-1.9z" fill="#70b65d"/>
<path d="M535.3 501.2h1.9v1.9h-1.9z" fill="#71b65c"/>
<path d="M536.3 500.5h1.9v1.9h-1.9z" fill="#72b65c"/>
<path d="M535.2 500.1h1.9v1.9h-1.9z" fill="#73b65b"/>
<path d="M536.4 501.0h1.9v1.9h-1.9z" fill="#74b75a"/>
<path d="M537.7 499.1h1.9v1.9h-1.9z" fill="#75b75a"/>
<path d="M536.8 502.7h1.9v1.9h-1.9z" fill="#76b759"/>
<path d="M537.8 501.9h1.9v1.9h-1.9z" fill="#77b759"/>
<path d="M537.1 502.3h1.9v1.9h-1.9z" fill="#78b758"/>
<path d="M535.1 504.5h1.9v1.9h-1.9z" fill="#79b758"/>
<path d="M536.0 501.9h1.9v1.9h-1.9z" fill="#7ab857"/>
<path d="M533.0 504.1h1.9v1.9h-1.9z" fill="#7bb856"/>
<path d="M536.1 500.4h1.9v1.9h-1.9z" fill="#7cb856"/>
<path d="M534.4 505.3h1.9v1.9h-1.9z" fill="#7db855"/>
<path d="M534.2 505.9h1.9v1.9h-1.9z" fill="#7eb855"/>
<path d="M535.0 501.6h1.9v1.9h-1.9z" fill="#80b954"/>
<path d="M533.0 504.9h1.9v1.9h-1.9z" fill="#81b953"/>
<path d="M534.5 505.8h1.9v1.9h-1.9z" fill="#82b953"/>
<path d="M532.7 503.3h1.9v1.9h-1.9z" fill="#83b952"/>
<path d="M536.1 504.1h1.9v1.9h-1.9z" fill="#84b952"/>
<path d="M530.7 504.0h1.9v1.9h-1.9z" fill="#85ba51"/>
<path d="M532.5 499.4h1.9v1.9h-1.9z" fill="#86ba51"/>
<path d="M532.9 504.9h1.9v1.9h-1.9zM534.5 503.2h1.9v1.9h-1.9z" fill="#87ba50"/>
<path d="M533.5 501.0h1.9v1.9h-1.9z" fill="#88ba50"/>
<path d="M533.4 503.6h1.9v1.9h-1.9z" fill="#89ba4f"/>
<path d="M530.0 504.0h1.9v1.9h-1.9z" fill="#8aba4f"/>
<path d="M532.4 501.3h1.9v1.9h-1.9z" fill="#8bba4e"/>
<path d="M532.9 507.0h1.9v1.9h-1.9z" fill="#8cba4e"/>
<path d="M531.7 506.2h1.9v1.9h-1.9z" fill="#8dba4e"/>
<path d="M530.5 502.8h1.9v1.9h-1.9z" fill="#8eba4d"/>
<path d="M531.6 507.9h1.9v1.9h-1.9z" fill="#8fba4d"/>
<path d="M531.0 503.2h1.9v1.9h-1.9z" fill="#90ba4c"/>
<path d="M529.4 504.8h1.9v1.9h-1.9z" fill="#91ba4c"/>
<path d="M529.9 503.0h1.9v1.9h-1.9z" fill="#92ba4c"/>
<path d="M531.1 503.7h1.9v1.9h-1.9z" fill="#93ba4b"/>
<path d="M530.7 501.7h1.9v1.9h-1.9z" fill="#94ba4b"/>
<path d="M529.7 503.1h1.9v1.9h-1.9z" fill="#95b94a"/>
<path d="M529.2 505.4h1.9v1.9h-1.9z" fill="#96b94a"/>
<path d="M530.4 504.7h1.9v1.9h-1.9z" fill="#97b949"/>
<path d="M528.6 504.2h1.9v1.9h-1.9z" fill="#98b949"/>
<path d="M527.6 506.3h1.9v1.9h-1.9z" fill="#99b949"/>
<path d="M529.4 501.3h1.9v1.9h-1.9z" fill="#9ab948"/>
<path d="M527.5 505.3h1.9v1.9h-1.9z" fill="#9bb948"/>
<path d="M527.3 503.6h1.9v1.9h-1.9z" fill="#9cb947"/>
<path d="M526.3 503.1h1.9v1.9h-1.9z" fill="#9db947"/>
<path d="M525.5 505.8h1.9v1.9h-1.9z" fill="#9eb947"/>
<path d="M527.4 504.9h1.9v1.9h-1.9z" fill="#9fb946"/>
<path d="M527.5 504.8h1.9v1.9h-1.9z" fill="#a0b946"/>
<path d="M526.5 503.4h1.9v1.9h-1.9z" fill="#a1b945"/>
<path d="M526.8 503.8h1.9v1.9h-1.9zM526.0 504.5h1.9v1.9h-1.9z" fill="#a2b945"/>
<path d="M527.4 504.8h1.9v1.9h-1.9z" fill="#a3b945"/>
<path d="M525.6 503.5h1.9v1.9h-1.9z" fill="#a4b944"/>
<path d="M524.1 503.5h1.9v1.9h-1.9z" fill="#a5b944"/>
<path d="M524.8 505.5h1.9v1.9h-1.9z" fill="#a6b944"/>
<path d="M525.3 504.4h1.9v1.9h-1.9z" fill="#a7b943"/>
<path d="M523.3 506.5h1.9v1.9h-1.9z" fill="#a8b943"/>
<path d="M524.1 503.7h1.9v1.9h-1.9z" fill="#a9b943"/>
<path d="M523.8 505.2h1.9v1.9h-1.9z" fill="#a9b942"/>
<path d="M523.5 504.9h1.9v1.9h-1.9z" fill="#aab942"/>
<path d="M522.0 506.7h1.9v1.9h-1.9z" fill="#abb942"/>
<path d="M519.8 507.0h1.9v1.9h-1.9z" fill="#acb941"/>
<path d="M521.4 505.7h1.9v1.9h-1.9z" fill="#adb941"/>
<path d="M521.7 504.1h1.9v1.9h-1.9z" fill="#aeb941"/>
<path d="M519.3 505.2h1.9v1.9h-1.9zM520.4 505.7h1.9v1.9h-1.9z" fill="#afb940"/>
<path d="M521.9 505.2h1.9v1.9h-1.9z" fill="#b0b840"/>
<path d="M518.3 504.4h1.9v1.9h-1.9z" fill="#b1b83f"/>
<path d="M522.2 505.6h1.9v1.9h-1.9z" fill="#b2b83f"/>
<path d="M521.5 504.9h1.9v1.9h-1.9z" fill="#b3b83e"/>
<path d="M521.2 506.1h1.9v1.9h-1.9z" fill="#b4b83e"/>
<path d="M522.7 506.6h1.9v1.9h-1.9z" fill="#b5b83e"/>
<path d="M521.5 505.2h1.9v1.9h-1.9z" fill="#b5b83d"/>
<path d="M519.4 506.3h1.9v1.9h-1.9z" fill="#b6b83d"/>
<path d="M519.6 506.4h1.9v1.9h-1.9zM519.1 505.1h1.9v1.9h-1.9z" fill="#b7b83d"/>
<path d="M520.1 507.3h1.9v1.9h-1.9z" fill="#b8b83c"/>
<path d="M518.6 506.4h1.9v1.9h-1.9z" fill="#b9b83c"/>
<path d="M522.1 506.9h1.9v1.9h-1.9z" fill="#bab83b"/>
<path d="M520.0 504.9h1.9v1.9h-1.9z" fill="#bbb83b"/>
<path d="M520.7 505.9h1.9v1.9h-1.9z" fill="#bdb83b"/>
<path d="M518.6 507.9h1.9v1.9h-1.9z" fill="#beb83a"/>
<path d="M518.9 507.5h1.9v1.9h-1.9zM518.3 508.7h1.9v1.9h-1.9z" fill="#bfb83a"/>
<path d="M518.2 507.4h1.9v1.9h-1.9z" fill="#c0b73a"/>
<path d="M517.7 507.3h1.9v1.9h-1.9z" fill="#c1b739"/>
<path d="M519.1 507.4h1.9v1.9h-1.9z" fill="#c2b739"/>
<path d="M516.9 508.5h1.9v1.9h-1.9z" fill="#c3b739"/>
<path d="M516.2 506.1h1.9v1.9h-1.9z" fill="#c4b739"/>
<path d="M518.1 507.7h1.9v1.9h-1.9z" fill="#c4b639"/>
<path d="M514.5 508.4h1.9v1.9h-1.9z" fill="#c5b639"/>
<path d="M515.1 510.5h1.9v1.9h-1.9z" fill="#c6b638"/>
<path d="M515.3 511.1h1.9v1.9h-1.9z" fill="#c7b638"/>
<path d="M515.1 510.8h1.9v1.9h-1.9z" fill="#c8b638"/>
<path d="M516.5 510.8h1.9v1.9h-1.9zM514.7 507.9h1.9v1.9h-1.9zM517.5 508.1h1.9v1.9h-1.9z" fill="#c9b538"/>
<path d="M514.7 512.3h1.9v1.9h-1.9z" fill="#cab538"/>
<path d="M515.4 509.2h1.9v1.9h-1.9z" fill="#cbb538"/>
<path d="M514.8 512.4h1.9v1.9h-1.9z" fill="#ccb537"/>
<path d="M513.4 511.3h1.9v1.9h-1.9z" fill="#ccb437"/>
<path d="M514.7 509.8h1.9v1.9h-1.9z" fill="#cdb437"/>
<path d="M514.0 511.5h1.9v1.9h-1.9zM512.7 510.9h1.9v1.9h-1.9z" fill="#ceb437"/>
<path d="M512.6 512.5h1.9v1.9h-1.9z" fill="#cfb437"/>
<path d="M513.6 511.1h1.9v1.9h-1.9z" fill="#d0b437"/>
<path d="M511.9 513.0h1.9v1.9h-1.9z" fill="#d0b337"/>
<path d="M509.5 510.4h1.9v1.9h-1.9z" fill="#d1b336"/>
<path d="M511.6 511.8h1.9v1.9h-1.9z" fill="#d2b336"/>
<path d="M512.4 513.5h1.9v1.9h-1.9zM512.6 513.0h1.9v1.9h-1.9zM512.9 513.5h1.9v1.9h-1.9z" fill="#d3b336"/>
<path d="M513.2 515.4h1.9v1.9h-1.9z" fill="#d4b336"/>
<path d="M511.8 513.1h1.9v1.9h-1.9z" fill="#d4b236"/>
<path d="M512.3 513.6h1.9v1.9h-1.9zM510.8 510.6h1.9v1.9h-1.9zM509.6 512.3h1.9v1.9h-1.9z" fill="#d5b236"/>
<path d="M510.4 514.0h1.9v1.9h-1.9z" fill="#d6b236"/>
<path d="M509.6 514.5h1.9v1.9h-1.9zM510.3 516.5h1.9v1.9h-1.9z" fill="#d6b235"/>
<path d="M510.2 513.0h1.9v1.9h-1.9zM509.1 515.1h1.9v1.9h-1.9z" fill="#d7b235"/>
<path d="M509.7 515.2h1.9v1.9h-1.9z" fill="#d8b235"/>
<path d="M509.0 515.3h1.9v1.9h-1.9zM506.4 513.6h1.9v1.9h-1.9z" fill="#d8b135"/>
<path d="M508.0 516.9h1.9v1.9h-1.9zM509.0 516.0h1.9v1.9h-1.9z" fill="#d9b135"/>
<path d="M508.5 517.3h1.9v1.9h-1.9zM506.5 515.1h1.9v1.9h-1.9zM506.6 516.8h1.9v1.9h-1.9z" fill="#dab135"/>
<path d="M506.4 515.5h1.9v1.9h-1.9zM507.0 515.0h1.9v1.9h-1.9zM507.2 518.0h1.9v1.9h-1.9z" fill="#dbb135"/>
<path d="M506.7 516.5h1.9v1.9h-1.9zM507.1 517.6h1.9v1.9h-1.9z" fill="#dcb134"/>
<path d="M503.3 514.8h1.9v1.9h-1.9z" fill="#dcb034"/>
<path d="M507.2 519.0h1.9v1.9h-1.9zM504.7 516.7h1.9v1.9h-1.9zM505.1 515.7h1.9v1.9h-1.9z" fill="#ddb034"/>
<path d="M503.2 516.6h1.9v1.9h-1.9zM504.5 517.0h1.9v1.9h-1.9zM504.5 518.4h1.9v1.9h-1.9zM504.6 519.5h1.9v1.9h-1.9zM502.3 517.7h1.9v1.9h-1.9z" fill="#deb034"/>
<path d="M502.4 516.4h1.9v1.9h-1.9zM504.4 519.1h1.9v1.9h-1.9z" fill="#dfb034"/>
<path d="M501.3 519.2h1.9v1.9h-1.9zM508.4 521.8h1.9v1.9h-1.9z" fill="#dfaf34"/>
<path d="M504.2 519.8h1.9v1.9h-1.9z" fill="#dfaf35"/>
<path d="M513.1 523.0h1.9v1.9h-1.9zM506.2 520.4h1.9v1.9h-1.9zM505.2 520.4h1.9v1.9h-1.9zM507.1 521.2h1.9v1.9h-1.9zM516.7 525.8h1.9v1.9h-1.9zM507.3 523.1h1.9v1.9h-1.9zM509.7 522.3h1.9v1.9h-1.9zM508.4 524.0h1.9v1.9h-1.9z" fill="#e0af35"/>
<path d="M509.9 523.1h1.9v1.9h-1.9zM520.4 527.5h1.9v1.9h-1.9zM512.1 524.3h1.9v1.9h-1.9zM512.6 523.3h1.9v1.9h-1.9zM514.5 524.2h1.9v1.9h-1.9zM523.5 530.2h1.9v1.9h-1.9zM514.5 525.9h1.9v1.9h-1.9z" fill="#e1ae35"/>
<path d="M515.0 525.2h1.9v1.9h-1.9zM517.1 524.7h1.9v1.9h-1.9zM526.6 532.5h1.9v1.9h-1.9zM518.6 526.0h1.9v1.9h-1.9zM518.8 527.0h1.9v1.9h-1.9zM520.7 527.5h1.9v1.9h-1.9zM529.4 535.7h1.9v1.9h-1.9z" fill="#e2ae36"/>
<path d="M521.3 527.3h1.9v1.9h-1.9z" fill="#e2ad36"/>
<path d="M522.0 529.0h1.9v1.9h-1.9zM523.0 530.2h1.9v1.9h-1.9zM532.4 536.4h1.9v1.9h-1.9zM523.1 530.4h1.9v1.9h-1.9zM524.3 530.6h1.9v1.9h-1.9zM525.6 530.6h1.9v1.9h-1.9zM525.8 532.6h1.9v1.9h-1.9z" fill="#e3ad36"/>
<path d="M535.8 538.5h1.9v1.9h-1.9zM527.2 532.2h1.9v1.9h-1.9z" fill="#e4ad36"/>
<path d="M528.0 533.1h1.9v1.9h-1.9zM529.1 533.2h1.9v1.9h-1.9zM539.7 541.6h1.9v1.9h-1.9z" fill="#e4ad37"/>
<path d="M529.6 534.9h1.9v1.9h-1.9zM530.0 535.7h1.9v1.9h-1.9z" fill="#e4ac37"/>
<path d="M531.7 536.6h1.9v1.9h-1.9zM544.3 542.8h1.9v1.9h-1.9zM531.7 536.4h1.9v1.9h-1.9zM533.0 536.4h1.9v1.9h-1.9zM534.3 538.2h1.9v1.9h-1.9zM547.3 545.0h1.9v1.9h-1.9zM535.1 537.4h1.9v1.9h-1.9zM536.1 537.6h1.9v1.9h-1.9z" fill="#e5ac37"/>
<path d="M536.4 538.2h1.9v1.9h-1.9zM538.7 539.5h1.9v1.9h-1.9zM549.5 547.5h1.9v1.9h-1.9z" fill="#e6ac37"/>
<path d="M538.4 540.9h1.9v1.9h-1.9z" fill="#e6ab37"/>
<path d="M551.9 550.4h1.9v1.9h-1.9z" fill="#e6ab38"/>
<path d="M555.2 550.4h1.9v1.9h-1.9z" fill="#e7ab38"/>
<path d="M561.5 552.2h1.9v1.9h-1.9z" fill="#e8ab38"/>
<path d="M567.0 554.8h1.9v1.9h-1.9z" fill="#e8aa38"/>
<path d="M569.7 556.2h1.9v1.9h-1.9zM575.1 557.2h1.9v1.9h-1.9z" fill="#e9aa39"/>
<path d="M582.7 558.5h1.9v1.9h-1.9zM583.9 558.4h1.9v1.9h-1.9zM585.2 559.1h1.9v1.9h-1.9zM586.6 559.5h1.9v1.9h-1.9zM590.3 560.7h1.9v1.9h-1.9zM590.4 562.0h1.9v1.9h-1.9zM589.8 561.8h1.9v1.9h-1.9zM590.8 561.4h1.9v1.9h-1.9zM591.5 561.3h1.9v1.9h-1.9zM591.7 561.6h1.9v1.9h-1.9zM592.0 562.0h1.9v1.9h-1.9zM591.9 562.2h1.9v1.9h-1.9zM592.3 562.0h1.9v1.9h-1.9zM592.5 562.5h1.9v1.9h-1.9zM592.6 562.6h1.9v1.9h-1.9zM593.0 563.3h1.9v1.9h-1.9zM593.4 562.8h1.9v1.9h-1.9zM593.6 563.1h1.9v1.9h-1.9zM594.1 563.7h1.9v1.9h-1.9zM593.9 563.4h1.9v1.9h-1.9zM593.8 564.2h1.9v1.9h-1.9zM594.6 564.3h1.9v1.9h-1.9zM594.2 564.0h1.9v1.9h-1.9zM594.7 565.2h1.9v1.9h-1.9zM595.8 564.6h1.9v1.9h-1.9zM596.2 564.3h1.9v1.9h-1.9zM596.6 564.9h1.9v1.9h-1.9zM596.2 564.6h1.9v1.9h-1.9zM596.0 564.9h1.9v1.9h-1.9zM598.0 565.1h1.9v1.9h-1.9zM596.4 565.8h1.9v1.9h-1.9zM596.6 564.8h1.9v1.9h-1.9zM595.4 565.2h1.9v1.9h-1.9zM594.3 566.0h1.9v1.9h-1.9zM596.0 566.8h1.9v1.9h-1.9zM595.7 565.9h1.9v1.9h-1.9z" fill="#e3202e"/>
<path d="M592.9 566.2h1.9v1.9h-1.9zM590.7 564.2h1.9v1.9h-1.9zM591.9 565.1h1.9v1.9h-1.9z" fill="#f1bb35"/>
<path d="M589.9 565.4h1.9v1.9h-1.9zM591.4 566.3h1.9v1.9h-1.9zM591.0 565.4h1.9v1.9h-1.9z" fill="#f1bc35"/>
<path d="M590.7 565.4h1.9v1.9h-1.9zM589.2 566.3h1.9v1.9h-1.9z" fill="#f1bd35"/>
<path d="M590.0 564.2h1.9v1.9h-1.9zM589.1 566.8h1.9v1.9h-1.9z" fill="#f1be35"/>
<path d="M589.9 565.9h1.9v1.9h-1.9z" fill="#f1be34"/>
<path d="M589.3 566.0h1.9v1.9h-1.9zM589.0 564.7h1.9v1.9h-1.9zM589.0 564.8h1.9v1.9h-1.9z" fill="#f1bf34"/>
<path d="M588.3 565.9h1.9v1.9h-1.9zM587.8 566.2h1.9v1.9h-1.9z" fill="#f1c034"/>
<path d="M589.4 565.1h1.9v1.9h-1.9zM587.0 567.1h1.9v1.9h-1.9zM587.0 566.2h1.9v1.9h-1.9z" fill="#f1c134"/>
<path d="M587.4 566.1h1.9v1.9h-1.9z" fill="#f1c234"/>
<path d="M586.1 565.4h1.9v1.9h-1.9zM585.1 566.5h1.9v1.9h-1.9z" fill="#f1c233"/>
<path d="M583.5 565.3h1.9v1.9h-1.9z" fill="#f1c333"/>
<path d="M585.2 566.4h1.9v1.9h-1.9z" fill="#f2c333"/>
<path d="M585.1 567.5h1.9v1.9h-1.9zM586.0 566.6h1.9v1.9h-1.9zM584.5 565.0h1.9v1.9h-1.9z" fill="#f2c433"/>
<path d="M583.9 566.5h1.9v1.9h-1.9zM582.9 566.2h1.9v1.9h-1.9zM584.5 566.6h1.9v1.9h-1.9z" fill="#f2c533"/>
<path d="M583.5 567.8h1.9v1.9h-1.9z" fill="#f2c633"/>
<path d="M582.9 566.4h1.9v1.9h-1.9z" fill="#f2c632"/>
<path d="M584.0 567.6h1.9v1.9h-1.9zM584.1 568.2h1.9v1.9h-1.9zM583.8 567.2h1.9v1.9h-1.9z" fill="#f2c732"/>
<path d="M582.7 567.8h1.9v1.9h-1.9zM583.2 567.0h1.9v1.9h-1.9z" fill="#f2c832"/>
<path d="M577.7 567.0h1.9v1.9h-1.9z" fill="#f0d134"/>
<path d="M579.1 567.9h1.9v1.9h-1.9zM576.8 567.6h1.9v1.9h-1.9z" fill="#f0d235"/>
<path d="M578.9 567.3h1.9v1.9h-1.9z" fill="#f0d335"/>
<path d="M576.3 569.4h1.9v1.9h-1.9z" fill="#efd335"/>
<path d="M578.3 570.9h1.9v1.9h-1.9z" fill="#efd435"/>
<path d="M576.6 569.8h1.9v1.9h-1.9zM578.5 570.7h1.9v1.9h-1.9z" fill="#efd536"/>
<path d="M576.4 570.5h1.9v1.9h-1.9zM579.0 570.8h1.9v1.9h-1.9z" fill="#efd636"/>
<path d="M578.1 567.3h1.9v1.9h-1.9z" fill="#efd736"/>
<path d="M578.9 567.1h1.9v1.9h-1.9z" fill="#efd836"/>
<path d="M580.8 570.3h1.9v1.9h-1.9z" fill="#eed836"/>
<path d="M577.4 568.2h1.9v1.9h-1.9zM579.9 571.4h1.9v1.9h-1.9z" fill="#eed937"/>
<path d="M578.6 571.7h1.9v1.9h-1.9zM580.1 569.2h1.9v1.9h-1.9zM579.2 568.8h1.9v1.9h-1.9z" fill="#eeda37"/>
<path d="M580.6 569.7h1.9v1.9h-1.9z" fill="#eddb37"/>
<path d="M580.4 570.5h1.9v1.9h-1.9zM577.4 570.4h1.9v1.9h-1.9z" fill="#eddb38"/>
<path d="M577.2 569.1h1.9v1.9h-1.9zM579.6 569.5h1.9v1.9h-1.9z" fill="#eddc38"/>
<path d="M579.8 567.8h1.9v1.9h-1.9zM577.8 567.6h1.9v1.9h-1.9zM576.9 567.6h1.9v1.9h-1.9z" fill="#ecdc38"/>
<path d="M579.1 570.7h1.9v1.9h-1.9zM578.5 570.1h1.9v1.9h-1.9z" fill="#ecdd38"/>
<path d="M577.5 570.3h1.9v1.9h-1.9z" fill="#ebdd39"/>
<path d="M579.5 570.1h1.9v1.9h-1.9zM578.1 570.2h1.9v1.9h-1.9zM578.2 567.3h1.9v1.9h-1.9zM576.6 568.8h1.9v1.9h-1.9z" fill="#ebde39"/>
<path d="M579.2 569.7h1.9v1.9h-1.9z" fill="#eade39"/>
<path d="M576.7 570.3h1.9v1.9h-1.9z" fill="#eadf39"/>
<path d="M584.7 558.5h1.9v1.9h-1.9zM579.2 569.5h1.9v1.9h-1.9zM583.2 559.2h1.9v1.9h-1.9zM577.3 568.0h1.9v1.9h-1.9zM583.5 561.0h1.9v1.9h-1.9z" fill="#eadf3a"/>
<path d="M579.1 568.6h1.9v1.9h-1.9zM584.1 560.2h1.9v1.9h-1.9z" fill="#eae03a"/>
<path d="M583.1 560.4h1.9v1.9h-1.9zM579.3 567.3h1.9v1.9h-1.9zM582.2 561.3h1.9v1.9h-1.9zM576.0 569.2h1.9v1.9h-1.9zM583.0 560.6h1.9v1.9h-1.9zM582.4 560.2h1.9v1.9h-1.9zM578.5 567.9h1.9v1.9h-1.9zM582.0 560.0h1.9v1.9h-1.9zM577.1 570.7h1.9v1.9h-1.9z" fill="#e9e03a"/>
<path d="M580.4 561.5h1.9v1.9h-1.9zM576.9 568.2h1.9v1.9h-1.9zM581.7 560.8h1.9v1.9h-1.9z" fill="#e9e13a"/>
<path d="M581.8 561.1h1.9v1.9h-1.9zM578.7 568.7h1.9v1.9h-1.9z" fill="#e8e13a"/>
<path d="M582.2 561.0h1.9v1.9h-1.9zM577.4 568.7h1.9v1.9h-1.9zM581.2 561.3h1.9v1.9h-1.9z" fill="#e8e13b"/>
<path d="M581.0 560.8h1.9v1.9h-1.9zM581.2 562.9h1.9v1.9h-1.9zM579.9 561.6h1.9v1.9h-1.9zM581.0 561.7h1.9v1.9h-1.9z" fill="#e8e23b"/>
<path d="M580.1 561.6h1.9v1.9h-1.9zM579.4 562.2h1.9v1.9h-1.9z" fill="#e7e23b"/>
<path d="M579.8 563.7h1.9v1.9h-1.9zM578.5 562.9h1.9v1.9h-1.9zM579.8 563.3h1.9v1.9h-1.9z" fill="#e7e33b"/>
<path d="M579.5 562.2h1.9v1.9h-1.9zM579.9 565.5h1.9v1.9h-1.9z" fill="#e7e33c"/>
<path d="M581.0 564.9h1.9v1.9h-1.9z" fill="#e6e33c"/>
<path d="M580.3 564.7h1.9v1.9h-1.9zM579.4 565.6h1.9v1.9h-1.9zM580.1 564.8h1.9v1.9h-1.9z" fill="#e6e43c"/>
</svg></body></html>
